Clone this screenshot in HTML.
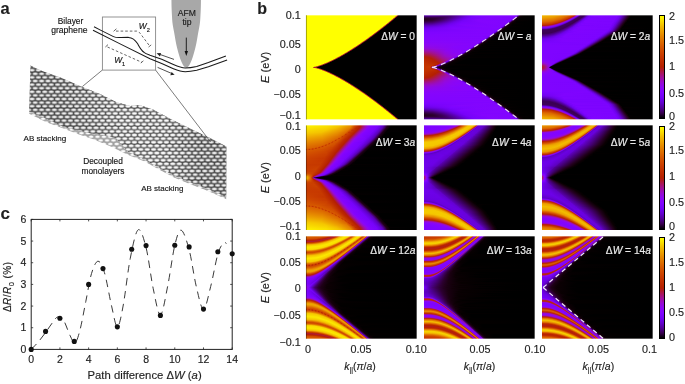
<!DOCTYPE html>
<html><head><meta charset="utf-8"><style>
html,body{margin:0;padding:0;background:#fff;}
body{width:685px;height:384px;overflow:hidden;position:relative;font-family:"Liberation Sans", sans-serif;}
.hm{position:absolute;}
.hm i{display:block;height:1px;}
.cb{position:absolute;width:6.7px;box-sizing:border-box;border:0.8px solid #000;}
svg{position:absolute;left:0;top:0;will-change:transform;}
svg text{stroke:#1e1e1e;stroke-width:0.15px;}
svg text.w{stroke:#e8e8e8;stroke-width:0.2px;}
</style></head><body>
<div class="hm" style="left:306px;top:15px;width:111px;height:105px"><i style="background:linear-gradient(90deg,#ffff55 0.5px,#ffff55 89.5px,#f6e659 90.5px,#ca6770 91.5px,#695859 92.5px,#555555 93.5px,#555555 109.5px,#8e8e8e 110.5px)"></i><i style="background:linear-gradient(90deg,#ffff00 0.5px,#ffff00 88.5px,#e5b30d 89.5px,#a5321f 90.5px,#270609 91.5px,#000000 92.5px,#000000 109.5px,#555555 110.5px)"></i><i style="background:linear-gradient(90deg,#ffff00 0.5px,#ffff00 87.5px,#e5b30d 88.5px,#9c1823 89.5px,#140304 90.5px,#000000 91.5px,#000000 109.5px,#555555 110.5px)"></i><i style="background:linear-gradient(90deg,#ffff00 0.5px,#ffff00 86.5px,#ca671b 87.5px,#75121b 88.5px,#000000 89.5px,#000000 109.5px,#555555 110.5px)"></i><i style="background:linear-gradient(90deg,#ffff00 0.5px,#ffff00 84.5px,#f6e604 85.5px,#ca671b 86.5px,#620f16 87.5px,#000000 88.5px,#000000 109.5px,#555555 110.5px)"></i><i style="background:linear-gradient(90deg,#ffff00 0.5px,#ffff00 83.5px,#f6e604 84.5px,#b93523 85.5px,#3b090d 86.5px,#000000 87.5px,#000000 109.5px,#555555 110.5px)"></i><i style="background:linear-gradient(90deg,#ffff00 0.5px,#ffff00 82.5px,#e5b30d 83.5px,#9c1823 84.5px,#270609 85.5px,#000000 86.5px,#000000 109.5px,#555555 110.5px)"></i><i style="background:linear-gradient(90deg,#ffff00 0.5px,#ffff00 81.5px,#dc9a12 82.5px,#89151f 83.5px,#140304 84.5px,#000000 85.5px,#000000 109.5px,#555555 110.5px)"></i><i style="background:linear-gradient(90deg,#ffff00 0.5px,#ffff00 80.5px,#ca671b 81.5px,#75121b 82.5px,#000000 83.5px,#000000 109.5px,#555555 110.5px)"></i><i style="background:linear-gradient(90deg,#ffff00 0.5px,#ffff00 78.5px,#f6e604 79.5px,#b93523 80.5px,#3b090d 81.5px,#000000 82.5px,#000000 109.5px,#555555 110.5px)"></i><i style="background:linear-gradient(90deg,#ffff00 0.5px,#ffff00 77.5px,#e5b30d 78.5px,#a5321f 79.5px,#270609 80.5px,#000000 81.5px,#000000 109.5px,#555555 110.5px)"></i><i style="background:linear-gradient(90deg,#ffff00 0.5px,#ffff00 76.5px,#d38116 77.5px,#89151f 78.5px,#140304 79.5px,#000000 80.5px,#000000 109.5px,#555555 110.5px)"></i><i style="background:linear-gradient(90deg,#ffff00 0.5px,#ffff00 74.5px,#f6e604 75.5px,#ca671b 76.5px,#620f16 77.5px,#000000 78.5px,#000000 109.5px,#555555 110.5px)"></i><i style="background:linear-gradient(90deg,#ffff00 0.5px,#ffff00 73.5px,#edcc09 74.5px,#b93523 75.5px,#3b090d 76.5px,#000000 77.5px,#000000 109.5px,#555555 110.5px)"></i><i style="background:linear-gradient(90deg,#ffff00 0.5px,#ffff00 72.5px,#e5b30d 73.5px,#9c1823 74.5px,#140304 75.5px,#000000 76.5px,#000000 109.5px,#555555 110.5px)"></i><i style="background:linear-gradient(90deg,#ffff00 0.5px,#ffff00 71.5px,#ca671b 72.5px,#75121b 73.5px,#000000 74.5px,#000000 109.5px,#555555 110.5px)"></i><i style="background:linear-gradient(90deg,#ffff00 0.5px,#ffff00 69.5px,#f6e604 70.5px,#b93523 71.5px,#4e0c12 72.5px,#000000 73.5px,#000000 109.5px,#555555 110.5px)"></i><i style="background:linear-gradient(90deg,#ffff00 0.5px,#ffff00 68.5px,#e5b30d 69.5px,#9c1823 70.5px,#270609 71.5px,#000000 72.5px,#000000 109.5px,#555555 110.5px)"></i><i style="background:linear-gradient(90deg,#ffff00 0.5px,#ffff00 67.5px,#ca671b 68.5px,#75121b 69.5px,#140304 70.5px,#000000 71.5px,#000000 109.5px,#555555 110.5px)"></i><i style="background:linear-gradient(90deg,#ffff00 0.5px,#ffff00 65.5px,#f6e604 66.5px,#b93523 67.5px,#4e0c12 68.5px,#000000 69.5px,#000000 109.5px,#555555 110.5px)"></i><i style="background:linear-gradient(90deg,#ffff00 0.5px,#ffff00 64.5px,#e5b30d 65.5px,#9c1823 66.5px,#270609 67.5px,#000000 68.5px,#000000 109.5px,#555555 110.5px)"></i><i style="background:linear-gradient(90deg,#ffff00 0.5px,#ffff00 62.5px,#f6e604 63.5px,#ca671b 64.5px,#75121b 65.5px,#140304 66.5px,#000000 67.5px,#000000 109.5px,#555555 110.5px)"></i><i style="background:linear-gradient(90deg,#ffff00 0.5px,#ffff00 61.5px,#edcc09 62.5px,#b93523 63.5px,#3b090d 64.5px,#000000 65.5px,#000000 109.5px,#555555 110.5px)"></i><i style="background:linear-gradient(90deg,#ffff00 0.5px,#ffff00 60.5px,#dc9a12 61.5px,#9c1823 62.5px,#140304 63.5px,#000000 64.5px,#000000 109.5px,#555555 110.5px)"></i><i style="background:linear-gradient(90deg,#ffff00 0.5px,#ffff00 58.5px,#f6e604 59.5px,#c14e1f 60.5px,#620f16 61.5px,#000000 62.5px,#000000 109.5px,#555555 110.5px)"></i><i style="background:linear-gradient(90deg,#ffff00 0.5px,#ffff00 57.5px,#e5b30d 58.5px,#a5321f 59.5px,#3b090d 60.5px,#000000 61.5px,#000000 109.5px,#555555 110.5px)"></i><i style="background:linear-gradient(90deg,#ffff00 0.5px,#ffff00 55.5px,#f6e604 56.5px,#ca671b 57.5px,#75121b 58.5px,#140304 59.5px,#000000 60.5px,#000000 109.5px,#555555 110.5px)"></i><i style="background:linear-gradient(90deg,#ffff00 0.5px,#ffff00 54.5px,#e5b30d 55.5px,#a5321f 56.5px,#3b090d 57.5px,#000000 58.5px,#000000 109.5px,#555555 110.5px)"></i><i style="background:linear-gradient(90deg,#ffff00 0.5px,#ffff00 53.5px,#d38116 54.5px,#89151f 55.5px,#140304 56.5px,#000000 57.5px,#000000 109.5px,#555555 110.5px)"></i><i style="background:linear-gradient(90deg,#ffff00 0.5px,#ffff00 51.5px,#edcc09 52.5px,#b93523 53.5px,#4e0c12 54.5px,#000000 55.5px,#000000 109.5px,#555555 110.5px)"></i><i style="background:linear-gradient(90deg,#ffff00 0.5px,#ffff00 50.5px,#d38116 51.5px,#89151f 52.5px,#140304 53.5px,#000000 54.5px,#000000 109.5px,#555555 110.5px)"></i><i style="background:linear-gradient(90deg,#ffff00 0.5px,#ffff00 48.5px,#edcc09 49.5px,#b93523 50.5px,#4e0c12 51.5px,#000000 52.5px,#000000 109.5px,#555555 110.5px)"></i><i style="background:linear-gradient(90deg,#ffff00 0.5px,#ffff00 46.5px,#f6e604 47.5px,#ca671b 48.5px,#89151f 49.5px,#140304 50.5px,#000000 51.5px,#000000 109.5px,#555555 110.5px)"></i><i style="background:linear-gradient(90deg,#ffff00 0.5px,#ffff00 45.5px,#e5b30d 46.5px,#a5321f 47.5px,#4e0c12 48.5px,#000000 49.5px,#000000 109.5px,#555555 110.5px)"></i><i style="background:linear-gradient(90deg,#ffff00 0.5px,#ffff00 43.5px,#f6e604 44.5px,#ca671b 45.5px,#75121b 46.5px,#140304 47.5px,#000000 48.5px,#000000 109.5px,#555555 110.5px)"></i><i style="background:linear-gradient(90deg,#ffff00 0.5px,#ffff00 42.5px,#dc9a12 43.5px,#9c1823 44.5px,#3b090d 45.5px,#000000 46.5px,#000000 109.5px,#555555 110.5px)"></i><i style="background:linear-gradient(90deg,#ffff00 0.5px,#ffff00 40.5px,#edcc09 41.5px,#b93523 42.5px,#620f16 43.5px,#000000 44.5px,#000000 109.5px,#555555 110.5px)"></i><i style="background:linear-gradient(90deg,#ffff00 0.5px,#ffff00 38.5px,#f6e604 39.5px,#d38116 40.5px,#89151f 41.5px,#140304 42.5px,#000000 43.5px,#000000 109.5px,#555555 110.5px)"></i><i style="background:linear-gradient(90deg,#ffff00 0.5px,#ffff00 37.5px,#dc9a12 38.5px,#9c1823 39.5px,#3b090d 40.5px,#000000 41.5px,#000000 109.5px,#555555 110.5px)"></i><i style="background:linear-gradient(90deg,#ffff00 0.5px,#ffff00 35.5px,#edcc09 36.5px,#b93523 37.5px,#620f16 38.5px,#000000 39.5px,#000000 109.5px,#555555 110.5px)"></i><i style="background:linear-gradient(90deg,#ffff00 0.5px,#ffff00 33.5px,#f6e604 34.5px,#c14e1f 35.5px,#75121b 36.5px,#140304 37.5px,#000000 38.5px,#000000 109.5px,#555555 110.5px)"></i><i style="background:linear-gradient(90deg,#ffff00 0.5px,#ffff00 31.5px,#f6e604 32.5px,#d38116 33.5px,#89151f 34.5px,#270609 35.5px,#000000 36.5px,#000000 109.5px,#555555 110.5px)"></i><i style="background:linear-gradient(90deg,#ffff00 0.5px,#ffff00 29.5px,#f6e604 30.5px,#d38116 31.5px,#9c1823 32.5px,#000000 34.5px,#000000 109.5px,#555555 110.5px)"></i><i style="background:linear-gradient(90deg,#ffff00 0.5px,#ffff00 28.5px,#dc9a12 29.5px,#a5321f 30.5px,#4e0c12 31.5px,#000000 32.5px,#000000 109.5px,#555555 110.5px)"></i><i style="background:linear-gradient(90deg,#ffff00 0.5px,#ffff00 26.5px,#dc9a12 27.5px,#a5321f 28.5px,#4e0c12 29.5px,#000000 30.5px,#000000 109.5px,#555555 110.5px)"></i><i style="background:linear-gradient(90deg,#ffff00 0.5px,#ffff00 24.5px,#dc9a12 25.5px,#a5321f 26.5px,#4e0c12 27.5px,#000000 28.5px,#000000 109.5px,#555555 110.5px)"></i><i style="background:linear-gradient(90deg,#ffff00 0.5px,#ffff00 21.5px,#f6e604 22.5px,#d38116 23.5px,#9c1823 24.5px,#000000 26.5px,#000000 109.5px,#555555 110.5px)"></i><i style="background:linear-gradient(90deg,#ffff00 0.5px,#ffff00 19.5px,#edcc09 20.5px,#d38116 21.5px,#9c1823 22.5px,#000000 24.5px,#000000 109.5px,#555555 110.5px)"></i><i style="background:linear-gradient(90deg,#ffff00 0.5px,#ffff00 17.5px,#dc9a12 18.5px,#c14e1f 19.5px,#89151f 20.5px,#270609 21.5px,#000000 22.5px,#000000 109.5px,#555555 110.5px)"></i><i style="background:linear-gradient(90deg,#ffff00 0.5px,#ffff00 14.5px,#edcc09 15.5px,#d38116 16.5px,#9c1823 17.5px,#620f16 18.5px,#140304 19.5px,#000000 20.5px,#000000 109.5px,#555555 110.5px)"></i><i style="background:linear-gradient(90deg,#ffff00 0.5px,#ffff00 11.5px,#edcc09 12.5px,#b93523 14.5px,#75121b 15.5px,#000000 17.5px,#000000 109.5px,#555555 110.5px)"></i><i style="background:linear-gradient(90deg,#ffff00 0.5px,#ffff00 7.5px,#edcc09 8.5px,#e5b30d 9.5px,#ca671b 10.5px,#b93523 11.5px,#75121b 12.5px,#000000 14.5px,#000000 109.5px,#555555 110.5px)"></i><i style="background:linear-gradient(90deg,#ffff00 0.5px,#ffff00 6.5px,#ca671b 7.5px,#b01b28 8.5px,#b01b28 9.5px,#89151f 10.5px,#270609 11.5px,#000000 12.5px,#000000 109.5px,#555555 110.5px)"></i><i style="background:linear-gradient(90deg,#ffff00 0.5px,#ffff00 8.5px,#f6e604 9.5px,#e5b30d 10.5px,#ca671b 11.5px,#b93523 12.5px,#75121b 13.5px,#000000 15.5px,#000000 109.5px,#555555 110.5px)"></i><i style="background:linear-gradient(90deg,#ffff00 0.5px,#ffff00 12.5px,#edcc09 13.5px,#b93523 15.5px,#620f16 16.5px,#270609 17.5px,#000000 18.5px,#000000 109.5px,#555555 110.5px)"></i><i style="background:linear-gradient(90deg,#ffff00 0.5px,#ffff00 15.5px,#ca671b 17.5px,#9c1823 18.5px,#000000 20.5px,#000000 109.5px,#555555 110.5px)"></i><i style="background:linear-gradient(90deg,#ffff00 0.5px,#ffff00 17.5px,#f6e604 18.5px,#dc9a12 19.5px,#b93523 20.5px,#620f16 21.5px,#140304 22.5px,#000000 23.5px,#000000 109.5px,#555555 110.5px)"></i><i style="background:linear-gradient(90deg,#ffff00 0.5px,#ffff00 20.5px,#e5b30d 21.5px,#c14e1f 22.5px,#89151f 23.5px,#270609 24.5px,#000000 25.5px,#000000 109.5px,#555555 110.5px)"></i><i style="background:linear-gradient(90deg,#ffff00 0.5px,#ffff00 22.5px,#edcc09 23.5px,#c14e1f 24.5px,#89151f 25.5px,#270609 26.5px,#000000 27.5px,#000000 109.5px,#555555 110.5px)"></i><i style="background:linear-gradient(90deg,#ffff00 0.5px,#ffff00 24.5px,#edcc09 25.5px,#ca671b 26.5px,#89151f 27.5px,#270609 28.5px,#000000 29.5px,#000000 109.5px,#555555 110.5px)"></i><i style="background:linear-gradient(90deg,#ffff00 0.5px,#ffff00 26.5px,#f6e604 27.5px,#ca671b 28.5px,#89151f 29.5px,#270609 30.5px,#000000 31.5px,#000000 109.5px,#555555 110.5px)"></i><i style="background:linear-gradient(90deg,#ffff00 0.5px,#ffff00 28.5px,#edcc09 29.5px,#c14e1f 30.5px,#89151f 31.5px,#270609 32.5px,#000000 33.5px,#000000 109.5px,#555555 110.5px)"></i><i style="background:linear-gradient(90deg,#ffff00 0.5px,#ffff00 30.5px,#edcc09 31.5px,#c14e1f 32.5px,#75121b 33.5px,#140304 34.5px,#000000 35.5px,#000000 109.5px,#555555 110.5px)"></i><i style="background:linear-gradient(90deg,#ffff00 0.5px,#ffff00 32.5px,#edcc09 33.5px,#b93523 34.5px,#620f16 35.5px,#140304 36.5px,#000000 37.5px,#000000 109.5px,#555555 110.5px)"></i><i style="background:linear-gradient(90deg,#ffff00 0.5px,#ffff00 34.5px,#dc9a12 35.5px,#a5321f 36.5px,#4e0c12 37.5px,#000000 38.5px,#000000 109.5px,#555555 110.5px)"></i><i style="background:linear-gradient(90deg,#ffff00 0.5px,#ffff00 35.5px,#f6e604 36.5px,#d38116 37.5px,#9c1823 38.5px,#270609 39.5px,#000000 40.5px,#000000 109.5px,#555555 110.5px)"></i><i style="background:linear-gradient(90deg,#ffff00 0.5px,#ffff00 37.5px,#f6e604 38.5px,#c14e1f 39.5px,#75121b 40.5px,#140304 41.5px,#000000 42.5px,#000000 109.5px,#555555 110.5px)"></i><i style="background:linear-gradient(90deg,#ffff00 0.5px,#ffff00 39.5px,#e5b30d 40.5px,#b93523 41.5px,#4e0c12 42.5px,#000000 43.5px,#000000 109.5px,#555555 110.5px)"></i><i style="background:linear-gradient(90deg,#ffff00 0.5px,#ffff00 41.5px,#d38116 42.5px,#9c1823 43.5px,#270609 44.5px,#000000 45.5px,#000000 109.5px,#555555 110.5px)"></i><i style="background:linear-gradient(90deg,#ffff00 0.5px,#ffff00 42.5px,#f6e604 43.5px,#c14e1f 44.5px,#620f16 45.5px,#140304 46.5px,#000000 47.5px,#000000 109.5px,#555555 110.5px)"></i><i style="background:linear-gradient(90deg,#ffff00 0.5px,#ffff00 44.5px,#dc9a12 45.5px,#a5321f 46.5px,#3b090d 47.5px,#000000 48.5px,#000000 109.5px,#555555 110.5px)"></i><i style="background:linear-gradient(90deg,#ffff00 0.5px,#ffff00 45.5px,#f6e604 46.5px,#ca671b 47.5px,#75121b 48.5px,#140304 49.5px,#000000 50.5px,#000000 109.5px,#555555 110.5px)"></i><i style="background:linear-gradient(90deg,#ffff00 0.5px,#ffff00 47.5px,#e5b30d 48.5px,#a5321f 49.5px,#4e0c12 50.5px,#000000 51.5px,#000000 109.5px,#555555 110.5px)"></i><i style="background:linear-gradient(90deg,#ffff00 0.5px,#ffff00 48.5px,#f6e604 49.5px,#ca671b 50.5px,#89151f 51.5px,#140304 52.5px,#000000 53.5px,#000000 109.5px,#555555 110.5px)"></i><i style="background:linear-gradient(90deg,#ffff00 0.5px,#ffff00 50.5px,#e5b30d 51.5px,#b93523 52.5px,#4e0c12 53.5px,#000000 54.5px,#000000 109.5px,#555555 110.5px)"></i><i style="background:linear-gradient(90deg,#ffff00 0.5px,#ffff00 51.5px,#f6e604 52.5px,#ca671b 53.5px,#75121b 54.5px,#140304 55.5px,#000000 56.5px,#000000 109.5px,#555555 110.5px)"></i><i style="background:linear-gradient(90deg,#ffff00 0.5px,#ffff00 53.5px,#e5b30d 54.5px,#a5321f 55.5px,#3b090d 56.5px,#000000 57.5px,#000000 109.5px,#555555 110.5px)"></i><i style="background:linear-gradient(90deg,#ffff00 0.5px,#ffff00 54.5px,#f6e604 55.5px,#ca671b 56.5px,#75121b 57.5px,#140304 58.5px,#000000 59.5px,#000000 109.5px,#555555 110.5px)"></i><i style="background:linear-gradient(90deg,#ffff00 0.5px,#ffff00 56.5px,#e5b30d 57.5px,#a5321f 58.5px,#3b090d 59.5px,#000000 60.5px,#000000 109.5px,#555555 110.5px)"></i><i style="background:linear-gradient(90deg,#ffff00 0.5px,#ffff00 57.5px,#f6e604 58.5px,#c14e1f 59.5px,#620f16 60.5px,#000000 61.5px,#000000 109.5px,#555555 110.5px)"></i><i style="background:linear-gradient(90deg,#ffff00 0.5px,#ffff00 59.5px,#dc9a12 60.5px,#9c1823 61.5px,#140304 62.5px,#000000 63.5px,#000000 109.5px,#555555 110.5px)"></i><i style="background:linear-gradient(90deg,#ffff00 0.5px,#ffff00 60.5px,#edcc09 61.5px,#b93523 62.5px,#4e0c12 63.5px,#000000 64.5px,#000000 109.5px,#555555 110.5px)"></i><i style="background:linear-gradient(90deg,#ffff00 0.5px,#ffff00 62.5px,#ca671b 63.5px,#75121b 64.5px,#140304 65.5px,#000000 66.5px,#000000 109.5px,#555555 110.5px)"></i><i style="background:linear-gradient(90deg,#ffff00 0.5px,#ffff00 63.5px,#e5b30d 64.5px,#9c1823 65.5px,#270609 66.5px,#000000 67.5px,#000000 109.5px,#555555 110.5px)"></i><i style="background:linear-gradient(90deg,#ffff00 0.5px,#ffff00 64.5px,#f6e604 65.5px,#c14e1f 66.5px,#4e0c12 67.5px,#000000 68.5px,#000000 109.5px,#555555 110.5px)"></i><i style="background:linear-gradient(90deg,#ffff00 0.5px,#ffff00 66.5px,#d38116 67.5px,#89151f 68.5px,#140304 69.5px,#000000 70.5px,#000000 109.5px,#555555 110.5px)"></i><i style="background:linear-gradient(90deg,#ffff00 0.5px,#ffff00 67.5px,#e5b30d 68.5px,#a5321f 69.5px,#3b090d 70.5px,#000000 71.5px,#000000 109.5px,#555555 110.5px)"></i><i style="background:linear-gradient(90deg,#ffff00 0.5px,#ffff00 68.5px,#f6e604 69.5px,#c14e1f 70.5px,#4e0c12 71.5px,#000000 72.5px,#000000 109.5px,#555555 110.5px)"></i><i style="background:linear-gradient(90deg,#ffff00 0.5px,#ffff00 70.5px,#d38116 71.5px,#75121b 72.5px,#140304 73.5px,#000000 74.5px,#000000 109.5px,#555555 110.5px)"></i><i style="background:linear-gradient(90deg,#ffff00 0.5px,#ffff00 71.5px,#e5b30d 72.5px,#9c1823 73.5px,#270609 74.5px,#000000 75.5px,#000000 109.5px,#555555 110.5px)"></i><i style="background:linear-gradient(90deg,#ffff00 0.5px,#ffff00 72.5px,#f6e604 73.5px,#b93523 74.5px,#4e0c12 75.5px,#000000 76.5px,#000000 109.5px,#555555 110.5px)"></i><i style="background:linear-gradient(90deg,#ffff00 0.5px,#ffff00 74.5px,#ca671b 75.5px,#75121b 76.5px,#000000 77.5px,#000000 109.5px,#555555 110.5px)"></i><i style="background:linear-gradient(90deg,#ffff00 0.5px,#ffff00 75.5px,#e5b30d 76.5px,#9c1823 77.5px,#140304 78.5px,#000000 79.5px,#000000 109.5px,#555555 110.5px)"></i><i style="background:linear-gradient(90deg,#ffff00 0.5px,#ffff00 76.5px,#edcc09 77.5px,#a5321f 78.5px,#3b090d 79.5px,#000000 80.5px,#000000 109.5px,#555555 110.5px)"></i><i style="background:linear-gradient(90deg,#ffff00 0.5px,#ffff00 77.5px,#f6e604 78.5px,#c14e1f 79.5px,#620f16 80.5px,#000000 81.5px,#000000 109.5px,#555555 110.5px)"></i><i style="background:linear-gradient(90deg,#ffff00 0.5px,#ffff00 79.5px,#ca671b 80.5px,#75121b 81.5px,#140304 82.5px,#000000 83.5px,#000000 109.5px,#555555 110.5px)"></i><i style="background:linear-gradient(90deg,#ffff00 0.5px,#ffff00 80.5px,#e5b30d 81.5px,#9c1823 82.5px,#140304 83.5px,#000000 84.5px,#000000 109.5px,#555555 110.5px)"></i><i style="background:linear-gradient(90deg,#ffff00 0.5px,#ffff00 81.5px,#edcc09 82.5px,#a5321f 83.5px,#3b090d 84.5px,#000000 85.5px,#000000 109.5px,#555555 110.5px)"></i><i style="background:linear-gradient(90deg,#ffff00 0.5px,#ffff00 82.5px,#f6e604 83.5px,#c14e1f 84.5px,#4e0c12 85.5px,#000000 86.5px,#000000 109.5px,#555555 110.5px)"></i><i style="background:linear-gradient(90deg,#ffff00 0.5px,#ffff00 84.5px,#ca671b 85.5px,#75121b 86.5px,#000000 87.5px,#000000 109.5px,#555555 110.5px)"></i><i style="background:linear-gradient(90deg,#ffff00 0.5px,#ffff00 85.5px,#dc9a12 86.5px,#9c1823 87.5px,#140304 88.5px,#000000 89.5px,#000000 109.5px,#555555 110.5px)"></i><i style="background:linear-gradient(90deg,#ffff00 0.5px,#ffff00 86.5px,#e5b30d 87.5px,#a5321f 88.5px,#270609 89.5px,#000000 90.5px,#000000 109.5px,#555555 110.5px)"></i><i style="background:linear-gradient(90deg,#ffff00 0.5px,#ffff00 87.5px,#f6e604 88.5px,#b93523 89.5px,#3b090d 90.5px,#000000 91.5px,#000000 109.5px,#555555 110.5px)"></i><i style="background:linear-gradient(90deg,#ffff00 0.5px,#ffff00 88.5px,#f6e604 89.5px,#ca671b 90.5px,#620f16 91.5px,#000000 92.5px,#000000 109.5px,#555555 110.5px)"></i><i style="background:linear-gradient(90deg,#ffffaa 0.5px,#ffffaa 90.5px,#e5b3b7 91.5px,#beadae 92.5px,#aaaaaa 93.5px,#aaaaaa 109.5px,#c6c6c6 110.5px)"></i></div>
<div class="hm" style="left:424px;top:15px;width:111px;height:105px"><i style="background:linear-gradient(90deg,#9055ca 0.5px,#8b55ba 14.5px,#8655aa 25.5px,#8c55bd 32.5px,#a056f5 46.5px,#aa58ff 57.5px,#ab58ff 91.5px,#a757fe 92.5px,#9d56ed 93.5px,#74557a 95.5px,#665560 96.5px,#595556 98.5px,#555555 109.5px,#8e8e8e 110.5px)"></i><i style="background:linear-gradient(90deg,#4a0081 0.5px,#420068 20.5px,#48007a 26.5px,#6e02ea 43.5px,#7c03fe 51.5px,#8305fe 76.5px,#8104ff 90.5px,#7b03fc 91.5px,#6901dc 92.5px,#2e0036 94.5px,#180010 95.5px,#0d0004 96.5px,#010000 100.5px,#000000 109.5px,#555555 110.5px)"></i><i style="background:linear-gradient(90deg,#370049 0.5px,#37004a 15.5px,#410065 22.5px,#6b01e5 40.5px,#7903fc 47.5px,#8305fe 66.5px,#8004ff 89.5px,#7703f7 90.5px,#6201c8 91.5px,#43006c 92.5px,#260027 93.5px,#14000b 94.5px,#050001 96.5px,#000000 109.5px,#555555 110.5px)"></i><i style="background:linear-gradient(90deg,#270025 0.5px,#2e0033 11.5px,#3c0058 19.5px,#6901e0 37.5px,#7703fa 44.5px,#8305fe 62.5px,#8204fe 87.5px,#7e04fe 88.5px,#7202ef 89.5px,#5901af 90.5px,#390053 91.5px,#20001b 92.5px,#110007 93.5px,#020000 96.5px,#000000 109.5px,#555555 110.5px)"></i><i style="background:linear-gradient(90deg,#23001f 0.5px,#2c002f 9.5px,#3e005e 18.5px,#6701db 34.5px,#7602f8 41.5px,#8205fe 54.5px,#8104ff 86.5px,#7b03fc 87.5px,#6c02e2 88.5px,#31003d 90.5px,#1a0013 91.5px,#0e0005 92.5px,#010000 96.5px,#000000 109.5px,#555555 110.5px)"></i><i style="background:linear-gradient(90deg,#290029 0.5px,#300038 8.5px,#400063 16.5px,#6801dd 32.5px,#7603f9 39.5px,#8305fe 54.5px,#8004ff 85.5px,#7803f9 86.5px,#6401ce 87.5px,#450074 88.5px,#29002b 89.5px,#16000d 90.5px,#060001 92.5px,#000000 109.5px,#555555 110.5px)"></i><i style="background:linear-gradient(90deg,#32003d 0.5px,#39004e 8.5px,#4b0083 17.5px,#6a01e0 30.5px,#7703f9 37.5px,#8305fe 56.5px,#8205fe 83.5px,#7e04fe 84.5px,#7302f1 85.5px,#5b01b5 86.5px,#3b0059 87.5px,#22001e 88.5px,#120008 89.5px,#020000 92.5px,#000000 109.5px,#555555 110.5px)"></i><i style="background:linear-gradient(90deg,#3c0058 0.5px,#43006a 8.5px,#5500a5 18.5px,#6d02e9 29.5px,#7a03fd 37.5px,#8305fe 61.5px,#8104ff 82.5px,#7c03fd 83.5px,#6d02e4 84.5px,#510097 85.5px,#320040 86.5px,#1b0014 87.5px,#0e0006 88.5px,#010000 92.5px,#000000 109.5px,#555555 110.5px)"></i><i style="background:linear-gradient(90deg,#470078 0.5px,#4d008a 8.5px,#6f02ec 27.5px,#7c03fe 36.5px,#8305fe 67.5px,#8004ff 81.5px,#7803f9 82.5px,#6401d0 83.5px,#460077 84.5px,#2a002d 85.5px,#16000d 86.5px,#060001 88.5px,#000000 103.5px,#000000 109.5px,#555555 110.5px)"></i><i style="background:linear-gradient(90deg,#520099 0.5px,#5600a9 8.5px,#7202f3 26.5px,#7f04ff 37.5px,#8205fe 79.5px,#7e04fe 80.5px,#7302f1 81.5px,#5b01b5 82.5px,#3c0059 83.5px,#22001f 84.5px,#120009 85.5px,#020000 88.5px,#000000 109.5px,#555555 110.5px)"></i><i style="background:linear-gradient(90deg,#5b01b7 0.5px,#6101ca 10.5px,#7602f8 25.5px,#8204fe 41.5px,#8104ff 78.5px,#7c03fd 79.5px,#6c02e2 80.5px,#320040 82.5px,#1c0014 83.5px,#0e0006 84.5px,#010000 88.5px,#000000 109.5px,#555555 110.5px)"></i><i style="background:linear-gradient(90deg,#6401d0 0.5px,#6b01e3 12.5px,#7a03fd 26.5px,#8305fe 55.5px,#8004ff 77.5px,#7703f8 78.5px,#6301cd 79.5px,#450074 80.5px,#29002c 81.5px,#16000d 82.5px,#060001 84.5px,#000000 99.5px,#000000 109.5px,#555555 110.5px)"></i><i style="background:linear-gradient(90deg,#6b01e3 0.5px,#7e04ff 28.5px,#8205fe 75.5px,#7e04fe 76.5px,#7202ef 77.5px,#5901af 78.5px,#3a0055 79.5px,#21001d 80.5px,#120008 81.5px,#020000 84.5px,#000000 109.5px,#555555 110.5px)"></i><i style="background:linear-gradient(90deg,#7102f0 0.5px,#8104ff 30.5px,#8104ff 74.5px,#7b03fc 75.5px,#6a02de 76.5px,#30003b 78.5px,#1b0013 79.5px,#0e0005 80.5px,#010000 84.5px,#000000 109.5px,#555555 110.5px)"></i><i style="background:linear-gradient(90deg,#7602f8 0.5px,#8305fe 42.5px,#8004ff 73.5px,#7603f6 74.5px,#6001c4 75.5px,#42006b 76.5px,#270028 77.5px,#15000c 78.5px,#060001 80.5px,#000000 97.5px,#000000 109.5px,#555555 110.5px)"></i><i style="background:linear-gradient(90deg,#7903fc 0.5px,#8305fe 59.5px,#8204fe 71.5px,#7d04fd 72.5px,#6f02e9 73.5px,#5501a4 74.5px,#37004c 75.5px,#1f0019 76.5px,#110007 77.5px,#020000 80.5px,#000000 109.5px,#555555 110.5px)"></i><i style="background:linear-gradient(90deg,#7c03fe 0.5px,#8305fe 69.5px,#7903fa 71.5px,#6601d4 72.5px,#49007f 73.5px,#2c0033 74.5px,#180010 75.5px,#0d0005 76.5px,#010000 80.5px,#000000 109.5px,#555555 110.5px)"></i><i style="background:linear-gradient(90deg,#7f04ff 0.5px,#8305fe 68.5px,#7f04fe 69.5px,#7302f0 70.5px,#5b01b6 71.5px,#3d005c 72.5px,#230021 73.5px,#13000a 74.5px,#030000 77.5px,#000000 109.5px,#555555 110.5px)"></i><i style="background:linear-gradient(90deg,#8004ff 0.5px,#8204fe 67.5px,#7b03fc 68.5px,#6b02df 69.5px,#31003f 71.5px,#1c0014 72.5px,#0f0006 73.5px,#010000 77.5px,#000000 109.5px,#555555 110.5px)"></i><i style="background:linear-gradient(90deg,#8204ff 0.5px,#8305fe 65.5px,#8004fe 66.5px,#7603f5 67.5px,#6001c3 68.5px,#42006b 69.5px,#270028 70.5px,#16000c 71.5px,#060001 73.5px,#000000 88.5px,#000000 109.5px,#555555 110.5px)"></i><i style="background:linear-gradient(90deg,#8205fe 0.5px,#8205fe 64.5px,#7c04fd 65.5px,#6e02e6 66.5px,#53009e 67.5px,#360049 68.5px,#1f0019 69.5px,#110007 70.5px,#020000 73.5px,#000000 109.5px,#555555 110.5px)"></i><i style="background:linear-gradient(90deg,#8305fe 0.5px,#8004fe 63.5px,#7703f8 64.5px,#6301cc 65.5px,#460076 66.5px,#2a002f 67.5px,#18000f 68.5px,#070001 70.5px,#000000 81.5px,#000000 109.5px,#555555 110.5px)"></i><i style="background:linear-gradient(90deg,#8405fd 0.5px,#8305fe 61.5px,#7d04fd 62.5px,#7002ea 63.5px,#5701a8 64.5px,#390052 65.5px,#21001d 66.5px,#120009 67.5px,#030000 70.5px,#000000 109.5px,#555555 110.5px)"></i><i style="background:linear-gradient(90deg,#8505fd 0.5px,#8104fe 60.5px,#7903f9 61.5px,#6501d2 62.5px,#49007e 63.5px,#2d0034 64.5px,#190011 65.5px,#0e0005 66.5px,#010000 70.5px,#000000 109.5px,#555555 110.5px)"></i><i style="background:linear-gradient(90deg,#8505fc 0.5px,#8305fe 58.5px,#7e04fe 59.5px,#7102ed 60.5px,#5801ad 61.5px,#3b0057 62.5px,#23001f 63.5px,#13000a 64.5px,#030000 67.5px,#000000 109.5px,#555555 110.5px)"></i><i style="background:linear-gradient(90deg,#8605fb 0.5px,#8104fe 57.5px,#7903f9 58.5px,#6601d4 59.5px,#2e0037 61.5px,#1a0012 62.5px,#0e0005 63.5px,#010000 67.5px,#000000 109.5px,#555555 110.5px)"></i><i style="background:linear-gradient(90deg,#8706fa 0.5px,#8305fe 55.5px,#7e04fe 56.5px,#7102ed 57.5px,#5901af 58.5px,#3b0059 59.5px,#230021 60.5px,#14000a 61.5px,#030000 64.5px,#000000 109.5px,#555555 110.5px)"></i><i style="background:linear-gradient(90deg,#8806f8 0.5px,#8204fe 54.5px,#7903f9 55.5px,#6601d3 56.5px,#2e0037 58.5px,#1a0013 59.5px,#0e0006 60.5px,#010000 64.5px,#000000 109.5px,#555555 110.5px)"></i><i style="background:linear-gradient(90deg,#8a06f6 0.5px,#8405fd 52.5px,#7e04fd 53.5px,#7002eb 54.5px,#5801ac 55.5px,#3b0057 56.5px,#230020 57.5px,#13000a 58.5px,#030000 61.5px,#000000 109.5px,#555555 110.5px)"></i><i style="background:linear-gradient(90deg,#8c07f2 0.5px,#8505fd 45.5px,#8204fe 51.5px,#7803f8 52.5px,#6401cf 53.5px,#48007c 54.5px,#2d0035 55.5px,#1a0012 56.5px,#0e0005 57.5px,#010000 61.5px,#000000 109.5px,#555555 110.5px)"></i><i style="background:linear-gradient(90deg,#8e08ed 0.5px,#8405fd 39.5px,#8405fd 49.5px,#7d04fd 50.5px,#6f02e7 51.5px,#5501a4 52.5px,#380050 53.5px,#21001e 54.5px,#130009 55.5px,#030000 58.5px,#000000 109.5px,#555555 110.5px)"></i><i style="background:linear-gradient(90deg,#9008e6 0.5px,#8505fd 33.5px,#8505fc 47.5px,#8104fe 48.5px,#7603f5 49.5px,#6101c6 50.5px,#450072 51.5px,#2a002f 52.5px,#180010 53.5px,#070001 55.5px,#000000 64.5px,#000000 109.5px,#555555 110.5px)"></i><i style="background:linear-gradient(90deg,#9309dd 0.5px,#8605fc 30.5px,#8405fd 46.5px,#7c03fc 47.5px,#6b02df 48.5px,#350047 50.5px,#1f001a 51.5px,#120008 52.5px,#030000 55.5px,#000000 109.5px,#555555 110.5px)"></i><i style="background:linear-gradient(90deg,#960bd1 0.5px,#8f08ea 15.5px,#8605fb 31.5px,#8505fc 44.5px,#8004fe 45.5px,#7302f0 46.5px,#5c01b7 47.5px,#3f0063 48.5px,#270028 49.5px,#16000d 50.5px,#070001 52.5px,#000000 63.5px,#000000 109.5px,#555555 110.5px)"></i><i style="background:linear-gradient(90deg,#9a0cc1 0.5px,#950ad4 10.5px,#8a06f5 24.5px,#8305fd 43.5px,#7903f9 44.5px,#6601d2 45.5px,#2f003a 47.5px,#1c0015 48.5px,#100007 49.5px,#010000 53.5px,#000000 109.5px,#555555 110.5px)"></i><i style="background:linear-gradient(90deg,#9d0eaf 0.5px,#9a0cc0 8.5px,#8d07ef 22.5px,#8806fa 35.5px,#8505fc 41.5px,#7e04fc 42.5px,#6e02e5 43.5px,#5401a1 44.5px,#380051 45.5px,#22001f 46.5px,#14000a 47.5px,#030000 50.5px,#000000 109.5px,#555555 110.5px)"></i><i style="background:linear-gradient(90deg,#a11099 0.5px,#9e0eaa 7.5px,#9008e9 21.5px,#8906f8 32.5px,#8706fa 39.5px,#8204fd 40.5px,#7503f2 41.5px,#5e01bc 42.5px,#42006a 43.5px,#29002c 44.5px,#18000f 45.5px,#080002 47.5px,#000000 56.5px,#000000 109.5px,#555555 110.5px)"></i><i style="background:linear-gradient(90deg,#a51280 0.5px,#a21190 6.5px,#9209e0 20.5px,#8b07f4 29.5px,#8906f8 37.5px,#7a03f9 39.5px,#6601d2 40.5px,#30003c 42.5px,#1d0016 43.5px,#110007 44.5px,#020000 48.5px,#000000 109.5px,#555555 110.5px)"></i><i style="background:linear-gradient(90deg,#a81564 0.5px,#a61473 5.5px,#940ad9 20.5px,#8d07ef 27.5px,#8b07f5 35.5px,#7e04fc 37.5px,#6d02e2 38.5px,#53009d 39.5px,#37004e 40.5px,#22001e 41.5px,#14000a 42.5px,#040000 45.5px,#000000 109.5px,#555555 110.5px)"></i><i style="background:linear-gradient(90deg,#ac1847 0.5px,#aa1658 5.5px,#960bd1 20.5px,#8f08ea 27.5px,#8d07f0 33.5px,#8205fc 35.5px,#7302ee 36.5px,#5a01b3 37.5px,#3f0061 38.5px,#270028 39.5px,#17000e 40.5px,#080002 42.5px,#000000 52.5px,#000000 109.5px,#555555 110.5px)"></i><i style="background:linear-gradient(90deg,#b01b29 0.5px,#ad193d 5.5px,#a31289 13.5px,#980cc8 20.5px,#9209e1 26.5px,#8f08ea 31.5px,#8605fa 33.5px,#7803f5 34.5px,#6101c5 35.5px,#450074 36.5px,#2c0033 37.5px,#1b0013 38.5px,#100006 39.5px,#020000 43.5px,#000000 109.5px,#555555 110.5px)"></i><i style="background:linear-gradient(90deg,#b31e0c 0.5px,#b11d1b 4.5px,#ac1848 9.5px,#9d0ead 18.5px,#970bcf 23.5px,#9209e2 29.5px,#8906f5 31.5px,#7d04f8 32.5px,#6701d3 33.5px,#31003f 35.5px,#1e0018 36.5px,#120008 37.5px,#020000 41.5px,#000000 109.5px,#555555 110.5px)"></i><i style="background:linear-gradient(90deg,#b62200 0.5px,#b31f08 5.5px,#ac184b 11.5px,#a00fa0 18.5px,#990cc2 23.5px,#950ad5 27.5px,#8d07ee 29.5px,#8105f9 30.5px,#6c02de 31.5px,#36004a 33.5px,#21001d 34.5px,#14000b 35.5px,#040000 38.5px,#000000 109.5px,#555555 110.5px)"></i><i style="background:linear-gradient(90deg,#b92500 0.5px,#b41f05 7.5px,#a2118f 18.5px,#990cc4 25.5px,#9008e5 27.5px,#8405f6 28.5px,#7002e5 29.5px,#5501a2 30.5px,#3a0054 31.5px,#240023 32.5px,#16000d 33.5px,#080002 35.5px,#000000 45.5px,#000000 109.5px,#555555 110.5px)"></i><i style="background:linear-gradient(90deg,#bb2800 0.5px,#b52101 8.5px,#b21d15 10.5px,#a71472 17.5px,#9e0eac 23.5px,#9a0dbe 24.5px,#8806f2 26.5px,#7303ea 27.5px,#5801ab 28.5px,#3d005c 29.5px,#270027 30.5px,#17000f 31.5px,#080002 33.5px,#000000 42.5px,#000000 109.5px,#555555 110.5px)"></i><i style="background:linear-gradient(90deg,#bd2b00 0.5px,#b42003 10.5px,#a2118f 21.5px,#9f0fa6 22.5px,#8b07ec 24.5px,#7503eb 25.5px,#5a01b0 26.5px,#3e0061 27.5px,#28002a 28.5px,#190010 29.5px,#090002 31.5px,#000000 39.5px,#000000 109.5px,#555555 110.5px)"></i><i style="background:linear-gradient(90deg,#bf2d00 0.5px,#b52100 11.5px,#b21e12 13.5px,#aa1657 18.5px,#a7146c 19.5px,#a3118b 20.5px,#8c08e6 22.5px,#7603ea 23.5px,#5a01b1 24.5px,#3f0062 25.5px,#29002b 26.5px,#190011 27.5px,#090002 29.5px,#000000 37.5px,#000000 109.5px,#555555 110.5px)"></i><i style="background:linear-gradient(90deg,#c12f00 0.5px,#b52101 13.5px,#b21d18 15.5px,#ac1848 17.5px,#a61471 18.5px,#8d08e1 20.5px,#7503e6 21.5px,#5901ac 22.5px,#3d005f 23.5px,#28002a 24.5px,#190011 25.5px,#090002 27.5px,#000000 35.5px,#000000 109.5px,#555555 110.5px)"></i><i style="background:linear-gradient(90deg,#c23100 0.5px,#ba2700 11.5px,#b42005 14.5px,#b01b27 15.5px,#a9165e 16.5px,#9d0fa7 17.5px,#8a08e1 18.5px,#7103df 19.5px,#5401a0 20.5px,#3a0056 21.5px,#260027 22.5px,#180010 23.5px,#090002 25.5px,#000000 33.5px,#000000 109.5px,#555555 110.5px)"></i><i style="background:linear-gradient(90deg,#c33200 0.5px,#bf2d00 9.5px,#b72301 12.5px,#b21d1b 13.5px,#a81660 14.5px,#990db3 15.5px,#8306e4 16.5px,#6902d0 17.5px,#350049 19.5px,#230021 20.5px,#17000e 21.5px,#060001 24.5px,#000000 50.5px,#000000 109.5px,#555555 110.5px)"></i><i style="background:linear-gradient(90deg,#c33300 0.5px,#c23200 7.5px,#bc2a00 9.5px,#b72309 10.5px,#af1b34 11.5px,#8f0acf 13.5px,#7704e1 14.5px,#5c01b4 15.5px,#43006e 16.5px,#2e0038 17.5px,#1f0019 18.5px,#14000b 19.5px,#030000 23.5px,#000000 109.5px,#555555 110.5px)"></i><i style="background:linear-gradient(90deg,#c33300 0.5px,#c63700 5.5px,#c33300 6.5px,#b62318 7.5px,#a01288 9.5px,#8f0ac8 10.5px,#7a05e0 11.5px,#6302c2 12.5px,#36004c 14.5px,#260026 15.5px,#1a0012 16.5px,#0b0003 18.5px,#000000 25.5px,#000000 109.5px,#555555 110.5px)"></i><i style="background:linear-gradient(90deg,#c33300 0.5px,#c63700 5.5px,#c13000 6.5px,#a41472 7.5px,#8b07e7 8.5px,#7a04f1 9.5px,#6501d0 10.5px,#3c0057 12.5px,#2b002e 13.5px,#1e0017 14.5px,#0e0005 16.5px,#010000 22.5px,#000000 109.5px,#555555 110.5px)"></i><i style="background:linear-gradient(90deg,#c33300 0.5px,#c43400 6.5px,#bc2a03 7.5px,#b62216 8.5px,#ae1b41 9.5px,#8f0acb 11.5px,#7804e0 12.5px,#5f01bb 13.5px,#47007b 14.5px,#330042 15.5px,#230020 16.5px,#17000e 17.5px,#060001 20.5px,#000000 38.5px,#000000 109.5px,#555555 110.5px)"></i><i style="background:linear-gradient(90deg,#c33300 0.5px,#c33300 7.5px,#bb2800 10.5px,#b5210e 11.5px,#ac1943 12.5px,#9e1098 13.5px,#8a08da 14.5px,#7103dc 15.5px,#5601a3 16.5px,#3d005e 17.5px,#29002d 18.5px,#1b0014 19.5px,#0b0003 21.5px,#000000 28.5px,#000000 109.5px,#555555 110.5px)"></i><i style="background:linear-gradient(90deg,#c23200 0.5px,#bf2d00 9.5px,#b92500 12.5px,#b52106 13.5px,#af1b31 14.5px,#930bc9 16.5px,#7c04e7 17.5px,#6001bf 18.5px,#450075 19.5px,#2f0039 20.5px,#1e0019 21.5px,#13000a 22.5px,#030000 26.5px,#000000 109.5px,#555555 110.5px)"></i><i style="background:linear-gradient(90deg,#c13100 0.5px,#ba2600 11.5px,#b42003 14.5px,#b11d1a 15.5px,#ad1942 16.5px,#a5137c 17.5px,#970cc2 18.5px,#8206ea 19.5px,#6702cf 20.5px,#320042 22.5px,#21001c 23.5px,#14000b 24.5px,#050001 27.5px,#000000 87.5px,#000000 109.5px,#555555 110.5px)"></i><i style="background:linear-gradient(90deg,#c02f00 0.5px,#b42004 13.5px,#af1b2e 16.5px,#ad1942 17.5px,#a91660 18.5px,#a2118c 19.5px,#970cc6 20.5px,#8406ec 21.5px,#6b02d7 22.5px,#350047 24.5px,#22001e 25.5px,#15000c 26.5px,#050001 29.5px,#000000 94.5px,#000000 109.5px,#555555 110.5px)"></i><i style="background:linear-gradient(90deg,#bf2d00 0.5px,#b42002 11.5px,#a7146b 19.5px,#a41281 20.5px,#9f0fa3 21.5px,#950bd0 22.5px,#8406f0 23.5px,#6b02da 24.5px,#350048 26.5px,#22001e 27.5px,#15000b 28.5px,#040001 31.5px,#000000 109.5px,#555555 110.5px)"></i><i style="background:linear-gradient(90deg,#bd2a00 0.5px,#b52100 9.5px,#b21e14 11.5px,#a7146e 18.5px,#a2118f 21.5px,#a00fa0 22.5px,#9b0db9 23.5px,#9209dc 24.5px,#8305f3 25.5px,#6a02d9 26.5px,#340046 28.5px,#21001c 29.5px,#14000b 30.5px,#040000 33.5px,#000000 109.5px,#555555 110.5px)"></i><i style="background:linear-gradient(90deg,#bb2700 0.5px,#b42003 8.5px,#a41282 18.5px,#9b0dba 24.5px,#8f08e7 26.5px,#8004f5 27.5px,#6802d5 28.5px,#320041 30.5px,#1f001a 31.5px,#130009 32.5px,#020000 36.5px,#000000 109.5px,#555555 110.5px)"></i><i style="background:linear-gradient(90deg,#b82400 0.5px,#b42003 6.5px,#af1b2f 10.5px,#a3118a 17.5px,#9c0eb3 22.5px,#970bce 26.5px,#8b07f0 28.5px,#7c04f6 29.5px,#6401cd 30.5px,#48007e 31.5px,#2f003a 32.5px,#1d0016 33.5px,#110008 34.5px,#020000 38.5px,#000000 109.5px,#555555 110.5px)"></i><i style="background:linear-gradient(90deg,#b52101 0.5px,#b31f08 4.5px,#ae1a38 9.5px,#9f0fa4 18.5px,#990cc6 23.5px,#9309dc 28.5px,#8806f6 30.5px,#7803f3 31.5px,#6001c1 32.5px,#440071 33.5px,#2c0032 34.5px,#1a0013 35.5px,#090002 37.5px,#000000 45.5px,#000000 109.5px,#555555 110.5px)"></i><i style="background:linear-gradient(90deg,#b21d15 0.5px,#b01c23 4.5px,#aa165a 10.5px,#9d0eb1 18.5px,#960bd2 23.5px,#9008e7 30.5px,#8405fa 32.5px,#7403ee 33.5px,#5a01b2 34.5px,#3f0062 35.5px,#270029 36.5px,#18000f 37.5px,#080002 39.5px,#000000 48.5px,#000000 109.5px,#555555 110.5px)"></i><i style="background:linear-gradient(90deg,#af1a32 0.5px,#ac1845 5.5px,#a2118f 13.5px,#980bcb 20.5px,#9109e3 26.5px,#8d07ee 32.5px,#8004fb 34.5px,#6e02e4 35.5px,#5401a0 36.5px,#390051 37.5px,#230020 38.5px,#15000b 39.5px,#040000 42.5px,#000000 109.5px,#555555 110.5px)"></i><i style="background:linear-gradient(90deg,#ab1750 0.5px,#a91560 5.5px,#960ad4 20.5px,#8f08eb 27.5px,#8b07f4 34.5px,#7c04fa 36.5px,#6801d7 37.5px,#320041 39.5px,#1f0019 40.5px,#120008 41.5px,#030000 44.5px,#000000 109.5px,#555555 110.5px)"></i><i style="background:linear-gradient(90deg,#a7146d 0.5px,#a51280 6.5px,#940adb 20.5px,#8c07f1 28.5px,#8906f7 36.5px,#8405fc 37.5px,#7703f5 38.5px,#6101c5 39.5px,#450074 40.5px,#2c0032 41.5px,#1a0012 42.5px,#0f0006 43.5px,#020000 47.5px,#000000 109.5px,#555555 110.5px)"></i><i style="background:linear-gradient(90deg,#a31287 0.5px,#a11097 6.5px,#9209e2 20.5px,#8a06f5 29.5px,#8706fa 38.5px,#8004fd 39.5px,#7102ec 40.5px,#5901ae 41.5px,#3d005d 42.5px,#260025 43.5px,#16000d 44.5px,#070001 46.5px,#000000 57.5px,#000000 109.5px,#555555 110.5px)"></i><i style="background:linear-gradient(90deg,#a00fa0 0.5px,#9d0eb0 7.5px,#8f08ea 21.5px,#8806f9 32.5px,#8505fc 40.5px,#7c04fb 41.5px,#6a02dd 42.5px,#340046 44.5px,#1f001a 45.5px,#120009 46.5px,#030000 49.5px,#000000 109.5px,#555555 110.5px)"></i><i style="background:linear-gradient(90deg,#9c0db5 0.5px,#980cc8 9.5px,#8c07f2 23.5px,#8806f9 37.5px,#8205fd 42.5px,#7703f6 43.5px,#6201c8 44.5px,#460076 45.5px,#2c0033 46.5px,#1a0012 47.5px,#0f0006 48.5px,#010000 52.5px,#000000 109.5px,#555555 110.5px)"></i><i style="background:linear-gradient(90deg,#990cc6 0.5px,#940ada 11.5px,#8906f7 25.5px,#8505fc 43.5px,#7f04fd 44.5px,#7102eb 45.5px,#5801ac 46.5px,#3c0059 47.5px,#240023 48.5px,#15000c 49.5px,#060001 51.5px,#000000 64.5px,#000000 109.5px,#555555 110.5px)"></i><i style="background:linear-gradient(90deg,#950ad5 0.5px,#8706fa 28.5px,#8305fd 45.5px,#7b03fa 46.5px,#6801d9 47.5px,#32003f 49.5px,#1d0017 50.5px,#100007 51.5px,#020000 55.5px,#000000 109.5px,#555555 110.5px)"></i><i style="background:linear-gradient(90deg,#9209e0 0.5px,#8505fc 31.5px,#8505fc 46.5px,#8004fe 47.5px,#7503f2 48.5px,#5e01be 49.5px,#410069 50.5px,#28002a 51.5px,#17000e 52.5px,#070001 54.5px,#000000 65.5px,#000000 109.5px,#555555 110.5px)"></i><i style="background:linear-gradient(90deg,#9008e8 0.5px,#8405fd 35.5px,#8305fd 48.5px,#7d04fc 49.5px,#6c02e3 50.5px,#52009b 51.5px,#36004a 52.5px,#20001b 53.5px,#120009 54.5px,#030000 57.5px,#000000 109.5px,#555555 110.5px)"></i><i style="background:linear-gradient(90deg,#8d07ef 0.5px,#8405fd 41.5px,#8505fd 49.5px,#8104fe 50.5px,#7703f6 51.5px,#6201c9 52.5px,#460075 53.5px,#2b0030 54.5px,#190010 55.5px,#070001 57.5px,#000000 66.5px,#000000 109.5px,#555555 110.5px)"></i><i style="background:linear-gradient(90deg,#8b07f3 0.5px,#8505fd 46.5px,#8305fe 51.5px,#7e04fd 52.5px,#6f02e8 53.5px,#5601a5 54.5px,#390051 55.5px,#22001e 56.5px,#130009 57.5px,#030000 60.5px,#000000 109.5px,#555555 110.5px)"></i><i style="background:linear-gradient(90deg,#8906f7 0.5px,#8104fe 53.5px,#7803f8 54.5px,#6401cf 55.5px,#48007c 56.5px,#2d0034 57.5px,#1a0011 58.5px,#0e0005 59.5px,#010000 63.5px,#000000 109.5px,#555555 110.5px)"></i><i style="background:linear-gradient(90deg,#8806f9 0.5px,#8305fe 54.5px,#7e04fd 55.5px,#7002eb 56.5px,#5701aa 57.5px,#3a0055 58.5px,#22001f 59.5px,#13000a 60.5px,#030000 63.5px,#000000 109.5px,#555555 110.5px)"></i><i style="background:linear-gradient(90deg,#8706fb 0.5px,#8104fe 56.5px,#7803f9 57.5px,#6501d1 58.5px,#49007e 59.5px,#2d0035 60.5px,#1a0011 61.5px,#0e0005 62.5px,#010000 66.5px,#000000 109.5px,#555555 110.5px)"></i><i style="background:linear-gradient(90deg,#8605fc 0.5px,#8305fe 57.5px,#7e04fe 58.5px,#7002eb 59.5px,#5701aa 60.5px,#3a0054 61.5px,#22001e 62.5px,#130009 63.5px,#030000 66.5px,#000000 109.5px,#555555 110.5px)"></i><i style="background:linear-gradient(90deg,#8505fd 0.5px,#8104fe 59.5px,#7803f8 60.5px,#6501d0 61.5px,#48007c 62.5px,#2c0033 63.5px,#190010 64.5px,#0d0005 65.5px,#010000 69.5px,#000000 109.5px,#555555 110.5px)"></i><i style="background:linear-gradient(90deg,#8405fd 0.5px,#8305fe 60.5px,#7d04fd 61.5px,#6f02e9 62.5px,#5601a6 63.5px,#380050 64.5px,#21001c 65.5px,#120009 66.5px,#030000 69.5px,#000000 109.5px,#555555 110.5px)"></i><i style="background:linear-gradient(90deg,#8405fe 0.5px,#8004fe 62.5px,#7703f7 63.5px,#6301cb 64.5px,#460075 65.5px,#2a002e 66.5px,#17000f 67.5px,#070001 69.5px,#000000 80.5px,#000000 109.5px,#555555 110.5px)"></i><i style="background:linear-gradient(90deg,#8305fe 0.5px,#8205fe 63.5px,#7c04fd 64.5px,#6e02e6 65.5px,#53009e 66.5px,#350049 67.5px,#1f0019 68.5px,#110007 69.5px,#020000 72.5px,#000000 109.5px,#555555 110.5px)"></i><i style="background:linear-gradient(90deg,#8205fe 0.5px,#8305fe 64.5px,#8004fe 65.5px,#7603f5 66.5px,#6001c3 67.5px,#42006b 68.5px,#270029 69.5px,#16000c 70.5px,#060001 72.5px,#000000 86.5px,#000000 109.5px,#555555 110.5px)"></i><i style="background:linear-gradient(90deg,#8104ff 0.5px,#8204fe 66.5px,#7b03fc 67.5px,#6b02df 68.5px,#32003f 70.5px,#1c0015 71.5px,#0f0006 72.5px,#010000 76.5px,#000000 109.5px,#555555 110.5px)"></i><i style="background:linear-gradient(90deg,#8004ff 0.5px,#8305fe 67.5px,#7f04fe 68.5px,#7302f1 69.5px,#5c01b7 70.5px,#3d005e 71.5px,#240022 72.5px,#13000a 73.5px,#030000 76.5px,#000000 109.5px,#555555 110.5px)"></i><i style="background:linear-gradient(90deg,#7e04ff 0.5px,#8104ff 69.5px,#7903fa 70.5px,#6701d5 71.5px,#2d0034 73.5px,#190010 74.5px,#0d0005 75.5px,#010000 79.5px,#000000 109.5px,#555555 110.5px)"></i><i style="background:linear-gradient(90deg,#7c03fe 0.5px,#8405fe 69.5px,#7d04fe 71.5px,#7002ea 72.5px,#5601a6 73.5px,#38004e 74.5px,#20001a 75.5px,#110008 76.5px,#020000 79.5px,#000000 109.5px,#555555 110.5px)"></i><i style="background:linear-gradient(90deg,#7803fb 0.5px,#8305fe 55.5px,#8004ff 72.5px,#7603f6 73.5px,#6101c7 74.5px,#43006e 75.5px,#280029 76.5px,#16000c 77.5px,#060001 79.5px,#000000 94.5px,#000000 109.5px,#555555 110.5px)"></i><i style="background:linear-gradient(90deg,#7402f6 0.5px,#8305fe 35.5px,#8104ff 73.5px,#7b03fc 74.5px,#6b02e0 75.5px,#31003e 77.5px,#1b0014 78.5px,#0e0006 79.5px,#010000 83.5px,#000000 109.5px,#555555 110.5px)"></i><i style="background:linear-gradient(90deg,#6f02ed 0.5px,#8004ff 29.5px,#8205fe 74.5px,#7e04fe 75.5px,#7202f0 76.5px,#5a01b3 77.5px,#3c0059 78.5px,#22001f 79.5px,#120009 80.5px,#030000 83.5px,#000000 109.5px,#555555 110.5px)"></i><i style="background:linear-gradient(90deg,#6901de 0.5px,#7d04ff 27.5px,#8405fe 74.5px,#8004ff 76.5px,#7803f9 77.5px,#6501d0 78.5px,#470079 79.5px,#2a002e 80.5px,#17000e 81.5px,#060001 83.5px,#000000 96.5px,#000000 109.5px,#555555 110.5px)"></i><i style="background:linear-gradient(90deg,#6101ca 0.5px,#6801dc 11.5px,#7903fc 26.5px,#8305fe 53.5px,#8204ff 77.5px,#7c03fd 78.5px,#6d02e5 79.5px,#52009a 80.5px,#330044 81.5px,#1d0016 82.5px,#0f0006 83.5px,#020000 86.5px,#000000 109.5px,#555555 110.5px)"></i><i style="background:linear-gradient(90deg,#5800af 0.5px,#5e01c0 9.5px,#7402f6 25.5px,#8104ff 39.5px,#8205fe 78.5px,#7f04fe 79.5px,#7402f2 80.5px,#5d01ba 81.5px,#3e005e 82.5px,#230021 83.5px,#130009 84.5px,#030000 87.5px,#000000 109.5px,#555555 110.5px)"></i><i style="background:linear-gradient(90deg,#4f008f 0.5px,#5400a0 8.5px,#7102f0 26.5px,#7e04ff 36.5px,#8305fe 79.5px,#7903fa 81.5px,#6601d4 82.5px,#48007d 83.5px,#2b0031 84.5px,#17000f 85.5px,#060001 87.5px,#000000 100.5px,#000000 109.5px,#555555 110.5px)"></i><i style="background:linear-gradient(90deg,#44006e 0.5px,#4a0080 8.5px,#6f02ed 28.5px,#7c03fe 37.5px,#8305fe 69.5px,#8204ff 81.5px,#7c03fd 82.5px,#6e02e7 83.5px,#53009d 84.5px,#340045 85.5px,#1d0016 86.5px,#0f0006 87.5px,#020000 90.5px,#000000 109.5px,#555555 110.5px)"></i><i style="background:linear-gradient(90deg,#39004f 0.5px,#400061 8.5px,#53009d 18.5px,#6b01e5 29.5px,#7903fc 37.5px,#8305fe 59.5px,#8205fe 82.5px,#7f04fe 83.5px,#7402f3 84.5px,#5d01bb 85.5px,#3e005f 86.5px,#230021 87.5px,#130009 88.5px,#030000 91.5px,#000000 109.5px,#555555 110.5px)"></i><i style="background:linear-gradient(90deg,#2f0036 0.5px,#360047 8.5px,#48007b 17.5px,#6801dc 30.5px,#7602f8 37.5px,#8204fe 50.5px,#8004ff 84.5px,#7903fa 85.5px,#6601d3 86.5px,#48007c 87.5px,#2b002f 88.5px,#17000e 89.5px,#060001 91.5px,#000000 105.5px,#000000 109.5px,#555555 110.5px)"></i><i style="background:linear-gradient(90deg,#270025 0.5px,#2e0033 8.5px,#3e005d 16.5px,#6901df 33.5px,#7703f9 40.5px,#8305fe 58.5px,#8104ff 85.5px,#7c03fd 86.5px,#6d02e6 87.5px,#52009a 88.5px,#330042 89.5px,#1c0015 90.5px,#0f0006 91.5px,#010000 95.5px,#000000 109.5px,#555555 110.5px)"></i><i style="background:linear-gradient(90deg,#23001e 0.5px,#2b002d 9.5px,#3d0059 18.5px,#6801dd 35.5px,#7603f9 42.5px,#8305fe 58.5px,#8205fe 86.5px,#7f04fe 87.5px,#7302f2 88.5px,#5c01b7 89.5px,#3c005a 90.5px,#22001e 91.5px,#120008 92.5px,#020000 95.5px,#000000 109.5px,#555555 110.5px)"></i><i style="background:linear-gradient(90deg,#2b002d 0.5px,#300038 12.5px,#3e005c 20.5px,#6a01e2 38.5px,#7803fb 45.5px,#8305fe 64.5px,#8004ff 88.5px,#7803f9 89.5px,#6401cf 90.5px,#460075 91.5px,#29002b 92.5px,#16000c 93.5px,#060001 95.5px,#000000 109.5px,#555555 110.5px)"></i><i style="background:linear-gradient(90deg,#3c0059 0.5px,#3b0054 17.5px,#43006a 23.5px,#6c01e7 41.5px,#7903fc 48.5px,#8305fe 68.5px,#8104ff 89.5px,#7b03fd 90.5px,#6c02e2 91.5px,#30003c 93.5px,#1a0012 94.5px,#0d0005 95.5px,#010000 99.5px,#000000 109.5px,#555555 110.5px)"></i><i style="background:linear-gradient(90deg,#4f0092 0.5px,#4a0081 12.5px,#450071 22.5px,#4b0085 28.5px,#6c02e7 43.5px,#7903fc 50.5px,#8305fe 70.5px,#8204fe 90.5px,#7e04fe 91.5px,#7202ef 92.5px,#5801ad 93.5px,#390051 94.5px,#1f001a 95.5px,#100007 96.5px,#020000 99.5px,#000000 109.5px,#555555 110.5px)"></i><i style="background:linear-gradient(90deg,#c8aae7 0.5px,#c3aad7 28.5px,#d2abfd 50.5px,#d4abff 92.5px,#cfabf9 93.5px,#bbaac0 95.5px,#b3aab1 96.5px,#aaaaaa 102.5px,#aaaaaa 109.5px,#c6c6c6 110.5px)"></i></div>
<div class="hm" style="left:542px;top:15px;width:111px;height:105px"><i style="background:linear-gradient(90deg,#f6d055 0.5px,#f2bf55 16.5px,#e69655 27.5px,#d16f5a 32.5px,#c66490 33.5px,#ba5dd8 34.5px,#ae59fa 35.5px,#9f56f1 36.5px,#805597 38.5px,#7c558c 41.5px,#7e5591 42.5px,#9e56ef 46.5px,#a958ff 49.5px,#a657fd 75.5px,#9c56ec 78.5px,#8d55bf 81.5px,#725573 85.5px,#62555b 87.5px,#555555 89.5px,#555555 109.5px,#8e8e8e 110.5px)"></i><i style="background:linear-gradient(90deg,#f0af00 0.5px,#eca100 12.5px,#dd6c00 24.5px,#c83b00 29.5px,#bf2e02 30.5px,#b11e2e 31.5px,#a11190 32.5px,#9009de 33.5px,#7c04f6 34.5px,#6701d5 35.5px,#4e008e 36.5px,#3f005f 37.5px,#3a0052 40.5px,#3f0060 41.5px,#6201cc 44.5px,#6d02e8 45.5px,#7903fc 47.5px,#8004ff 52.5px,#7c03fe 74.5px,#6f02ed 77.5px,#6201cb 79.5px,#3d005b 83.5px,#270026 85.5px,#0f0006 87.5px,#030000 88.5px,#000000 109.5px,#555555 110.5px)"></i><i style="background:linear-gradient(90deg,#eda500 0.5px,#ea9900 10.5px,#de6f00 21.5px,#c83b00 27.5px,#bf2e02 28.5px,#b21f28 29.5px,#930ad3 31.5px,#8105f6 32.5px,#6e02e5 33.5px,#42006a 35.5px,#3d005a 36.5px,#3b0055 39.5px,#43006c 40.5px,#6601d6 43.5px,#7002ee 44.5px,#7b03fd 46.5px,#8004ff 59.5px,#7b03fd 74.5px,#7202f3 76.5px,#6601d7 78.5px,#4d008a 81.5px,#2d0033 84.5px,#15000c 86.5px,#000000 88.5px,#000000 109.5px,#555555 110.5px)"></i><i style="background:linear-gradient(90deg,#ea9800 0.5px,#e68800 11.5px,#dc6a00 19.5px,#c73900 25.5px,#be2d02 26.5px,#b21f27 27.5px,#950bcc 29.5px,#8506f4 30.5px,#7202ed 31.5px,#5e01bd 32.5px,#48007a 33.5px,#3e005c 34.5px,#3a0052 37.5px,#3e005d 38.5px,#6a01e0 42.5px,#7202f1 43.5px,#7f04ff 46.5px,#7c03fe 73.5px,#6f02ec 76.5px,#6101c8 78.5px,#250022 84.5px,#0c0004 86.5px,#010000 87.5px,#000000 109.5px,#555555 110.5px)"></i><i style="background:linear-gradient(90deg,#e68a00 0.5px,#e27b00 11.5px,#da6400 17.5px,#c53600 23.5px,#bc2a04 24.5px,#b11d2d 25.5px,#960bcb 27.5px,#8606f3 28.5px,#7503f2 29.5px,#6301cb 30.5px,#4d008a 31.5px,#3f0060 32.5px,#3b0053 35.5px,#3b0054 36.5px,#420069 37.5px,#6301cd 40.5px,#6d02e7 41.5px,#7803fb 43.5px,#8004ff 47.5px,#7d04fe 72.5px,#7002ef 75.5px,#6301cf 77.5px,#49007d 80.5px,#280028 83.5px,#0f0006 85.5px,#030000 86.5px,#000000 109.5px,#555555 110.5px)"></i><i style="background:linear-gradient(90deg,#e27d00 0.5px,#de6e00 11.5px,#c83b00 20.5px,#c23200 21.5px,#b9260b 22.5px,#ae1a3d 23.5px,#a2118c 24.5px,#950bcf 25.5px,#8706f3 26.5px,#7703f4 27.5px,#6501d2 28.5px,#510096 29.5px,#410065 30.5px,#3d005a 31.5px,#3a0052 34.5px,#3e005c 35.5px,#6701d8 39.5px,#6f02ed 40.5px,#7e04ff 43.5px,#7e04ff 71.5px,#7202f3 74.5px,#6501d6 76.5px,#4c0086 79.5px,#2b002e 82.5px,#120009 84.5px,#050001 85.5px,#000000 89.5px,#000000 109.5px,#555555 110.5px)"></i><i style="background:linear-gradient(90deg,#df7100 0.5px,#da6300 9.5px,#c43500 18.5px,#bd2b02 19.5px,#b4201d 20.5px,#aa1758 21.5px,#9e0fa1 22.5px,#920ad9 23.5px,#8506f5 24.5px,#7603f4 25.5px,#6601d5 26.5px,#43006b 28.5px,#3d005b 29.5px,#3a0052 32.5px,#3b0055 33.5px,#4c0086 35.5px,#6a01e2 38.5px,#7102f1 39.5px,#7f04ff 42.5px,#7c03fe 71.5px,#7402f6 73.5px,#6801db 75.5px,#5800ac 77.5px,#2e0035 81.5px,#15000c 83.5px,#000000 85.5px,#000000 109.5px,#555555 110.5px)"></i><i style="background:linear-gradient(90deg,#d96000 0.5px,#d24f00 9.5px,#c33400 15.5px,#be2c01 16.5px,#b62214 17.5px,#ad1a40 18.5px,#990dbc 20.5px,#8e08e5 21.5px,#8205f8 22.5px,#7402f1 23.5px,#6501d2 24.5px,#44006e 26.5px,#3e005b 27.5px,#3a0052 31.5px,#3f005f 32.5px,#5a01b4 35.5px,#6e02e9 37.5px,#7803fa 39.5px,#8004ff 43.5px,#7d04ff 70.5px,#7002ef 73.5px,#6201cd 75.5px,#470078 78.5px,#250022 81.5px,#0b0004 83.5px,#010000 84.5px,#000000 109.5px,#555555 110.5px)"></i><i style="background:linear-gradient(90deg,#d14d00 0.5px,#c93e00 9.5px,#bb2804 13.5px,#b42119 14.5px,#ad1a40 15.5px,#9c0eae 17.5px,#930ad8 18.5px,#8806f2 19.5px,#7d04f9 20.5px,#7002ec 21.5px,#6201cb 22.5px,#43006d 24.5px,#3e005b 25.5px,#3a0051 29.5px,#3c0058 30.5px,#5500a4 33.5px,#6901dd 35.5px,#7002ef 36.5px,#7d04fe 39.5px,#7e04ff 69.5px,#7202f2 72.5px,#6501d4 74.5px,#4a0081 77.5px,#280028 80.5px,#0e0006 82.5px,#020000 83.5px,#000000 109.5px,#555555 110.5px)"></i><i style="background:linear-gradient(90deg,#c83c00 0.5px,#c02f00 7.5px,#bd2b00 8.5px,#b42018 10.5px,#af1b35 11.5px,#9b0db4 14.5px,#930ad6 15.5px,#8b07ee 16.5px,#8105f9 17.5px,#7603f4 18.5px,#6b02e0 19.5px,#5d01bd 20.5px,#4e008d 21.5px,#420068 22.5px,#3e005b 23.5px,#3b0054 28.5px,#49007d 30.5px,#6401d0 33.5px,#6c02e6 34.5px,#7603f9 36.5px,#8004ff 40.5px,#7c03fe 69.5px,#7402f5 71.5px,#6701da 73.5px,#5700a9 75.5px,#2c002f 79.5px,#120008 81.5px,#040001 82.5px,#000000 92.5px,#000000 109.5px,#555555 110.5px)"></i><i style="background:linear-gradient(90deg,#b7240e 0.5px,#b42017 3.5px,#ad193f 6.5px,#960bcd 11.5px,#8806f3 13.5px,#8004fa 14.5px,#7703f6 15.5px,#6e02e7 16.5px,#6301cd 17.5px,#48007c 19.5px,#400062 20.5px,#3a0052 25.5px,#3a0052 26.5px,#3f005f 27.5px,#5600a7 30.5px,#6801dc 32.5px,#6f02ed 33.5px,#7c03fe 36.5px,#7d04ff 68.5px,#7002ef 71.5px,#6201cb 73.5px,#460073 76.5px,#2f0036 78.5px,#15000b 80.5px,#000000 82.5px,#000000 109.5px,#555555 110.5px)"></i><i style="background:linear-gradient(90deg,#9f109e 0.5px,#9c0eaf 3.5px,#8706f5 9.5px,#7b03f9 11.5px,#6c02e4 13.5px,#6301cd 14.5px,#43006b 17.5px,#3e005c 18.5px,#3a0052 24.5px,#3e005b 25.5px,#53009d 28.5px,#6c01e5 31.5px,#7502f7 33.5px,#8004ff 38.5px,#7b03fe 68.5px,#7202f2 70.5px,#6401d2 72.5px,#53009c 74.5px,#32003d 77.5px,#18000f 79.5px,#0b0003 80.5px,#010000 81.5px,#000000 109.5px,#555555 110.5px)"></i><i style="background:linear-gradient(90deg,#8606f7 0.5px,#7a03f9 6.5px,#6b02e3 9.5px,#5e01be 11.5px,#43006c 14.5px,#3e005e 15.5px,#3a0052 22.5px,#3d005a 23.5px,#510096 26.5px,#6801dd 29.5px,#7302f4 31.5px,#8004ff 35.5px,#7c03fe 67.5px,#7402f5 69.5px,#6701d9 71.5px,#5500a5 73.5px,#290029 77.5px,#0e0005 79.5px,#020000 80.5px,#000000 109.5px,#555555 110.5px)"></i><i style="background:linear-gradient(90deg,#6b02e2 0.5px,#6501d2 4.5px,#5801ad 7.5px,#450071 10.5px,#3e005c 12.5px,#3a0052 20.5px,#3d005a 21.5px,#5600a8 25.5px,#6c02e7 28.5px,#7803fb 31.5px,#8004ff 36.5px,#7d04ff 66.5px,#7502f8 68.5px,#6901df 70.5px,#5800ae 72.5px,#2c0030 76.5px,#110008 78.5px,#040001 79.5px,#000000 109.5px,#555555 110.5px)"></i><i style="background:linear-gradient(90deg,#4b0084 0.5px,#450072 4.5px,#3e005d 7.5px,#3b0053 18.5px,#43006c 20.5px,#5500a3 23.5px,#6a01e1 26.5px,#7302f4 28.5px,#7f04ff 32.5px,#7b03fe 66.5px,#7202f2 68.5px,#6401d0 70.5px,#470077 73.5px,#2f0037 75.5px,#15000b 77.5px,#000000 79.5px,#000000 109.5px,#555555 110.5px)"></i><i style="background:linear-gradient(90deg,#3e005b 0.5px,#3a0051 15.5px,#3f0061 17.5px,#5400a2 21.5px,#6801dc 24.5px,#7202f2 26.5px,#8004ff 31.5px,#7c03fe 65.5px,#7202f3 67.5px,#6401d3 69.5px,#52009b 71.5px,#300039 74.5px,#15000c 76.5px,#000000 78.5px,#000000 109.5px,#555555 110.5px)"></i><i style="background:linear-gradient(90deg,#3c0057 0.5px,#3b0054 13.5px,#4b0083 17.5px,#6c02e7 23.5px,#7a03fd 27.5px,#8004ff 35.5px,#7d04ff 63.5px,#7502f7 65.5px,#6801dd 67.5px,#5700aa 69.5px,#29002b 73.5px,#1c0014 74.5px,#0d0006 75.5px,#030001 76.5px,#000000 109.5px,#555555 110.5px)"></i><i style="background:linear-gradient(90deg,#3b0053 0.5px,#3a0052 9.5px,#420068 12.5px,#510097 16.5px,#6c01e5 21.5px,#7803fb 25.5px,#8004ff 32.5px,#7c03fe 62.5px,#7202f3 64.5px,#6401d2 66.5px,#520099 68.5px,#2f0036 71.5px,#13000a 73.5px,#000000 75.5px,#000000 109.5px,#555555 110.5px)"></i><i style="background:linear-gradient(90deg,#3a0051 0.5px,#3d005a 6.5px,#4c0087 12.5px,#6f02ed 20.5px,#7f04ff 26.5px,#7d04ff 60.5px,#7502f7 62.5px,#6801dc 64.5px,#5600a7 66.5px,#270026 70.5px,#190011 71.5px,#0b0004 72.5px,#000000 74.5px,#000000 109.5px,#555555 110.5px)"></i><i style="background:linear-gradient(90deg,#420068 0.5px,#470079 6.5px,#53009e 11.5px,#6f02ed 18.5px,#7e04ff 24.5px,#7c03fe 59.5px,#7202f2 61.5px,#6301d0 63.5px,#500095 65.5px,#2c0031 68.5px,#1f0019 69.5px,#100008 70.5px,#040001 71.5px,#000000 109.5px,#555555 110.5px)"></i><i style="background:linear-gradient(90deg,#4c0086 0.5px,#500092 5.5px,#5b01b7 10.5px,#7002ee 16.5px,#7f04ff 23.5px,#7d04ff 57.5px,#7502f7 59.5px,#6701da 61.5px,#5500a4 63.5px,#32003e 66.5px,#16000e 68.5px,#080003 69.5px,#000000 71.5px,#000000 109.5px,#555555 110.5px)"></i><i style="background:linear-gradient(90deg,#5600a6 0.5px,#5a01b4 5.5px,#7102f0 14.5px,#8004ff 22.5px,#7c03fe 56.5px,#7202f2 58.5px,#6301ce 60.5px,#4f0091 62.5px,#2a002d 65.5px,#1c0015 66.5px,#0d0006 67.5px,#020000 68.5px,#000000 109.5px,#555555 110.5px)"></i><i style="background:linear-gradient(90deg,#6001c6 0.5px,#6601d6 6.5px,#7302f4 13.5px,#8004ff 22.5px,#7d04ff 54.5px,#7502f6 56.5px,#6701d9 58.5px,#5400a0 60.5px,#300039 63.5px,#22001e 64.5px,#13000b 65.5px,#060002 66.5px,#000000 70.5px,#000000 109.5px,#555555 110.5px)"></i><i style="background:linear-gradient(90deg,#6901df 0.5px,#7f04ff 18.5px,#7c03fe 53.5px,#7202f1 55.5px,#6201cc 57.5px,#420069 60.5px,#280028 62.5px,#190011 63.5px,#0a0004 64.5px,#000000 66.5px,#000000 109.5px,#555555 110.5px)"></i><i style="background:linear-gradient(90deg,#7002ef 0.5px,#8004ff 20.5px,#7d04ff 51.5px,#7502f6 53.5px,#6601d7 55.5px,#53009c 57.5px,#2e0034 60.5px,#1f0019 61.5px,#100008 62.5px,#040001 63.5px,#000000 109.5px,#555555 110.5px)"></i><i style="background:linear-gradient(90deg,#7402f6 0.5px,#8004ff 21.5px,#7c03fe 50.5px,#7102f1 52.5px,#6101ca 54.5px,#400064 57.5px,#250023 59.5px,#16000e 60.5px,#080003 61.5px,#000000 63.5px,#000000 109.5px,#555555 110.5px)"></i><i style="background:linear-gradient(90deg,#7703fa 0.5px,#8004ff 24.5px,#7d04fe 48.5px,#7402f6 50.5px,#6501d5 52.5px,#510098 54.5px,#2b002e 57.5px,#1c0015 58.5px,#0c0006 59.5px,#020000 60.5px,#000000 109.5px,#555555 110.5px)"></i><i style="background:linear-gradient(90deg,#7b03fd 0.5px,#7e04ff 46.5px,#7703f9 48.5px,#6901de 50.5px,#5500a4 52.5px,#2f0037 55.5px,#20001b 56.5px,#100008 57.5px,#040001 58.5px,#000000 109.5px,#555555 110.5px)"></i><i style="background:linear-gradient(90deg,#7e04ff 0.5px,#7d04fe 45.5px,#7402f4 47.5px,#6c02e6 48.5px,#5900b0 50.5px,#330040 53.5px,#240021 54.5px,#14000c 55.5px,#060002 56.5px,#000000 59.5px,#000000 109.5px,#555555 110.5px)"></i><i style="background:linear-gradient(90deg,#8004ff 0.5px,#7b03fd 44.5px,#6f02ed 46.5px,#6701d9 47.5px,#520099 49.5px,#280029 52.5px,#180010 53.5px,#080003 54.5px,#000000 56.5px,#000000 109.5px,#555555 110.5px)"></i><i style="background:linear-gradient(90deg,#8004ff 0.5px,#7d04fe 42.5px,#7302f3 44.5px,#6b01e2 45.5px,#6101c8 46.5px,#2c0031 50.5px,#1c0015 51.5px,#0b0005 52.5px,#010000 53.5px,#000000 109.5px,#555555 110.5px)"></i><i style="background:linear-gradient(90deg,#8004ff 0.5px,#7e04ff 40.5px,#7602f7 42.5px,#6e02ea 43.5px,#6501d4 44.5px,#4e008c 46.5px,#30003b 48.5px,#20001b 49.5px,#0f0008 50.5px,#030001 51.5px,#000000 109.5px,#555555 110.5px)"></i><i style="background:linear-gradient(90deg,#8004ff 0.5px,#7d04fe 39.5px,#7202f1 41.5px,#6901de 42.5px,#5e01c0 43.5px,#350046 46.5px,#240023 47.5px,#13000b 48.5px,#040001 49.5px,#000000 60.5px,#000000 109.5px,#555555 110.5px)"></i><i style="background:linear-gradient(90deg,#8004ff 0.5px,#7e04ff 37.5px,#7502f6 39.5px,#6d02e7 40.5px,#6301cd 41.5px,#49007e 43.5px,#29002b 45.5px,#170010 46.5px,#070003 47.5px,#000000 49.5px,#000000 109.5px,#555555 110.5px)"></i><i style="background:linear-gradient(90deg,#8004ff 0.5px,#7d04fe 36.5px,#7002ef 38.5px,#6701d8 39.5px,#5b01b7 40.5px,#2e0035 43.5px,#1c0015 44.5px,#0a0004 45.5px,#010000 46.5px,#000000 109.5px,#555555 110.5px)"></i><i style="background:linear-gradient(90deg,#8004ff 0.5px,#7e04ff 34.5px,#7402f5 36.5px,#6b01e3 37.5px,#6001c5 38.5px,#330040 41.5px,#20001c 42.5px,#0d0007 43.5px,#020000 44.5px,#000000 109.5px,#555555 110.5px)"></i><i style="background:linear-gradient(90deg,#8004ff 0.5px,#7d04fe 33.5px,#7703f9 34.5px,#6f02ec 35.5px,#6401d2 36.5px,#5700ab 37.5px,#38004d 39.5px,#250025 40.5px,#11000a 41.5px,#030001 42.5px,#000000 109.5px,#555555 110.5px)"></i><i style="background:linear-gradient(90deg,#8004ff 0.5px,#7e04ff 31.5px,#7302f3 33.5px,#6901de 34.5px,#5c01bb 35.5px,#2a002f 38.5px,#16000f 39.5px,#050002 40.5px,#000000 43.5px,#000000 109.5px,#555555 110.5px)"></i><i style="background:linear-gradient(90deg,#8004ff 0.5px,#7c03fe 30.5px,#7603f8 31.5px,#6d02e8 32.5px,#6101c9 33.5px,#30003a 36.5px,#1b0016 37.5px,#080004 38.5px,#000000 40.5px,#000000 109.5px,#555555 110.5px)"></i><i style="background:linear-gradient(90deg,#8004ff 0.5px,#7d04fe 28.5px,#7703f8 29.5px,#6e02e8 30.5px,#6201ca 31.5px,#2e0038 34.5px,#190015 35.5px,#080004 36.5px,#000000 38.5px,#000000 109.5px,#555555 110.5px)"></i><i style="background:linear-gradient(90deg,#8004ff 0.5px,#7d04fe 26.5px,#7703f8 27.5px,#6d02e7 28.5px,#6001c5 29.5px,#2a002f 32.5px,#14000f 33.5px,#050002 34.5px,#000000 39.5px,#000000 109.5px,#555555 110.5px)"></i><i style="background:linear-gradient(90deg,#8004ff 0.5px,#7d04fe 24.5px,#7603f7 25.5px,#6c02e4 26.5px,#5e01c0 27.5px,#250027 30.5px,#0f000a 31.5px,#020001 32.5px,#000000 109.5px,#555555 110.5px)"></i><i style="background:linear-gradient(90deg,#8004ff 0.5px,#7d04fe 22.5px,#7603f7 23.5px,#6b02e2 24.5px,#5d01bb 25.5px,#36004c 27.5px,#1f001e 28.5px,#0b0006 29.5px,#010000 30.5px,#000000 109.5px,#555555 110.5px)"></i><i style="background:linear-gradient(90deg,#8104ff 0.5px,#7d03fe 20.5px,#7503f6 21.5px,#6a01df 22.5px,#5b01b4 23.5px,#320041 25.5px,#190017 26.5px,#070004 27.5px,#000000 29.5px,#000000 109.5px,#555555 110.5px)"></i><i style="background:linear-gradient(90deg,#8305fe 0.5px,#7c03fe 18.5px,#7502f5 19.5px,#6901dc 20.5px,#5801ad 21.5px,#2d0037 23.5px,#140010 24.5px,#040002 25.5px,#000000 109.5px,#555555 110.5px)"></i><i style="background:linear-gradient(90deg,#8605fb 0.5px,#7c03fe 16.5px,#7402f4 17.5px,#6701d8 18.5px,#5600a5 19.5px,#27002c 21.5px,#0f000b 22.5px,#020001 23.5px,#000000 109.5px,#555555 110.5px)"></i><i style="background:linear-gradient(90deg,#8b07f3 0.5px,#8004ff 11.5px,#7c03fd 14.5px,#7402f3 15.5px,#6601d4 16.5px,#53009d 17.5px,#3c005a 18.5px,#210023 19.5px,#0a0007 20.5px,#010000 21.5px,#000000 109.5px,#555555 110.5px)"></i><i style="background:linear-gradient(90deg,#9209e1 0.5px,#8505fd 7.5px,#7e04fe 12.5px,#7502f4 13.5px,#6501d2 14.5px,#4f0093 15.5px,#35004c 16.5px,#190019 17.5px,#060003 18.5px,#000000 20.5px,#000000 109.5px,#555555 110.5px)"></i><i style="background:linear-gradient(90deg,#9a0cc0 0.5px,#9109e5 4.5px,#8706fa 7.5px,#7c03fc 11.5px,#6b02e1 12.5px,#52009a 13.5px,#310044 14.5px,#110010 15.5px,#020001 16.5px,#000000 109.5px,#555555 110.5px)"></i><i style="background:linear-gradient(90deg,#a21190 0.5px,#9e0fa9 2.5px,#9209e1 5.5px,#8706fa 8.5px,#8405fd 9.5px,#7803f6 10.5px,#5b01b4 11.5px,#31004c 12.5px,#0f000e 13.5px,#010000 14.5px,#000000 109.5px,#555555 110.5px)"></i><i style="background:linear-gradient(90deg,#a9165d 0.5px,#a81569 1.5px,#960bd1 5.5px,#8d07f0 7.5px,#8706f9 8.5px,#6b02d6 9.5px,#34005a 10.5px,#0c000c 11.5px,#000000 12.5px,#000000 109.5px,#555555 110.5px)"></i><i style="background:linear-gradient(90deg,#ae1a37 0.5px,#ac1846 1.5px,#a41283 3.5px,#990cc5 5.5px,#9309dd 6.5px,#8306e4 7.5px,#3d0172 8.5px,#0a000c 9.5px,#000000 10.5px,#000000 109.5px,#555555 110.5px)"></i><i style="background:linear-gradient(90deg,#af1b2c 0.5px,#ad193b 1.5px,#a5137b 3.5px,#9a0cc1 5.5px,#9209df 6.5px,#35015f 7.5px,#000000 8.5px,#000000 109.5px,#555555 110.5px)"></i><i style="background:linear-gradient(90deg,#ad1940 0.5px,#ab174e 1.5px,#a31289 3.5px,#980cc8 5.5px,#8c07ef 7.5px,#6302bd 8.5px,#23003a 9.5px,#030002 10.5px,#000000 109.5px,#555555 110.5px)"></i><i style="background:linear-gradient(90deg,#a7146b 0.5px,#a61377 1.5px,#950ad6 5.5px,#8c07f2 7.5px,#8806f9 8.5px,#7a03f4 9.5px,#53019d 10.5px,#20002f 11.5px,#050003 12.5px,#000000 17.5px,#000000 109.5px,#555555 110.5px)"></i><i style="background:linear-gradient(90deg,#a00f9f 0.5px,#9c0db5 2.5px,#9109e5 5.5px,#8605fb 8.5px,#7e04fd 10.5px,#6a02dc 11.5px,#22002b 13.5px,#070005 14.5px,#000000 16.5px,#000000 109.5px,#555555 110.5px)"></i><i style="background:linear-gradient(90deg,#970bcc 0.5px,#8906f7 6.5px,#7f04fe 11.5px,#7402f2 12.5px,#6001c3 13.5px,#24002b 15.5px,#0a0007 16.5px,#000000 17.5px,#000000 109.5px,#555555 110.5px)"></i><i style="background:linear-gradient(90deg,#9008e8 0.5px,#8305fe 8.5px,#7a03fc 13.5px,#6f02e9 14.5px,#5d01bc 15.5px,#2c0038 17.5px,#12000f 18.5px,#030001 19.5px,#000000 109.5px,#555555 110.5px)"></i><i style="background:linear-gradient(90deg,#8906f7 0.5px,#7f04ff 14.5px,#7a03fb 15.5px,#6f02ea 16.5px,#5f01c2 17.5px,#330045 19.5px,#180016 20.5px,#060003 21.5px,#000000 24.5px,#000000 109.5px,#555555 110.5px)"></i><i style="background:linear-gradient(90deg,#8505fc 0.5px,#7f04ff 16.5px,#7a03fb 17.5px,#7002ec 18.5px,#6101c8 19.5px,#380051 21.5px,#1e001e 22.5px,#090005 23.5px,#010000 24.5px,#000000 109.5px,#555555 110.5px)"></i><i style="background:linear-gradient(90deg,#8205fe 0.5px,#7f04ff 18.5px,#7a03fc 19.5px,#7102ee 20.5px,#6301cd 21.5px,#510099 22.5px,#3c005c 23.5px,#240027 24.5px,#0d0009 25.5px,#020000 26.5px,#000000 109.5px,#555555 110.5px)"></i><i style="background:linear-gradient(90deg,#8104ff 0.5px,#7f04ff 20.5px,#7a03fc 21.5px,#7202ef 22.5px,#6501d1 23.5px,#5400a1 24.5px,#2a0031 26.5px,#12000e 27.5px,#040001 28.5px,#000000 109.5px,#555555 110.5px)"></i><i style="background:linear-gradient(90deg,#8004ff 0.5px,#7f04ff 22.5px,#7b03fc 23.5px,#7202f1 24.5px,#6601d5 25.5px,#5700a8 26.5px,#2f003a 28.5px,#180014 29.5px,#070003 30.5px,#000000 32.5px,#000000 109.5px,#555555 110.5px)"></i><i style="background:linear-gradient(90deg,#8004ff 0.5px,#7f04ff 24.5px,#7302f2 26.5px,#6701d9 27.5px,#5901af 28.5px,#330044 30.5px,#1d001b 31.5px,#0a0005 32.5px,#010000 33.5px,#000000 109.5px,#555555 110.5px)"></i><i style="background:linear-gradient(90deg,#8004ff 0.5px,#7f04ff 26.5px,#7302f3 28.5px,#6901dc 29.5px,#5b01b5 30.5px,#38004e 32.5px,#220022 33.5px,#0e0009 34.5px,#020001 35.5px,#000000 109.5px,#555555 110.5px)"></i><i style="background:linear-gradient(90deg,#8004ff 0.5px,#7f04ff 28.5px,#7402f4 30.5px,#6a01df 31.5px,#5d01bb 32.5px,#27002a 35.5px,#12000d 36.5px,#040002 37.5px,#000000 49.5px,#000000 109.5px,#555555 110.5px)"></i><i style="background:linear-gradient(90deg,#8004ff 0.5px,#7e04ff 30.5px,#7202f1 32.5px,#6701da 33.5px,#5a01b5 34.5px,#260027 37.5px,#11000b 38.5px,#030001 39.5px,#000000 109.5px,#555555 110.5px)"></i><i style="background:linear-gradient(90deg,#8004ff 0.5px,#7c03fe 32.5px,#7703f9 33.5px,#6e02e9 34.5px,#6301cd 35.5px,#460074 37.5px,#340044 38.5px,#21001e 39.5px,#0d0007 40.5px,#020000 41.5px,#000000 109.5px,#555555 110.5px)"></i><i style="background:linear-gradient(90deg,#8004ff 0.5px,#7e04ff 33.5px,#7302f4 35.5px,#6a01e0 36.5px,#5e01c0 37.5px,#2f0038 40.5px,#1c0016 41.5px,#090004 42.5px,#000000 44.5px,#000000 109.5px,#555555 110.5px)"></i><i style="background:linear-gradient(90deg,#8004ff 0.5px,#7d03fe 35.5px,#7703f9 36.5px,#6f02ed 37.5px,#6501d5 38.5px,#5901b1 39.5px,#2a002e 42.5px,#170010 43.5px,#060002 44.5px,#000000 46.5px,#000000 109.5px,#555555 110.5px)"></i><i style="background:linear-gradient(90deg,#8004ff 0.5px,#7e04ff 36.5px,#7402f5 38.5px,#6c01e4 39.5px,#6101c8 40.5px,#460076 42.5px,#250024 44.5px,#12000b 45.5px,#040001 46.5px,#000000 70.5px,#000000 109.5px,#555555 110.5px)"></i><i style="background:linear-gradient(90deg,#8004ff 0.5px,#7d04fe 38.5px,#7102ef 40.5px,#6801db 41.5px,#5d01bb 42.5px,#32003e 45.5px,#21001c 46.5px,#0e0008 47.5px,#020001 48.5px,#000000 109.5px,#555555 110.5px)"></i><i style="background:linear-gradient(90deg,#8004ff 0.5px,#7e04ff 39.5px,#7502f7 41.5px,#6d02e8 42.5px,#6401d0 43.5px,#4b0085 45.5px,#2d0034 47.5px,#1c0016 48.5px,#0b0005 49.5px,#010000 50.5px,#000000 109.5px,#555555 110.5px)"></i><i style="background:linear-gradient(90deg,#8004ff 0.5px,#7d04fe 41.5px,#7202f2 43.5px,#6a01e0 44.5px,#5f01c4 45.5px,#29002a 49.5px,#180010 50.5px,#080003 51.5px,#000000 53.5px,#000000 109.5px,#555555 110.5px)"></i><i style="background:linear-gradient(90deg,#8004ff 0.5px,#7e04ff 42.5px,#7603f8 44.5px,#6f02eb 45.5px,#6601d6 46.5px,#500093 48.5px,#340043 50.5px,#240022 51.5px,#14000c 52.5px,#050002 53.5px,#000000 57.5px,#000000 109.5px,#555555 110.5px)"></i><i style="background:linear-gradient(90deg,#7f04ff 0.5px,#7d04fe 44.5px,#7302f3 46.5px,#6b01e4 47.5px,#6201cc 48.5px,#4b0085 50.5px,#300039 52.5px,#20001b 53.5px,#100008 54.5px,#030001 55.5px,#000000 109.5px,#555555 110.5px)"></i><i style="background:linear-gradient(90deg,#7d04ff 0.5px,#7e04ff 45.5px,#7603f9 47.5px,#6801db 49.5px,#53009e 51.5px,#2c0030 54.5px,#1c0015 55.5px,#0c0006 56.5px,#020000 57.5px,#000000 109.5px,#555555 110.5px)"></i><i style="background:linear-gradient(90deg,#7a03fd 0.5px,#8004ff 37.5px,#7d04fe 47.5px,#7402f5 49.5px,#6401d2 51.5px,#4f0092 53.5px,#280028 56.5px,#180010 57.5px,#090004 58.5px,#000000 60.5px,#000000 109.5px,#555555 110.5px)"></i><i style="background:linear-gradient(90deg,#7603f9 0.5px,#8004ff 23.5px,#7c03fe 49.5px,#7102f0 51.5px,#6101c7 53.5px,#32003d 57.5px,#230020 58.5px,#14000c 59.5px,#060002 60.5px,#000000 63.5px,#000000 109.5px,#555555 110.5px)"></i><i style="background:linear-gradient(90deg,#7302f4 0.5px,#8004ff 21.5px,#7d04fe 50.5px,#7402f6 52.5px,#6501d5 54.5px,#520099 56.5px,#2c0031 59.5px,#1e0017 60.5px,#0e0007 61.5px,#030001 62.5px,#000000 109.5px,#555555 110.5px)"></i><i style="background:linear-gradient(90deg,#6f02ec 0.5px,#8004ff 19.5px,#7c03fe 52.5px,#7102f1 54.5px,#6101ca 56.5px,#410065 59.5px,#260025 61.5px,#17000f 62.5px,#090003 63.5px,#000000 65.5px,#000000 109.5px,#555555 110.5px)"></i><i style="background:linear-gradient(90deg,#6701d8 0.5px,#7d04fe 17.5px,#7d04fe 53.5px,#7402f6 55.5px,#6601d7 57.5px,#53009d 59.5px,#2e0036 62.5px,#20001b 63.5px,#110009 64.5px,#040001 65.5px,#000000 75.5px,#000000 109.5px,#555555 110.5px)"></i><i style="background:linear-gradient(90deg,#5d01bd 0.5px,#6301ce 6.5px,#7202f2 13.5px,#8004ff 21.5px,#7c03fe 55.5px,#7102f1 57.5px,#6201cc 59.5px,#43006a 62.5px,#29002a 64.5px,#1a0013 65.5px,#0c0005 66.5px,#020000 67.5px,#000000 109.5px,#555555 110.5px)"></i><i style="background:linear-gradient(90deg,#52009c 0.5px,#5700aa 5.5px,#7102f1 15.5px,#7f04ff 22.5px,#7d04fe 56.5px,#7502f6 58.5px,#6701d9 60.5px,#5400a1 62.5px,#31003b 65.5px,#14000c 67.5px,#000000 69.5px,#000000 109.5px,#555555 110.5px)"></i><i style="background:linear-gradient(90deg,#49007d 0.5px,#4e008e 6.5px,#5b01b7 11.5px,#6e02ea 16.5px,#7c03fe 22.5px,#7c03fe 58.5px,#7202f2 60.5px,#6301ce 62.5px,#4f0092 64.5px,#2b002e 67.5px,#1d0016 68.5px,#0e0007 69.5px,#030001 70.5px,#000000 109.5px,#555555 110.5px)"></i><i style="background:linear-gradient(90deg,#3f005e 0.5px,#440070 6.5px,#500094 11.5px,#6d02e9 18.5px,#7d04ff 24.5px,#7d04fe 59.5px,#7502f7 61.5px,#6701da 63.5px,#5500a4 65.5px,#33003f 68.5px,#17000f 70.5px,#090003 71.5px,#000000 73.5px,#000000 109.5px,#555555 110.5px)"></i><i style="background:linear-gradient(90deg,#3a0051 0.5px,#3c0057 7.5px,#49007e 12.5px,#5900b1 16.5px,#6d02e9 20.5px,#7c03fe 25.5px,#7c03fe 61.5px,#7202f2 63.5px,#6301d0 65.5px,#510096 67.5px,#2d0033 70.5px,#110009 72.5px,#050001 73.5px,#000000 80.5px,#000000 109.5px,#555555 110.5px)"></i><i style="background:linear-gradient(90deg,#3b0055 0.5px,#3a0052 10.5px,#420068 13.5px,#52009b 17.5px,#6e02ea 22.5px,#7d04fe 27.5px,#7d04fe 62.5px,#7502f7 64.5px,#6801dc 66.5px,#5600a8 68.5px,#280028 72.5px,#1a0012 73.5px,#0c0005 74.5px,#020000 75.5px,#000000 109.5px,#555555 110.5px)"></i><i style="background:linear-gradient(90deg,#3d0059 0.5px,#3a0051 13.5px,#3e005e 15.5px,#510097 19.5px,#6901e0 23.5px,#7202f3 25.5px,#8004ff 30.5px,#7c03fe 64.5px,#7202f3 66.5px,#6401d2 68.5px,#520099 70.5px,#2f0038 73.5px,#14000c 75.5px,#000000 77.5px,#000000 109.5px,#555555 110.5px)"></i><i style="background:linear-gradient(90deg,#3e005c 0.5px,#3a0052 16.5px,#410065 18.5px,#5700aa 22.5px,#6b01e4 25.5px,#7703f9 28.5px,#8004ff 33.5px,#7d04fe 65.5px,#7402f6 67.5px,#6701da 69.5px,#5600a6 71.5px,#280028 75.5px,#1b0012 76.5px,#0c0005 77.5px,#010000 78.5px,#000000 109.5px,#555555 110.5px)"></i><i style="background:linear-gradient(90deg,#5600a6 0.5px,#510096 3.5px,#400062 8.5px,#3b0054 16.5px,#3b0055 19.5px,#4b0084 22.5px,#6d02e9 27.5px,#7c03fe 31.5px,#7c03fe 66.5px,#7302f4 68.5px,#6501d5 70.5px,#53009f 72.5px,#32003e 75.5px,#18000f 77.5px,#0a0003 78.5px,#000000 79.5px,#000000 109.5px,#555555 110.5px)"></i><i style="background:linear-gradient(90deg,#7302f2 0.5px,#6d02e7 4.5px,#6201ca 7.5px,#5500a5 9.5px,#460076 11.5px,#3e005c 13.5px,#3b0054 21.5px,#450073 23.5px,#6901df 28.5px,#7302f5 30.5px,#7f04ff 34.5px,#7e04ff 66.5px,#7102f0 69.5px,#6301ce 71.5px,#460075 74.5px,#2f0036 76.5px,#15000b 78.5px,#000000 80.5px,#000000 109.5px,#555555 110.5px)"></i><i style="background:linear-gradient(90deg,#8e08e8 0.5px,#7e04fa 7.5px,#7402f2 9.5px,#6701d8 11.5px,#5500a5 13.5px,#43006a 15.5px,#3e005d 16.5px,#3b0054 23.5px,#460075 25.5px,#6c02e7 30.5px,#7903fc 33.5px,#8004ff 38.5px,#7d04fe 67.5px,#7502f7 69.5px,#6801dd 71.5px,#5700ac 73.5px,#2c002f 77.5px,#110008 79.5px,#040001 80.5px,#000000 109.5px,#555555 110.5px)"></i><i style="background:linear-gradient(90deg,#a7146e 0.5px,#a41283 3.5px,#8a07f1 10.5px,#7c04fa 12.5px,#7502f3 13.5px,#6c02e4 14.5px,#6201cc 15.5px,#4a0082 17.5px,#410066 18.5px,#3e005c 19.5px,#3a0051 24.5px,#3b0054 25.5px,#48007a 27.5px,#6801dd 31.5px,#6f02ed 32.5px,#7c03fe 35.5px,#7c03fe 68.5px,#7302f4 70.5px,#6601d7 72.5px,#5500a3 74.5px,#280028 78.5px,#0e0005 80.5px,#020000 81.5px,#000000 109.5px,#555555 110.5px)"></i><i style="background:linear-gradient(90deg,#be2c00 0.5px,#b92608 4.5px,#b42018 6.5px,#ad1941 8.5px,#970cc7 12.5px,#8906f2 14.5px,#8004fa 15.5px,#7603f5 16.5px,#6c02e4 17.5px,#6101c6 18.5px,#450073 20.5px,#3e005e 21.5px,#3a0051 26.5px,#3c0057 27.5px,#52009a 30.5px,#6401d1 32.5px,#6c02e7 33.5px,#7603f8 35.5px,#8004ff 39.5px,#7e04ff 68.5px,#7102f1 71.5px,#6301d0 73.5px,#48007a 76.5px,#250022 79.5px,#0a0003 81.5px,#010000 82.5px,#000000 109.5px,#555555 110.5px)"></i><i style="background:linear-gradient(90deg,#cb4100 0.5px,#c53700 7.5px,#bb2903 10.5px,#b62311 11.5px,#b01d2d 12.5px,#aa1755 13.5px,#9b0db4 15.5px,#930ad8 16.5px,#8907f0 17.5px,#7f04f9 18.5px,#7402f1 19.5px,#6701d8 20.5px,#49007e 22.5px,#3f0061 23.5px,#3a0051 28.5px,#3d005b 29.5px,#5600a6 32.5px,#6901de 34.5px,#7002ee 35.5px,#7d04fe 38.5px,#7d04fe 69.5px,#7502f7 71.5px,#6901de 73.5px,#5800af 75.5px,#2e0035 79.5px,#15000b 81.5px,#000000 83.5px,#000000 109.5px,#555555 110.5px)"></i><i style="background:linear-gradient(90deg,#d35200 0.5px,#cc4300 9.5px,#bc2903 14.5px,#b52119 15.5px,#ad1943 16.5px,#9b0db5 18.5px,#9109de 19.5px,#8606f5 20.5px,#7903f7 21.5px,#6c02e3 22.5px,#5d01bb 23.5px,#4b0086 24.5px,#400062 25.5px,#3b0055 28.5px,#3a0053 30.5px,#400062 31.5px,#6501d3 35.5px,#6d02e9 36.5px,#7703fa 38.5px,#8004ff 42.5px,#7c03fe 70.5px,#7302f4 72.5px,#6601d8 74.5px,#5600a7 76.5px,#2b002e 80.5px,#110008 82.5px,#040001 83.5px,#000000 95.5px,#000000 109.5px,#555555 110.5px)"></i><i style="background:linear-gradient(90deg,#db6600 0.5px,#d65800 8.5px,#c33400 16.5px,#bd2b02 17.5px,#b52118 18.5px,#ac184a 19.5px,#a2118f 20.5px,#970bc9 21.5px,#8b07ed 22.5px,#7d04f8 23.5px,#6f02e9 24.5px,#5f01c1 25.5px,#4c0088 26.5px,#400062 27.5px,#3a0052 31.5px,#3c0056 32.5px,#4c0087 34.5px,#6a01e1 37.5px,#7102f1 38.5px,#7f04ff 41.5px,#7e04ff 70.5px,#7102f1 73.5px,#6401d2 75.5px,#49007f 78.5px,#280028 81.5px,#0e0006 83.5px,#020000 84.5px,#000000 109.5px,#555555 110.5px)"></i><i style="background:linear-gradient(90deg,#e07500 0.5px,#dc6900 9.5px,#c83c00 18.5px,#bb2905 20.5px,#b11e29 21.5px,#9b0db5 23.5px,#8e08e5 24.5px,#8004f8 25.5px,#7002eb 26.5px,#5f01c0 27.5px,#4b0084 28.5px,#3f005f 29.5px,#3a0052 33.5px,#3e005e 34.5px,#6601d7 38.5px,#6f02ec 39.5px,#7e04ff 42.5px,#7d03fe 71.5px,#7002ee 74.5px,#6201cb 76.5px,#470076 79.5px,#250022 82.5px,#0b0003 84.5px,#010000 85.5px,#000000 109.5px,#555555 110.5px)"></i><i style="background:linear-gradient(90deg,#e48100 0.5px,#df7200 11.5px,#d45500 17.5px,#c02f00 22.5px,#b62217 23.5px,#aa1755 24.5px,#9d0fa7 25.5px,#9009e0 26.5px,#8005f7 27.5px,#7002e9 28.5px,#5d01ba 29.5px,#48007c 30.5px,#3e005d 31.5px,#3a0052 34.5px,#3b0055 35.5px,#43006a 36.5px,#6201cc 39.5px,#6c02e6 40.5px,#7803fa 42.5px,#8004ff 46.5px,#7c03fe 72.5px,#7302f5 74.5px,#6701da 76.5px,#5700aa 78.5px,#2e0033 82.5px,#15000b 84.5px,#000000 86.5px,#000000 109.5px,#555555 110.5px)"></i><i style="background:linear-gradient(90deg,#e78e00 0.5px,#e37f00 11.5px,#da6300 18.5px,#c33300 24.5px,#b9260c 25.5px,#ac1948 26.5px,#9f0fa0 27.5px,#9009e0 28.5px,#7f04f7 29.5px,#6d02e5 30.5px,#440070 32.5px,#3d005b 33.5px,#3a0052 36.5px,#3e005d 37.5px,#6901de 41.5px,#7102f1 42.5px,#7f04ff 45.5px,#7d04ff 72.5px,#7202f2 75.5px,#6501d4 77.5px,#4b0084 80.5px,#2b002d 83.5px,#120008 85.5px,#050001 86.5px,#000000 91.5px,#000000 109.5px,#555555 110.5px)"></i><i style="background:linear-gradient(90deg,#eb9c00 0.5px,#e78c00 11.5px,#dc6900 20.5px,#c43500 26.5px,#ba280a 27.5px,#ad1a44 28.5px,#9e0fa1 29.5px,#8e08e3 30.5px,#7d04f6 31.5px,#6901db 32.5px,#52009b 33.5px,#410065 34.5px,#3c0056 36.5px,#3b0055 38.5px,#43006c 39.5px,#6501d4 42.5px,#6f02ec 43.5px,#7a03fc 45.5px,#8004ff 52.5px,#7d03fe 73.5px,#7002ee 76.5px,#6201cd 78.5px,#48007b 81.5px,#280027 84.5px,#0f0006 86.5px,#030000 87.5px,#000000 109.5px,#555555 110.5px)"></i><i style="background:linear-gradient(90deg,#eea800 0.5px,#ea9a00 11.5px,#dd6e00 22.5px,#c53600 28.5px,#ba280a 29.5px,#ac1949 30.5px,#9c0eab 31.5px,#8b07e9 32.5px,#7803f4 33.5px,#6301cb 34.5px,#4b0084 35.5px,#3e005e 36.5px,#3a0052 39.5px,#3f0060 40.5px,#6101c9 43.5px,#6c02e6 44.5px,#7903fb 46.5px,#8004ff 50.5px,#7c03fe 74.5px,#7302f4 76.5px,#6701da 78.5px,#5700ac 80.5px,#2f0037 84.5px,#18000e 86.5px,#010000 88.5px,#000000 109.5px,#555555 110.5px)"></i><i style="background:linear-gradient(90deg,#f0b200 0.5px,#eca200 13.5px,#de7100 24.5px,#c53600 30.5px,#b9270d 31.5px,#aa1756 32.5px,#990dbb 33.5px,#8706f1 34.5px,#7202ec 35.5px,#5a01b2 36.5px,#44006f 37.5px,#3d005a 38.5px,#3a0053 40.5px,#3c0057 41.5px,#450072 42.5px,#6901df 45.5px,#7202f2 46.5px,#7f04ff 49.5px,#7c03fe 74.5px,#7002ee 77.5px,#6201cd 79.5px,#49007c 82.5px,#290029 85.5px,#100007 87.5px,#040001 88.5px,#000000 109.5px,#555555 110.5px)"></i><i style="background:linear-gradient(90deg,#fbe8aa 0.5px,#f7daaa 20.5px,#eec1aa 30.5px,#e9b8aa 32.5px,#e4b3bd 33.5px,#deafe5 34.5px,#d8acfb 35.5px,#d1abfb 36.5px,#c9aae9 37.5px,#c0aacd 38.5px,#beaac6 42.5px,#ceaaf6 46.5px,#d4abff 50.5px,#d1abfd 76.5px,#c9aae8 80.5px,#b5aab2 86.5px,#aaaaaa 90.5px,#aaaaaa 109.5px,#c6c6c6 110.5px)"></i></div>
<div class="hm" style="left:306px;top:125px;width:111px;height:105px"><i style="background:linear-gradient(90deg,#fef755 0.5px,#fbe755 25.5px,#f6d155 36.5px,#eeaf55 45.5px,#de8355 49.5px,#cf6c55 53.5px,#cd6a5a 54.5px,#c060ba 58.5px,#b65bed 61.5px,#ae59fd 63.5px,#a557fc 71.5px,#9856e3 75.5px,#9055ca 77.5px,#6a5565 81.5px,#555555 85.5px,#555555 109.5px,#8e8e8e 110.5px)"></i><i style="background:linear-gradient(90deg,#fcee00 0.5px,#f9de00 20.5px,#f4c400 32.5px,#e68a00 44.5px,#d04a00 48.5px,#b92500 52.5px,#b72200 53.5px,#b21e10 54.5px,#a41281 57.5px,#9a0cbf 59.5px,#8f08e9 61.5px,#8405fd 63.5px,#7703f9 71.5px,#6801dd 74.5px,#5d01be 76.5px,#5500a5 77.5px,#29002b 80.5px,#1c0014 81.5px,#0e0005 83.5px,#010000 84.5px,#000000 109.5px,#555555 110.5px)"></i><i style="background:linear-gradient(90deg,#fbe800 0.5px,#f8d900 20.5px,#f4c200 30.5px,#e58600 43.5px,#e37e00 44.5px,#d14e00 47.5px,#bf2d00 50.5px,#b52102 53.5px,#b11c1f 54.5px,#a2118f 57.5px,#980bc9 59.5px,#8d07f0 61.5px,#8204fe 63.5px,#7903fc 70.5px,#6b01e4 73.5px,#5a01b4 76.5px,#44006d 78.5px,#21001c 80.5px,#080002 83.5px,#000000 84.5px,#000000 109.5px,#555555 110.5px)"></i><i style="background:linear-gradient(90deg,#fae300 0.5px,#f7d300 20.5px,#f3bd00 29.5px,#e27c00 43.5px,#c43500 48.5px,#be2b00 49.5px,#b62101 52.5px,#b21d18 53.5px,#a3118a 56.5px,#990cc6 58.5px,#8d07ee 60.5px,#8305fe 62.5px,#7a03fc 69.5px,#6c01e6 72.5px,#5c01ba 75.5px,#53009d 76.5px,#260024 79.5px,#1b0012 80.5px,#010000 83.5px,#000000 109.5px,#555555 110.5px)"></i><i style="background:linear-gradient(90deg,#f9de00 0.5px,#f6ce00 20.5px,#eea800 32.5px,#e17800 42.5px,#c83d00 46.5px,#b62101 51.5px,#b21d19 52.5px,#a3118c 55.5px,#980cc8 57.5px,#8d07f0 59.5px,#8205fe 61.5px,#7a03fc 68.5px,#6c02e7 71.5px,#5d01bc 74.5px,#5400a1 75.5px,#280029 78.5px,#1c0013 79.5px,#010000 82.5px,#000000 109.5px,#555555 110.5px)"></i><i style="background:linear-gradient(90deg,#f8d800 0.5px,#f5c900 19.5px,#ea9700 34.5px,#e07500 41.5px,#d04b00 44.5px,#c53700 45.5px,#c02f00 46.5px,#bd2a00 48.5px,#b62101 50.5px,#b11d19 51.5px,#a2118e 54.5px,#980bca 56.5px,#8c07f1 58.5px,#8204ff 60.5px,#7a03fc 67.5px,#6d02e7 70.5px,#5d01be 73.5px,#5500a5 74.5px,#2b002e 77.5px,#1d0015 78.5px,#020001 81.5px,#000000 109.5px,#555555 110.5px)"></i><i style="background:linear-gradient(90deg,#f7d300 0.5px,#f4c600 17.5px,#e99300 33.5px,#df7200 40.5px,#cc4400 43.5px,#b52101 49.5px,#b11d1a 50.5px,#a21190 53.5px,#970bcc 55.5px,#8b07f2 57.5px,#8204ff 59.5px,#7a03fc 66.5px,#6d02e8 69.5px,#5e01c0 72.5px,#5700a9 73.5px,#3e005d 75.5px,#2d0033 76.5px,#1e0016 77.5px,#030001 80.5px,#000000 109.5px,#555555 110.5px)"></i><i style="background:linear-gradient(90deg,#f6ce00 0.5px,#f4c200 15.5px,#e89200 31.5px,#de6e00 39.5px,#d35300 41.5px,#c53800 42.5px,#c12f00 45.5px,#b52101 48.5px,#b11d1b 49.5px,#a21192 52.5px,#970bce 54.5px,#8b07f4 56.5px,#8104ff 58.5px,#7a03fc 65.5px,#6d02e8 68.5px,#5e01c1 71.5px,#5800ac 72.5px,#400063 74.5px,#2f0038 75.5px,#1f0018 76.5px,#050001 79.5px,#000000 84.5px,#000000 109.5px,#555555 110.5px)"></i><i style="background:linear-gradient(90deg,#f5c800 0.5px,#f2b900 15.5px,#e68a00 31.5px,#dd6b00 38.5px,#d04c00 40.5px,#bc2900 45.5px,#b52101 47.5px,#b11d1c 48.5px,#a21194 51.5px,#960bd0 53.5px,#8a06f5 55.5px,#8104ff 57.5px,#7a03fc 64.5px,#6d02e9 67.5px,#5f01c3 70.5px,#5900b0 71.5px,#420068 73.5px,#20001a 75.5px,#070002 78.5px,#000000 80.5px,#000000 109.5px,#555555 110.5px)"></i><i style="background:linear-gradient(90deg,#f3c000 0.5px,#f0b100 15.5px,#e48200 31.5px,#dc6800 37.5px,#d65900 38.5px,#c53800 39.5px,#c93d00 41.5px,#b52102 46.5px,#b11d1d 47.5px,#a11096 50.5px,#960ad3 52.5px,#8906f6 54.5px,#8104ff 56.5px,#7a03fc 63.5px,#6d02e9 66.5px,#5f01c5 69.5px,#5a00b3 70.5px,#43006c 72.5px,#22001d 74.5px,#080002 77.5px,#000000 78.5px,#000000 109.5px,#555555 110.5px)"></i><i style="background:linear-gradient(90deg,#f2b800 0.5px,#eea900 15.5px,#e27b00 31.5px,#d96200 36.5px,#cd4600 38.5px,#b52102 45.5px,#b11d1d 46.5px,#a11098 49.5px,#950ad5 51.5px,#8906f8 53.5px,#8004ff 56.5px,#7603f8 63.5px,#6501d4 67.5px,#5a01b5 69.5px,#450071 71.5px,#240020 73.5px,#14000a 75.5px,#000000 77.5px,#000000 109.5px,#555555 110.5px)"></i><i style="background:linear-gradient(90deg,#f0b100 0.5px,#ec9f00 16.5px,#de6f00 32.5px,#db6700 34.5px,#d45500 35.5px,#c63900 36.5px,#ce4800 37.5px,#b82400 43.5px,#b52102 44.5px,#b11c1e 45.5px,#a1109a 48.5px,#950ad7 50.5px,#8806f9 52.5px,#7f04ff 56.5px,#7603f8 62.5px,#6501d5 66.5px,#5b01b8 68.5px,#52009b 69.5px,#260024 72.5px,#1b0012 73.5px,#010000 76.5px,#000000 109.5px,#555555 110.5px)"></i><i style="background:linear-gradient(90deg,#eea900 0.5px,#ea9800 16.5px,#dd6c00 31.5px,#d65900 34.5px,#cf4a00 35.5px,#cc4200 37.5px,#b82400 42.5px,#b52102 43.5px,#b11c1f 44.5px,#a0109c 47.5px,#940ad9 49.5px,#8706fa 51.5px,#7d04fe 58.5px,#7202f3 62.5px,#6101c9 66.5px,#5c01ba 67.5px,#5400a0 68.5px,#280029 71.5px,#1c0013 72.5px,#010000 75.5px,#000000 109.5px,#555555 110.5px)"></i><i style="background:linear-gradient(90deg,#eca200 0.5px,#e89100 16.5px,#dc6800 30.5px,#da6300 31.5px,#cd4600 32.5px,#ca4100 33.5px,#d35300 34.5px,#bf2d00 39.5px,#b52102 42.5px,#b11c20 43.5px,#a00f9f 46.5px,#940adb 48.5px,#8605fb 50.5px,#7a03fd 59.5px,#6a01e2 63.5px,#5d01bc 66.5px,#5500a3 67.5px,#2b002e 70.5px,#1d0015 71.5px,#030001 74.5px,#000000 109.5px,#555555 110.5px)"></i><i style="background:linear-gradient(90deg,#eb9b00 0.5px,#e68a00 16.5px,#dc6900 28.5px,#d35300 30.5px,#d55700 31.5px,#d35300 33.5px,#be2c00 38.5px,#b52101 41.5px,#b11c1f 42.5px,#a0109e 45.5px,#930adb 47.5px,#8d07ef 48.5px,#8605fb 49.5px,#7a03fd 58.5px,#6a01e2 62.5px,#5d01bc 65.5px,#5500a4 66.5px,#2b002f 69.5px,#1d0015 70.5px,#030001 73.5px,#000000 109.5px,#555555 110.5px)"></i><i style="background:linear-gradient(90deg,#e99400 0.5px,#e48300 16.5px,#da6400 27.5px,#d65900 28.5px,#c63a00 29.5px,#d14e00 30.5px,#d65900 31.5px,#bf2c00 37.5px,#b52101 40.5px,#b11d1a 41.5px,#a0109b 44.5px,#940ad9 46.5px,#8e07ee 47.5px,#8706fa 48.5px,#7c03fe 56.5px,#7202f3 59.5px,#6101c9 63.5px,#5c01ba 64.5px,#5400a1 65.5px,#29002b 68.5px,#1d0014 69.5px,#020000 72.5px,#000000 109.5px,#555555 110.5px)"></i><i style="background:linear-gradient(90deg,#e78d00 0.5px,#e27c00 16.5px,#da6300 25.5px,#d04d00 26.5px,#d55700 29.5px,#d35200 31.5px,#bf2d00 36.5px,#b62100 39.5px,#b21d15 40.5px,#a11097 43.5px,#950ad7 45.5px,#8e08ec 46.5px,#8706f9 47.5px,#7f04ff 52.5px,#7603f8 57.5px,#6501d5 61.5px,#5c01b9 63.5px,#53009e 64.5px,#270028 67.5px,#1c0013 68.5px,#010000 71.5px,#000000 109.5px,#555555 110.5px)"></i><i style="background:linear-gradient(90deg,#e58700 0.5px,#e07600 16.5px,#d85d00 24.5px,#cf4900 25.5px,#cb4300 26.5px,#d55800 27.5px,#d25000 30.5px,#bf2d00 35.5px,#b62200 38.5px,#b31e11 39.5px,#a21193 42.5px,#950ad4 44.5px,#8f08ea 45.5px,#8806f8 46.5px,#8004ff 49.5px,#7603f8 56.5px,#6501d4 60.5px,#5b01b7 62.5px,#52009a 63.5px,#260024 66.5px,#1b0012 67.5px,#010000 70.5px,#000000 109.5px,#555555 110.5px)"></i><i style="background:linear-gradient(90deg,#e38000 0.5px,#de7000 16.5px,#da6300 21.5px,#c73b00 23.5px,#d55600 24.5px,#d45300 28.5px,#bc2900 35.5px,#b62200 37.5px,#b31f0d 38.5px,#a2118e 41.5px,#960bd1 43.5px,#8906f7 45.5px,#8104ff 47.5px,#7a03fc 54.5px,#6e02ea 57.5px,#6001c6 60.5px,#5a01b4 61.5px,#450071 63.5px,#240021 65.5px,#1b0012 66.5px,#010000 69.5px,#000000 109.5px,#555555 110.5px)"></i><i style="background:linear-gradient(90deg,#e27a00 0.5px,#dc6a00 16.5px,#da6400 18.5px,#cf4a00 20.5px,#d55700 21.5px,#d04b00 22.5px,#d65800 24.5px,#d14e00 28.5px,#bf2d00 33.5px,#b62200 36.5px,#b31f09 37.5px,#a3118a 40.5px,#970bce 42.5px,#8906f6 44.5px,#8104ff 46.5px,#7a03fc 53.5px,#6d02e9 56.5px,#5f01c4 59.5px,#5a00b2 60.5px,#44006d 62.5px,#23001e 64.5px,#14000a 66.5px,#000000 68.5px,#000000 109.5px,#555555 110.5px)"></i><i style="background:linear-gradient(90deg,#e07400 0.5px,#da6500 15.5px,#d55700 17.5px,#d45400 18.5px,#c73b00 19.5px,#d65a00 21.5px,#d04c00 27.5px,#bc2900 33.5px,#b72200 35.5px,#b42006 36.5px,#9e0eac 40.5px,#9109e4 42.5px,#8a06f5 43.5px,#8104ff 45.5px,#7a03fc 52.5px,#6d02e9 55.5px,#5f01c3 58.5px,#5900b0 59.5px,#420069 61.5px,#21001c 63.5px,#080002 66.5px,#000000 68.5px,#000000 109.5px,#555555 110.5px)"></i><i style="background:linear-gradient(90deg,#de6f00 0.5px,#da6300 12.5px,#d65b00 13.5px,#d75c00 14.5px,#d14d00 15.5px,#c43500 16.5px,#d14e00 17.5px,#d65900 18.5px,#d04a00 26.5px,#b92600 33.5px,#b42005 35.5px,#b01b29 36.5px,#a41282 38.5px,#980bc9 40.5px,#8b07f4 42.5px,#8104ff 44.5px,#7a03fc 51.5px,#6d02e8 54.5px,#5f01c2 57.5px,#5800ad 58.5px,#410065 60.5px,#31003b 61.5px,#20001a 62.5px,#070002 65.5px,#000000 67.5px,#000000 109.5px,#555555 110.5px)"></i><i style="background:linear-gradient(90deg,#dc6900 0.5px,#da6400 8.5px,#d45500 10.5px,#d75c00 11.5px,#cb4300 12.5px,#c53700 13.5px,#d45400 14.5px,#d55700 18.5px,#cc4300 26.5px,#b72300 33.5px,#b52003 34.5px,#b01c24 35.5px,#9f0fa4 38.5px,#9209e0 40.5px,#8b07f2 41.5px,#8104ff 43.5px,#7a03fc 50.5px,#6d02e8 53.5px,#5e01c0 56.5px,#5700aa 57.5px,#3f0061 59.5px,#2f0037 60.5px,#1f0018 61.5px,#050001 64.5px,#000000 68.5px,#000000 109.5px,#555555 110.5px)"></i><i style="background:linear-gradient(90deg,#d85d00 0.5px,#d96200 1.5px,#d55700 3.5px,#d85d00 4.5px,#d65900 5.5px,#cc4500 6.5px,#d45500 8.5px,#c63800 9.5px,#ca3f00 10.5px,#d55800 11.5px,#d35300 12.5px,#d65800 15.5px,#cc4300 25.5px,#b72300 32.5px,#b52101 33.5px,#b11c1e 34.5px,#a00fa0 37.5px,#9309dd 39.5px,#8c07f1 40.5px,#8505fc 41.5px,#7a03fc 49.5px,#6d02e7 52.5px,#5e01bf 55.5px,#5600a7 56.5px,#2d0033 59.5px,#1e0017 60.5px,#040001 63.5px,#000000 109.5px,#555555 110.5px)"></i><i style="background:linear-gradient(90deg,#c73900 0.5px,#d55600 1.5px,#c43400 3.5px,#d25000 4.5px,#d14f00 5.5px,#c93f00 6.5px,#d65900 8.5px,#cf4900 21.5px,#c93d00 25.5px,#b52101 32.5px,#b11d1a 33.5px,#a0109c 36.5px,#940adb 38.5px,#8d07ef 39.5px,#8605fb 40.5px,#7a03fc 48.5px,#6c02e7 51.5px,#5d01bd 54.5px,#5500a4 55.5px,#2b002f 58.5px,#1d0015 59.5px,#030001 62.5px,#000000 109.5px,#555555 110.5px)"></i><i style="background:linear-gradient(90deg,#d45400 0.5px,#d65a00 1.5px,#d14d00 17.5px,#c93d00 24.5px,#b62100 31.5px,#b21e15 32.5px,#a11098 35.5px,#940ad9 37.5px,#8d07ee 38.5px,#8606fa 39.5px,#7903fc 47.5px,#6c01e6 50.5px,#5c01bb 53.5px,#5400a1 54.5px,#29002b 57.5px,#1d0014 58.5px,#020001 61.5px,#000000 109.5px,#555555 110.5px)"></i><i style="background:linear-gradient(90deg,#d65800 0.5px,#ce4700 18.5px,#c93c00 23.5px,#b62200 30.5px,#b31e10 31.5px,#a11094 34.5px,#950ad6 36.5px,#8e08ec 37.5px,#8706fa 38.5px,#7e04ff 43.5px,#7502f7 47.5px,#6701d9 50.5px,#5c01b9 52.5px,#53009e 53.5px,#280028 56.5px,#1c0013 57.5px,#010000 60.5px,#000000 109.5px,#555555 110.5px)"></i><i style="background:linear-gradient(90deg,#d45400 0.5px,#cc4300 20.5px,#b62200 29.5px,#b31f0d 30.5px,#a21190 33.5px,#960ad3 35.5px,#8f08ea 36.5px,#8806f9 37.5px,#8004ff 40.5px,#7903fc 45.5px,#6c01e5 48.5px,#5b01b7 51.5px,#52009a 52.5px,#260025 55.5px,#1b0012 56.5px,#010000 59.5px,#000000 109.5px,#555555 110.5px)"></i><i style="background:linear-gradient(90deg,#d35100 0.5px,#cb4000 20.5px,#b72300 28.5px,#b41f08 29.5px,#a3118b 32.5px,#960bd0 34.5px,#9008e8 35.5px,#8906f7 36.5px,#8104ff 38.5px,#7903fc 44.5px,#6b01e4 47.5px,#5a01b5 50.5px,#450071 52.5px,#240021 54.5px,#1b0012 55.5px,#010000 58.5px,#000000 109.5px,#555555 110.5px)"></i><i style="background:linear-gradient(90deg,#d14e00 0.5px,#c93d00 20.5px,#b52003 28.5px,#b01c27 29.5px,#a41283 31.5px,#970bcb 33.5px,#9109e5 34.5px,#8a06f6 35.5px,#8104ff 37.5px,#7903fc 43.5px,#6b01e3 46.5px,#5900b2 49.5px,#43006b 51.5px,#22001d 53.5px,#080003 56.5px,#000000 58.5px,#000000 109.5px,#555555 110.5px)"></i><i style="background:linear-gradient(90deg,#d04a00 0.5px,#c93d00 19.5px,#b62101 27.5px,#b11d1b 28.5px,#a5137a 30.5px,#990cc6 32.5px,#9209e2 33.5px,#8b07f4 34.5px,#8104ff 36.5px,#7903fc 42.5px,#6a01e2 45.5px,#5f01c4 47.5px,#5800ae 48.5px,#410066 50.5px,#21001b 52.5px,#070002 55.5px,#000000 57.5px,#000000 109.5px,#555555 110.5px)"></i><i style="background:linear-gradient(90deg,#ce4700 0.5px,#c83c00 18.5px,#b62200 26.5px,#b31e11 27.5px,#a0109c 30.5px,#9309de 32.5px,#8c07f2 33.5px,#8405fd 34.5px,#7903fc 41.5px,#6a01e1 44.5px,#5f01c2 46.5px,#5700aa 47.5px,#3f0061 49.5px,#2f0037 50.5px,#1f0018 51.5px,#050001 54.5px,#000000 59.5px,#000000 109.5px,#555555 110.5px)"></i><i style="background:linear-gradient(90deg,#cd4500 0.5px,#c73900 18.5px,#b72300 25.5px,#b41f08 26.5px,#a21194 29.5px,#940ada 31.5px,#8d07f0 32.5px,#8505fc 33.5px,#7903fc 40.5px,#6a01e0 43.5px,#5e01bf 45.5px,#5600a6 46.5px,#2c0031 49.5px,#1e0016 50.5px,#030001 53.5px,#000000 109.5px,#555555 110.5px)"></i><i style="background:linear-gradient(90deg,#cc4300 0.5px,#c53600 18.5px,#b52003 25.5px,#b01b29 26.5px,#a3118b 28.5px,#950ad5 30.5px,#8e08ed 31.5px,#8605fb 32.5px,#7903fc 39.5px,#6901df 42.5px,#5d01bd 44.5px,#5400a2 45.5px,#2a002c 48.5px,#1d0015 49.5px,#030001 52.5px,#000000 109.5px,#555555 110.5px)"></i><i style="background:linear-gradient(90deg,#cb4200 0.5px,#c63800 17.5px,#b62101 24.5px,#b11d1d 25.5px,#a41282 27.5px,#960bd1 29.5px,#8f08eb 30.5px,#8706fa 31.5px,#7c03fe 37.5px,#6e02eb 40.5px,#5c01ba 43.5px,#470078 45.5px,#270027 47.5px,#1c0013 48.5px,#010000 51.5px,#000000 109.5px,#555555 110.5px)"></i><i style="background:linear-gradient(90deg,#cb4000 0.5px,#c53600 17.5px,#b62200 23.5px,#b21e12 24.5px,#a61379 26.5px,#970bcb 28.5px,#9008e7 29.5px,#8806f9 30.5px,#7f04ff 33.5px,#7903fb 37.5px,#6801dd 40.5px,#5b01b7 42.5px,#460073 44.5px,#250023 46.5px,#1b0012 47.5px,#010000 50.5px,#000000 109.5px,#555555 110.5px)"></i><i style="background:linear-gradient(90deg,#ca3f00 0.5px,#c63700 16.5px,#b72300 22.5px,#b41f09 23.5px,#a0109e 26.5px,#990cc6 27.5px,#9109e4 28.5px,#8906f7 29.5px,#8104ff 31.5px,#7903fb 36.5px,#6801db 39.5px,#5a01b4 41.5px,#44006e 43.5px,#23001f 45.5px,#14000a 47.5px,#010000 49.5px,#000000 109.5px,#555555 110.5px)"></i><i style="background:linear-gradient(90deg,#c93d00 0.5px,#c73900 15.5px,#b52003 22.5px,#af1b2d 23.5px,#a11095 25.5px,#9a0cbf 26.5px,#9209e0 27.5px,#8a06f5 28.5px,#8104ff 30.5px,#7803fb 35.5px,#6701da 38.5px,#5900b0 40.5px,#420069 42.5px,#21001c 44.5px,#070002 47.5px,#000000 49.5px,#000000 109.5px,#555555 110.5px)"></i><i style="background:linear-gradient(90deg,#c83c00 0.5px,#c73a00 14.5px,#b62101 21.5px,#b11c1f 22.5px,#a3118c 24.5px,#9b0db9 25.5px,#930adc 26.5px,#8b07f3 27.5px,#8305fd 28.5px,#7803fb 34.5px,#6601d8 37.5px,#5800ac 39.5px,#400063 41.5px,#300039 42.5px,#200019 43.5px,#060002 46.5px,#000000 49.5px,#000000 109.5px,#555555 110.5px)"></i><i style="background:linear-gradient(90deg,#c73a00 0.5px,#c63800 14.5px,#b62200 20.5px,#b21e14 21.5px,#a41283 23.5px,#9c0eb2 24.5px,#940ad7 25.5px,#8c07f1 26.5px,#8405fd 27.5px,#7803fa 33.5px,#6c01e5 35.5px,#5e01c0 37.5px,#5500a5 38.5px,#2c0031 41.5px,#1e0016 42.5px,#040001 45.5px,#000000 109.5px,#555555 110.5px)"></i><i style="background:linear-gradient(90deg,#c73a00 0.5px,#c73a00 13.5px,#b72300 19.5px,#b31f0e 20.5px,#a5137e 22.5px,#9d0eb0 23.5px,#950ad7 24.5px,#8c07f1 25.5px,#8405fd 26.5px,#7b03fd 31.5px,#6f02ed 33.5px,#6101ca 35.5px,#4f0090 37.5px,#320040 39.5px,#22001e 40.5px,#130009 42.5px,#010000 44.5px,#000000 109.5px,#555555 110.5px)"></i><i style="background:linear-gradient(90deg,#c83b00 0.5px,#c93d00 12.5px,#b72300 18.5px,#b41f09 19.5px,#9d0eae 22.5px,#950ad6 23.5px,#8c07f1 24.5px,#8305fd 25.5px,#7903fc 30.5px,#6c01e5 32.5px,#5c01bb 34.5px,#470077 36.5px,#270027 38.5px,#1c0013 39.5px,#020000 42.5px,#000000 109.5px,#555555 110.5px)"></i><i style="background:linear-gradient(90deg,#c83b00 0.5px,#ca3f00 11.5px,#b82400 17.5px,#b42005 18.5px,#ae1a37 19.5px,#9e0eab 21.5px,#950ad6 22.5px,#8b07f2 23.5px,#8305fe 24.5px,#7c03fe 28.5px,#7002ed 30.5px,#6001c5 32.5px,#4b0084 34.5px,#2d0033 36.5px,#1e0017 37.5px,#050001 40.5px,#000000 47.5px,#000000 109.5px,#555555 110.5px)"></i><i style="background:linear-gradient(90deg,#c83c00 0.5px,#cb4000 10.5px,#b52102 17.5px,#af1b2f 18.5px,#a71470 19.5px,#9e0fa9 20.5px,#950ad5 21.5px,#8b07f2 22.5px,#8305fe 23.5px,#7a03fd 27.5px,#6c01e5 29.5px,#5a01b3 31.5px,#42006a 33.5px,#320040 34.5px,#22001e 35.5px,#130009 37.5px,#010000 39.5px,#000000 109.5px,#555555 110.5px)"></i><i style="background:linear-gradient(90deg,#c93d00 0.5px,#cb4200 9.5px,#b62101 16.5px,#b01c27 17.5px,#9e0fa6 19.5px,#950ad5 20.5px,#8b07f3 21.5px,#8305fe 22.5px,#7803fa 26.5px,#7002ee 27.5px,#5d01be 29.5px,#470077 31.5px,#270027 33.5px,#1c0013 34.5px,#020000 37.5px,#000000 109.5px,#555555 110.5px)"></i><i style="background:linear-gradient(90deg,#c93e00 0.5px,#c93e00 9.5px,#b62200 15.5px,#b11d1e 16.5px,#9f0fa3 18.5px,#950ad4 19.5px,#8b07f3 20.5px,#8205fe 21.5px,#7b03fd 24.5px,#7502f6 25.5px,#6b01e4 26.5px,#5700a9 28.5px,#2c0033 31.5px,#1e0017 32.5px,#050001 35.5px,#000000 43.5px,#000000 109.5px,#555555 110.5px)"></i><i style="background:linear-gradient(90deg,#ca3f00 0.5px,#c93e00 8.5px,#b72300 14.5px,#b21e17 15.5px,#9f0fa0 17.5px,#950ad4 18.5px,#8a07f4 19.5px,#8204fe 20.5px,#7903fb 23.5px,#7002ee 24.5px,#6601d6 25.5px,#42006a 28.5px,#320040 29.5px,#22001e 30.5px,#120009 32.5px,#010000 34.5px,#000000 109.5px,#555555 110.5px)"></i><i style="background:linear-gradient(90deg,#cc4400 0.5px,#cb4100 6.5px,#b72300 13.5px,#b31e11 14.5px,#a0109d 16.5px,#950ad3 17.5px,#8a06f4 18.5px,#8204fe 19.5px,#7c03fe 21.5px,#7603f7 22.5px,#6b01e2 23.5px,#470077 26.5px,#270027 28.5px,#1b0013 29.5px,#020000 32.5px,#000000 109.5px,#555555 110.5px)"></i><i style="background:linear-gradient(90deg,#d14e00 0.5px,#cb4000 6.5px,#b92500 11.5px,#b4200c 12.5px,#ad193c 13.5px,#a41281 14.5px,#9a0dbd 15.5px,#8f08e6 16.5px,#8505fb 17.5px,#7d04fe 19.5px,#7703f8 20.5px,#6c02e5 21.5px,#460075 24.5px,#260026 26.5px,#1b0012 27.5px,#020001 30.5px,#000000 109.5px,#555555 110.5px)"></i><i style="background:linear-gradient(90deg,#da6300 0.5px,#d55700 3.5px,#ba2700 9.5px,#b5200d 10.5px,#ad1a3b 11.5px,#a5137c 12.5px,#9b0db5 13.5px,#9109e0 14.5px,#8706f7 15.5px,#7e04ff 17.5px,#7803f9 18.5px,#6c02e4 19.5px,#510096 21.5px,#31003e 23.5px,#22001e 24.5px,#100008 26.5px,#010000 28.5px,#000000 109.5px,#555555 110.5px)"></i><i style="background:linear-gradient(90deg,#e48400 0.5px,#df7200 2.5px,#d55700 4.5px,#d14c00 5.5px,#bd2a00 7.5px,#b62207 8.5px,#ae1a36 9.5px,#a5137a 10.5px,#9b0db4 11.5px,#9109de 12.5px,#8806f5 13.5px,#8104fe 14.5px,#7a03f9 15.5px,#7102e7 16.5px,#6301c9 17.5px,#41006e 19.5px,#250029 21.5px,#180012 22.5px,#040001 25.5px,#000000 109.5px,#555555 110.5px)"></i><i style="background:linear-gradient(90deg,#efab00 0.5px,#eb9c00 1.5px,#d14d00 5.5px,#c33300 6.5px,#b42014 7.5px,#a61472 8.5px,#960bc5 9.5px,#8806ed 10.5px,#7603e6 11.5px,#29003a 15.5px,#10000a 17.5px,#000000 21.5px,#000000 109.5px,#555555 110.5px)"></i><i style="background:linear-gradient(90deg,#f2ba00 0.5px,#e37e00 3.5px,#db6700 4.5px,#cc4400 5.5px,#b22236 6.5px,#7908a8 7.5px,#490278 8.5px,#340154 9.5px,#1d001f 10.5px,#0d0008 11.5px,#000000 15.5px,#000000 109.5px,#555555 110.5px)"></i><i style="background:linear-gradient(90deg,#f2ba00 0.5px,#db6600 4.5px,#be2d07 6.5px,#a6156a 7.5px,#8e0ac9 8.5px,#6d04bd 9.5px,#55029f 10.5px,#2b0042 12.5px,#1a001f 13.5px,#0e0009 14.5px,#000000 18.5px,#000000 109.5px,#555555 110.5px)"></i><i style="background:linear-gradient(90deg,#ea9700 0.5px,#e88f00 1.5px,#d14e00 5.5px,#b92601 7.5px,#b01c27 8.5px,#a51378 9.5px,#990dbb 10.5px,#8e08e5 11.5px,#8405f8 12.5px,#7903f4 13.5px,#6c02da 14.5px,#39005b 17.5px,#290037 18.5px,#11000c 20.5px,#000000 24.5px,#000000 109.5px,#555555 110.5px)"></i><i style="background:linear-gradient(90deg,#df7200 0.5px,#db6800 2.5px,#c93d00 6.5px,#bb2800 8.5px,#b5210d 9.5px,#ae1a3a 10.5px,#9c0eb2 12.5px,#9309dc 13.5px,#8906f6 14.5px,#8104fe 15.5px,#7803f9 17.5px,#6c02e3 18.5px,#500093 20.5px,#2f0039 22.5px,#20001a 23.5px,#0f0007 25.5px,#000000 27.5px,#000000 109.5px,#555555 110.5px)"></i><i style="background:linear-gradient(90deg,#d55700 0.5px,#d04b00 4.5px,#ba2600 10.5px,#b4200d 11.5px,#ad193c 12.5px,#a4137f 13.5px,#9b0db9 14.5px,#9009e3 15.5px,#8606f9 16.5px,#7d04fe 18.5px,#7803f9 19.5px,#6c02e4 20.5px,#440070 23.5px,#340044 24.5px,#240022 25.5px,#190010 26.5px,#010000 29.5px,#000000 109.5px,#555555 110.5px)"></i><i style="background:linear-gradient(90deg,#ce4800 0.5px,#c93e00 7.5px,#b92500 12.5px,#b4200c 13.5px,#ad1940 14.5px,#a31287 15.5px,#990cc3 16.5px,#8d08eb 17.5px,#8405fc 18.5px,#7d04fe 20.5px,#7703f8 21.5px,#6c02e5 22.5px,#470078 25.5px,#280029 27.5px,#1c0014 28.5px,#020001 31.5px,#000000 109.5px,#555555 110.5px)"></i><i style="background:linear-gradient(90deg,#cb4100 0.5px,#ca3f00 7.5px,#b52102 14.5px,#ae1a33 15.5px,#a5137d 16.5px,#9b0dbb 17.5px,#9008e6 18.5px,#8505fb 19.5px,#7b03fd 22.5px,#7302f3 23.5px,#6801dc 24.5px,#450071 27.5px,#240022 29.5px,#1a0011 30.5px,#010000 33.5px,#000000 109.5px,#555555 110.5px)"></i><i style="background:linear-gradient(90deg,#ca3e00 0.5px,#cb4000 8.5px,#b82400 14.5px,#b52005 15.5px,#ad193d 16.5px,#a41283 17.5px,#9a0dbd 18.5px,#9008e6 19.5px,#8505fb 20.5px,#7c03fe 23.5px,#7703f9 24.5px,#6e02e9 25.5px,#5900af 27.5px,#2f0039 30.5px,#20001a 31.5px,#060002 34.5px,#000000 36.5px,#000000 109.5px,#555555 110.5px)"></i><i style="background:linear-gradient(90deg,#c93d00 0.5px,#ca3f00 9.5px,#b82400 15.5px,#b41f09 16.5px,#a31287 18.5px,#9a0cbe 19.5px,#9008e6 20.5px,#8605fb 21.5px,#7a03fc 25.5px,#7202f2 26.5px,#5f01c3 28.5px,#49007e 30.5px,#2a002d 32.5px,#1d0015 33.5px,#030001 36.5px,#000000 109.5px,#555555 110.5px)"></i><i style="background:linear-gradient(90deg,#c93c00 0.5px,#ca4000 10.5px,#b72300 16.5px,#b31f0f 17.5px,#a3118c 19.5px,#9a0cc0 20.5px,#9008e6 21.5px,#8605fa 22.5px,#7b03fe 26.5px,#6e02e9 28.5px,#5b01b8 30.5px,#450071 32.5px,#250022 34.5px,#1a0011 35.5px,#010000 38.5px,#000000 109.5px,#555555 110.5px)"></i><i style="background:linear-gradient(90deg,#c83c00 0.5px,#c93d00 11.5px,#b72200 17.5px,#b21e15 18.5px,#a21190 20.5px,#990cc1 21.5px,#9008e6 22.5px,#8606fa 23.5px,#7c03fe 27.5px,#7202f1 29.5px,#6101ca 31.5px,#4d008a 33.5px,#300039 35.5px,#20001a 36.5px,#060002 39.5px,#000000 41.5px,#000000 109.5px,#555555 110.5px)"></i><i style="background:linear-gradient(90deg,#c83b00 0.5px,#c83c00 12.5px,#b62200 18.5px,#b11d1c 19.5px,#a21193 21.5px,#990cc3 22.5px,#9008e6 23.5px,#8706f9 24.5px,#7d04fe 28.5px,#7502f6 30.5px,#6601d7 32.5px,#5400a2 34.5px,#2a002d 37.5px,#1d0015 38.5px,#030001 41.5px,#000000 109.5px,#555555 110.5px)"></i><i style="background:linear-gradient(90deg,#c83b00 0.5px,#c73a00 13.5px,#b62101 19.5px,#b01c24 20.5px,#a11097 22.5px,#990cc4 23.5px,#9008e6 24.5px,#8706f9 25.5px,#7f04ff 28.5px,#7703fa 31.5px,#6a01e1 33.5px,#5b01b6 35.5px,#440070 37.5px,#250023 39.5px,#1a0011 40.5px,#010000 43.5px,#000000 109.5px,#555555 110.5px)"></i><i style="background:linear-gradient(90deg,#c73a00 0.5px,#c83b00 13.5px,#b52103 20.5px,#af1b2b 21.5px,#a1109a 23.5px,#990cc5 24.5px,#9008e5 25.5px,#8806f9 26.5px,#7f04ff 29.5px,#7903fc 32.5px,#6e02e9 34.5px,#6001c6 36.5px,#5700ac 37.5px,#400063 39.5px,#300039 40.5px,#20001b 41.5px,#060002 44.5px,#000000 46.5px,#000000 109.5px,#555555 110.5px)"></i><i style="background:linear-gradient(90deg,#c83b00 0.5px,#c73900 14.5px,#b72300 20.5px,#b42006 21.5px,#ae1a35 22.5px,#a00f9f 24.5px,#980bc8 25.5px,#9008e7 26.5px,#8706f9 27.5px,#7e04ff 31.5px,#7502f7 34.5px,#6301ce 37.5px,#5b01b8 38.5px,#460074 40.5px,#260024 42.5px,#1b0012 43.5px,#010000 46.5px,#000000 109.5px,#555555 110.5px)"></i><i style="background:linear-gradient(90deg,#c93c00 0.5px,#c63800 15.5px,#b72200 21.5px,#b31f0e 22.5px,#9e0fa7 25.5px,#970bce 26.5px,#8f08ea 27.5px,#8605fa 28.5px,#7b03fd 34.5px,#7002ee 36.5px,#5c01bb 39.5px,#48007a 41.5px,#280028 43.5px,#1c0013 44.5px,#020000 47.5px,#000000 109.5px,#555555 110.5px)"></i><i style="background:linear-gradient(90deg,#c93e00 0.5px,#c73a00 15.5px,#b62200 22.5px,#b21d18 23.5px,#a41282 25.5px,#9d0eaf 26.5px,#950ad4 27.5px,#8d07ed 28.5px,#8505fc 29.5px,#7b03fd 35.5px,#6a01e2 38.5px,#5d01be 40.5px,#5500a3 41.5px,#2a002d 44.5px,#1d0015 45.5px,#030001 48.5px,#000000 109.5px,#555555 110.5px)"></i><i style="background:linear-gradient(90deg,#ca3f00 0.5px,#c63800 16.5px,#b52102 23.5px,#b01c25 24.5px,#a3118c 26.5px,#9c0db6 27.5px,#940ad8 28.5px,#8c07f0 29.5px,#8505fc 30.5px,#7b03fd 36.5px,#6b01e3 39.5px,#5e01c1 41.5px,#5600a7 42.5px,#2d0033 45.5px,#1e0016 46.5px,#040001 49.5px,#000000 109.5px,#555555 110.5px)"></i><i style="background:linear-gradient(90deg,#cb4100 0.5px,#c53700 17.5px,#b72300 23.5px,#b42005 24.5px,#af1a31 25.5px,#a11094 27.5px,#9a0dbd 28.5px,#9309dd 29.5px,#8b07f3 30.5px,#8405fd 31.5px,#7b03fd 37.5px,#6b01e4 40.5px,#5f01c3 42.5px,#5700ab 43.5px,#400062 45.5px,#2f0038 46.5px,#1f0019 47.5px,#050001 50.5px,#000000 53.5px,#000000 109.5px,#555555 110.5px)"></i><i style="background:linear-gradient(90deg,#cc4300 0.5px,#c53500 18.5px,#b72200 24.5px,#b31f0d 25.5px,#a0109d 28.5px,#990cc3 29.5px,#9209e1 30.5px,#8a07f5 31.5px,#8104ff 33.5px,#7603f9 39.5px,#6601d7 42.5px,#5800af 44.5px,#420067 46.5px,#21001b 48.5px,#070002 51.5px,#000000 53.5px,#000000 109.5px,#555555 110.5px)"></i><i style="background:linear-gradient(90deg,#cd4400 0.5px,#c63700 18.5px,#b62200 25.5px,#b21d17 26.5px,#a51379 28.5px,#980bc9 30.5px,#9109e4 31.5px,#8906f6 32.5px,#8104ff 34.5px,#7703f9 40.5px,#6601d8 43.5px,#5a00b3 45.5px,#43006d 47.5px,#22001e 49.5px,#13000a 51.5px,#000000 53.5px,#000000 109.5px,#555555 110.5px)"></i><i style="background:linear-gradient(90deg,#ce4600 0.5px,#c83b00 18.5px,#b52101 26.5px,#b01c22 27.5px,#a41282 29.5px,#970bce 31.5px,#9008e8 32.5px,#8806f8 33.5px,#8004ff 36.5px,#7703f9 41.5px,#6701da 44.5px,#5b01b6 46.5px,#450072 48.5px,#250022 50.5px,#1b0012 51.5px,#010000 54.5px,#000000 109.5px,#555555 110.5px)"></i><i style="background:linear-gradient(90deg,#cf4900 0.5px,#c83b00 19.5px,#b72300 26.5px,#b42005 27.5px,#a3118b 30.5px,#960ad3 32.5px,#8f08eb 33.5px,#8706f9 34.5px,#7e04ff 39.5px,#7703f9 42.5px,#6801db 45.5px,#5c01b9 47.5px,#53009c 48.5px,#270026 51.5px,#1c0013 52.5px,#010000 55.5px,#000000 109.5px,#555555 110.5px)"></i><i style="background:linear-gradient(90deg,#d04c00 0.5px,#c73a00 20.5px,#b72200 27.5px,#b31f0c 28.5px,#a21193 31.5px,#950ad7 33.5px,#8e08ed 34.5px,#8605fb 35.5px,#7b03fd 42.5px,#6d02e9 45.5px,#5d01bc 48.5px,#5400a1 49.5px,#29002b 52.5px,#1d0014 53.5px,#020000 56.5px,#000000 109.5px,#555555 110.5px)"></i><i style="background:linear-gradient(90deg,#d24f00 0.5px,#ca3f00 20.5px,#b62200 28.5px,#b21e15 29.5px,#a0109b 32.5px,#940adb 34.5px,#8d07f0 35.5px,#8605fb 36.5px,#7b03fd 43.5px,#6e02ea 46.5px,#5d01be 49.5px,#5500a5 50.5px,#2c0030 53.5px,#1e0016 54.5px,#030001 57.5px,#000000 109.5px,#555555 110.5px)"></i><i style="background:linear-gradient(90deg,#d35300 0.5px,#cb4100 20.5px,#b52101 29.5px,#b11c1e 30.5px,#9f0fa1 33.5px,#9309de 35.5px,#8c07f2 36.5px,#8505fc 37.5px,#7703fa 45.5px,#6901df 48.5px,#5e01c0 50.5px,#5700a9 51.5px,#2e0035 54.5px,#1e0017 55.5px,#040001 58.5px,#000000 93.5px,#000000 109.5px,#555555 110.5px)"></i><i style="background:linear-gradient(90deg,#d55600 0.5px,#cd4500 19.5px,#c73a00 23.5px,#b52003 30.5px,#b01c24 31.5px,#9f0fa5 34.5px,#9209e1 36.5px,#8b07f3 37.5px,#8104ff 39.5px,#7703fa 46.5px,#6901df 49.5px,#5f01c2 51.5px,#5800ac 52.5px,#400063 54.5px,#300039 55.5px,#200019 56.5px,#060002 59.5px,#000000 62.5px,#000000 109.5px,#555555 110.5px)"></i><i style="background:linear-gradient(90deg,#d65900 0.5px,#d04b00 17.5px,#ca3f00 23.5px,#b72300 30.5px,#b42004 31.5px,#b01b29 32.5px,#a41282 34.5px,#980bca 36.5px,#9109e3 37.5px,#8a07f5 38.5px,#8104ff 40.5px,#7703fa 47.5px,#6901e0 50.5px,#5f01c3 52.5px,#5800af 53.5px,#420067 55.5px,#21001b 57.5px,#070002 60.5px,#000000 62.5px,#000000 109.5px,#555555 110.5px)"></i><i style="background:linear-gradient(90deg,#cb4300 0.5px,#d55700 1.5px,#cd4500 3.5px,#d55600 4.5px,#d35300 6.5px,#d65900 9.5px,#ca4000 24.5px,#b72300 31.5px,#b42006 32.5px,#9d0ead 36.5px,#9108e5 38.5px,#8a06f6 39.5px,#8104ff 41.5px,#7703fa 48.5px,#6a01e1 51.5px,#5900b1 54.5px,#43006b 56.5px,#22001d 58.5px,#080003 61.5px,#000000 62.5px,#000000 109.5px,#555555 110.5px)"></i><i style="background:linear-gradient(90deg,#ce4900 0.5px,#d75b00 1.5px,#c93e00 3.5px,#d35300 4.5px,#d14e00 5.5px,#c33300 6.5px,#d45500 8.5px,#cd4500 9.5px,#d65a00 11.5px,#cd4500 24.5px,#b62200 32.5px,#b41f09 33.5px,#a3118b 36.5px,#960bcf 38.5px,#9008e7 39.5px,#8906f7 40.5px,#8104ff 42.5px,#7803fa 49.5px,#6a01e2 52.5px,#5a01b4 55.5px,#44006f 57.5px,#230020 59.5px,#14000a 61.5px,#010000 63.5px,#000000 109.5px,#555555 110.5px)"></i><i style="background:linear-gradient(90deg,#db6600 0.5px,#da6300 5.5px,#d75c00 7.5px,#d75d00 8.5px,#cc4500 9.5px,#ca4100 10.5px,#d55600 11.5px,#cc4400 12.5px,#cd4600 13.5px,#d65800 14.5px,#ce4600 25.5px,#b82500 32.5px,#b62200 33.5px,#b31f0d 34.5px,#a2118f 37.5px,#960bd2 39.5px,#8f08e9 40.5px,#8806f8 41.5px,#8004ff 44.5px,#7803fa 50.5px,#6a01e2 53.5px,#5b01b6 56.5px,#510098 57.5px,#250023 60.5px,#1b0012 61.5px,#010000 64.5px,#000000 109.5px,#555555 110.5px)"></i><i style="background:linear-gradient(90deg,#dd6c00 0.5px,#da6200 11.5px,#cb4300 13.5px,#d45300 14.5px,#cd4600 16.5px,#d55700 17.5px,#d04b00 25.5px,#b82400 33.5px,#b62200 34.5px,#b31e11 35.5px,#a21193 38.5px,#950ad5 40.5px,#8f08eb 41.5px,#8806f9 42.5px,#7f04ff 46.5px,#7803fa 51.5px,#6b01e3 54.5px,#5b01b8 57.5px,#53009c 58.5px,#270026 61.5px,#1b0013 62.5px,#010000 65.5px,#000000 109.5px,#555555 110.5px)"></i><i style="background:linear-gradient(90deg,#df7100 0.5px,#da6400 14.5px,#d65b00 15.5px,#ca4200 16.5px,#d45500 18.5px,#d14e00 19.5px,#d65800 20.5px,#cf4800 27.5px,#bb2700 33.5px,#b62100 35.5px,#b21e15 36.5px,#a11098 39.5px,#940ad8 41.5px,#8e08ed 42.5px,#8706fa 43.5px,#7d03fe 50.5px,#7402f5 53.5px,#6601d8 56.5px,#5c01ba 58.5px,#54009f 59.5px,#280029 62.5px,#1c0014 63.5px,#020000 66.5px,#000000 109.5px,#555555 110.5px)"></i><i style="background:linear-gradient(90deg,#e17700 0.5px,#dc6900 15.5px,#d75c00 18.5px,#c83d00 19.5px,#cb4200 20.5px,#d65900 21.5px,#d24f00 27.5px,#bb2700 34.5px,#b52101 36.5px,#b11d1a 37.5px,#a0109b 40.5px,#940ada 42.5px,#8d07ef 43.5px,#8605fb 44.5px,#7b03fe 52.5px,#6f02ee 55.5px,#5d01bc 59.5px,#5500a3 60.5px,#2a002d 63.5px,#1d0015 64.5px,#030001 67.5px,#000000 109.5px,#555555 110.5px)"></i><i style="background:linear-gradient(90deg,#e27d00 0.5px,#dd6d00 16.5px,#d75b00 21.5px,#ca3f00 22.5px,#cc4500 23.5px,#d65900 24.5px,#d04b00 29.5px,#bd2b00 34.5px,#b52101 37.5px,#b11c1f 38.5px,#a00f9f 41.5px,#9309dc 43.5px,#8c07f0 44.5px,#8605fb 45.5px,#7803fb 54.5px,#6701d9 58.5px,#5d01bd 60.5px,#5600a6 61.5px,#2c0031 64.5px,#1e0016 65.5px,#030001 68.5px,#000000 109.5px,#555555 110.5px)"></i><i style="background:linear-gradient(90deg,#e48300 0.5px,#df7300 16.5px,#db6700 21.5px,#d85f00 22.5px,#d04c00 23.5px,#d55600 24.5px,#d25000 25.5px,#d65800 27.5px,#d04c00 30.5px,#bd2b00 35.5px,#b52003 38.5px,#b01c24 39.5px,#9f0fa3 42.5px,#9209df 44.5px,#8c07f2 45.5px,#8204ff 47.5px,#7803fb 55.5px,#6701da 59.5px,#5e01bf 61.5px,#5700a9 62.5px,#3f005f 64.5px,#2e0035 65.5px,#1e0017 66.5px,#040001 69.5px,#000000 109.5px,#555555 110.5px)"></i><i style="background:linear-gradient(90deg,#e68a00 0.5px,#e17900 16.5px,#da6400 24.5px,#d35400 25.5px,#c63800 26.5px,#d25100 27.5px,#d65900 28.5px,#d14c00 31.5px,#bd2a00 36.5px,#b42005 39.5px,#b01b29 40.5px,#9e0fa7 43.5px,#9209e1 45.5px,#8b07f3 46.5px,#8104ff 48.5px,#7803fb 56.5px,#6701db 60.5px,#5e01c0 62.5px,#5700ac 63.5px,#400063 65.5px,#300039 66.5px,#200019 67.5px,#060002 70.5px,#000000 73.5px,#000000 109.5px,#555555 110.5px)"></i><i style="background:linear-gradient(90deg,#e89000 0.5px,#e38000 16.5px,#d96200 26.5px,#ce4800 29.5px,#d55800 30.5px,#d14d00 32.5px,#bd2a00 37.5px,#b72300 39.5px,#b42006 40.5px,#9e0eab 44.5px,#9109e3 46.5px,#8a07f4 47.5px,#8104ff 49.5px,#7803fb 57.5px,#6801dc 61.5px,#5e01c2 63.5px,#5800ae 64.5px,#410067 66.5px,#21001b 68.5px,#070002 71.5px,#000000 73.5px,#000000 109.5px,#555555 110.5px)"></i><i style="background:linear-gradient(90deg,#ea9700 0.5px,#e58600 16.5px,#da6300 28.5px,#ce4a00 29.5px,#cd4600 30.5px,#d65900 31.5px,#d14e00 33.5px,#bd2a00 38.5px,#b72300 40.5px,#b41f0a 41.5px,#a31289 44.5px,#970bcd 46.5px,#8a06f6 48.5px,#8104ff 50.5px,#7803fb 58.5px,#6801dc 62.5px,#5900b1 65.5px,#43006b 67.5px,#22001d 69.5px,#080003 72.5px,#000000 74.5px,#000000 109.5px,#555555 110.5px)"></i><i style="background:linear-gradient(90deg,#eb9e00 0.5px,#e78d00 16.5px,#dc6800 29.5px,#d75b00 31.5px,#cb4100 32.5px,#d24f00 33.5px,#d24f00 34.5px,#bd2a00 39.5px,#b72200 41.5px,#b31f0d 42.5px,#a3118d 45.5px,#970bcf 47.5px,#8906f6 49.5px,#8104ff 51.5px,#7803fb 59.5px,#6801dd 63.5px,#5a00b3 66.5px,#44006e 68.5px,#22001e 70.5px,#14000a 72.5px,#000000 74.5px,#000000 109.5px,#555555 110.5px)"></i><i style="background:linear-gradient(90deg,#eda500 0.5px,#e99400 16.5px,#dc6800 31.5px,#d75c00 32.5px,#cd4600 33.5px,#d45400 34.5px,#ba2600 41.5px,#b72200 42.5px,#b31f0d 43.5px,#a3118b 46.5px,#970bcd 48.5px,#8a06f5 50.5px,#8104ff 52.5px,#7803fb 60.5px,#6801dc 64.5px,#5900b0 67.5px,#420069 69.5px,#21001b 71.5px,#070002 74.5px,#000000 76.5px,#000000 109.5px,#555555 110.5px)"></i><i style="background:linear-gradient(90deg,#efad00 0.5px,#eb9c00 16.5px,#dd6b00 32.5px,#d96100 34.5px,#cd4700 35.5px,#ca4100 36.5px,#ce4700 37.5px,#ba2600 42.5px,#b72200 43.5px,#b31f0c 44.5px,#a31289 47.5px,#970bcb 49.5px,#8b07f4 51.5px,#8104ff 53.5px,#7803fb 61.5px,#6801db 65.5px,#5e01c1 67.5px,#5800ad 68.5px,#410065 70.5px,#31003b 71.5px,#200019 72.5px,#060002 75.5px,#000000 77.5px,#000000 109.5px,#555555 110.5px)"></i><i style="background:linear-gradient(90deg,#f1b400 0.5px,#eda500 15.5px,#e17700 31.5px,#da6500 35.5px,#cf4c00 36.5px,#ca3f00 39.5px,#b72300 44.5px,#b31f0c 45.5px,#9e0eaa 49.5px,#9209e1 51.5px,#8505fc 53.5px,#7803fb 62.5px,#6701da 66.5px,#5e01bf 68.5px,#5700aa 69.5px,#3f0060 71.5px,#2e0035 72.5px,#1e0017 73.5px,#110007 75.5px,#040001 76.5px,#000000 109.5px,#555555 110.5px)"></i><i style="background:linear-gradient(90deg,#f2bc00 0.5px,#efad00 15.5px,#e37e00 31.5px,#d96100 37.5px,#c63800 39.5px,#ca3f00 40.5px,#b72300 45.5px,#b31f0b 46.5px,#9e0fa8 50.5px,#9209df 52.5px,#8605fb 54.5px,#7803fb 63.5px,#6701da 67.5px,#5d01be 69.5px,#5600a6 70.5px,#2c0030 73.5px,#1d0015 74.5px,#030001 77.5px,#000000 109.5px,#555555 110.5px)"></i><i style="background:linear-gradient(90deg,#f4c400 0.5px,#f1b500 15.5px,#e58600 31.5px,#da6500 38.5px,#d04d00 39.5px,#c93e00 40.5px,#cb4000 41.5px,#b72300 46.5px,#b31f0b 47.5px,#9f0fa6 51.5px,#9309dd 53.5px,#8606fa 55.5px,#7b03fe 63.5px,#7002ee 66.5px,#5d01bc 70.5px,#5500a2 71.5px,#29002b 74.5px,#1c0014 75.5px,#020000 78.5px,#000000 109.5px,#555555 110.5px)"></i><i style="background:linear-gradient(90deg,#f6cc00 0.5px,#f3bd00 15.5px,#e78e00 31.5px,#db6800 39.5px,#c43500 42.5px,#c63800 43.5px,#b72300 47.5px,#b31f0a 48.5px,#9f0fa4 52.5px,#940adb 54.5px,#8706fa 56.5px,#7d04ff 62.5px,#7402f5 66.5px,#6601d8 69.5px,#5c01ba 71.5px,#53009e 72.5px,#270026 75.5px,#1c0013 76.5px,#010000 79.5px,#000000 109.5px,#555555 110.5px)"></i><i style="background:linear-gradient(90deg,#f7d100 0.5px,#f4c400 16.5px,#e89200 32.5px,#dc6b00 40.5px,#c53600 43.5px,#c73900 44.5px,#b72300 48.5px,#b41f0a 49.5px,#9f0fa2 53.5px,#940ad9 55.5px,#8806f9 57.5px,#7f04ff 61.5px,#7803fb 66.5px,#6b01e3 69.5px,#5b01b7 72.5px,#52009a 73.5px,#250022 76.5px,#1b0012 77.5px,#010000 80.5px,#000000 109.5px,#555555 110.5px)"></i><i style="background:linear-gradient(90deg,#f8d600 0.5px,#f5c800 18.5px,#e99300 34.5px,#e17700 40.5px,#cc4300 44.5px,#c33300 45.5px,#b72300 49.5px,#b41f09 50.5px,#a00f9f 54.5px,#950ad7 56.5px,#8906f7 58.5px,#8004ff 61.5px,#7803fb 67.5px,#6a01e2 70.5px,#5a01b5 73.5px,#440070 75.5px,#23001e 77.5px,#14000a 79.5px,#000000 81.5px,#000000 109.5px,#555555 110.5px)"></i><i style="background:linear-gradient(90deg,#f9db00 0.5px,#f5cb00 20.5px,#ea9700 35.5px,#e27a00 41.5px,#cc4300 45.5px,#c13000 46.5px,#bf2d00 48.5px,#b72300 50.5px,#b41f09 51.5px,#a0109d 55.5px,#950ad5 57.5px,#8906f6 59.5px,#8104ff 61.5px,#7803fa 68.5px,#6a01e1 71.5px,#5a00b2 74.5px,#43006b 76.5px,#21001b 78.5px,#070002 81.5px,#000000 83.5px,#000000 109.5px,#555555 110.5px)"></i><i style="background:linear-gradient(90deg,#fae000 0.5px,#f7d000 20.5px,#f1b400 30.5px,#e37e00 42.5px,#c23100 48.5px,#b72300 51.5px,#b41f08 52.5px,#a0109b 56.5px,#960ad3 58.5px,#8a06f5 60.5px,#8104ff 62.5px,#7803fa 69.5px,#6a01e1 72.5px,#5f01c4 74.5px,#5900af 75.5px,#410066 77.5px,#31003b 78.5px,#200019 79.5px,#060002 82.5px,#000000 85.5px,#000000 109.5px,#555555 110.5px)"></i><i style="background:linear-gradient(90deg,#fbe600 0.5px,#f8d600 20.5px,#f3be00 30.5px,#e48100 43.5px,#c83d00 48.5px,#be2c00 49.5px,#b82300 52.5px,#b41f08 53.5px,#a1109a 57.5px,#960bd2 59.5px,#8b07f4 61.5px,#8104ff 63.5px,#7803fa 70.5px,#6901e0 73.5px,#5f01c2 75.5px,#5700ab 76.5px,#3f0060 78.5px,#2e0034 79.5px,#1e0016 80.5px,#100007 82.5px,#040001 83.5px,#000000 109.5px,#555555 110.5px)"></i><i style="background:linear-gradient(90deg,#fceb00 0.5px,#f9dc00 20.5px,#f4c300 31.5px,#e58400 44.5px,#ce4600 48.5px,#bd2b00 51.5px,#b62200 53.5px,#b21d17 54.5px,#a31288 57.5px,#990cc4 59.5px,#8e08ed 61.5px,#8305fe 63.5px,#7a03fd 70.5px,#6c01e6 73.5px,#5c01ba 76.5px,#53009d 77.5px,#250022 80.5px,#1b0012 81.5px,#000000 84.5px,#000000 109.5px,#555555 110.5px)"></i><i style="background:linear-gradient(90deg,#fdf100 0.5px,#fae100 20.5px,#f4c400 33.5px,#e78e00 44.5px,#e48300 45.5px,#d24f00 48.5px,#b92500 52.5px,#b72300 53.5px,#b31f0a 54.5px,#a0109c 58.5px,#960bd2 60.5px,#8b07f4 62.5px,#8204ff 64.5px,#7803fa 71.5px,#6901e0 74.5px,#5f01c2 76.5px,#5700ac 77.5px,#3f0060 79.5px,#2e0035 80.5px,#1e0016 81.5px,#110007 83.5px,#040001 84.5px,#000000 109.5px,#555555 110.5px)"></i></div>
<div class="hm" style="left:424px;top:125px;width:111px;height:105px"><i style="background:linear-gradient(90deg,#a857ff 0.5px,#ac58ff 29.5px,#b25af5 31.5px,#bb5dd7 33.5px,#c160b4 34.5px,#c8667f 35.5px,#cf6d59 36.5px,#e38f55 39.5px,#f1bb55 42.5px,#f7d555 44.5px,#f9dc55 46.5px,#f8db55 48.5px,#f4c755 50.5px,#eba755 51.5px,#d97d5a 52.5px,#bb5fc4 53.5px,#9b56e5 54.5px,#9756e0 58.5px,#9455d6 60.5px,#705570 68.5px,#605559 71.5px,#555555 74.5px,#555555 109.5px,#8e8e8e 110.5px)"></i><i style="background:linear-gradient(90deg,#7d04fe 0.5px,#8305fe 27.5px,#8c07f0 29.5px,#9209e0 30.5px,#980cc6 31.5px,#a0109a 32.5px,#b42018 34.5px,#be2d00 35.5px,#da6400 38.5px,#eca100 41.5px,#f4c500 43.5px,#f5ca00 46.5px,#f5c800 47.5px,#f2bb00 48.5px,#eca300 49.5px,#dd7000 50.5px,#c0341b 51.5px,#930db3 52.5px,#6902d6 53.5px,#6601d8 56.5px,#6001c7 59.5px,#420068 64.5px,#260023 68.5px,#0d0004 71.5px,#000000 73.5px,#000000 109.5px,#555555 110.5px)"></i><i style="background:linear-gradient(90deg,#7d04fe 0.5px,#8204fe 24.5px,#8906f6 26.5px,#940ad8 28.5px,#9a0dbc 29.5px,#a2118c 30.5px,#ac1849 31.5px,#b52113 32.5px,#bf2d00 33.5px,#d96100 36.5px,#eb9c00 39.5px,#f3c000 41.5px,#f5c900 42.5px,#f5ca00 45.5px,#f4c300 46.5px,#f0b200 47.5px,#e79100 48.5px,#d35600 49.5px,#b0214b 50.5px,#8207d8 51.5px,#6401d1 52.5px,#6801dc 54.5px,#6401d2 57.5px,#6101ca 58.5px,#2a002b 67.5px,#130009 70.5px,#020000 72.5px,#000000 109.5px,#555555 110.5px)"></i><i style="background:linear-gradient(90deg,#7d04fe 0.5px,#8405fd 22.5px,#8d07ef 24.5px,#970bcc 26.5px,#9d0eab 27.5px,#a51378 28.5px,#ae1a38 29.5px,#b7230c 30.5px,#c02f00 31.5px,#d86000 34.5px,#ea9900 37.5px,#f5c800 40.5px,#f5c800 44.5px,#f2bc00 45.5px,#eda600 46.5px,#e07900 47.5px,#c73f0a 48.5px,#a0138a 49.5px,#7303df 50.5px,#6401d2 51.5px,#6801dd 52.5px,#6501d4 56.5px,#6201cd 57.5px,#5600a6 59.5px,#260023 67.5px,#0e0005 70.5px,#000000 72.5px,#000000 109.5px,#555555 110.5px)"></i><i style="background:linear-gradient(90deg,#7d04ff 0.5px,#8505fc 19.5px,#9109e3 22.5px,#950ad3 23.5px,#9b0dba 24.5px,#a11193 25.5px,#b11d24 27.5px,#ba2605 28.5px,#d14e00 31.5px,#ea9700 35.5px,#f4c600 38.5px,#f5ca00 42.5px,#f4c300 43.5px,#f0b300 44.5px,#e99500 45.5px,#d75f00 46.5px,#b92a2b 47.5px,#8e0ac3 48.5px,#6902d6 49.5px,#6801de 52.5px,#6501d4 55.5px,#6201cb 56.5px,#5500a5 58.5px,#270025 66.5px,#100007 69.5px,#010000 71.5px,#000000 109.5px,#555555 110.5px)"></i><i style="background:linear-gradient(90deg,#7f04ff 0.5px,#8405fd 15.5px,#8e08ec 18.5px,#960ad2 20.5px,#9a0dbe 21.5px,#a0109e 22.5px,#a61470 23.5px,#ae1a39 24.5px,#b52111 25.5px,#bd2a00 26.5px,#d25000 29.5px,#e99600 33.5px,#f4c300 36.5px,#f5ca00 38.5px,#f5c700 41.5px,#eea800 43.5px,#e27e00 44.5px,#cc4703 45.5px,#a91a67 46.5px,#7e05e0 47.5px,#6401d0 48.5px,#6801db 49.5px,#6601d8 53.5px,#6101c9 55.5px,#5a00b2 56.5px,#21001b 66.5px,#0b0003 69.5px,#000000 71.5px,#000000 109.5px,#555555 110.5px)"></i><i style="background:linear-gradient(90deg,#8104ff 0.5px,#8605fb 11.5px,#9109e4 15.5px,#970bcc 17.5px,#9b0db8 18.5px,#a0109b 19.5px,#a61473 20.5px,#ad1942 21.5px,#b31f1a 22.5px,#ba2703 23.5px,#d45500 27.5px,#e99600 31.5px,#f4c100 34.5px,#f5ca00 36.5px,#f5c900 39.5px,#f0b200 41.5px,#e99600 42.5px,#d96400 43.5px,#be3119 44.5px,#980eab 45.5px,#6f02de 46.5px,#6401d1 47.5px,#6901de 48.5px,#6501d4 53.5px,#29002a 64.5px,#14000a 67.5px,#000000 70.5px,#000000 109.5px,#555555 110.5px)"></i><i style="background:linear-gradient(90deg,#8505fb 0.5px,#8c07f0 8.5px,#950ad6 12.5px,#9b0dbb 14.5px,#a31289 16.5px,#ae1a3a 18.5px,#b31f18 19.5px,#b92604 20.5px,#d14d00 24.5px,#ea9700 29.5px,#f3c000 32.5px,#f5ca00 34.5px,#f4c600 38.5px,#eda600 40.5px,#e27f00 41.5px,#ce4b00 42.5px,#af1e4e 43.5px,#8607d9 44.5px,#6601d3 45.5px,#6901df 48.5px,#6501d4 52.5px,#5500a4 55.5px,#24001f 64.5px,#0f0005 67.5px,#010000 69.5px,#000000 109.5px,#555555 110.5px)"></i><i style="background:linear-gradient(90deg,#9209e1 0.5px,#960bd2 6.5px,#9b0db9 9.5px,#a11098 11.5px,#a81564 13.5px,#b11d24 15.5px,#b6220e 16.5px,#bb2801 17.5px,#d45500 22.5px,#ea9900 27.5px,#f5c800 31.5px,#f5c800 36.5px,#f0b000 38.5px,#e99400 39.5px,#d96400 40.5px,#c13411 41.5px,#9e1197 42.5px,#7604e2 43.5px,#6301cf 44.5px,#6801dc 45.5px,#6801db 49.5px,#6401d2 51.5px,#2b002e 62.5px,#100007 66.5px,#000000 69.5px,#000000 109.5px,#555555 110.5px)"></i><i style="background:linear-gradient(90deg,#9f0fa2 0.5px,#a21190 4.5px,#a71569 7.5px,#b31f19 11.5px,#ba2701 13.5px,#cf4900 18.5px,#f1b400 27.5px,#f5c800 29.5px,#f5c900 34.5px,#f1b500 36.5px,#eca300 37.5px,#e17b00 38.5px,#ce4b00 39.5px,#b12142 40.5px,#8c09d1 41.5px,#6902d8 42.5px,#6501d3 43.5px,#6901df 44.5px,#6601d8 49.5px,#6401d2 50.5px,#5d01bd 51.5px,#260024 62.5px,#0b0003 66.5px,#000000 69.5px,#000000 109.5px,#555555 110.5px)"></i><i style="background:linear-gradient(90deg,#b11d24 0.5px,#b5210d 5.5px,#bc2900 8.5px,#cd4600 14.5px,#e17900 19.5px,#f5c900 27.5px,#f4c600 33.5px,#efab00 35.5px,#e78e00 36.5px,#d86000 37.5px,#c1340f 38.5px,#a0138b 39.5px,#7b04e6 40.5px,#6301cf 41.5px,#6901e0 43.5px,#6601d8 48.5px,#6301ce 49.5px,#270026 61.5px,#0d0004 65.5px,#000000 68.5px,#000000 109.5px,#555555 110.5px)"></i><i style="background:linear-gradient(90deg,#c23100 0.5px,#cb4100 8.5px,#d85e00 13.5px,#f4c500 24.5px,#f5ca00 30.5px,#f3be00 32.5px,#eb9b00 34.5px,#cd4700 36.5px,#b12041 37.5px,#8f0ace 38.5px,#6c02dd 39.5px,#6301cf 40.5px,#6901de 41.5px,#6701db 46.5px,#6301ce 48.5px,#5c01b9 49.5px,#43006c 55.5px,#22001d 61.5px,#080002 65.5px,#000000 68.5px,#000000 109.5px,#555555 110.5px)"></i><i style="background:linear-gradient(90deg,#d04b00 0.5px,#d65a00 7.5px,#efad00 19.5px,#f5c700 22.5px,#f5c800 29.5px,#f1b400 31.5px,#eda400 32.5px,#e48300 33.5px,#d55800 34.5px,#bf3012 35.5px,#a0128e 36.5px,#7d05e7 37.5px,#6401d0 38.5px,#6901e0 40.5px,#6601d8 46.5px,#5800ae 49.5px,#23001f 60.5px,#0a0003 64.5px,#000000 67.5px,#000000 109.5px,#555555 110.5px)"></i><i style="background:linear-gradient(90deg,#dd6c00 0.5px,#e37e00 7.5px,#eda600 15.5px,#f5c900 20.5px,#f5c900 27.5px,#eea900 30.5px,#e78f00 31.5px,#c93f02 33.5px,#ae1d4b 34.5px,#8e09d3 35.5px,#6d02de 36.5px,#6301ce 37.5px,#6801dd 38.5px,#6801de 43.5px,#6601d8 45.5px,#5800ae 48.5px,#240021 59.5px,#0c0003 63.5px,#000000 66.5px,#000000 109.5px,#555555 110.5px)"></i><i style="background:linear-gradient(90deg,#e68b00 0.5px,#ea9900 8.5px,#f5c900 17.5px,#f5c800 25.5px,#efac00 28.5px,#e99700 29.5px,#d04c00 31.5px,#b9291f 32.5px,#9c109f 33.5px,#7c04e9 34.5px,#6401d0 35.5px,#6901e0 37.5px,#6701db 43.5px,#6601d6 44.5px,#5f01c3 45.5px,#44006e 52.5px,#250023 58.5px,#0d0005 62.5px,#000000 65.5px,#000000 109.5px,#555555 110.5px)"></i><i style="background:linear-gradient(90deg,#eca000 0.5px,#f0b100 8.5px,#f5ca00 14.5px,#f5c800 23.5px,#efad00 26.5px,#eb9c00 27.5px,#d45700 29.5px,#c23409 30.5px,#a81768 31.5px,#8b08df 32.5px,#6c02dd 33.5px,#6201cd 34.5px,#6801dc 35.5px,#6a01e1 39.5px,#6501d4 43.5px,#5b01b7 45.5px,#3b0054 53.5px,#21001b 58.5px,#090002 62.5px,#000000 65.5px,#000000 109.5px,#555555 110.5px)"></i><i style="background:linear-gradient(90deg,#f1b800 0.5px,#f5ca00 12.5px,#f5c700 21.5px,#efad00 24.5px,#eb9e00 25.5px,#c73d01 28.5px,#b01f3e 29.5px,#960cbf 30.5px,#7804ea 31.5px,#6301cd 32.5px,#6901e0 34.5px,#6801dd 40.5px,#6401d2 42.5px,#5e01bf 43.5px,#49007d 49.5px,#22001c 57.5px,#0a0003 61.5px,#000000 64.5px,#000000 109.5px,#555555 110.5px)"></i><i style="background:linear-gradient(90deg,#f5c900 0.5px,#f5c900 18.5px,#efac00 22.5px,#eb9d00 23.5px,#cb4300 26.5px,#b72524 27.5px,#9e1099 28.5px,#8306eb 29.5px,#6901d8 30.5px,#6201cc 31.5px,#6801dc 32.5px,#6a01e3 36.5px,#6701db 40.5px,#5b01b6 43.5px,#23001e 56.5px,#0c0004 60.5px,#000000 63.5px,#000000 109.5px,#555555 110.5px)"></i><i style="background:linear-gradient(90deg,#f5ca00 0.5px,#f5c600 16.5px,#eeaa00 20.5px,#ea9b00 21.5px,#cd4600 24.5px,#bb2a14 25.5px,#a4147a 26.5px,#8c08e1 27.5px,#7002e4 28.5px,#6201ca 29.5px,#6901e0 31.5px,#6901e0 37.5px,#6701db 39.5px,#5a01b5 42.5px,#240020 55.5px,#0e0005 59.5px,#000000 62.5px,#000000 109.5px,#555555 110.5px)"></i><i style="background:linear-gradient(90deg,#f5ca00 0.5px,#f4c600 13.5px,#eda600 18.5px,#e99500 19.5px,#cd4600 22.5px,#bd2c0f 23.5px,#a81765 24.5px,#910ad3 25.5px,#7803ec 26.5px,#6401d0 27.5px,#6301cf 28.5px,#6801dd 29.5px,#6b01e3 34.5px,#6701d9 38.5px,#5a01b4 41.5px,#250022 54.5px,#0f0006 58.5px,#000000 61.5px,#000000 109.5px,#555555 110.5px)"></i><i style="background:linear-gradient(90deg,#f5ca00 0.5px,#f5c600 9.5px,#eea900 15.5px,#e68b00 17.5px,#cb4400 20.5px,#bc2c0e 21.5px,#a9185e 22.5px,#950bc9 23.5px,#7e04f0 24.5px,#6701d7 25.5px,#6101ca 26.5px,#6901e0 28.5px,#6901e0 34.5px,#6601d7 37.5px,#5f01c4 38.5px,#44006e 46.5px,#240020 53.5px,#090002 58.5px,#000000 61.5px,#000000 109.5px,#555555 110.5px)"></i><i style="background:linear-gradient(90deg,#f5c700 0.5px,#f2b900 8.5px,#eea800 12.5px,#e89000 14.5px,#c83e00 18.5px,#ba2813 19.5px,#a81762 20.5px,#950bc7 21.5px,#8105f1 22.5px,#6b02dc 23.5px,#6101c8 24.5px,#6901df 26.5px,#6901e0 32.5px,#6601d8 35.5px,#22001d 52.5px,#070002 57.5px,#000000 61.5px,#000000 109.5px,#555555 110.5px)"></i><i style="background:linear-gradient(90deg,#f1b700 0.5px,#eea800 8.5px,#e68c00 11.5px,#ce4700 15.5px,#c33501 16.5px,#b52223 17.5px,#940bce 19.5px,#8105f2 20.5px,#6c02e0 21.5px,#6101c9 22.5px,#6a01e1 25.5px,#6801dd 32.5px,#6601d7 34.5px,#6301ce 35.5px,#5c01bb 36.5px,#410066 44.5px,#21001b 51.5px,#060001 56.5px,#000000 61.5px,#000000 109.5px,#555555 110.5px)"></i><i style="background:linear-gradient(90deg,#eda500 0.5px,#ea9700 5.5px,#de7000 9.5px,#c63900 13.5px,#bb290e 14.5px,#ae1b43 15.5px,#9f1097 16.5px,#9009dc 17.5px,#7f04f4 18.5px,#6c02e0 19.5px,#6101c8 20.5px,#6901e0 23.5px,#6901df 30.5px,#6601d6 33.5px,#5b01b8 35.5px,#400062 43.5px,#200019 50.5px,#0a0003 54.5px,#000000 57.5px,#000000 109.5px,#555555 110.5px)"></i><i style="background:linear-gradient(90deg,#e07700 0.5px,#da6300 5.5px,#c33400 10.5px,#ba280f 11.5px,#b01d38 12.5px,#970cc2 14.5px,#8a07ec 15.5px,#7a04f3 16.5px,#6901db 17.5px,#6001c7 18.5px,#6901e0 21.5px,#6a01e0 28.5px,#6501d5 32.5px,#5b01b6 34.5px,#24001f 48.5px,#090002 53.5px,#000000 56.5px,#000000 109.5px,#555555 110.5px)"></i><i style="background:linear-gradient(90deg,#ce4800 0.5px,#c43600 5.5px,#bf2f01 6.5px,#ba270f 7.5px,#b32028 8.5px,#ab1852 9.5px,#980cc1 11.5px,#8d08e6 12.5px,#8105f6 13.5px,#7202ea 14.5px,#6501d2 15.5px,#6001c6 16.5px,#6901df 19.5px,#6a01e2 26.5px,#6401d1 31.5px,#5d01be 32.5px,#270026 46.5px,#0d0005 51.5px,#000000 54.5px,#000000 109.5px,#555555 110.5px)"></i><i style="background:linear-gradient(90deg,#b21e2b 0.5px,#af1c3a 2.5px,#a9165b 4.5px,#9109db 8.5px,#8907ef 9.5px,#8004f7 10.5px,#7403ef 11.5px,#6101c8 13.5px,#6001c7 14.5px,#6901df 17.5px,#6a01e2 25.5px,#6401d0 30.5px,#5c01bb 31.5px,#21001b 46.5px,#070001 51.5px,#000000 56.5px,#000000 109.5px,#555555 110.5px)"></i><i style="background:linear-gradient(90deg,#9209dc 0.5px,#8405f6 5.5px,#7703f3 7.5px,#6101c8 10.5px,#6001c5 11.5px,#6901e0 15.5px,#6b01e3 23.5px,#6501d4 28.5px,#6101ca 29.5px,#5b01b7 30.5px,#3c0056 39.5px,#200019 45.5px,#050001 50.5px,#000000 58.5px,#000000 109.5px,#555555 110.5px)"></i><i style="background:linear-gradient(90deg,#7002e9 0.5px,#5f01c3 7.5px,#6a01e1 13.5px,#6a01e3 22.5px,#6401d3 27.5px,#6101c9 28.5px,#5a00b4 29.5px,#24001f 43.5px,#090002 48.5px,#000000 51.5px,#000000 109.5px,#555555 110.5px)"></i><i style="background:linear-gradient(90deg,#6001c6 0.5px,#6601d8 7.5px,#6c01e5 16.5px,#6801dd 23.5px,#6401d2 26.5px,#5900b2 28.5px,#22001d 42.5px,#080002 47.5px,#000000 51.5px,#000000 109.5px,#555555 110.5px)"></i><i style="background:linear-gradient(90deg,#6701da 0.5px,#6c01e6 18.5px,#6301ce 25.5px,#5900af 27.5px,#21001b 41.5px,#070001 46.5px,#000000 50.5px,#000000 109.5px,#555555 110.5px)"></i><i style="background:linear-gradient(90deg,#6a01e1 0.5px,#6c01e6 17.5px,#6201cd 24.5px,#5b01b7 25.5px,#250021 39.5px,#0b0003 44.5px,#000000 47.5px,#000000 109.5px,#555555 110.5px)"></i><i style="background:linear-gradient(90deg,#6a01e3 0.5px,#6c01e5 16.5px,#6401d1 22.5px,#6101c9 23.5px,#5a01b5 24.5px,#24001f 38.5px,#0a0003 43.5px,#000000 46.5px,#000000 109.5px,#555555 110.5px)"></i><i style="background:linear-gradient(90deg,#6b01e4 0.5px,#6b01e5 15.5px,#6301d0 21.5px,#6001c5 22.5px,#5900b0 23.5px,#22001d 37.5px,#080002 42.5px,#000000 45.5px,#000000 109.5px,#555555 110.5px)"></i><i style="background:linear-gradient(90deg,#6c01e6 0.5px,#6c01e7 13.5px,#6301ce 20.5px,#5800ae 22.5px,#21001b 36.5px,#070001 41.5px,#000000 45.5px,#000000 109.5px,#555555 110.5px)"></i><i style="background:linear-gradient(90deg,#6d02e8 0.5px,#6c01e6 12.5px,#6201cd 19.5px,#5700ab 21.5px,#250021 34.5px,#0b0003 39.5px,#000000 42.5px,#000000 109.5px,#555555 110.5px)"></i><i style="background:linear-gradient(90deg,#6d02e9 0.5px,#6c01e6 11.5px,#6101c9 18.5px,#5600a8 20.5px,#23001f 33.5px,#0a0003 38.5px,#000000 41.5px,#000000 109.5px,#555555 110.5px)"></i><i style="background:linear-gradient(90deg,#6e02ea 0.5px,#6c01e6 10.5px,#6001c7 17.5px,#5900b0 18.5px,#270025 31.5px,#0e0005 36.5px,#000000 40.5px,#000000 109.5px,#555555 110.5px)"></i><i style="background:linear-gradient(90deg,#6e02eb 0.5px,#6c01e5 9.5px,#6201cc 15.5px,#5400a2 18.5px,#260023 30.5px,#0c0004 35.5px,#000000 38.5px,#000000 109.5px,#555555 110.5px)"></i><i style="background:linear-gradient(90deg,#6f02ec 0.5px,#6b01e5 8.5px,#6201cb 14.5px,#5d01be 15.5px,#5700a9 16.5px,#240020 29.5px,#0b0003 34.5px,#000000 37.5px,#000000 109.5px,#555555 110.5px)"></i><i style="background:linear-gradient(90deg,#6f02ed 0.5px,#6a01e1 8.5px,#6101c9 13.5px,#5600a6 15.5px,#23001e 28.5px,#0a0002 33.5px,#000000 36.5px,#000000 109.5px,#555555 110.5px)"></i><i style="background:linear-gradient(90deg,#7002ee 0.5px,#6801de 7.5px,#5e01c2 12.5px,#53009d 14.5px,#24001f 26.5px,#0a0003 31.5px,#000000 35.5px,#000000 109.5px,#555555 110.5px)"></i><i style="background:linear-gradient(90deg,#6f02ed 0.5px,#6501d5 7.5px,#5b01b8 11.5px,#5400a0 12.5px,#280027 23.5px,#0f0006 28.5px,#000000 32.5px,#000000 109.5px,#555555 110.5px)"></i><i style="background:linear-gradient(90deg,#7002ee 0.5px,#6601d8 6.5px,#5c01ba 10.5px,#5400a1 11.5px,#240020 22.5px,#0e0005 26.5px,#000000 30.5px,#000000 109.5px,#555555 110.5px)"></i><i style="background:linear-gradient(90deg,#7002ef 0.5px,#6601d6 6.5px,#6001c7 8.5px,#5c01b8 9.5px,#5400a0 10.5px,#260023 20.5px,#0e0005 24.5px,#000000 27.5px,#000000 109.5px,#555555 110.5px)"></i><i style="background:linear-gradient(90deg,#7102f1 0.5px,#6801db 5.5px,#6201cc 7.5px,#5500a3 9.5px,#270026 18.5px,#0e0005 22.5px,#000000 25.5px,#000000 109.5px,#555555 110.5px)"></i><i style="background:linear-gradient(90deg,#7202f3 0.5px,#6701da 5.5px,#6401d1 6.5px,#5500a5 8.5px,#23001e 17.5px,#0d0005 20.5px,#000000 23.5px,#000000 109.5px,#555555 110.5px)"></i><i style="background:linear-gradient(90deg,#7602f8 0.5px,#6a01e2 4.5px,#6601d6 5.5px,#5700a9 7.5px,#250022 15.5px,#0d0005 18.5px,#000000 21.5px,#000000 109.5px,#555555 110.5px)"></i><i style="background:linear-gradient(90deg,#7d04fe 0.5px,#7102f0 3.5px,#6b01e3 4.5px,#5f01c4 5.5px,#270026 13.5px,#0c0004 16.5px,#000000 19.5px,#000000 109.5px,#555555 110.5px)"></i><i style="background:linear-gradient(90deg,#8806f7 0.5px,#7e04fe 2.5px,#7302f4 3.5px,#340042 10.5px,#16000d 13.5px,#030001 15.5px,#000000 109.5px,#555555 110.5px)"></i><i style="background:linear-gradient(90deg,#970bce 0.5px,#8505fa 2.5px,#7502f6 3.5px,#6801db 4.5px,#3a0051 8.5px,#23001f 10.5px,#0a0004 12.5px,#000000 14.5px,#000000 109.5px,#555555 110.5px)"></i><i style="background:linear-gradient(90deg,#a41284 0.5px,#990cc3 1.5px,#8906f6 2.5px,#7803f9 3.5px,#6601d7 4.5px,#450072 6.5px,#360048 7.5px,#270027 8.5px,#180010 9.5px,#090004 10.5px,#000000 12.5px,#000000 109.5px,#555555 110.5px)"></i><i style="background:linear-gradient(90deg,#a7146d 0.5px,#9c0db6 1.5px,#8a07f2 2.5px,#7502f4 3.5px,#5d01be 4.5px,#470078 5.5px,#32003d 6.5px,#1d0017 7.5px,#090004 8.5px,#000000 10.5px,#000000 109.5px,#555555 110.5px)"></i><i style="background:linear-gradient(90deg,#a7146d 0.5px,#9b0dbb 1.5px,#8a07f3 2.5px,#7703f8 3.5px,#6301cd 4.5px,#3c0059 6.5px,#2b002e 7.5px,#190012 8.5px,#090004 9.5px,#000000 11.5px,#000000 109.5px,#555555 110.5px)"></i><i style="background:linear-gradient(90deg,#9e0eaa 0.5px,#960bcf 1.5px,#8605f9 2.5px,#7703f8 3.5px,#6801db 4.5px,#3e005e 7.5px,#250022 9.5px,#17000f 10.5px,#020000 12.5px,#000000 109.5px,#555555 110.5px)"></i><i style="background:linear-gradient(90deg,#8f08e8 0.5px,#8205fd 2.5px,#7402f4 3.5px,#360048 9.5px,#22001d 11.5px,#0b0004 13.5px,#000000 15.5px,#000000 109.5px,#555555 110.5px)"></i><i style="background:linear-gradient(90deg,#8205fe 0.5px,#7903fc 2.5px,#7302f4 3.5px,#500094 7.5px,#290029 12.5px,#16000c 14.5px,#000000 17.5px,#000000 109.5px,#555555 110.5px)"></i><i style="background:linear-gradient(90deg,#7903fb 0.5px,#6f02ed 3.5px,#6b01e3 4.5px,#6401d1 5.5px,#5a00b4 6.5px,#260024 14.5px,#0c0005 17.5px,#000000 20.5px,#000000 109.5px,#555555 110.5px)"></i><i style="background:linear-gradient(90deg,#7402f5 0.5px,#6a01e2 4.5px,#6701d9 5.5px,#54009f 8.5px,#240020 16.5px,#0d0005 19.5px,#000000 22.5px,#000000 109.5px,#555555 110.5px)"></i><i style="background:linear-gradient(90deg,#7202f2 0.5px,#6701db 5.5px,#6001c7 7.5px,#5800ac 8.5px,#280028 17.5px,#0d0005 21.5px,#000000 24.5px,#000000 109.5px,#555555 110.5px)"></i><i style="background:linear-gradient(90deg,#7002f0 0.5px,#6801dc 5.5px,#5f01c3 8.5px,#52009b 10.5px,#270025 19.5px,#0e0005 23.5px,#000000 26.5px,#000000 109.5px,#555555 110.5px)"></i><i style="background:linear-gradient(90deg,#7002ee 0.5px,#6601d7 6.5px,#5e01c2 9.5px,#52009a 11.5px,#250022 21.5px,#0e0005 25.5px,#000000 28.5px,#000000 109.5px,#555555 110.5px)"></i><i style="background:linear-gradient(90deg,#6f02ed 0.5px,#6401d3 7.5px,#5d01be 10.5px,#510098 12.5px,#23001f 23.5px,#090002 28.5px,#000000 32.5px,#000000 109.5px,#555555 110.5px)"></i><i style="background:linear-gradient(90deg,#6f02ed 0.5px,#6601d8 7.5px,#5e01bf 11.5px,#5900b2 12.5px,#52009c 13.5px,#23001e 25.5px,#0a0003 30.5px,#000000 34.5px,#000000 109.5px,#555555 110.5px)"></i><i style="background:linear-gradient(90deg,#7002ee 0.5px,#6a01e2 7.5px,#6101c9 12.5px,#5e01bf 13.5px,#5700aa 14.5px,#240020 27.5px,#0b0003 32.5px,#000000 35.5px,#000000 109.5px,#555555 110.5px)"></i><i style="background:linear-gradient(90deg,#6f02ed 0.5px,#6b01e3 8.5px,#6001c5 14.5px,#5800ae 15.5px,#260024 28.5px,#0d0004 33.5px,#000000 36.5px,#000000 109.5px,#555555 110.5px)"></i><i style="background:linear-gradient(90deg,#6f02ec 0.5px,#6c01e7 8.5px,#6301ce 14.5px,#6001c7 15.5px,#5500a5 17.5px,#23001d 30.5px,#090002 35.5px,#000000 38.5px,#000000 109.5px,#555555 110.5px)"></i><i style="background:linear-gradient(90deg,#6e02eb 0.5px,#6c01e7 9.5px,#6201cb 16.5px,#5600a8 18.5px,#240020 31.5px,#0a0003 36.5px,#000000 39.5px,#000000 109.5px,#555555 110.5px)"></i><i style="background:linear-gradient(90deg,#6e02ea 0.5px,#6c02e7 10.5px,#6201cc 17.5px,#5700ab 19.5px,#250022 32.5px,#0c0004 37.5px,#000000 40.5px,#000000 109.5px,#555555 110.5px)"></i><i style="background:linear-gradient(90deg,#6d02e8 0.5px,#6c01e5 12.5px,#6301ce 18.5px,#5f01c3 19.5px,#5800ae 20.5px,#22001c 34.5px,#080002 39.5px,#000000 43.5px,#000000 109.5px,#555555 110.5px)"></i><i style="background:linear-gradient(90deg,#6c01e7 0.5px,#6c01e6 13.5px,#6101c9 20.5px,#5a00b3 21.5px,#23001e 35.5px,#090002 40.5px,#000000 43.5px,#000000 109.5px,#555555 110.5px)"></i><i style="background:linear-gradient(90deg,#6b01e5 0.5px,#6c01e6 14.5px,#6201cb 21.5px,#5b01b5 22.5px,#240020 36.5px,#0b0003 41.5px,#000000 44.5px,#000000 109.5px,#555555 110.5px)"></i><i style="background:linear-gradient(90deg,#6b01e3 0.5px,#6c01e6 15.5px,#6301cf 22.5px,#5800ad 24.5px,#250022 37.5px,#0c0004 42.5px,#000000 45.5px,#000000 109.5px,#555555 110.5px)"></i><i style="background:linear-gradient(90deg,#6a01e2 0.5px,#6b01e5 17.5px,#6301d0 23.5px,#5900b0 25.5px,#22001c 39.5px,#080002 44.5px,#000000 48.5px,#000000 109.5px,#555555 110.5px)"></i><i style="background:linear-gradient(90deg,#6901df 0.5px,#6b01e5 18.5px,#6401d1 24.5px,#6001c7 25.5px,#5a00b2 26.5px,#23001e 40.5px,#090002 45.5px,#000000 48.5px,#000000 109.5px,#555555 110.5px)"></i><i style="background:linear-gradient(90deg,#6401d0 0.5px,#6b01e4 13.5px,#6b01e3 20.5px,#6401d3 25.5px,#5400a2 29.5px,#240020 41.5px,#0a0003 46.5px,#000000 49.5px,#000000 109.5px,#555555 110.5px)"></i><i style="background:linear-gradient(90deg,#6101ca 0.5px,#6001c5 5.5px,#6a01e1 12.5px,#6b01e4 21.5px,#6301ce 27.5px,#5c01b9 28.5px,#250023 42.5px,#0c0003 47.5px,#000000 50.5px,#000000 109.5px,#555555 110.5px)"></i><i style="background:linear-gradient(90deg,#8205f8 0.5px,#7703f4 4.5px,#6101c9 8.5px,#5f01c4 9.5px,#6901e0 14.5px,#6a01e2 23.5px,#6301d0 28.5px,#5900b1 30.5px,#22001c 44.5px,#070001 49.5px,#000000 53.5px,#000000 109.5px,#555555 110.5px)"></i><i style="background:linear-gradient(90deg,#a2118d 0.5px,#9f109e 2.5px,#8806f1 7.5px,#8105f7 8.5px,#7703f3 9.5px,#6401d0 11.5px,#6001c5 12.5px,#6901e0 16.5px,#6a01e2 24.5px,#6501d3 29.5px,#5a00b4 31.5px,#23001e 45.5px,#090002 50.5px,#000000 53.5px,#000000 109.5px,#555555 110.5px)"></i><i style="background:linear-gradient(90deg,#c13200 0.5px,#bc2b06 3.5px,#b5221e 5.5px,#a9175a 7.5px,#9a0db8 9.5px,#9109dc 10.5px,#8706f2 11.5px,#7b04f5 12.5px,#6301cd 14.5px,#6001c6 15.5px,#6901df 18.5px,#6a01e3 25.5px,#6501d4 30.5px,#5b01b6 32.5px,#3b0055 41.5px,#1f0018 47.5px,#040001 52.5px,#000000 76.5px,#000000 109.5px,#555555 110.5px)"></i><i style="background:linear-gradient(90deg,#d85e00 0.5px,#d04d00 5.5px,#c33400 8.5px,#bb2a0a 9.5px,#b32028 10.5px,#a9175c 11.5px,#9e0f9f 12.5px,#930ad6 13.5px,#8606f2 14.5px,#7603f0 15.5px,#6701d6 16.5px,#6001c7 17.5px,#6901df 20.5px,#6a01e1 27.5px,#6501d6 31.5px,#6201cc 32.5px,#5c01b9 33.5px,#400063 41.5px,#20001a 48.5px,#060001 53.5px,#000000 59.5px,#000000 109.5px,#555555 110.5px)"></i><i style="background:linear-gradient(90deg,#e89200 0.5px,#e48400 4.5px,#d04c00 10.5px,#c03102 12.5px,#b6231f 13.5px,#a9175c 14.5px,#9c0eac 15.5px,#8d08e4 16.5px,#7d04f4 17.5px,#6b02de 18.5px,#6101c8 19.5px,#6901e0 22.5px,#6901e0 29.5px,#6301d0 33.5px,#5a00b3 35.5px,#22001c 49.5px,#070001 54.5px,#000000 58.5px,#000000 109.5px,#555555 110.5px)"></i><i style="background:linear-gradient(90deg,#efae00 0.5px,#eda400 6.5px,#e78c00 9.5px,#ca4100 14.5px,#bf2f05 15.5px,#b21f31 16.5px,#920ad4 18.5px,#8105f3 19.5px,#6c02e0 20.5px,#6101c9 21.5px,#6a01e1 24.5px,#6801de 31.5px,#6501d3 34.5px,#5e01c0 35.5px,#3a0052 45.5px,#1e0016 51.5px,#080002 55.5px,#000000 58.5px,#000000 109.5px,#555555 110.5px)"></i><i style="background:linear-gradient(90deg,#f3bf00 0.5px,#efad00 9.5px,#e99600 12.5px,#d14e00 16.5px,#c63a00 17.5px,#b8261a 18.5px,#a71669 19.5px,#950bc9 20.5px,#8105f2 21.5px,#6c02df 22.5px,#6101c9 23.5px,#6801dd 25.5px,#6a01e1 31.5px,#6601d7 35.5px,#5b01b8 37.5px,#3b0055 46.5px,#1f0018 52.5px,#0a0002 56.5px,#000000 59.5px,#000000 109.5px,#555555 110.5px)"></i><i style="background:linear-gradient(90deg,#f5ca00 0.5px,#f4c200 8.5px,#eda500 14.5px,#e48400 16.5px,#ca4100 19.5px,#bb2a0f 20.5px,#a9175e 21.5px,#950bc6 22.5px,#8005f1 23.5px,#6902d9 24.5px,#6101c9 25.5px,#6901df 27.5px,#6901e0 33.5px,#6601d8 36.5px,#5a00b2 39.5px,#21001a 53.5px,#0b0003 57.5px,#000000 60.5px,#000000 109.5px,#555555 110.5px)"></i><i style="background:linear-gradient(90deg,#f5ca00 0.5px,#f5c700 11.5px,#eca200 17.5px,#e07800 19.5px,#cc4500 21.5px,#bd2c0e 22.5px,#a91760 23.5px,#930bcd 24.5px,#7b04ef 25.5px,#6601d3 26.5px,#6201cc 27.5px,#6701db 28.5px,#6b01e3 32.5px,#6801db 37.5px,#6501d3 38.5px,#5e01c0 39.5px,#470077 46.5px,#22001d 54.5px,#0c0004 58.5px,#000000 61.5px,#000000 109.5px,#555555 110.5px)"></i><i style="background:linear-gradient(90deg,#f5ca00 0.5px,#f5c800 14.5px,#eea800 19.5px,#ea9800 20.5px,#cd4700 23.5px,#bc2b11 24.5px,#a6166e 25.5px,#8f09da 26.5px,#7503ea 27.5px,#6201cc 28.5px,#6901df 30.5px,#6a01e1 36.5px,#6801dc 38.5px,#6501d4 39.5px,#5e01c2 40.5px,#470078 47.5px,#22001c 55.5px,#0c0003 59.5px,#000000 62.5px,#000000 109.5px,#555555 110.5px)"></i><i style="background:linear-gradient(90deg,#f5ca00 0.5px,#f5c800 17.5px,#efab00 21.5px,#eb9c00 22.5px,#cc4500 25.5px,#b9281a 26.5px,#a11288 27.5px,#8807e7 28.5px,#6c02de 29.5px,#6201cb 30.5px,#6a01e1 32.5px,#6901de 38.5px,#6601d8 40.5px,#5f01c4 41.5px,#43006b 49.5px,#21001b 56.5px,#0a0003 60.5px,#000000 63.5px,#000000 109.5px,#555555 110.5px)"></i><i style="background:linear-gradient(90deg,#f4c300 0.5px,#f5ca00 18.5px,#f3bf00 21.5px,#efad00 23.5px,#eb9e00 24.5px,#c94000 27.5px,#b4222f 28.5px,#9a0eab 29.5px,#7e05ec 30.5px,#6501d2 31.5px,#6401d0 32.5px,#6901de 33.5px,#6a01e1 38.5px,#6601d8 41.5px,#5900b1 44.5px,#250022 56.5px,#0e0005 60.5px,#000000 63.5px,#000000 109.5px,#555555 110.5px)"></i><i style="background:linear-gradient(90deg,#efac00 0.5px,#f3bd00 8.5px,#f5ca00 13.5px,#f5c800 22.5px,#efad00 25.5px,#eb9d00 26.5px,#d65b00 28.5px,#c53904 29.5px,#ac1b50 30.5px,#900ad1 31.5px,#7203e4 32.5px,#6201cb 33.5px,#6a01e1 35.5px,#6801dc 41.5px,#6701da 42.5px,#5900b2 45.5px,#240020 57.5px,#0d0004 61.5px,#000000 64.5px,#000000 109.5px,#555555 110.5px)"></i><i style="background:linear-gradient(90deg,#e99500 0.5px,#eda500 8.5px,#f5ca00 16.5px,#f5c800 24.5px,#efad00 27.5px,#ea9a00 28.5px,#d25200 30.5px,#be2e11 31.5px,#a21383 32.5px,#8406e8 33.5px,#6701d6 34.5px,#6301d0 35.5px,#6901de 36.5px,#6901df 41.5px,#6701d9 43.5px,#5900b2 46.5px,#23001e 58.5px,#0b0003 62.5px,#000000 65.5px,#000000 109.5px,#555555 110.5px)"></i><i style="background:linear-gradient(90deg,#e27d00 0.5px,#e89200 9.5px,#f2bb00 16.5px,#f5ca00 19.5px,#f5c900 26.5px,#eeab00 29.5px,#e89400 30.5px,#cc4600 32.5px,#b42332 33.5px,#960cbb 34.5px,#7503e6 35.5px,#6201cc 36.5px,#6a01e1 38.5px,#6701d9 44.5px,#6401d0 45.5px,#5d01bd 46.5px,#460075 52.5px,#22001d 59.5px,#090002 63.5px,#000000 66.5px,#000000 109.5px,#555555 110.5px)"></i><i style="background:linear-gradient(90deg,#d65a00 0.5px,#db6800 6.5px,#eea900 17.5px,#f5c800 21.5px,#f5c800 28.5px,#eea700 31.5px,#e68a00 32.5px,#c43808 34.5px,#a7176b 35.5px,#8607e2 36.5px,#6801d6 37.5px,#6401d2 38.5px,#6901df 39.5px,#6801dc 44.5px,#6401d0 46.5px,#270025 59.5px,#0e0005 63.5px,#000000 66.5px,#000000 109.5px,#555555 110.5px)"></i><i style="background:linear-gradient(90deg,#c93d00 0.5px,#d04b00 7.5px,#dc6800 12.5px,#f4c600 23.5px,#f5c800 30.5px,#f0b200 32.5px,#eca100 33.5px,#d15000 35.5px,#b82825 36.5px,#980daf 37.5px,#7403e4 38.5px,#6301cd 39.5px,#6801db 40.5px,#6901df 44.5px,#6501d4 47.5px,#5e01c0 48.5px,#3c0057 56.5px,#200019 61.5px,#060001 65.5px,#000000 69.5px,#000000 109.5px,#555555 110.5px)"></i><i style="background:linear-gradient(90deg,#ba2601 0.5px,#c33400 8.5px,#d45600 14.5px,#f4c400 25.5px,#f5ca00 29.5px,#f5c700 32.5px,#efae00 34.5px,#e99500 35.5px,#c73e05 37.5px,#a91963 38.5px,#8507e0 39.5px,#6601d4 40.5px,#6501d5 41.5px,#6901df 42.5px,#6701d9 47.5px,#6501d4 48.5px,#53009d 52.5px,#250021 61.5px,#0b0003 65.5px,#000000 68.5px,#000000 109.5px,#555555 110.5px)"></i><i style="background:linear-gradient(90deg,#a81565 0.5px,#aa1757 3.5px,#b92505 10.5px,#ce4700 16.5px,#f1b500 26.5px,#f5c900 28.5px,#f5ca00 33.5px,#f1b800 35.5px,#eea800 36.5px,#e48500 37.5px,#d45600 38.5px,#ba2a23 39.5px,#970db1 40.5px,#7103e1 41.5px,#6301cf 42.5px,#6801dd 43.5px,#6801dd 47.5px,#6601d6 49.5px,#5700a9 52.5px,#23001f 62.5px,#090002 66.5px,#000000 69.5px,#000000 109.5px,#555555 110.5px)"></i><i style="background:linear-gradient(90deg,#980bc9 0.5px,#9a0cbe 4.5px,#9e0fa5 7.5px,#a31286 9.5px,#b11d22 13.5px,#b6220e 14.5px,#ba2702 15.5px,#d14e00 20.5px,#ea9a00 26.5px,#f5c800 30.5px,#f5c900 35.5px,#f0b300 37.5px,#eb9c00 38.5px,#de7100 39.5px,#c84005 40.5px,#a81869 41.5px,#8106e1 42.5px,#6501d1 43.5px,#6901df 45.5px,#6501d6 50.5px,#22001d 63.5px,#0e0005 66.5px,#000000 69.5px,#000000 109.5px,#555555 110.5px)"></i><i style="background:linear-gradient(90deg,#8b07f2 0.5px,#9109e3 7.5px,#990cc5 11.5px,#9f0fa2 13.5px,#a81568 15.5px,#b21e21 17.5px,#b7230a 18.5px,#bc2a00 19.5px,#d25100 23.5px,#ea9800 28.5px,#f5c800 32.5px,#f5c700 37.5px,#efab00 39.5px,#e68a00 40.5px,#d45800 41.5px,#b82929 42.5px,#930cbd 43.5px,#6d02dc 44.5px,#6401d1 45.5px,#6901de 46.5px,#6501d6 51.5px,#6201cc 52.5px,#5b01b7 53.5px,#3a0051 60.5px,#21001b 64.5px,#0c0004 67.5px,#000000 70.5px,#000000 109.5px,#555555 110.5px)"></i><i style="background:linear-gradient(90deg,#8204ff 0.5px,#8806f8 9.5px,#9109e3 13.5px,#970bcd 15.5px,#9f0fa3 17.5px,#a41282 18.5px,#b01c2b 20.5px,#b6220d 21.5px,#bc2a00 22.5px,#d55800 26.5px,#e99600 30.5px,#f3c100 33.5px,#f5ca00 35.5px,#f5ca00 38.5px,#f4c400 39.5px,#ec9f00 41.5px,#de7200 42.5px,#c73e08 43.5px,#a4157c 44.5px,#7a04e3 45.5px,#6301cf 46.5px,#6801dc 47.5px,#6701da 51.5px,#6301d0 53.5px,#5c01b9 54.5px,#260024 64.5px,#110008 67.5px,#000000 70.5px,#000000 109.5px,#555555 110.5px)"></i><i style="background:linear-gradient(90deg,#8004ff 0.5px,#8706f9 14.5px,#9109e4 17.5px,#980cc7 19.5px,#9d0eae 20.5px,#a3118a 21.5px,#b01c28 23.5px,#b82409 24.5px,#bf2d00 25.5px,#d35200 28.5px,#e99600 32.5px,#f4c200 35.5px,#f5ca00 37.5px,#f5c900 40.5px,#efad00 42.5px,#e68b00 43.5px,#d35600 44.5px,#b42439 45.5px,#8b09ce 46.5px,#6701d5 47.5px,#6901de 50.5px,#6301d0 54.5px,#5700ac 56.5px,#250022 65.5px,#0f0006 68.5px,#010000 70.5px,#000000 109.5px,#555555 110.5px)"></i><i style="background:linear-gradient(90deg,#7e04ff 0.5px,#8405fd 17.5px,#8f08e9 20.5px,#980bca 22.5px,#9d0ead 23.5px,#a41283 24.5px,#ab184a 25.5px,#b31f1a 26.5px,#bb2802 27.5px,#d14f00 30.5px,#e99600 34.5px,#f4c400 37.5px,#f5ca00 40.5px,#f4c500 42.5px,#f1b700 43.5px,#eca000 44.5px,#dd6f00 45.5px,#c3380f 46.5px,#9c119a 47.5px,#7203df 48.5px,#6401d1 49.5px,#6801de 50.5px,#6601d6 54.5px,#6401d2 55.5px,#53009e 58.5px,#240020 66.5px,#0d0005 69.5px,#000000 71.5px,#000000 109.5px,#555555 110.5px)"></i><i style="background:linear-gradient(90deg,#7d04fe 0.5px,#8305fe 20.5px,#8a06f4 22.5px,#940ada 24.5px,#990cc4 25.5px,#9f0fa0 26.5px,#b01c2e 28.5px,#b82508 29.5px,#c13000 30.5px,#d86000 33.5px,#ea9800 36.5px,#f5c700 39.5px,#f5c900 43.5px,#f3c000 44.5px,#efad00 45.5px,#e58800 46.5px,#d04f00 47.5px,#ad1e57 48.5px,#8006dc 49.5px,#6401d1 50.5px,#6901de 52.5px,#6401d1 56.5px,#2a002b 66.5px,#130009 69.5px,#000000 72.5px,#000000 109.5px,#555555 110.5px)"></i><i style="background:linear-gradient(90deg,#7d04fe 0.5px,#8305fe 23.5px,#8b07f3 25.5px,#950ad3 27.5px,#9c0db4 28.5px,#a41283 29.5px,#ad1941 30.5px,#b62210 31.5px,#bf2e00 32.5px,#d86000 35.5px,#eb9b00 38.5px,#f3be00 40.5px,#f5c900 41.5px,#f4c600 45.5px,#f1b700 46.5px,#eb9d00 47.5px,#da6800 48.5px,#bd2f22 49.5px,#910cba 50.5px,#6902d7 51.5px,#6801dd 54.5px,#6401d1 57.5px,#6001c5 58.5px,#5800ac 59.5px,#280028 67.5px,#110007 70.5px,#010000 72.5px,#000000 109.5px,#555555 110.5px)"></i><i style="background:linear-gradient(90deg,#7d04fe 0.5px,#8104ff 25.5px,#8706f8 27.5px,#9309dc 29.5px,#990cc1 30.5px,#a11194 31.5px,#ab1750 32.5px,#b52116 33.5px,#be2d00 34.5px,#d96200 37.5px,#ec9f00 40.5px,#f4c300 42.5px,#f5ca00 44.5px,#f5c900 46.5px,#f3c000 47.5px,#efac00 48.5px,#e38100 49.5px,#ca4507 50.5px,#a21680 51.5px,#7403de 52.5px,#6401d1 53.5px,#6801db 54.5px,#6201cd 58.5px,#5e01c0 59.5px,#2c002f 67.5px,#14000a 70.5px,#000000 73.5px,#000000 109.5px,#555555 110.5px)"></i><i style="background:linear-gradient(90deg,#7d04fe 0.5px,#8204fe 28.5px,#8b07f3 30.5px,#9109e3 31.5px,#970bca 32.5px,#9f109e 33.5px,#b42019 35.5px,#be2d00 36.5px,#d14f00 38.5px,#e89200 41.5px,#f5c700 44.5px,#f4c600 48.5px,#f1b600 49.5px,#e99700 50.5px,#d65d00 51.5px,#b32442 52.5px,#8307d4 53.5px,#6401d0 54.5px,#6601d8 56.5px,#6101c8 59.5px,#5e01bf 60.5px,#4f0092 62.5px,#280027 68.5px,#0f0006 71.5px,#000000 73.5px,#000000 109.5px,#555555 110.5px)"></i></div>
<div class="hm" style="left:542px;top:125px;width:111px;height:105px"><i style="background:linear-gradient(90deg,#f1bb55 0.5px,#edab55 14.5px,#e79b55 20.5px,#d27055 26.5px,#cc6969 27.5px,#bd5ecb 29.5px,#b75be8 30.5px,#ad58fd 32.5px,#ac58fe 38.5px,#b45af2 40.5px,#ba5cdc 41.5px,#c261b1 42.5px,#ca6776 43.5px,#d37255 44.5px,#e69655 46.5px,#f3c155 48.5px,#f6d055 50.5px,#f6d055 51.5px,#f4c655 52.5px,#eeb155 53.5px,#dd8355 54.5px,#bb5fc3 55.5px,#9756dc 56.5px,#9656dc 57.5px,#9956e4 58.5px,#9756df 60.5px,#70556f 70.5px,#5b5556 74.5px,#555555 79.5px,#555555 109.5px,#8e8e8e 110.5px)"></i><i style="background:linear-gradient(90deg,#e78c00 0.5px,#e27a00 12.5px,#db6600 17.5px,#bf2e00 23.5px,#b8250c 24.5px,#b01c32 25.5px,#9c0eb2 27.5px,#930adb 28.5px,#8c07f0 29.5px,#8104ff 31.5px,#8104ff 36.5px,#8b07f3 38.5px,#9209de 39.5px,#9c0eb0 40.5px,#b4201b 42.5px,#c23300 43.5px,#dd6c00 45.5px,#e79000 46.5px,#eda400 47.5px,#f2ba00 49.5px,#f1b600 50.5px,#eea700 51.5px,#e38100 52.5px,#c74010 53.5px,#930fa7 54.5px,#6601cf 55.5px,#6201cd 56.5px,#6601d8 57.5px,#6401d2 59.5px,#32003d 68.5px,#16000c 72.5px,#000000 75.5px,#000000 109.5px,#555555 110.5px)"></i><i style="background:linear-gradient(90deg,#e27c00 0.5px,#dd6d00 11.5px,#cc4400 17.5px,#be2d00 20.5px,#b8250d 21.5px,#b01c2e 22.5px,#9e0fa2 24.5px,#960bce 25.5px,#8f08e8 26.5px,#8305fd 28.5px,#8104ff 34.5px,#8a07f4 36.5px,#9109e3 37.5px,#9a0dbd 38.5px,#a5137c 39.5px,#b01c2d 40.5px,#bd2c03 41.5px,#d75e00 43.5px,#eb9d00 45.5px,#f2bb00 48.5px,#f0b100 49.5px,#eb9e00 50.5px,#dc6b00 51.5px,#b92d32 52.5px,#8208ca 53.5px,#6201ca 54.5px,#6701db 56.5px,#6401d3 58.5px,#5900b0 60.5px,#21001b 70.5px,#0b0003 73.5px,#000000 75.5px,#000000 109.5px,#555555 110.5px)"></i><i style="background:linear-gradient(90deg,#dd6c00 0.5px,#d96000 7.5px,#c02f00 16.5px,#bb2804 17.5px,#b52117 18.5px,#ae1a3a 19.5px,#9e0fa2 21.5px,#970bca 22.5px,#9109e3 23.5px,#8505fb 25.5px,#8004ff 31.5px,#8a06f5 34.5px,#9008e6 35.5px,#980cc5 36.5px,#a2118b 37.5px,#ad1940 38.5px,#b92609 39.5px,#c63a00 40.5px,#de7100 42.5px,#e89200 43.5px,#eda500 44.5px,#f2b900 46.5px,#f2b800 47.5px,#efab00 48.5px,#e79000 49.5px,#d25500 50.5px,#aa1d66 51.5px,#7404d9 52.5px,#6101c8 53.5px,#6601d8 54.5px,#6701da 56.5px,#6501d5 57.5px,#5e01bf 58.5px,#3c0058 65.5px,#1c0014 70.5px,#060001 73.5px,#000000 76.5px,#000000 109.5px,#555555 110.5px)"></i><i style="background:linear-gradient(90deg,#d04c00 0.5px,#c83c00 8.5px,#bd2b00 12.5px,#b92608 13.5px,#b42118 14.5px,#af1b34 15.5px,#9c0eb2 18.5px,#960bd0 19.5px,#9008e5 20.5px,#8605fa 22.5px,#8004ff 27.5px,#8505fc 31.5px,#9008e7 33.5px,#970bca 34.5px,#a11095 35.5px,#ab184f 36.5px,#b62312 37.5px,#c33300 38.5px,#da6500 40.5px,#e58600 41.5px,#ec9f00 42.5px,#f2bb00 45.5px,#eda400 47.5px,#e17d00 48.5px,#c73f0d 49.5px,#98119d 50.5px,#6902d3 51.5px,#6201cd 52.5px,#6701db 53.5px,#6701da 55.5px,#6401d1 56.5px,#5d01bd 57.5px,#43006a 63.5px,#250021 68.5px,#100007 71.5px,#000000 74.5px,#000000 109.5px,#555555 110.5px)"></i><i style="background:linear-gradient(90deg,#c03000 0.5px,#ba2703 6.5px,#b62213 8.5px,#af1b36 10.5px,#ab1750 11.5px,#9c0eb2 14.5px,#9209de 16.5px,#8505fb 19.5px,#8004ff 26.5px,#8605fb 29.5px,#9008e7 31.5px,#970bcb 32.5px,#a0109a 33.5px,#b4201a 35.5px,#c02f00 36.5px,#d75c00 38.5px,#ea9700 40.5px,#f2b900 43.5px,#f2b900 44.5px,#efad00 45.5px,#ea9900 46.5px,#da6700 47.5px,#ba2c2e 48.5px,#8709c7 49.5px,#6301cc 50.5px,#6801dd 52.5px,#6701da 54.5px,#6401d2 55.5px,#5d01bd 56.5px,#43006b 62.5px,#200019 68.5px,#0b0003 71.5px,#000000 74.5px,#000000 109.5px,#555555 110.5px)"></i><i style="background:linear-gradient(90deg,#ab184c 0.5px,#a9165d 3.5px,#a31287 6.5px,#940ad9 11.5px,#8606f9 15.5px,#8004ff 22.5px,#8706fa 27.5px,#9008e5 29.5px,#970bc9 30.5px,#a0109b 31.5px,#b31f1f 33.5px,#be2c02 34.5px,#d45500 36.5px,#e78e00 38.5px,#eca100 39.5px,#f2bb00 42.5px,#eea700 44.5px,#e58800 45.5px,#d05000 46.5px,#aa1c64 47.5px,#7704d9 48.5px,#6101ca 49.5px,#6901df 51.5px,#6701db 53.5px,#280026 66.5px,#0d0004 70.5px,#000000 73.5px,#000000 109.5px,#555555 110.5px)"></i><i style="background:linear-gradient(90deg,#940ad6 0.5px,#8104ff 13.5px,#8204fe 23.5px,#8d07f0 26.5px,#9209e1 27.5px,#980cc4 28.5px,#a11097 29.5px,#b21e21 31.5px,#bc2a03 32.5px,#d25000 34.5px,#eb9d00 37.5px,#f2b900 40.5px,#f2ba00 41.5px,#eb9e00 43.5px,#de7300 44.5px,#c53b0e 45.5px,#9910a0 46.5px,#6a02d6 47.5px,#6201cc 48.5px,#6701da 49.5px,#6801dd 51.5px,#6701d9 52.5px,#290029 65.5px,#0f0006 69.5px,#000000 72.5px,#000000 109.5px,#555555 110.5px)"></i><i style="background:linear-gradient(90deg,#8505fb 0.5px,#8104ff 20.5px,#8b07f4 23.5px,#8e08eb 24.5px,#940ad9 25.5px,#9a0dbb 26.5px,#a2118f 27.5px,#b21e1f 29.5px,#bc2a03 30.5px,#d96300 33.5px,#ea9700 35.5px,#f1b600 38.5px,#f2bc00 39.5px,#eea800 41.5px,#e79000 42.5px,#d65c00 43.5px,#b72834 44.5px,#8708cc 45.5px,#6401ce 46.5px,#6401d0 47.5px,#6801dd 48.5px,#6701d9 51.5px,#5c01bb 53.5px,#44006f 59.5px,#240020 65.5px,#0a0003 69.5px,#000000 72.5px,#000000 109.5px,#555555 110.5px)"></i><i style="background:linear-gradient(90deg,#8004ff 0.5px,#8405fd 18.5px,#8d07ef 21.5px,#9109e3 22.5px,#960bce 23.5px,#9d0ead 24.5px,#a41281 25.5px,#b31f1a 27.5px,#bd2a02 28.5px,#d85f00 31.5px,#e89200 33.5px,#eeaa00 35.5px,#f2ba00 37.5px,#f2ba00 38.5px,#eca100 40.5px,#e17c00 41.5px,#cc4603 42.5px,#a71970 43.5px,#7704dd 44.5px,#6101ca 45.5px,#6901df 47.5px,#6601d8 50.5px,#5c01bb 52.5px,#450071 58.5px,#250022 64.5px,#0c0004 68.5px,#000000 71.5px,#000000 109.5px,#555555 110.5px)"></i><i style="background:linear-gradient(90deg,#8004ff 0.5px,#8505fc 15.5px,#8d07ef 18.5px,#950ad6 20.5px,#9a0dbc 21.5px,#a7146e 23.5px,#ae1a3b 24.5px,#b52112 25.5px,#be2c00 26.5px,#d85e00 29.5px,#e78f00 31.5px,#eca000 32.5px,#f2bc00 36.5px,#eea900 38.5px,#e89300 39.5px,#d96400 40.5px,#bf3218 41.5px,#950eaf 42.5px,#6a02d7 43.5px,#6201cb 44.5px,#6a01e1 46.5px,#6801de 48.5px,#6601d6 49.5px,#5f01c4 50.5px,#4a007f 56.5px,#270025 63.5px,#0e0005 67.5px,#000000 70.5px,#000000 109.5px,#555555 110.5px)"></i><i style="background:linear-gradient(90deg,#8004ff 0.5px,#8706f9 12.5px,#9109e3 16.5px,#9a0cbf 18.5px,#a5137e 20.5px,#b11d25 22.5px,#b82508 23.5px,#c83c00 25.5px,#df7400 28.5px,#eb9e00 30.5px,#f2bc00 34.5px,#efae00 36.5px,#eca100 37.5px,#e38000 38.5px,#d04e00 39.5px,#b02049 40.5px,#8307d7 41.5px,#6301cd 42.5px,#6301d0 43.5px,#6801dd 44.5px,#6901e0 46.5px,#6901de 47.5px,#5c01ba 50.5px,#410066 57.5px,#22001d 63.5px,#0a0003 67.5px,#000000 70.5px,#000000 109.5px,#555555 110.5px)"></i><i style="background:linear-gradient(90deg,#8405fd 0.5px,#8b07f3 9.5px,#9109e5 12.5px,#970bcc 14.5px,#a0109e 16.5px,#a9165b 18.5px,#af1b31 19.5px,#b52111 20.5px,#bc2901 21.5px,#d25000 24.5px,#eb9d00 28.5px,#f2ba00 32.5px,#f2bb00 33.5px,#eea800 35.5px,#e99400 36.5px,#db6800 37.5px,#c4390b 38.5px,#9f138d 39.5px,#7303df 40.5px,#6101ca 41.5px,#6901e0 43.5px,#6901df 46.5px,#5c01ba 49.5px,#420067 56.5px,#23001f 62.5px,#0c0004 66.5px,#000000 69.5px,#000000 109.5px,#555555 110.5px)"></i><i style="background:linear-gradient(90deg,#8d07f0 0.5px,#9008e6 6.5px,#960bd2 9.5px,#9f0fa3 12.5px,#a61472 14.5px,#b42013 17.5px,#ba2702 18.5px,#d45500 22.5px,#eb9d00 26.5px,#f2bc00 31.5px,#eca000 34.5px,#e37f00 35.5px,#d15100 36.5px,#b62633 37.5px,#8d0ac8 38.5px,#6802d5 39.5px,#6201cc 40.5px,#6a01e2 42.5px,#6801dd 45.5px,#5c01b9 48.5px,#420068 55.5px,#250021 61.5px,#0e0005 65.5px,#000000 68.5px,#000000 109.5px,#555555 110.5px)"></i><i style="background:linear-gradient(90deg,#980cc8 0.5px,#9b0dba 4.5px,#a0109d 7.5px,#a7156b 10.5px,#b6220c 14.5px,#bb2801 15.5px,#d14f00 19.5px,#e37e00 22.5px,#eb9e00 24.5px,#f2bc00 29.5px,#eda600 32.5px,#e89100 33.5px,#c63b07 35.5px,#a51675 36.5px,#7c05e2 37.5px,#6201cb 38.5px,#6b01e3 41.5px,#6801dd 44.5px,#6201cb 45.5px,#4b0083 52.5px,#260023 60.5px,#0f0006 64.5px,#000000 67.5px,#000000 109.5px,#555555 110.5px)"></i><i style="background:linear-gradient(90deg,#a71470 0.5px,#a81564 3.5px,#ac1844 6.5px,#b7230a 10.5px,#bb2701 11.5px,#d14e00 16.5px,#e07500 19.5px,#e99600 21.5px,#f2bc00 27.5px,#f0b200 29.5px,#eb9c00 31.5px,#e17b00 32.5px,#d15000 33.5px,#b82828 34.5px,#930cbb 35.5px,#6d02dd 36.5px,#6101c9 37.5px,#6a01e0 39.5px,#6a01e1 42.5px,#4b0083 51.5px,#270025 59.5px,#0b0003 64.5px,#000000 67.5px,#000000 109.5px,#555555 110.5px)"></i><i style="background:linear-gradient(90deg,#b5210d 0.5px,#bf2d00 7.5px,#cf4900 12.5px,#df7200 16.5px,#eb9c00 19.5px,#f2bc00 25.5px,#f1b400 27.5px,#eca200 29.5px,#e68a00 30.5px,#c63a06 32.5px,#a7186b 33.5px,#8106e1 34.5px,#6401d0 35.5px,#6301ce 36.5px,#6a01e3 38.5px,#6a01e1 41.5px,#6701da 42.5px,#6101c8 43.5px,#4f0090 49.5px,#23001e 59.5px,#0d0004 63.5px,#000000 66.5px,#000000 109.5px,#555555 110.5px)"></i><i style="background:linear-gradient(90deg,#c63800 0.5px,#cf4900 7.5px,#dd6b00 12.5px,#eca000 17.5px,#f2bc00 23.5px,#f1b500 25.5px,#eda500 27.5px,#e99400 28.5px,#cf4b00 30.5px,#b7262a 31.5px,#950cb7 32.5px,#7103e1 33.5px,#6101c9 34.5px,#6b01e4 37.5px,#6a01e1 40.5px,#5e01c0 43.5px,#480079 50.5px,#240020 58.5px,#090002 63.5px,#000000 66.5px,#000000 109.5px,#555555 110.5px)"></i><i style="background:linear-gradient(90deg,#d45600 0.5px,#da6400 6.5px,#e68a00 11.5px,#eca100 14.5px,#f2bd00 21.5px,#efae00 24.5px,#ea9a00 26.5px,#d55800 28.5px,#c23509 29.5px,#a61672 30.5px,#8306e3 31.5px,#6601d2 32.5px,#6201cc 33.5px,#6a01e1 35.5px,#6a01e2 39.5px,#5e01c0 42.5px,#48007a 49.5px,#250022 57.5px,#0b0003 62.5px,#000000 65.5px,#000000 109.5px,#555555 110.5px)"></i><i style="background:linear-gradient(90deg,#e17900 0.5px,#e58600 5.5px,#eda500 12.5px,#f3bd00 19.5px,#eea700 23.5px,#eb9d00 24.5px,#e58500 25.5px,#ca4100 27.5px,#b22138 28.5px,#930bc2 29.5px,#7203e3 30.5px,#6101ca 31.5px,#6b01e4 34.5px,#6901e0 38.5px,#6301cf 39.5px,#4f0091 46.5px,#260024 56.5px,#0c0004 61.5px,#000000 64.5px,#000000 109.5px,#555555 110.5px)"></i><i style="background:linear-gradient(90deg,#eb9c00 0.5px,#f0b200 13.5px,#f3bd00 17.5px,#ec9f00 22.5px,#e68a00 23.5px,#cf4b00 25.5px,#bc2b15 26.5px,#a0128d 27.5px,#8005e8 28.5px,#6601d3 29.5px,#6101ca 30.5px,#6b01e4 33.5px,#6901de 37.5px,#6201cc 38.5px,#4a0082 46.5px,#250021 55.5px,#0c0003 60.5px,#000000 63.5px,#000000 109.5px,#555555 110.5px)"></i><i style="background:linear-gradient(90deg,#eea700 0.5px,#f1b700 11.5px,#f2bb00 15.5px,#ec9e00 20.5px,#e68c00 21.5px,#d25100 23.5px,#c23407 24.5px,#aa195b 25.5px,#8e09d8 26.5px,#6f02e1 27.5px,#6101c8 28.5px,#6a01e1 31.5px,#6901de 35.5px,#6601d6 36.5px,#6001c5 37.5px,#4c0086 44.5px,#23001e 54.5px,#090002 59.5px,#000000 62.5px,#000000 109.5px,#555555 110.5px)"></i><i style="background:linear-gradient(90deg,#f0b100 0.5px,#f2bb00 12.5px,#eb9d00 18.5px,#e68a00 19.5px,#c53901 22.5px,#b11f3c 23.5px,#970db9 24.5px,#7a04eb 25.5px,#6401ce 26.5px,#6101ca 27.5px,#6a01e2 30.5px,#6801dc 34.5px,#6501d5 35.5px,#5f01c2 36.5px,#4a0082 43.5px,#260023 52.5px,#0d0004 57.5px,#000000 61.5px,#000000 109.5px,#555555 110.5px)"></i><i style="background:linear-gradient(90deg,#f2bb00 0.5px,#f2bb00 8.5px,#eca200 15.5px,#ea9800 16.5px,#d35400 19.5px,#c73b00 20.5px,#b5232a 21.5px,#9e109b 22.5px,#8406eb 23.5px,#6a02da 24.5px,#6001c7 25.5px,#6a01e3 29.5px,#6701db 33.5px,#5e01bf 35.5px,#450072 43.5px,#240020 51.5px,#0b0003 56.5px,#000000 59.5px,#000000 109.5px,#555555 110.5px)"></i><i style="background:linear-gradient(90deg,#f2ba00 0.5px,#eeaa00 10.5px,#eb9c00 13.5px,#e27b00 15.5px,#c73a00 18.5px,#b62423 19.5px,#a1128a 20.5px,#8a07e5 21.5px,#7002e5 22.5px,#6101c9 23.5px,#6701db 26.5px,#6a01e2 28.5px,#6601d7 32.5px,#5a00b4 35.5px,#22001d 50.5px,#090002 55.5px,#000000 58.5px,#000000 109.5px,#555555 110.5px)"></i><i style="background:linear-gradient(90deg,#efaf00 0.5px,#eca100 9.5px,#e89000 11.5px,#cf4a00 15.5px,#c43600 16.5px,#b52226 17.5px,#8d08e0 19.5px,#7503eb 20.5px,#6301cd 21.5px,#6101c8 22.5px,#6a01e2 26.5px,#6501d5 31.5px,#5f01c2 32.5px,#420069 41.5px,#20001a 49.5px,#070001 54.5px,#000000 58.5px,#000000 109.5px,#555555 110.5px)"></i><i style="background:linear-gradient(90deg,#eda400 0.5px,#eb9d00 5.5px,#e58800 8.5px,#ca4000 13.5px,#bf2f05 14.5px,#b11e36 15.5px,#a01193 16.5px,#8d08e2 17.5px,#7703ee 18.5px,#6501d2 19.5px,#6001c7 20.5px,#6a01e1 24.5px,#6601d8 29.5px,#6401d2 30.5px,#5e01c0 31.5px,#39004f 42.5px,#1f0017 48.5px,#050001 53.5px,#000000 61.5px,#000000 109.5px,#555555 110.5px)"></i><i style="background:linear-gradient(90deg,#e68900 0.5px,#e17a00 4.5px,#ca4100 10.5px,#c23300 11.5px,#b72519 12.5px,#aa1859 13.5px,#9b0eb0 14.5px,#8a07ea 15.5px,#7703ee 16.5px,#6601d4 17.5px,#6001c6 18.5px,#6a01e2 23.5px,#6601d6 28.5px,#6201cd 29.5px,#5c01ba 30.5px,#43006c 38.5px,#22001c 46.5px,#090002 51.5px,#000000 54.5px,#000000 109.5px,#555555 110.5px)"></i><i style="background:linear-gradient(90deg,#d65900 0.5px,#ce4800 5.5px,#bf2e03 8.5px,#b6231c 9.5px,#ac194d 10.5px,#a01095 11.5px,#930ad4 12.5px,#8405f3 13.5px,#7303eb 14.5px,#6401d1 15.5px,#6001c5 16.5px,#6a01e2 21.5px,#6501d4 27.5px,#5b01b7 29.5px,#3a0051 39.5px,#1b0012 46.5px,#020000 51.5px,#000000 109.5px,#555555 110.5px)"></i><i style="background:linear-gradient(90deg,#c13200 0.5px,#bf2e00 2.5px,#b82513 4.5px,#b32025 5.5px,#ad1a45 6.5px,#a51472 7.5px,#9d0fa8 8.5px,#930ad5 9.5px,#8806f0 10.5px,#7b04f4 11.5px,#6201cb 13.5px,#6001c6 14.5px,#6b01e3 20.5px,#6401d2 26.5px,#5a00b4 28.5px,#23001e 43.5px,#0a0003 48.5px,#000000 51.5px,#000000 109.5px,#555555 110.5px)"></i><i style="background:linear-gradient(90deg,#a2118c 0.5px,#9e0f9f 2.5px,#8a07ed 6.5px,#8305f6 7.5px,#7903f4 8.5px,#6401d1 10.5px,#6001c5 11.5px,#6b01e3 18.5px,#6301ce 25.5px,#5900b0 27.5px,#21001b 42.5px,#080002 47.5px,#000000 51.5px,#000000 109.5px,#555555 110.5px)"></i><i style="background:linear-gradient(90deg,#8004f8 0.5px,#7903f5 3.5px,#6701d7 6.5px,#5f01c4 8.5px,#6b01e4 17.5px,#6201cc 24.5px,#5b01b7 25.5px,#240020 40.5px,#0c0003 45.5px,#000000 48.5px,#000000 109.5px,#555555 110.5px)"></i><i style="background:linear-gradient(90deg,#6101ca 0.5px,#5f01c4 4.5px,#6b01e5 15.5px,#6301d0 22.5px,#5400a0 26.5px,#22001d 39.5px,#0a0002 44.5px,#000000 47.5px,#000000 109.5px,#555555 110.5px)"></i><i style="background:linear-gradient(90deg,#6101ca 0.5px,#6801db 9.5px,#6b01e5 14.5px,#6201cd 21.5px,#5f01c2 22.5px,#5800ae 23.5px,#250022 37.5px,#0d0004 42.5px,#000000 46.5px,#000000 109.5px,#555555 110.5px)"></i><i style="background:linear-gradient(90deg,#6501d4 0.5px,#6c01e6 12.5px,#6101cb 20.5px,#5700aa 22.5px,#23001e 36.5px,#0b0003 41.5px,#000000 44.5px,#000000 109.5px,#555555 110.5px)"></i><i style="background:linear-gradient(90deg,#6801dd 0.5px,#6c02e7 10.5px,#6201cd 18.5px,#6101c8 19.5px,#5600a6 21.5px,#260023 34.5px,#0e0005 39.5px,#000000 43.5px,#000000 109.5px,#555555 110.5px)"></i><i style="background:linear-gradient(90deg,#6c01e6 0.5px,#6c01e7 9.5px,#6101ca 17.5px,#5f01c3 18.5px,#5400a2 20.5px,#240020 33.5px,#0c0004 38.5px,#000000 42.5px,#000000 109.5px,#555555 110.5px)"></i><i style="background:linear-gradient(90deg,#6e02ea 0.5px,#6b01e4 9.5px,#6001c7 16.5px,#5e01c0 17.5px,#5700a9 18.5px,#270025 31.5px,#0f0006 36.5px,#000000 40.5px,#000000 109.5px,#555555 110.5px)"></i><i style="background:linear-gradient(90deg,#6e02eb 0.5px,#6b01e4 8.5px,#5f01c4 15.5px,#5b01b8 16.5px,#5500a3 17.5px,#250021 30.5px,#0d0004 35.5px,#000000 39.5px,#000000 109.5px,#555555 110.5px)"></i><i style="background:linear-gradient(90deg,#6f02ec 0.5px,#6901e0 8.5px,#5e01c1 14.5px,#5a01b5 15.5px,#54009f 16.5px,#23001e 29.5px,#0b0003 34.5px,#000000 37.5px,#000000 109.5px,#555555 110.5px)"></i><i style="background:linear-gradient(90deg,#6f02ed 0.5px,#6701da 8.5px,#5d01be 13.5px,#52009b 15.5px,#260023 27.5px,#0e0005 32.5px,#000000 36.5px,#000000 109.5px,#555555 110.5px)"></i><i style="background:linear-gradient(90deg,#6f02ec 0.5px,#6501d5 7.5px,#5b01b6 12.5px,#4f0092 14.5px,#260024 25.5px,#0f0006 30.5px,#000000 34.5px,#000000 109.5px,#555555 110.5px)"></i><i style="background:linear-gradient(90deg,#6d02ea 0.5px,#6201cb 7.5px,#5800ac 11.5px,#500095 12.5px,#250023 23.5px,#0e0005 28.5px,#000000 32.5px,#000000 109.5px,#555555 110.5px)"></i><i style="background:linear-gradient(90deg,#6e02eb 0.5px,#6301cf 6.5px,#5800ac 10.5px,#510096 11.5px,#270025 21.5px,#0d0005 26.5px,#000000 30.5px,#000000 109.5px,#555555 110.5px)"></i><i style="background:linear-gradient(90deg,#6f02ec 0.5px,#6301ce 6.5px,#5d01bd 8.5px,#5800ae 9.5px,#510096 10.5px,#24001f 20.5px,#0d0005 24.5px,#000000 27.5px,#000000 109.5px,#555555 110.5px)"></i><i style="background:linear-gradient(90deg,#6f02ee 0.5px,#6501d3 5.5px,#5f01c2 7.5px,#510098 9.5px,#250023 18.5px,#0d0004 22.5px,#000000 25.5px,#000000 109.5px,#555555 110.5px)"></i><i style="background:linear-gradient(90deg,#7102f1 0.5px,#6401d2 5.5px,#6101c8 6.5px,#52009c 8.5px,#280027 16.5px,#0c0004 20.5px,#000000 23.5px,#000000 109.5px,#555555 110.5px)"></i><i style="background:linear-gradient(90deg,#7402f6 0.5px,#6b01e5 3.5px,#6301ce 5.5px,#5400a0 7.5px,#23001f 15.5px,#0c0004 18.5px,#000000 21.5px,#000000 109.5px,#555555 110.5px)"></i><i style="background:linear-gradient(90deg,#7c03fd 0.5px,#6e02eb 3.5px,#6801dc 4.5px,#5d01bc 5.5px,#2e0033 12.5px,#14000b 15.5px,#000000 18.5px,#000000 109.5px,#555555 110.5px)"></i><i style="background:linear-gradient(90deg,#8706f9 0.5px,#7b03fd 2.5px,#7102f0 3.5px,#43006b 8.5px,#290029 11.5px,#15000c 13.5px,#030001 15.5px,#000000 109.5px,#555555 110.5px)"></i><i style="background:linear-gradient(90deg,#960bd1 0.5px,#8305fc 2.5px,#7302f3 3.5px,#5900b1 5.5px,#38004d 8.5px,#22001d 10.5px,#0a0004 12.5px,#000000 14.5px,#000000 109.5px,#555555 110.5px)"></i><i style="background:linear-gradient(90deg,#a31288 0.5px,#980bc9 1.5px,#8706f8 2.5px,#7603f7 3.5px,#6401d2 4.5px,#44006e 6.5px,#350045 7.5px,#260025 8.5px,#17000f 9.5px,#090004 10.5px,#000000 12.5px,#000000 109.5px,#555555 110.5px)"></i><i style="background:linear-gradient(90deg,#a7146e 0.5px,#9b0db8 1.5px,#8a06f3 2.5px,#7402f3 3.5px,#5d01bc 4.5px,#460076 5.5px,#31003c 6.5px,#1d0016 7.5px,#090004 8.5px,#000000 10.5px,#000000 109.5px,#555555 110.5px)"></i><i style="background:linear-gradient(90deg,#a71470 0.5px,#9a0cbf 1.5px,#8906f5 2.5px,#7603f7 3.5px,#6101ca 4.5px,#3b0056 6.5px,#2a002d 7.5px,#180011 8.5px,#090004 9.5px,#000000 11.5px,#000000 109.5px,#555555 110.5px)"></i><i style="background:linear-gradient(90deg,#9d0eaf 0.5px,#950ad4 1.5px,#8405fb 2.5px,#7502f6 3.5px,#6601d6 4.5px,#3d005a 7.5px,#240021 9.5px,#16000e 10.5px,#020000 12.5px,#000000 109.5px,#555555 110.5px)"></i><i style="background:linear-gradient(90deg,#8e08eb 0.5px,#8004fe 2.5px,#7202f1 3.5px,#3e005d 8.5px,#20001b 11.5px,#0a0004 13.5px,#000000 15.5px,#000000 109.5px,#555555 110.5px)"></i><i style="background:linear-gradient(90deg,#8104fe 0.5px,#7703fa 2.5px,#7102f0 3.5px,#5500a3 6.5px,#300038 11.5px,#15000b 14.5px,#000000 17.5px,#000000 109.5px,#555555 110.5px)"></i><i style="background:linear-gradient(90deg,#7703fa 0.5px,#6d02e8 3.5px,#6801dc 4.5px,#6101c9 5.5px,#5700ab 6.5px,#240021 14.5px,#0c0004 17.5px,#000000 20.5px,#000000 109.5px,#555555 110.5px)"></i><i style="background:linear-gradient(90deg,#7202f3 0.5px,#6701db 4.5px,#5e01bf 6.5px,#5500a5 7.5px,#22001d 16.5px,#0c0004 19.5px,#000000 22.5px,#000000 109.5px,#555555 110.5px)"></i><i style="background:linear-gradient(90deg,#7002ef 0.5px,#6401d2 5.5px,#5d01be 7.5px,#5500a3 8.5px,#260025 17.5px,#0d0004 21.5px,#000000 24.5px,#000000 109.5px,#555555 110.5px)"></i><i style="background:linear-gradient(90deg,#6f02ed 0.5px,#6501d4 5.5px,#5c01b9 8.5px,#4f0091 10.5px,#240021 19.5px,#0d0004 23.5px,#000000 26.5px,#000000 109.5px,#555555 110.5px)"></i><i style="background:linear-gradient(90deg,#6e02eb 0.5px,#6301cf 6.5px,#5b01b7 9.5px,#4f008f 11.5px,#23001e 21.5px,#0d0005 25.5px,#000000 28.5px,#000000 109.5px,#555555 110.5px)"></i><i style="background:linear-gradient(90deg,#6e02ea 0.5px,#6101ca 7.5px,#5a00b3 10.5px,#4e008e 12.5px,#260024 22.5px,#0d0005 27.5px,#000000 31.5px,#000000 109.5px,#555555 110.5px)"></i><i style="background:linear-gradient(90deg,#6e02ea 0.5px,#6301cf 7.5px,#5a00b4 11.5px,#5600a7 12.5px,#4f0091 13.5px,#250023 24.5px,#0e0005 29.5px,#000000 33.5px,#000000 109.5px,#555555 110.5px)"></i><i style="background:linear-gradient(90deg,#6f02ed 0.5px,#6701db 7.5px,#5d01be 12.5px,#500093 15.5px,#260024 26.5px,#0f0006 31.5px,#000000 35.5px,#000000 109.5px,#555555 110.5px)"></i><i style="background:linear-gradient(90deg,#6f02ed 0.5px,#6801dd 8.5px,#5c01bb 14.5px,#5500a4 15.5px,#240021 28.5px,#0d0004 33.5px,#000000 37.5px,#000000 109.5px,#555555 110.5px)"></i><i style="background:linear-gradient(90deg,#6f02ec 0.5px,#6a01e2 8.5px,#5d01be 15.5px,#53009d 17.5px,#260024 29.5px,#0f0005 34.5px,#000000 38.5px,#000000 109.5px,#555555 110.5px)"></i><i style="background:linear-gradient(90deg,#6e02eb 0.5px,#6a01e3 9.5px,#5f01c3 16.5px,#5400a1 18.5px,#23001f 31.5px,#0c0003 36.5px,#000000 40.5px,#000000 109.5px,#555555 110.5px)"></i><i style="background:linear-gradient(90deg,#6d02e9 0.5px,#6c01e6 9.5px,#6001c6 17.5px,#5500a5 19.5px,#250022 32.5px,#0e0005 37.5px,#000000 41.5px,#000000 109.5px,#555555 110.5px)"></i><i style="background:linear-gradient(90deg,#6a01e2 0.5px,#6d02e8 9.5px,#6301ce 17.5px,#5d01bd 19.5px,#5600a9 20.5px,#23001e 34.5px,#0a0003 39.5px,#000000 42.5px,#000000 109.5px,#555555 110.5px)"></i><i style="background:linear-gradient(90deg,#6701d9 0.5px,#6c01e7 11.5px,#6201cc 19.5px,#5f01c3 20.5px,#5800af 21.5px,#240021 35.5px,#0c0004 40.5px,#000000 44.5px,#000000 109.5px,#555555 110.5px)"></i><i style="background:linear-gradient(90deg,#6301cf 0.5px,#6901e0 9.5px,#6c01e5 13.5px,#6301ce 20.5px,#6101c8 21.5px,#5a00b2 22.5px,#260024 36.5px,#0e0005 41.5px,#000000 45.5px,#000000 109.5px,#555555 110.5px)"></i><i style="background:linear-gradient(90deg,#6001c6 0.5px,#6601d6 9.5px,#6c01e6 14.5px,#6201cd 22.5px,#5700ab 24.5px,#24001f 38.5px,#0b0003 43.5px,#000000 46.5px,#000000 109.5px,#555555 110.5px)"></i><i style="background:linear-gradient(90deg,#6d02e4 0.5px,#6701d8 3.5px,#5f01c4 6.5px,#6b01e5 16.5px,#6301cf 23.5px,#5800af 25.5px,#250022 39.5px,#0d0004 44.5px,#000000 48.5px,#000000 109.5px,#555555 110.5px)"></i><i style="background:linear-gradient(90deg,#9109dd 0.5px,#8004f7 5.5px,#7903f4 6.5px,#6101c9 9.5px,#5f01c5 10.5px,#6b01e3 17.5px,#6401d1 24.5px,#6001c7 25.5px,#5a00b3 26.5px,#22001d 41.5px,#0a0003 46.5px,#000000 49.5px,#000000 109.5px,#555555 110.5px)"></i><i style="background:linear-gradient(90deg,#b21f28 0.5px,#af1c39 2.5px,#a81662 4.5px,#940ad1 7.5px,#8b07eb 8.5px,#8105f6 9.5px,#7403ee 10.5px,#6101c8 12.5px,#6201cc 14.5px,#6b01e3 19.5px,#6401d3 25.5px,#6101c9 26.5px,#5b01b6 27.5px,#360046 38.5px,#1b0012 44.5px,#020000 49.5px,#000000 109.5px,#555555 110.5px)"></i><i style="background:linear-gradient(90deg,#cd4600 0.5px,#c23300 5.5px,#bd2c05 6.5px,#b62419 7.5px,#ae1b3f 8.5px,#a51477 9.5px,#9a0db7 10.5px,#8d08e4 11.5px,#8005f5 12.5px,#6f02e6 13.5px,#6301cf 14.5px,#6001c5 15.5px,#6b01e3 21.5px,#6301d0 27.5px,#5c01bb 28.5px,#21001b 44.5px,#080002 49.5px,#000000 53.5px,#000000 109.5px,#555555 110.5px)"></i><i style="background:linear-gradient(90deg,#de6f00 0.5px,#d75c00 5.5px,#c53800 9.5px,#bd2b08 10.5px,#b21f2e 11.5px,#a51473 12.5px,#970cc2 13.5px,#8706ef 14.5px,#7503ed 15.5px,#6501d3 16.5px,#6001c6 17.5px,#6a01e2 22.5px,#6401d2 28.5px,#5d01be 29.5px,#39004e 40.5px,#1e0017 46.5px,#050001 51.5px,#000000 60.5px,#000000 109.5px,#555555 110.5px)"></i><i style="background:linear-gradient(90deg,#eb9b00 0.5px,#e89200 4.5px,#dd6e00 8.5px,#c73a00 12.5px,#bc2a0c 13.5px,#ae1b44 14.5px,#9d0fa0 15.5px,#8c08e5 16.5px,#7703ee 17.5px,#6501d3 18.5px,#6001c6 19.5px,#6a01e2 24.5px,#6601d6 29.5px,#5b01b8 31.5px,#3e005d 40.5px,#200019 47.5px,#070001 52.5px,#000000 56.5px,#000000 109.5px,#555555 110.5px)"></i><i style="background:linear-gradient(90deg,#eea900 0.5px,#eca000 7.5px,#e58700 10.5px,#cd4500 14.5px,#c23302 15.5px,#b3202c 16.5px,#8d08e0 18.5px,#7703ed 19.5px,#6401d0 20.5px,#6001c7 21.5px,#6a01e2 25.5px,#6601d8 30.5px,#5c01bb 32.5px,#43006d 40.5px,#22001c 48.5px,#090002 53.5px,#000000 56.5px,#000000 109.5px,#555555 110.5px)"></i><i style="background:linear-gradient(90deg,#f1b400 0.5px,#eda400 10.5px,#ea9700 12.5px,#d96100 15.5px,#c63900 17.5px,#b62324 18.5px,#8c08e2 20.5px,#7303e8 21.5px,#6201cb 22.5px,#6101ca 23.5px,#6a01e2 27.5px,#6701d9 31.5px,#6401d1 32.5px,#5d01be 33.5px,#450071 41.5px,#24001f 49.5px,#0b0003 54.5px,#000000 57.5px,#000000 109.5px,#555555 110.5px)"></i><i style="background:linear-gradient(90deg,#f3be00 0.5px,#f1b500 8.5px,#eca000 14.5px,#e38100 16.5px,#c73b00 19.5px,#b62425 20.5px,#a01191 21.5px,#8707e9 22.5px,#6d02e0 23.5px,#6101c8 24.5px,#6a01e2 28.5px,#6701db 32.5px,#250022 50.5px,#0d0004 55.5px,#000000 58.5px,#000000 109.5px,#555555 110.5px)"></i><i style="background:linear-gradient(90deg,#f1b600 0.5px,#f2bc00 10.5px,#eda300 16.5px,#eb9b00 17.5px,#dd6e00 19.5px,#c63b00 21.5px,#b32131 22.5px,#9b0ea9 23.5px,#7f05ed 24.5px,#6601d4 25.5px,#6101c8 26.5px,#6a01e1 29.5px,#6701d9 34.5px,#6001c6 35.5px,#48007a 43.5px,#22001d 52.5px,#090002 57.5px,#000000 60.5px,#000000 109.5px,#555555 110.5px)"></i><i style="background:linear-gradient(90deg,#efac00 0.5px,#f2bd00 13.5px,#eb9e00 19.5px,#e68b00 20.5px,#c43704 23.5px,#ae1c49 24.5px,#930bc9 25.5px,#7503e8 26.5px,#6201ca 27.5px,#6501d5 29.5px,#6a01e3 31.5px,#6701da 35.5px,#5e01c0 37.5px,#49007e 44.5px,#240020 53.5px,#0b0003 58.5px,#000000 61.5px,#000000 109.5px,#555555 110.5px)"></i><i style="background:linear-gradient(90deg,#eda300 0.5px,#f0b100 11.5px,#f2bc00 16.5px,#ec9f00 21.5px,#e68b00 22.5px,#d14e00 24.5px,#bf300c 25.5px,#a61572 26.5px,#8707e3 27.5px,#6a02da 28.5px,#6001c8 29.5px,#6a01e3 32.5px,#6901df 36.5px,#5f01c4 38.5px,#4b0084 45.5px,#260024 54.5px,#0d0004 59.5px,#000000 63.5px,#000000 109.5px,#555555 110.5px)"></i><i style="background:linear-gradient(90deg,#e78d00 0.5px,#f1b700 16.5px,#f2ba00 19.5px,#eb9e00 23.5px,#e58800 24.5px,#cd4600 26.5px,#b72624 27.5px,#9a0fa7 28.5px,#7904e9 29.5px,#6201cc 30.5px,#6201cd 31.5px,#6a01e2 33.5px,#6a01e2 37.5px,#5f01c2 40.5px,#49007f 47.5px,#23001f 56.5px,#0a0002 61.5px,#000000 64.5px,#000000 109.5px,#555555 110.5px)"></i><i style="background:linear-gradient(90deg,#db6600 0.5px,#e07700 6.5px,#eca000 12.5px,#f3bd00 20.5px,#eea700 24.5px,#eb9c00 25.5px,#e38200 26.5px,#c73b03 28.5px,#ac1b52 29.5px,#8c08d8 30.5px,#6b02db 31.5px,#6101c9 32.5px,#6b01e5 35.5px,#6a01e2 38.5px,#6801db 39.5px,#6101ca 40.5px,#510096 46.5px,#23001e 57.5px,#090002 62.5px,#000000 65.5px,#000000 109.5px,#555555 110.5px)"></i><i style="background:linear-gradient(90deg,#cd4600 0.5px,#d45400 6.5px,#e07500 11.5px,#eb9d00 15.5px,#f2bc00 22.5px,#f1b500 24.5px,#eda600 26.5px,#ea9700 27.5px,#d25200 29.5px,#bd2e14 30.5px,#9e1196 31.5px,#7a04e7 32.5px,#6201cc 33.5px,#6301cf 34.5px,#6b01e3 36.5px,#6801dd 40.5px,#5f01c4 42.5px,#4a007f 49.5px,#22001c 58.5px,#070001 63.5px,#000000 67.5px,#000000 109.5px,#555555 110.5px)"></i><i style="background:linear-gradient(90deg,#be2c00 0.5px,#c73a00 7.5px,#d65900 12.5px,#eb9e00 18.5px,#f2bc00 24.5px,#f1b400 26.5px,#eda400 28.5px,#e79000 29.5px,#cb4300 31.5px,#b01f47 32.5px,#8c09d3 33.5px,#6902d8 34.5px,#6101ca 35.5px,#6a01e1 37.5px,#6901df 41.5px,#6201cd 42.5px,#4d008a 49.5px,#260023 58.5px,#0b0003 63.5px,#000000 66.5px,#000000 109.5px,#555555 110.5px)"></i><i style="background:linear-gradient(90deg,#ae1a39 0.5px,#b11c25 4.5px,#b92603 8.5px,#cb4100 13.5px,#dd6c00 17.5px,#ea9900 20.5px,#f2bc00 26.5px,#f0b300 28.5px,#ec9f00 30.5px,#e48300 31.5px,#d55900 32.5px,#bf3112 33.5px,#9e1196 34.5px,#7604e3 35.5px,#6201ca 36.5px,#6b01e4 39.5px,#6901de 42.5px,#5d01bd 45.5px,#450072 52.5px,#250021 59.5px,#0f0006 63.5px,#000000 66.5px,#000000 109.5px,#555555 110.5px)"></i><i style="background:linear-gradient(90deg,#9f0fa0 0.5px,#a2118f 4.5px,#a7146c 7.5px,#b6220d 12.5px,#ba2701 13.5px,#ce4800 17.5px,#de7000 20.5px,#ec9f00 23.5px,#f2bc00 28.5px,#f0b100 30.5px,#ea9700 32.5px,#cc4600 34.5px,#af1f4a 35.5px,#8708d7 36.5px,#6601d2 37.5px,#6201cd 38.5px,#6a01e2 40.5px,#6901e0 43.5px,#5d01bd 46.5px,#450070 53.5px,#24001f 60.5px,#0d0004 64.5px,#000000 67.5px,#000000 109.5px,#555555 110.5px)"></i><i style="background:linear-gradient(90deg,#9109e2 0.5px,#950ad5 5.5px,#9b0dbb 8.5px,#a31289 11.5px,#aa1657 13.5px,#b21e1c 15.5px,#b82408 16.5px,#bd2b00 17.5px,#d65800 21.5px,#eb9d00 25.5px,#f2bc00 30.5px,#eda300 33.5px,#e68900 34.5px,#d65c00 35.5px,#bf3115 36.5px,#9a0fa4 37.5px,#7103df 38.5px,#6101c9 39.5px,#6901e0 41.5px,#6901e0 44.5px,#6701d8 45.5px,#6001c6 46.5px,#4c0089 52.5px,#22001d 61.5px,#0c0003 65.5px,#000000 68.5px,#000000 109.5px,#555555 110.5px)"></i><i style="background:linear-gradient(90deg,#8806f8 0.5px,#8e08ed 8.5px,#940ad8 11.5px,#9b0dba 13.5px,#a31289 15.5px,#b11d22 18.5px,#b72409 19.5px,#be2c00 20.5px,#d35200 23.5px,#eb9d00 27.5px,#f2bc00 32.5px,#eeaa00 34.5px,#ea9b00 35.5px,#df7400 36.5px,#cb4501 37.5px,#ab1c5d 38.5px,#8006de 39.5px,#6301cc 40.5px,#6401d0 41.5px,#6a01e2 43.5px,#6601d8 46.5px,#6001c6 47.5px,#4c0088 53.5px,#270025 61.5px,#100006 65.5px,#000000 68.5px,#000000 109.5px,#555555 110.5px)"></i><i style="background:linear-gradient(90deg,#8104ff 0.5px,#8806f8 10.5px,#9008e5 14.5px,#980bc8 16.5px,#a21192 18.5px,#b31f1b 21.5px,#ba2704 22.5px,#d14e00 25.5px,#eb9d00 29.5px,#f2bb00 33.5px,#f2ba00 34.5px,#eda500 36.5px,#e68b00 37.5px,#d65b00 38.5px,#bb2c23 39.5px,#920cb9 40.5px,#6902d6 41.5px,#6201cc 42.5px,#6a01e1 44.5px,#6801dc 47.5px,#6101c9 48.5px,#48007a 55.5px,#260023 62.5px,#0e0005 66.5px,#000000 69.5px,#000000 109.5px,#555555 110.5px)"></i><i style="background:linear-gradient(90deg,#8004ff 0.5px,#8505fc 13.5px,#8f08ea 17.5px,#970bcc 19.5px,#a2118c 21.5px,#af1b30 23.5px,#b7230d 24.5px,#bf2e00 25.5px,#d85e00 28.5px,#ec9f00 31.5px,#f2bc00 35.5px,#efab00 37.5px,#eb9b00 38.5px,#de7200 39.5px,#c84007 40.5px,#a3167b 41.5px,#7504de 42.5px,#6101ca 43.5px,#6901e0 45.5px,#6801db 48.5px,#5e01bf 50.5px,#480079 56.5px,#240020 63.5px,#0c0004 67.5px,#000000 70.5px,#000000 109.5px,#555555 110.5px)"></i><i style="background:linear-gradient(90deg,#8004ff 0.5px,#8305fe 16.5px,#8e08eb 20.5px,#9309dd 21.5px,#980cc6 22.5px,#9f0fa3 23.5px,#a51378 24.5px,#b42016 26.5px,#bd2b01 27.5px,#d85f00 30.5px,#e89000 32.5px,#eca100 33.5px,#f2b900 36.5px,#f2bb00 37.5px,#eda500 39.5px,#e58900 40.5px,#d35500 41.5px,#b4253c 42.5px,#8608d1 43.5px,#6401ce 44.5px,#6301d0 45.5px,#6801dd 46.5px,#6801dd 49.5px,#5b01b6 52.5px,#23001e 64.5px,#0a0003 68.5px,#000000 71.5px,#000000 109.5px,#555555 110.5px)"></i><i style="background:linear-gradient(90deg,#8104ff 0.5px,#8205fe 19.5px,#8c07f2 22.5px,#9008e8 23.5px,#950ad4 24.5px,#9c0db4 25.5px,#a31289 26.5px,#b31f1d 28.5px,#bc2a02 29.5px,#d96100 32.5px,#e99500 34.5px,#efab00 36.5px,#f2bb00 38.5px,#efac00 40.5px,#ea9a00 41.5px,#dc6d00 42.5px,#c23712 43.5px,#970fa6 44.5px,#6b02d7 45.5px,#6201cb 46.5px,#6901e0 48.5px,#6801dd 50.5px,#5700ab 54.5px,#22001c 65.5px,#080002 69.5px,#000000 72.5px,#000000 109.5px,#555555 110.5px)"></i><i style="background:linear-gradient(90deg,#8d07ef 0.5px,#8004ff 13.5px,#8205fe 22.5px,#8e07ed 25.5px,#9309de 26.5px,#990cc0 27.5px,#a11194 28.5px,#b21e21 30.5px,#bc2a03 31.5px,#da6500 34.5px,#ea9a00 36.5px,#f1b800 39.5px,#f2bb00 40.5px,#eda400 42.5px,#e48300 43.5px,#ce4b00 44.5px,#a91b68 45.5px,#7704db 46.5px,#6101ca 47.5px,#6901df 49.5px,#6801dc 51.5px,#6501d4 52.5px,#5e01c0 53.5px,#470076 59.5px,#260024 65.5px,#0d0004 69.5px,#000000 72.5px,#000000 109.5px,#555555 110.5px)"></i><i style="background:linear-gradient(90deg,#9f0fa1 0.5px,#9b0db5 4.5px,#8e08ea 10.5px,#8104fe 15.5px,#8405fd 25.5px,#8c07f1 27.5px,#9109e3 28.5px,#980cc7 29.5px,#a0109a 30.5px,#b21e21 32.5px,#bd2b02 33.5px,#d35200 35.5px,#e68a00 37.5px,#ec9f00 38.5px,#f2bb00 41.5px,#f1b700 42.5px,#efab00 43.5px,#e99500 44.5px,#d86200 45.5px,#b92b2f 46.5px,#8709c8 47.5px,#6301cd 48.5px,#6401d1 49.5px,#6801dd 50.5px,#6801dc 52.5px,#6501d4 53.5px,#250022 66.5px,#0b0003 70.5px,#000000 73.5px,#000000 109.5px,#555555 110.5px)"></i><i style="background:linear-gradient(90deg,#b7230f 0.5px,#b31f1c 4.5px,#ad1941 7.5px,#9a0dbd 12.5px,#9209e0 14.5px,#8606f9 17.5px,#8004ff 24.5px,#8606fa 28.5px,#9008e6 30.5px,#970bca 31.5px,#a0109b 32.5px,#b31f1d 34.5px,#bf2d01 35.5px,#d55800 37.5px,#e89300 39.5px,#eda400 40.5px,#f2bb00 43.5px,#eca100 45.5px,#e07900 46.5px,#c63e0d 47.5px,#99119d 48.5px,#6a02d5 49.5px,#6201cc 50.5px,#6701da 51.5px,#6801dc 53.5px,#6601d7 54.5px,#5b01b7 56.5px,#3b0055 63.5px,#1d0015 68.5px,#090002 71.5px,#000000 74.5px,#000000 109.5px,#555555 110.5px)"></i><i style="background:linear-gradient(90deg,#c93d00 0.5px,#bd2b00 9.5px,#b62310 11.5px,#b21e22 12.5px,#ae1a3c 13.5px,#9c0eae 16.5px,#970bcb 17.5px,#8d07ed 19.5px,#8104ff 22.5px,#8104fe 29.5px,#8a07f4 31.5px,#9008e7 32.5px,#970bcb 33.5px,#a01098 34.5px,#b52116 36.5px,#c13100 37.5px,#d86000 39.5px,#eb9b00 41.5px,#f2bb00 44.5px,#f1b700 45.5px,#eea900 46.5px,#e68d00 47.5px,#d25300 48.5px,#aa1d63 49.5px,#7604d9 50.5px,#6101c9 51.5px,#6801de 53.5px,#6601d7 55.5px,#22001d 68.5px,#0e0005 71.5px,#000000 73.5px,#000000 109.5px,#555555 110.5px)"></i><i style="background:linear-gradient(90deg,#d85e00 0.5px,#d04b00 8.5px,#bb2804 15.5px,#b52215 16.5px,#af1c33 17.5px,#a11192 19.5px,#9a0dbc 20.5px,#940ad9 21.5px,#8806f6 23.5px,#8004ff 26.5px,#8505fc 32.5px,#9008e7 34.5px,#980cc8 35.5px,#a21191 36.5px,#ac1848 37.5px,#b8240d 38.5px,#c43600 39.5px,#dc6b00 41.5px,#e78c00 42.5px,#eca200 43.5px,#f1b700 45.5px,#f2ba00 46.5px,#f0af00 47.5px,#eb9c00 48.5px,#db6a00 49.5px,#ba2d2f 50.5px,#8508c8 51.5px,#6201ca 52.5px,#6801dd 54.5px,#6601d9 56.5px,#270026 68.5px,#130009 71.5px,#000000 74.5px,#000000 109.5px,#555555 110.5px)"></i><i style="background:linear-gradient(90deg,#e07500 0.5px,#db6800 9.5px,#c02e00 18.5px,#ba2706 19.5px,#b31f1e 20.5px,#ac184a 21.5px,#a31285 22.5px,#9b0db7 23.5px,#930ada 24.5px,#8d07ed 25.5px,#8205fe 27.5px,#8104ff 33.5px,#8a06f5 35.5px,#9008e5 36.5px,#990cc1 37.5px,#a41284 38.5px,#af1b37 39.5px,#bb2906 40.5px,#d55800 42.5px,#ea9800 44.5px,#f2bb00 47.5px,#f1b500 48.5px,#eda600 49.5px,#e28000 50.5px,#c7400e 51.5px,#9610a1 52.5px,#6702d2 53.5px,#6301ce 54.5px,#6701db 55.5px,#6601d8 57.5px,#6201cc 58.5px,#5700ab 60.5px,#260023 69.5px,#100007 72.5px,#000000 75.5px,#000000 109.5px,#555555 110.5px)"></i><i style="background:linear-gradient(90deg,#e48400 0.5px,#df7300 12.5px,#d85e00 16.5px,#bc2902 22.5px,#b4211a 23.5px,#ac1849 24.5px,#a2118b 25.5px,#990cc0 26.5px,#9109e2 27.5px,#8a07f3 28.5px,#8004ff 30.5px,#8505fc 36.5px,#8b07f4 37.5px,#9109e1 38.5px,#9b0db7 39.5px,#a61472 40.5px,#b21e24 41.5px,#c02f01 42.5px,#da6500 44.5px,#e58800 45.5px,#eca100 46.5px,#f1b700 48.5px,#f2b900 49.5px,#efac00 50.5px,#e89200 51.5px,#d35600 52.5px,#a81b6c 53.5px,#7103d7 54.5px,#6101c8 55.5px,#6601d6 56.5px,#6501d5 58.5px,#6201cb 59.5px,#5a01b5 60.5px,#23001e 70.5px,#0c0004 73.5px,#000000 75.5px,#000000 109.5px,#555555 110.5px)"></i><i style="background:linear-gradient(90deg,#e99400 0.5px,#e58500 11.5px,#dd6d00 18.5px,#bc2904 25.5px,#b31f21 26.5px,#a9165c 27.5px,#9e0fa2 28.5px,#950ad3 29.5px,#8d07ed 30.5px,#8605fa 31.5px,#8004ff 36.5px,#8605fb 38.5px,#8c07f2 39.5px,#930ada 40.5px,#9e0fa7 41.5px,#aa1659 42.5px,#b72313 43.5px,#c53700 44.5px,#df7400 46.5px,#e99600 47.5px,#f0b200 49.5px,#f2bb00 50.5px,#f0b200 51.5px,#ec9f00 52.5px,#dc6c00 53.5px,#b72b37 54.5px,#7e07cc 55.5px,#6101c7 56.5px,#6601d7 58.5px,#6101ca 60.5px,#5500a5 62.5px,#270025 70.5px,#100006 73.5px,#010000 75.5px,#000000 109.5px,#555555 110.5px)"></i></div>
<div class="hm" style="left:306px;top:236px;width:111px;height:103px"><i style="background:linear-gradient(90deg,#e69655 0.5px,#e49255 15.5px,#df8555 20.5px,#d06d56 24.5px,#cb686b 26.5px,#c9667a 27.5px,#c96776 28.5px,#cf6d5d 29.5px,#df8655 31.5px,#efb355 33.5px,#f5cd55 34.5px,#fcef55 38.5px,#fbea55 41.5px,#fae155 42.5px,#e99e55 44.5px,#e08955 45.5px,#e08955 46.5px,#e99f55 47.5px,#f7d655 49.5px,#fced55 51.5px,#fced55 52.5px,#f7d555 54.5px,#eba855 55.5px,#de8455 56.5px,#df8655 57.5px,#eaa355 58.5px,#efb255 59.5px,#d77e68 60.5px,#a759e2 61.5px,#8a55b6 62.5px,#6b5567 64.5px,#61555a 65.5px,#555555 70.5px,#555555 109.5px,#8e8e8e 110.5px)"></i><i style="background:linear-gradient(90deg,#d96000 0.5px,#d45500 13.5px,#c93d00 18.5px,#ba2602 21.5px,#b21d18 23.5px,#af1b2c 24.5px,#ae1a32 25.5px,#b21e23 26.5px,#ba280c 27.5px,#c53800 28.5px,#db6900 30.5px,#efad00 32.5px,#f4c200 33.5px,#fae300 36.5px,#fbe900 37.5px,#f8da00 40.5px,#f2bb00 41.5px,#e58800 42.5px,#d85f00 43.5px,#d04b00 44.5px,#d55900 45.5px,#eeab00 47.5px,#f4c600 48.5px,#fae500 50.5px,#fae200 51.5px,#f7d500 52.5px,#f0b500 53.5px,#dd7100 54.5px,#ce4800 55.5px,#d35200 56.5px,#e17900 57.5px,#e58600 58.5px,#c03b30 59.5px,#7b07c5 60.5px,#520099 61.5px,#3a0055 62.5px,#21001d 63.5px,#120008 64.5px,#030000 67.5px,#000000 109.5px,#555555 110.5px)"></i><i style="background:linear-gradient(90deg,#d45500 0.5px,#d04b00 10.5px,#ba2602 17.5px,#b31e12 19.5px,#ae1a33 21.5px,#af1a31 22.5px,#ba270d 24.5px,#c33500 25.5px,#d75e00 27.5px,#f1b700 30.5px,#fae400 34.5px,#fbe700 36.5px,#f9dc00 38.5px,#f3c200 39.5px,#db6800 41.5px,#d14d00 42.5px,#d25000 43.5px,#de7000 44.5px,#f2bd00 46.5px,#f9df00 48.5px,#fbe600 49.5px,#f6cd00 51.5px,#ea9d00 52.5px,#d55a00 53.5px,#c43602 54.5px,#e48400 56.5px,#e07b00 57.5px,#b12852 58.5px,#6e03cb 59.5px,#4c0087 60.5px,#350047 61.5px,#1d0017 62.5px,#100007 63.5px,#020000 66.5px,#000000 109.5px,#555555 110.5px)"></i><i style="background:linear-gradient(90deg,#c93e00 0.5px,#c33300 8.5px,#b62207 13.5px,#b01c23 16.5px,#af1a32 17.5px,#ae1a35 18.5px,#b5211b 20.5px,#bc2a06 21.5px,#cd4600 23.5px,#df7300 25.5px,#efad00 27.5px,#f3c000 28.5px,#fbe600 32.5px,#fbe600 34.5px,#f9dd00 36.5px,#f4c600 37.5px,#dd6f00 39.5px,#d25100 40.5px,#d04b00 41.5px,#da6400 42.5px,#f0b200 44.5px,#f8d800 46.5px,#fbe500 47.5px,#fae300 48.5px,#f8d700 49.5px,#f3be00 50.5px,#e38200 51.5px,#d35300 52.5px,#ce4800 53.5px,#e78d00 55.5px,#d96900 56.5px,#a01982 57.5px,#6302c2 58.5px,#2f0039 60.5px,#1a0012 61.5px,#0e0005 62.5px,#010000 66.5px,#000000 109.5px,#555555 110.5px)"></i><i style="background:linear-gradient(90deg,#b72305 0.5px,#b41f0f 7.5px,#b01b29 11.5px,#ae1a38 13.5px,#b5211a 16.5px,#bb2909 17.5px,#c23200 18.5px,#d85f00 21.5px,#eea900 24.5px,#f2bc00 25.5px,#fbe700 30.5px,#fae200 33.5px,#f9dc00 34.5px,#f4c700 35.5px,#df7300 37.5px,#d45500 38.5px,#cf4a00 39.5px,#d65b00 40.5px,#eda600 42.5px,#f3c100 43.5px,#fae000 45.5px,#fbe600 46.5px,#f6d000 48.5px,#eda900 49.5px,#da6700 50.5px,#c33704 51.5px,#d25100 52.5px,#e07600 53.5px,#e78f00 54.5px,#cf5310 55.5px,#900faa 56.5px,#5c01b6 57.5px,#2a002d 59.5px,#17000e 60.5px,#060001 62.5px,#000000 75.5px,#000000 109.5px,#555555 110.5px)"></i><i style="background:linear-gradient(90deg,#ae1a39 0.5px,#ae1a34 6.5px,#b31f1e 10.5px,#c02f00 13.5px,#d04c00 16.5px,#e38000 19.5px,#efac00 21.5px,#f4c500 23.5px,#fbe900 28.5px,#f9dc00 32.5px,#f4c600 33.5px,#e07600 35.5px,#d55800 36.5px,#cf4900 37.5px,#d45500 38.5px,#f2ba00 41.5px,#fbe600 44.5px,#fae300 45.5px,#f8d700 46.5px,#f4c400 47.5px,#d65c00 49.5px,#c93f00 50.5px,#d65b00 51.5px,#e48300 52.5px,#e68a00 53.5px,#c23d28 54.5px,#8208c4 55.5px,#5400a1 56.5px,#250024 58.5px,#14000b 59.5px,#060001 61.5px,#000000 79.5px,#000000 109.5px,#555555 110.5px)"></i><i style="background:linear-gradient(90deg,#bd2b02 0.5px,#c43600 7.5px,#d55800 12.5px,#e38200 15.5px,#f1b500 18.5px,#fbe800 25.5px,#fae000 29.5px,#f8d900 30.5px,#f3c200 31.5px,#e07600 33.5px,#d65900 34.5px,#cf4900 35.5px,#d25100 36.5px,#dd6c00 37.5px,#f0b200 39.5px,#f7d400 41.5px,#fae200 42.5px,#fbe600 43.5px,#f7d100 45.5px,#efb000 46.5px,#de7300 47.5px,#c83e00 48.5px,#d04b00 49.5px,#db6800 50.5px,#e78e00 51.5px,#e17c00 52.5px,#b32a4a 53.5px,#7404d1 54.5px,#510096 55.5px,#3a0055 56.5px,#21001c 57.5px,#120008 58.5px,#030000 61.5px,#000000 109.5px,#555555 110.5px)"></i><i style="background:linear-gradient(90deg,#d65c00 0.5px,#da6400 5.5px,#e38000 9.5px,#f3c100 15.5px,#fbe900 23.5px,#f9df00 27.5px,#f7d500 28.5px,#f2ba00 29.5px,#df7300 31.5px,#d55900 32.5px,#cf4900 33.5px,#d24f00 34.5px,#e58800 36.5px,#eeab00 37.5px,#f4c200 38.5px,#fbe700 41.5px,#f8d700 43.5px,#f4c600 44.5px,#d96200 46.5px,#c53804 47.5px,#d14f00 48.5px,#e99400 50.5px,#d96800 51.5px,#a41a7a 52.5px,#6902ce 53.5px,#340045 55.5px,#1d0016 56.5px,#0f0006 57.5px,#020000 60.5px,#000000 109.5px,#555555 110.5px)"></i><i style="background:linear-gradient(90deg,#eda500 0.5px,#efae00 5.5px,#fbea00 20.5px,#f9dc00 25.5px,#f6cc00 26.5px,#dd6e00 29.5px,#d45600 30.5px,#cf4900 31.5px,#d14f00 32.5px,#e48300 34.5px,#eda500 35.5px,#f3be00 36.5px,#fae500 39.5px,#fbe600 40.5px,#f7d100 42.5px,#f0b300 43.5px,#ce4900 45.5px,#cf4a00 46.5px,#d75d00 47.5px,#e48400 48.5px,#e89300 49.5px,#ce510e 50.5px,#9510a5 51.5px,#6001bf 52.5px,#2e0038 54.5px,#190011 55.5px,#0e0005 56.5px,#010000 60.5px,#000000 109.5px,#555555 110.5px)"></i><i style="background:linear-gradient(90deg,#f5c900 0.5px,#f7d400 9.5px,#fbe900 16.5px,#f9de00 22.5px,#f7d400 23.5px,#f3be00 24.5px,#db6700 27.5px,#d35200 28.5px,#ce4800 29.5px,#d24f00 30.5px,#e38000 32.5px,#f2bb00 34.5px,#fae200 37.5px,#fbe700 38.5px,#f8d700 40.5px,#f4c700 41.5px,#da6600 43.5px,#c23401 44.5px,#cd4700 45.5px,#e78f00 47.5px,#e58900 48.5px,#c23c24 49.5px,#8609c4 50.5px,#5a01b2 51.5px,#29002c 53.5px,#16000d 54.5px,#060001 56.5px,#000000 69.5px,#000000 109.5px,#555555 110.5px)"></i><i style="background:linear-gradient(90deg,#f9dd00 0.5px,#fbe900 13.5px,#f9de00 19.5px,#f7d500 20.5px,#f4c300 21.5px,#df7300 24.5px,#d14d00 26.5px,#ce4800 27.5px,#d35200 28.5px,#e38100 30.5px,#f2b900 32.5px,#fbe700 36.5px,#f9db00 38.5px,#f7d000 39.5px,#f0b300 40.5px,#e27e00 41.5px,#d25200 42.5px,#ce4700 43.5px,#d45400 44.5px,#ea9700 46.5px,#df7800 47.5px,#b42846 48.5px,#7905d7 49.5px,#54009f 50.5px,#250023 52.5px,#14000a 53.5px,#060001 55.5px,#000000 74.5px,#000000 109.5px,#555555 110.5px)"></i><i style="background:linear-gradient(90deg,#fbea00 0.5px,#f9de00 15.5px,#f7d100 17.5px,#eea800 19.5px,#da6500 22.5px,#cf4900 24.5px,#cf4900 25.5px,#dc6b00 27.5px,#f2b800 30.5px,#fbe600 34.5px,#fbe600 35.5px,#f7d500 37.5px,#f4c400 38.5px,#da6700 40.5px,#c23400 41.5px,#cc4400 42.5px,#d86000 43.5px,#e58600 44.5px,#ea9800 45.5px,#d76200 46.5px,#a51a77 47.5px,#6e03d8 48.5px,#500094 49.5px,#20001b 51.5px,#110008 52.5px,#030000 55.5px,#000000 109.5px,#555555 110.5px)"></i><i style="background:linear-gradient(90deg,#fae300 0.5px,#f9dd00 11.5px,#f6d000 13.5px,#f0b200 15.5px,#db6600 19.5px,#d04b00 21.5px,#ce4700 22.5px,#d14e00 23.5px,#e68900 26.5px,#f2ba00 28.5px,#fae400 32.5px,#fbe700 33.5px,#f6ce00 36.5px,#efaf00 37.5px,#e27d00 38.5px,#d45700 39.5px,#cc4400 40.5px,#d14d00 41.5px,#e89200 43.5px,#e89100 44.5px,#cc4b0d 45.5px,#9710a3 46.5px,#6501cc 47.5px,#340044 49.5px,#1c0015 50.5px,#0f0006 51.5px,#010000 55.5px,#000000 109.5px,#555555 110.5px)"></i><i style="background:linear-gradient(90deg,#f9db00 0.5px,#f7d300 6.5px,#f3c000 9.5px,#d45500 17.5px,#ce4700 19.5px,#d04a00 20.5px,#e17a00 23.5px,#f2bc00 26.5px,#fae300 30.5px,#fbe800 31.5px,#f7d200 34.5px,#f3bf00 35.5px,#da6500 37.5px,#c23401 38.5px,#d65a00 40.5px,#ea9a00 42.5px,#e38300 43.5px,#bf3625 44.5px,#8909c5 45.5px,#5e01bc 46.5px,#2e0036 48.5px,#190011 49.5px,#0d0005 50.5px,#010000 54.5px,#000000 109.5px,#555555 110.5px)"></i><i style="background:linear-gradient(90deg,#eca100 0.5px,#e99600 5.5px,#ce4800 15.5px,#d04b00 17.5px,#df7300 20.5px,#f0b100 23.5px,#f5c800 25.5px,#fbe800 29.5px,#f7d500 32.5px,#f5c900 33.5px,#eda700 34.5px,#e07800 35.5px,#c93e00 37.5px,#ce4900 38.5px,#e68a00 40.5px,#eb9c00 41.5px,#dc6e00 42.5px,#b22548 43.5px,#7d05dc 44.5px,#5901ae 45.5px,#29002b 47.5px,#16000d 48.5px,#060001 50.5px,#000000 64.5px,#000000 109.5px,#555555 110.5px)"></i><i style="background:linear-gradient(90deg,#da6500 0.5px,#d75b00 6.5px,#ce4700 11.5px,#cf4900 13.5px,#df7400 17.5px,#f2b900 21.5px,#fbe800 27.5px,#f6ce00 31.5px,#f1b500 32.5px,#d75f00 34.5px,#c23403 35.5px,#d55700 37.5px,#e99600 39.5px,#e99600 40.5px,#d25702 41.5px,#a41879 42.5px,#7303e0 43.5px,#54009f 44.5px,#240022 46.5px,#13000a 47.5px,#030000 50.5px,#000000 109.5px,#555555 110.5px)"></i><i style="background:linear-gradient(90deg,#ce4600 0.5px,#d04b00 8.5px,#de7000 13.5px,#f3c000 19.5px,#fbe800 25.5px,#f7d100 29.5px,#f3be00 30.5px,#de7000 32.5px,#c63900 34.5px,#ce4800 35.5px,#eb9d00 38.5px,#e58800 39.5px,#c7400f 40.5px,#970fa9 41.5px,#6a02d8 42.5px,#390052 44.5px,#20001b 45.5px,#110008 46.5px,#030000 49.5px,#000000 109.5px,#555555 110.5px)"></i><i style="background:linear-gradient(90deg,#d75d00 0.5px,#db6700 6.5px,#e68b00 11.5px,#f3c100 16.5px,#fbe800 23.5px,#f7d200 27.5px,#f4c400 28.5px,#e27c00 30.5px,#d25400 31.5px,#c23403 32.5px,#d45500 34.5px,#e89000 36.5px,#ec9e00 37.5px,#de7400 38.5px,#bb2e2c 39.5px,#8a09cc 40.5px,#6301c9 41.5px,#330042 43.5px,#1c0015 44.5px,#0f0006 45.5px,#010000 49.5px,#000000 109.5px,#555555 110.5px)"></i><i style="background:linear-gradient(90deg,#e68900 0.5px,#e89100 5.5px,#f4c300 13.5px,#fbe800 20.5px,#f8d800 24.5px,#f5c700 26.5px,#eeab00 27.5px,#da6400 29.5px,#c33500 31.5px,#d96100 33.5px,#eb9b00 35.5px,#ea9700 36.5px,#d55d00 37.5px,#ae1f54 38.5px,#7f05e3 39.5px,#5d01ba 40.5px,#2d0035 42.5px,#190010 43.5px,#0d0005 44.5px,#010000 48.5px,#000000 109.5px,#555555 110.5px)"></i><i style="background:linear-gradient(90deg,#f1b800 0.5px,#f5c900 10.5px,#fbe900 18.5px,#f7d200 23.5px,#f5c800 24.5px,#efb000 25.5px,#dd6c00 27.5px,#ca4404 28.5px,#c43500 29.5px,#d04a00 30.5px,#d45600 31.5px,#e78d00 33.5px,#eca100 34.5px,#e58800 35.5px,#cb4608 36.5px,#a11485 37.5px,#7603e7 38.5px,#5801ac 39.5px,#28002a 41.5px,#16000d 42.5px,#060001 44.5px,#000000 58.5px,#000000 109.5px,#555555 110.5px)"></i><i style="background:linear-gradient(90deg,#f5ca00 0.5px,#f8d500 9.5px,#fbe900 15.5px,#f7d100 21.5px,#f5c700 22.5px,#f0b000 23.5px,#de7000 25.5px,#d45600 26.5px,#c43700 28.5px,#e27d00 31.5px,#ea9900 32.5px,#ec9f00 33.5px,#de7400 34.5px,#bf3319 35.5px,#950db6 36.5px,#6d02e1 37.5px,#3d005c 39.5px,#240021 40.5px,#13000a 41.5px,#030000 44.5px,#000000 109.5px,#555555 110.5px)"></i><i style="background:linear-gradient(90deg,#f8da00 0.5px,#fbe900 12.5px,#f6cf00 19.5px,#f4c400 20.5px,#e78f00 22.5px,#d65a00 24.5px,#c03105 25.5px,#d65900 28.5px,#eca100 31.5px,#e99500 32.5px,#d55c00 33.5px,#b3233b 34.5px,#8908d9 35.5px,#6701d5 36.5px,#380050 38.5px,#1f001a 39.5px,#110007 40.5px,#020000 43.5px,#000000 109.5px,#555555 110.5px)"></i><i style="background:linear-gradient(90deg,#fbe800 0.5px,#fae300 10.5px,#f6cb00 17.5px,#f3bd00 18.5px,#d35500 22.5px,#ca4000 24.5px,#ca4000 25.5px,#db6600 27.5px,#ea9800 29.5px,#eca200 30.5px,#e38300 31.5px,#cb4604 32.5px,#a7186d 33.5px,#7f05eb 34.5px,#6101c6 35.5px,#4c0088 36.5px,#320040 37.5px,#1c0014 38.5px,#0f0006 39.5px,#010000 43.5px,#000000 109.5px,#555555 110.5px)"></i><i style="background:linear-gradient(90deg,#fae300 0.5px,#f8d600 11.5px,#f6cd00 14.5px,#f0b200 16.5px,#dd6d00 19.5px,#d75d00 20.5px,#bb2904 22.5px,#cc4400 23.5px,#d85e00 25.5px,#eca100 28.5px,#eb9b00 29.5px,#dc6c00 30.5px,#c03312 31.5px,#9b10a1 32.5px,#7703ef 33.5px,#5c01b8 34.5px,#2d0033 36.5px,#180010 37.5px,#070001 39.5px,#000000 50.5px,#000000 109.5px,#555555 110.5px)"></i><i style="background:linear-gradient(90deg,#f8d900 0.5px,#f6ce00 10.5px,#f3c100 12.5px,#e78c00 15.5px,#d25100 18.5px,#c23302 19.5px,#cc4300 20.5px,#d04b00 22.5px,#dd6d00 24.5px,#ea9a00 26.5px,#eda400 27.5px,#e68b00 28.5px,#d35500 29.5px,#b52432 30.5px,#900acc 31.5px,#7002e9 32.5px,#43006d 34.5px,#280029 35.5px,#15000c 36.5px,#060001 38.5px,#000000 53.5px,#000000 109.5px,#555555 110.5px)"></i><i style="background:linear-gradient(90deg,#f6cf00 0.5px,#f5ca00 6.5px,#f1b600 9.5px,#d65a00 15.5px,#cd4600 16.5px,#cf4a00 17.5px,#c33400 18.5px,#c63a01 19.5px,#d14d00 20.5px,#db6800 22.5px,#eda300 25.5px,#eb9d00 26.5px,#df7500 27.5px,#c84004 28.5px,#a91862 29.5px,#8607e8 30.5px,#6b02df 31.5px,#3d005b 33.5px,#230020 34.5px,#130009 35.5px,#030000 38.5px,#000000 109.5px,#555555 110.5px)"></i><i style="background:linear-gradient(90deg,#efaf00 0.5px,#eea700 4.5px,#e37f00 9.5px,#d14f00 13.5px,#d14d00 14.5px,#be2d03 15.5px,#c03001 16.5px,#cf4900 17.5px,#d55600 19.5px,#ec9f00 23.5px,#eda400 24.5px,#e78e00 25.5px,#d65d00 26.5px,#bd2e14 27.5px,#9d109b 28.5px,#7e04f3 29.5px,#6501d2 30.5px,#3a0054 32.5px,#21001c 33.5px,#120009 34.5px,#030000 37.5px,#000000 109.5px,#555555 110.5px)"></i><i style="background:linear-gradient(90deg,#e27b00 0.5px,#df7100 5.5px,#d86000 8.5px,#d15000 9.5px,#cf4a00 11.5px,#bb2804 12.5px,#c13200 13.5px,#ce4700 14.5px,#cd4500 15.5px,#da6500 18.5px,#ea9a00 21.5px,#eda500 22.5px,#eb9c00 23.5px,#e07700 24.5px,#cc4600 25.5px,#b11f3c 26.5px,#920acd 27.5px,#7603f2 28.5px,#500094 30.5px,#390050 31.5px,#22001e 32.5px,#14000a 33.5px,#040000 36.5px,#000000 109.5px,#555555 110.5px)"></i><i style="background:linear-gradient(90deg,#d25000 0.5px,#d65a00 1.5px,#cf4b00 3.5px,#d45400 4.5px,#cf4a00 5.5px,#c43700 6.5px,#cc4400 7.5px,#ca3f00 8.5px,#b82405 9.5px,#cd4600 11.5px,#cb4100 12.5px,#db6600 16.5px,#eda300 20.5px,#eca200 21.5px,#e68a00 22.5px,#d75e00 23.5px,#c13309 24.5px,#a51576 25.5px,#8706ea 26.5px,#6f02ea 27.5px,#4e008e 29.5px,#38004d 30.5px,#23001f 31.5px,#16000c 32.5px,#050001 35.5px,#000000 87.5px,#000000 109.5px,#555555 110.5px)"></i><i style="background:linear-gradient(90deg,#bc2a03 0.5px,#cd4500 1.5px,#c03000 2.5px,#ba2604 3.5px,#cb4200 4.5px,#be2d05 6.5px,#cb4200 7.5px,#cc4400 9.5px,#d85f00 13.5px,#eda200 18.5px,#eda400 19.5px,#e99600 20.5px,#cd4700 22.5px,#b52329 23.5px,#990db1 24.5px,#7e04f5 25.5px,#6a01e0 26.5px,#5900b1 27.5px,#4e008e 28.5px,#37004b 29.5px,#240020 30.5px,#17000d 31.5px,#060001 34.5px,#000000 58.5px,#000000 109.5px,#555555 110.5px)"></i><i style="background:linear-gradient(90deg,#cd4500 0.5px,#d04a00 1.5px,#cd4600 3.5px,#d65800 9.5px,#e27d00 13.5px,#eca200 16.5px,#eda500 17.5px,#eb9c00 18.5px,#e38100 19.5px,#c13306 21.5px,#a9185f 22.5px,#8e09dc 23.5px,#7703f5 24.5px,#4c0088 27.5px,#360049 28.5px,#250022 29.5px,#18000f 30.5px,#070001 33.5px,#000000 50.5px,#000000 109.5px,#555555 110.5px)"></i><i style="background:linear-gradient(90deg,#d55600 0.5px,#d96100 6.5px,#e58500 11.5px,#eda400 14.5px,#eda600 15.5px,#ec9f00 16.5px,#e68900 17.5px,#ca4100 19.5px,#b62323 20.5px,#9e0f9f 21.5px,#8406f2 22.5px,#7102ef 23.5px,#4b0084 26.5px,#360047 27.5px,#250023 28.5px,#190010 29.5px,#080001 32.5px,#000000 46.5px,#000000 109.5px,#555555 110.5px)"></i><i style="background:linear-gradient(90deg,#de6f00 0.5px,#e17700 5.5px,#e99600 10.5px,#eda600 12.5px,#ec9f00 14.5px,#e78d00 15.5px,#d04d00 17.5px,#bf2e07 18.5px,#aa185b 19.5px,#920ad2 20.5px,#7c04f9 21.5px,#6d02e7 22.5px,#5e01c0 23.5px,#5800ae 24.5px,#350046 26.5px,#260024 27.5px,#1a0011 28.5px,#090002 31.5px,#000000 43.5px,#000000 109.5px,#555555 110.5px)"></i><i style="background:linear-gradient(90deg,#e68900 0.5px,#e99500 6.5px,#eea700 10.5px,#eb9d00 12.5px,#e68c00 13.5px,#c53700 16.5px,#b3202c 17.5px,#9e109e 18.5px,#8806ee 19.5px,#7603f7 20.5px,#6901de 21.5px,#5d01bc 22.5px,#5700ab 23.5px,#350045 25.5px,#260024 26.5px,#1b0013 27.5px,#0a0002 30.5px,#000000 41.5px,#000000 109.5px,#555555 110.5px)"></i><i style="background:linear-gradient(90deg,#eca200 0.5px,#eda400 8.5px,#e99700 10.5px,#dd6d00 12.5px,#c83c00 14.5px,#b82612 15.5px,#a7156c 16.5px,#930ad1 17.5px,#7f04f9 18.5px,#7202f2 19.5px,#5b01b8 21.5px,#5700ab 22.5px,#340044 24.5px,#270025 25.5px,#14000a 27.5px,#040000 32.5px,#000000 109.5px,#555555 110.5px)"></i><i style="background:linear-gradient(90deg,#eda400 0.5px,#eb9c00 6.5px,#e68900 8.5px,#c83c00 12.5px,#bb2909 13.5px,#ac194a 14.5px,#9c0eaf 15.5px,#8907ef 16.5px,#7903fa 17.5px,#6f02eb 18.5px,#6201cd 19.5px,#5600a6 21.5px,#44006f 22.5px,#340043 23.5px,#270026 24.5px,#15000b 26.5px,#040000 31.5px,#000000 109.5px,#555555 110.5px)"></i><i style="background:linear-gradient(90deg,#e78e00 0.5px,#e48500 4.5px,#d55800 8.5px,#c63800 10.5px,#bb2907 11.5px,#ae1b3b 12.5px,#a11095 13.5px,#9109dc 14.5px,#8104fb 15.5px,#7603f8 16.5px,#6c01e5 17.5px,#6001c7 18.5px,#5c01bb 19.5px,#5500a4 20.5px,#44006d 21.5px,#340043 22.5px,#280027 23.5px,#16000d 25.5px,#050001 30.5px,#000000 90.5px,#000000 109.5px,#555555 110.5px)"></i><i style="background:linear-gradient(90deg,#d86000 0.5px,#d45600 4.5px,#c13000 8.5px,#b8250c 9.5px,#ae1a3d 10.5px,#a31289 11.5px,#960bcc 12.5px,#8706f5 13.5px,#7c03fd 14.5px,#7402f5 15.5px,#6101c8 17.5px,#6001c7 18.5px,#5500a5 19.5px,#450071 20.5px,#360047 21.5px,#2a002b 22.5px,#18000f 24.5px,#080002 28.5px,#000000 47.5px,#000000 109.5px,#555555 110.5px)"></i><i style="background:linear-gradient(90deg,#c73900 0.5px,#c23100 4.5px,#be2c00 5.5px,#b82509 6.5px,#b21e24 7.5px,#aa1754 8.5px,#980cc7 10.5px,#8b07ee 11.5px,#8004fe 12.5px,#7a03fc 13.5px,#7202f2 14.5px,#6201cc 16.5px,#6201cc 17.5px,#5600a7 18.5px,#460074 19.5px,#38004c 20.5px,#2c002f 21.5px,#1a0011 23.5px,#090002 27.5px,#000000 43.5px,#000000 109.5px,#555555 110.5px)"></i><i style="background:linear-gradient(90deg,#b21e1f 0.5px,#b21e23 2.5px,#b01c2d 3.5px,#ad193f 4.5px,#a41283 6.5px,#960bcf 8.5px,#8c07ee 9.5px,#8305fd 10.5px,#7703fa 12.5px,#6401d0 15.5px,#6401d3 16.5px,#3a0051 19.5px,#2e0034 20.5px,#1c0014 22.5px,#0a0003 26.5px,#000000 40.5px,#000000 109.5px,#555555 110.5px)"></i><i style="background:linear-gradient(90deg,#a11099 0.5px,#a0109e 2.5px,#9b0db8 4.5px,#8a06f4 7.5px,#7f04ff 9.5px,#7502f7 11.5px,#6801db 13.5px,#6601d6 15.5px,#3c0057 18.5px,#31003a 19.5px,#1f0018 21.5px,#0f0006 24.5px,#010000 34.5px,#000000 109.5px,#555555 110.5px)"></i><i style="background:linear-gradient(90deg,#8f08e8 0.5px,#8c07f0 3.5px,#8004ff 7.5px,#7302f4 10.5px,#6801db 12.5px,#6901df 13.5px,#6601d7 14.5px,#3e005d 17.5px,#33003f 18.5px,#21001b 20.5px,#110007 23.5px,#020000 32.5px,#000000 109.5px,#555555 110.5px)"></i><i style="background:linear-gradient(90deg,#8505fd 0.5px,#7b03fd 7.5px,#6d02e8 10.5px,#6801dd 11.5px,#6d02e7 12.5px,#6601d7 13.5px,#400062 16.5px,#2c002f 18.5px,#1d0015 20.5px,#0c0004 24.5px,#010000 38.5px,#000000 109.5px,#555555 110.5px)"></i><i style="background:linear-gradient(90deg,#8305fe 0.5px,#7903fc 6.5px,#6a01e1 10.5px,#6f02eb 11.5px,#6601d7 12.5px,#420067 15.5px,#2e0034 17.5px,#1f0018 19.5px,#0e0005 23.5px,#010000 36.5px,#000000 109.5px,#555555 110.5px)"></i><i style="background:linear-gradient(90deg,#8104ff 0.5px,#7402f6 6.5px,#6c02e5 9.5px,#7002ef 10.5px,#6601d7 11.5px,#43006c 14.5px,#300038 16.5px,#21001b 18.5px,#100006 22.5px,#020000 34.5px,#000000 109.5px,#555555 110.5px)"></i><i style="background:linear-gradient(90deg,#7f04ff 0.5px,#7402f6 5.5px,#6d02e7 7.5px,#7102f0 9.5px,#6601d7 10.5px,#450070 13.5px,#32003d 15.5px,#23001f 17.5px,#110007 21.5px,#020000 33.5px,#000000 109.5px,#555555 110.5px)"></i><i style="background:linear-gradient(90deg,#7f04ff 0.5px,#7502f7 4.5px,#6d02e9 6.5px,#7202f2 7.5px,#7102ef 8.5px,#5b01b7 10.5px,#3c0058 13.5px,#2c002f 15.5px,#1a0011 18.5px,#090002 24.5px,#000000 48.5px,#000000 109.5px,#555555 110.5px)"></i><i style="background:linear-gradient(90deg,#8004ff 0.5px,#7602f8 3.5px,#7002ee 5.5px,#7602f7 6.5px,#7002ef 7.5px,#5c01b9 9.5px,#3e005c 12.5px,#2e0033 14.5px,#1c0014 17.5px,#0a0003 23.5px,#000000 45.5px,#000000 109.5px,#555555 110.5px)"></i><i style="background:linear-gradient(90deg,#8204ff 0.5px,#7502f6 4.5px,#7803fa 5.5px,#7002ee 6.5px,#5c01ba 8.5px,#3f0060 11.5px,#2f0037 13.5px,#1e0016 16.5px,#0d0004 21.5px,#010000 38.5px,#000000 109.5px,#555555 110.5px)"></i><i style="background:linear-gradient(90deg,#8806f8 0.5px,#7a03fc 4.5px,#7102f0 5.5px,#5d01bc 7.5px,#410064 10.5px,#31003b 12.5px,#200019 15.5px,#0f0005 20.5px,#010000 36.5px,#000000 109.5px,#555555 110.5px)"></i><i style="background:linear-gradient(90deg,#9109e5 0.5px,#8a06f6 1.5px,#7e04fe 3.5px,#7302f4 4.5px,#5e01c0 6.5px,#420068 9.5px,#2c0030 12.5px,#1d0014 15.5px,#0c0003 21.5px,#000000 42.5px,#000000 109.5px,#555555 110.5px)"></i><i style="background:linear-gradient(90deg,#960ad3 0.5px,#8c07f2 1.5px,#8305fd 2.5px,#7703f9 3.5px,#6c01e6 4.5px,#44006f 8.5px,#2e0035 11.5px,#1f0017 14.5px,#0d0004 20.5px,#010000 39.5px,#000000 109.5px,#555555 110.5px)"></i><i style="background:linear-gradient(90deg,#9209e1 0.5px,#8a07f4 1.5px,#7d04fd 3.5px,#7102f1 4.5px,#5c01ba 6.5px,#400064 9.5px,#2b002e 12.5px,#1c0014 15.5px,#0c0003 21.5px,#000000 42.5px,#000000 109.5px,#555555 110.5px)"></i><i style="background:linear-gradient(90deg,#8a06f5 0.5px,#7d04fe 3.5px,#7903fb 4.5px,#6f02ed 5.5px,#510098 8.5px,#37004a 11.5px,#240020 14.5px,#140009 18.5px,#030000 30.5px,#000000 109.5px,#555555 110.5px)"></i><i style="background:linear-gradient(90deg,#8205fe 0.5px,#7502f7 3.5px,#7703f9 5.5px,#6e02eb 6.5px,#5a01b4 8.5px,#3e005c 11.5px,#2e0035 13.5px,#1d0015 16.5px,#0b0003 22.5px,#000000 42.5px,#000000 109.5px,#555555 110.5px)"></i><i style="background:linear-gradient(90deg,#8004ff 0.5px,#7502f7 3.5px,#7102f1 5.5px,#7603f8 6.5px,#6e02eb 7.5px,#5a00b3 9.5px,#3c0058 12.5px,#2d0031 14.5px,#1c0013 17.5px,#0a0003 23.5px,#000000 45.5px,#000000 109.5px,#555555 110.5px)"></i><i style="background:linear-gradient(90deg,#7f04ff 0.5px,#7402f6 4.5px,#6e02ea 6.5px,#7402f5 7.5px,#6f02eb 8.5px,#5900b1 10.5px,#3b0054 13.5px,#2b002d 15.5px,#1a0011 18.5px,#090002 24.5px,#000000 49.5px,#000000 109.5px,#555555 110.5px)"></i><i style="background:linear-gradient(90deg,#7f04ff 0.5px,#7402f5 5.5px,#6c01e7 7.5px,#7202f0 8.5px,#6f02ec 9.5px,#5900af 11.5px,#43006b 13.5px,#31003a 15.5px,#22001d 17.5px,#110007 21.5px,#020000 33.5px,#000000 109.5px,#555555 110.5px)"></i><i style="background:linear-gradient(90deg,#8004ff 0.5px,#7402f5 6.5px,#6c01e5 8.5px,#6f02ed 10.5px,#5800ad 12.5px,#410066 14.5px,#2f0035 16.5px,#20001a 18.5px,#0f0006 22.5px,#020000 34.5px,#000000 109.5px,#555555 110.5px)"></i><i style="background:linear-gradient(90deg,#8205fe 0.5px,#7803fb 6.5px,#6b01e3 10.5px,#6e02eb 11.5px,#6401d1 12.5px,#400062 15.5px,#2d0031 17.5px,#1e0017 19.5px,#0e0005 23.5px,#010000 36.5px,#000000 109.5px,#555555 110.5px)"></i><i style="background:linear-gradient(90deg,#8405fd 0.5px,#7a03fd 7.5px,#6901de 11.5px,#6d02e8 12.5px,#6401d0 13.5px,#3e005d 16.5px,#2a002c 18.5px,#1c0014 20.5px,#0c0004 24.5px,#010000 38.5px,#000000 109.5px,#555555 110.5px)"></i><i style="background:linear-gradient(90deg,#8b07f1 0.5px,#7f04ff 7.5px,#7803fa 9.5px,#6701da 12.5px,#6b01e3 13.5px,#6401d0 14.5px,#3c0057 17.5px,#280028 19.5px,#1a0011 21.5px,#090002 26.5px,#000000 47.5px,#000000 109.5px,#555555 110.5px)"></i><i style="background:linear-gradient(90deg,#9d0eac 0.5px,#9c0eb1 2.5px,#970bca 4.5px,#8606f9 7.5px,#7e04ff 9.5px,#7402f5 11.5px,#6601d8 13.5px,#6801dc 14.5px,#6301cf 15.5px,#470077 17.5px,#3a0052 18.5px,#2f0036 19.5px,#1e0016 21.5px,#0f0006 24.5px,#010000 34.5px,#000000 109.5px,#555555 110.5px)"></i><i style="background:linear-gradient(90deg,#af1b33 0.5px,#ae1a38 2.5px,#ac1846 3.5px,#a5137a 5.5px,#9209df 8.5px,#8806f6 9.5px,#8004fe 10.5px,#7602f8 12.5px,#6601d8 14.5px,#6301ce 16.5px,#450072 18.5px,#38004c 19.5px,#2c0031 20.5px,#1b0013 22.5px,#0a0003 26.5px,#000000 41.5px,#000000 109.5px,#555555 110.5px)"></i><i style="background:linear-gradient(90deg,#c33300 0.5px,#be2c00 4.5px,#b92606 5.5px,#b42019 6.5px,#ad1a3d 7.5px,#9d0ea9 9.5px,#930ad9 10.5px,#8706f7 11.5px,#7e04fe 12.5px,#7803fa 13.5px,#6201cc 16.5px,#6101ca 17.5px,#43006c 19.5px,#350046 20.5px,#2a002b 21.5px,#190010 23.5px,#090002 27.5px,#000000 44.5px,#000000 109.5px,#555555 110.5px)"></i><i style="background:linear-gradient(90deg,#d55700 0.5px,#d14e00 4.5px,#bc2a03 8.5px,#b31f1f 9.5px,#a9165b 10.5px,#9e0fa5 11.5px,#9109de 12.5px,#8305fb 13.5px,#7a03fc 14.5px,#7202f1 15.5px,#6001c7 17.5px,#6001c5 18.5px,#52009b 19.5px,#420068 20.5px,#340042 21.5px,#280027 22.5px,#17000d 24.5px,#060001 29.5px,#000000 68.5px,#000000 109.5px,#555555 110.5px)"></i><i style="background:linear-gradient(90deg,#e58500 0.5px,#e38000 3.5px,#d75c00 7.5px,#c13100 10.5px,#b62316 11.5px,#a9175b 12.5px,#9c0eb1 13.5px,#8b07eb 14.5px,#7d04fd 15.5px,#7402f4 16.5px,#5f01c3 18.5px,#5d01be 19.5px,#510098 20.5px,#400064 21.5px,#32003d 22.5px,#260024 23.5px,#15000b 25.5px,#050001 30.5px,#000000 101.5px,#000000 109.5px,#555555 110.5px)"></i><i style="background:linear-gradient(90deg,#eca200 0.5px,#eb9c00 5.5px,#e78d00 7.5px,#ce4800 11.5px,#c33400 12.5px,#b6231a 13.5px,#a7156d 14.5px,#960bc9 15.5px,#8405f7 16.5px,#7603f8 17.5px,#6c01e4 18.5px,#6001c5 19.5px,#5b01b8 20.5px,#52009b 21.5px,#400064 22.5px,#31003c 23.5px,#250022 24.5px,#14000a 26.5px,#030000 32.5px,#000000 109.5px,#555555 110.5px)"></i><i style="background:linear-gradient(90deg,#eda500 0.5px,#eda400 7.5px,#eb9b00 9.5px,#e17a00 11.5px,#c23300 14.5px,#b31f29 15.5px,#a11191 16.5px,#8d08e4 17.5px,#7b03fa 18.5px,#6f02ec 19.5px,#6201cc 20.5px,#5400a0 22.5px,#420068 23.5px,#31003c 24.5px,#240021 25.5px,#130009 27.5px,#030000 33.5px,#000000 109.5px,#555555 110.5px)"></i><i style="background:linear-gradient(90deg,#e78e00 0.5px,#e99600 5.5px,#eea700 9.5px,#eca100 11.5px,#e99600 12.5px,#da6500 14.5px,#bf2e05 16.5px,#ac1a4b 17.5px,#980cbf 18.5px,#8205f7 19.5px,#7302f2 20.5px,#5b01b6 22.5px,#5500a5 23.5px,#43006c 24.5px,#32003d 25.5px,#240020 26.5px,#120008 28.5px,#020000 34.5px,#000000 109.5px,#555555 110.5px)"></i><i style="background:linear-gradient(90deg,#e07400 0.5px,#e27c00 5.5px,#eda600 12.5px,#ea9900 14.5px,#e48200 15.5px,#cb4200 17.5px,#b82616 18.5px,#a31382 19.5px,#8c08e6 20.5px,#7703f7 21.5px,#6901de 22.5px,#5c01bb 23.5px,#5600a7 24.5px,#32003d 26.5px,#23001f 27.5px,#110007 29.5px,#020000 35.5px,#000000 109.5px,#555555 110.5px)"></i><i style="background:linear-gradient(90deg,#d75b00 0.5px,#db6600 6.5px,#e68a00 11.5px,#eda600 14.5px,#eda400 15.5px,#ea9900 16.5px,#e27d00 17.5px,#c43702 19.5px,#af1c41 20.5px,#960cc2 21.5px,#7e04f7 22.5px,#6d02e8 23.5px,#5e01bf 24.5px,#5700aa 25.5px,#32003e 27.5px,#23001e 28.5px,#18000e 29.5px,#070001 32.5px,#000000 47.5px,#000000 109.5px,#555555 110.5px)"></i><i style="background:linear-gradient(90deg,#cf4900 0.5px,#d35300 7.5px,#dd6d00 11.5px,#eda500 16.5px,#eda400 17.5px,#e99500 18.5px,#cf4c00 20.5px,#bb2914 21.5px,#a21289 22.5px,#8706ed 23.5px,#7202f0 24.5px,#5600a7 26.5px,#48007b 27.5px,#32003f 28.5px,#22001d 29.5px,#16000d 30.5px,#060001 33.5px,#000000 52.5px,#000000 109.5px,#555555 110.5px)"></i><i style="background:linear-gradient(90deg,#be2c03 0.5px,#cd4400 1.5px,#c23200 2.5px,#bc2a06 3.5px,#cc4300 4.5px,#c33500 6.5px,#cd4500 7.5px,#d45400 11.5px,#e37e00 15.5px,#eda500 18.5px,#eca200 19.5px,#e78c00 20.5px,#c63b02 22.5px,#ad1b4a 23.5px,#910ad2 24.5px,#7803f5 25.5px,#5800ac 27.5px,#49007f 28.5px,#330040 29.5px,#21001c 30.5px,#15000b 31.5px,#030000 35.5px,#000000 109.5px,#555555 110.5px)"></i><i style="background:linear-gradient(90deg,#cc4500 0.5px,#d45400 1.5px,#c93f00 3.5px,#d14e00 4.5px,#cb4200 5.5px,#bd2c06 6.5px,#ca4000 7.5px,#c93d00 8.5px,#ba2706 9.5px,#c83c00 10.5px,#cf4800 11.5px,#ce4700 12.5px,#d86000 15.5px,#eb9c00 19.5px,#eda500 20.5px,#eb9d00 21.5px,#e27e00 22.5px,#d15000 23.5px,#b9281b 24.5px,#9d0f9f 25.5px,#7f05f4 26.5px,#6a01e0 27.5px,#5800ad 28.5px,#4b0084 29.5px,#330041 30.5px,#20001a 31.5px,#14000a 32.5px,#030000 36.5px,#000000 109.5px,#555555 110.5px)"></i><i style="background:linear-gradient(90deg,#df7200 0.5px,#dc6900 5.5px,#d65900 8.5px,#cb4400 9.5px,#cd4500 11.5px,#ba2704 12.5px,#cf4900 14.5px,#d35200 16.5px,#e27c00 19.5px,#ec9f00 21.5px,#eda400 22.5px,#e89300 23.5px,#db6800 24.5px,#c53905 25.5px,#a91863 26.5px,#8907e4 27.5px,#7002eb 28.5px,#4b0085 30.5px,#330042 31.5px,#1f0019 32.5px,#120009 33.5px,#020000 37.5px,#000000 109.5px,#555555 110.5px)"></i><i style="background:linear-gradient(90deg,#eda300 0.5px,#eb9c00 4.5px,#e07600 9.5px,#da6300 11.5px,#cc4500 13.5px,#cf4900 14.5px,#be2d03 15.5px,#c43703 16.5px,#d04b00 17.5px,#d75b00 19.5px,#eda300 23.5px,#eca100 24.5px,#e38100 25.5px,#d04e00 26.5px,#b5232e 27.5px,#940cc1 28.5px,#7703f2 29.5px,#4d008c 31.5px,#340044 32.5px,#1e0017 33.5px,#110007 34.5px,#030000 37.5px,#000000 109.5px,#555555 110.5px)"></i><i style="background:linear-gradient(90deg,#f6cd00 0.5px,#f4c400 6.5px,#eeaa00 9.5px,#db6600 14.5px,#c73b00 16.5px,#ce4700 17.5px,#c63800 18.5px,#d75c00 21.5px,#ea9900 24.5px,#eda400 25.5px,#e99500 26.5px,#da6600 27.5px,#c0330e 28.5px,#a0128f 29.5px,#7e04f2 30.5px,#6401d0 31.5px,#36004b 33.5px,#1e0018 34.5px,#100007 35.5px,#020000 38.5px,#000000 109.5px,#555555 110.5px)"></i><i style="background:linear-gradient(90deg,#f8d700 0.5px,#f6cb00 10.5px,#f1b800 12.5px,#d96100 17.5px,#bd2c04 19.5px,#cc4300 20.5px,#d25000 22.5px,#e07400 24.5px,#eca000 26.5px,#eca000 27.5px,#e27d00 28.5px,#cb4501 29.5px,#ab1b59 30.5px,#8707e5 31.5px,#6a02dd 32.5px,#3c0058 34.5px,#22001f 35.5px,#120009 36.5px,#030000 39.5px,#000000 109.5px,#555555 110.5px)"></i><i style="background:linear-gradient(90deg,#fae100 0.5px,#f7d400 11.5px,#f5c800 14.5px,#eda600 16.5px,#d96300 19.5px,#d45600 20.5px,#c73c00 21.5px,#be2d04 22.5px,#ce4800 23.5px,#da6500 25.5px,#e99500 27.5px,#eda300 28.5px,#e89100 29.5px,#d55b00 30.5px,#b7272b 31.5px,#910bc7 32.5px,#7002e8 33.5px,#270027 36.5px,#15000c 37.5px,#060001 39.5px,#000000 55.5px,#000000 109.5px,#555555 110.5px)"></i><i style="background:linear-gradient(90deg,#fbe900 0.5px,#fae100 10.5px,#f6cf00 16.5px,#f4c500 17.5px,#ea9900 19.5px,#db6700 21.5px,#cd4800 22.5px,#cc4300 24.5px,#ce4700 25.5px,#dd6e00 27.5px,#eb9e00 29.5px,#eb9e00 30.5px,#de7300 31.5px,#c2370e 32.5px,#9c119b 33.5px,#7703ed 34.5px,#5b01b6 35.5px,#2c0031 37.5px,#18000f 38.5px,#070001 40.5px,#000000 51.5px,#000000 109.5px,#555555 110.5px)"></i><i style="background:linear-gradient(90deg,#f9dd00 0.5px,#fbe700 12.5px,#f5cb00 19.5px,#f2bb00 20.5px,#d25100 24.5px,#bc2a04 25.5px,#d85f00 28.5px,#e99400 30.5px,#eda200 31.5px,#e58800 32.5px,#cd4b02 33.5px,#a91967 34.5px,#7f05e9 35.5px,#6001c4 36.5px,#4b0085 37.5px,#31003e 38.5px,#1b0013 39.5px,#0e0006 40.5px,#010000 44.5px,#000000 109.5px,#555555 110.5px)"></i><i style="background:linear-gradient(90deg,#f6cd00 0.5px,#f8d900 9.5px,#fbe900 14.5px,#f6ce00 21.5px,#f3bf00 22.5px,#da6400 25.5px,#d04c00 26.5px,#c93f00 28.5px,#dc6a00 30.5px,#ec9e00 32.5px,#ea9800 33.5px,#d76100 34.5px,#b52537 35.5px,#8908d6 36.5px,#6601d3 37.5px,#37004d 39.5px,#1f0019 40.5px,#100007 41.5px,#020000 44.5px,#000000 109.5px,#555555 110.5px)"></i><i style="background:linear-gradient(90deg,#f3be00 0.5px,#f6cc00 10.5px,#fbe900 17.5px,#f6cf00 23.5px,#f3c000 24.5px,#d96300 27.5px,#c43702 28.5px,#c43600 29.5px,#d75c00 31.5px,#e99500 33.5px,#eca000 34.5px,#e07900 35.5px,#c13616 36.5px,#950db3 37.5px,#6d02df 38.5px,#3c005a 40.5px,#230020 41.5px,#130009 42.5px,#030000 45.5px,#000000 109.5px,#555555 110.5px)"></i><i style="background:linear-gradient(90deg,#e89300 0.5px,#eb9c00 5.5px,#f5cb00 14.5px,#fbe900 20.5px,#f6cf00 25.5px,#f3bf00 26.5px,#d55800 29.5px,#c73b00 31.5px,#dc6900 33.5px,#ec9f00 35.5px,#e68c00 36.5px,#cc4a06 37.5px,#a21582 38.5px,#7503e6 39.5px,#5700a8 40.5px,#270028 42.5px,#15000c 43.5px,#060001 45.5px,#000000 60.5px,#000000 109.5px,#555555 110.5px)"></i><i style="background:linear-gradient(90deg,#da6500 0.5px,#de7000 6.5px,#e99500 11.5px,#f3bf00 15.5px,#fbe800 22.5px,#f8d600 26.5px,#f6ce00 27.5px,#f2bb00 28.5px,#de7100 30.5px,#cc4603 31.5px,#c13101 32.5px,#d04b00 33.5px,#d75c00 34.5px,#ea9800 36.5px,#ea9a00 37.5px,#d76000 38.5px,#af2050 39.5px,#7f05e2 40.5px,#5c01b8 41.5px,#2c0033 43.5px,#18000f 44.5px,#070001 46.5px,#000000 57.5px,#000000 109.5px,#555555 110.5px)"></i><i style="background:linear-gradient(90deg,#ce4600 0.5px,#d14d00 7.5px,#de6e00 12.5px,#eda300 16.5px,#f4c400 19.5px,#fbe700 24.5px,#fae200 26.5px,#f6cc00 29.5px,#f0b300 30.5px,#d96300 32.5px,#c83d00 34.5px,#d25000 35.5px,#e78d00 37.5px,#ec9f00 38.5px,#df7700 39.5px,#bc2f2a 40.5px,#8a09ca 41.5px,#6201c7 42.5px,#320040 44.5px,#1b0014 45.5px,#0f0006 46.5px,#010000 50.5px,#000000 109.5px,#555555 110.5px)"></i><i style="background:linear-gradient(90deg,#d75d00 0.5px,#d25000 7.5px,#ce4600 11.5px,#d65800 14.5px,#e27e00 17.5px,#f0b300 20.5px,#fbe600 26.5px,#fae200 28.5px,#f5c800 31.5px,#eda700 32.5px,#d15100 34.5px,#c02f02 35.5px,#d85e00 37.5px,#eb9b00 39.5px,#e68b00 40.5px,#c8430f 41.5px,#970fa7 42.5px,#6902d5 43.5px,#38004f 45.5px,#1f0019 46.5px,#110007 47.5px,#020000 50.5px,#000000 109.5px,#555555 110.5px)"></i><i style="background:linear-gradient(90deg,#e89300 0.5px,#e68900 5.5px,#cf4800 14.5px,#cf4900 16.5px,#dd6d00 19.5px,#f2b900 23.5px,#fbe600 28.5px,#fae100 30.5px,#f7d200 32.5px,#f3c000 33.5px,#dc6a00 35.5px,#d24f00 36.5px,#cb4100 37.5px,#d35200 38.5px,#e89200 40.5px,#ea9800 41.5px,#d35901 42.5px,#a51878 43.5px,#7203de 44.5px,#3d005b 46.5px,#230020 47.5px,#13000a 48.5px,#030000 51.5px,#000000 109.5px,#555555 110.5px)"></i><i style="background:linear-gradient(90deg,#f7d500 0.5px,#f6ce00 5.5px,#f2bc00 8.5px,#d14e00 17.5px,#ce4800 19.5px,#d85f00 21.5px,#eb9d00 24.5px,#f3c100 26.5px,#fbe600 30.5px,#fae000 32.5px,#f6ce00 34.5px,#f0b300 35.5px,#d45700 37.5px,#bf2f04 38.5px,#d96300 40.5px,#e58600 41.5px,#eb9c00 42.5px,#dd7000 43.5px,#b32647 44.5px,#7c05db 45.5px,#5701ab 46.5px,#280029 48.5px,#16000c 49.5px,#060001 51.5px,#000000 66.5px,#000000 109.5px,#555555 110.5px)"></i><i style="background:linear-gradient(90deg,#fae200 0.5px,#f9dd00 10.5px,#f4c500 13.5px,#d75d00 19.5px,#ce4800 21.5px,#cf4900 22.5px,#db6700 24.5px,#efae00 27.5px,#f5c900 29.5px,#fbe700 32.5px,#f9de00 34.5px,#f5c700 36.5px,#eca000 37.5px,#dd6e00 38.5px,#d04d00 39.5px,#cd4600 40.5px,#d45600 41.5px,#ea9800 43.5px,#e48500 44.5px,#c03724 45.5px,#8909c5 46.5px,#5d01ba 47.5px,#2d0034 49.5px,#190010 50.5px,#0d0005 51.5px,#010000 55.5px,#000000 109.5px,#555555 110.5px)"></i><i style="background:linear-gradient(90deg,#fbe900 0.5px,#f9dc00 15.5px,#f4c500 17.5px,#dd6d00 21.5px,#d14d00 23.5px,#ce4700 24.5px,#d14e00 25.5px,#e07500 27.5px,#efac00 29.5px,#f3bf00 30.5px,#fbe700 34.5px,#f7d200 37.5px,#f2ba00 38.5px,#d55a00 40.5px,#c03005 41.5px,#dc6a00 43.5px,#e78f00 44.5px,#e89200 45.5px,#cc4d0d 46.5px,#9710a3 47.5px,#6401ca 48.5px,#320041 50.5px,#1c0014 51.5px,#0f0006 52.5px,#010000 56.5px,#000000 109.5px,#555555 110.5px)"></i><i style="background:linear-gradient(90deg,#fae100 0.5px,#fbe700 13.5px,#f8d900 19.5px,#f5cb00 20.5px,#db6800 24.5px,#cf4900 26.5px,#cf4a00 27.5px,#de7100 29.5px,#eeab00 31.5px,#f3bf00 32.5px,#fae200 35.5px,#fbe700 36.5px,#f5cb00 39.5px,#eda400 40.5px,#dd6e00 41.5px,#cd4700 42.5px,#cf4a00 43.5px,#d75d00 44.5px,#e48200 45.5px,#ea9800 46.5px,#d76400 47.5px,#a51a77 48.5px,#6e03d6 49.5px,#4f0090 50.5px,#390051 51.5px,#20001a 52.5px,#110008 53.5px,#030000 56.5px,#000000 109.5px,#555555 110.5px)"></i><i style="background:linear-gradient(90deg,#f6cd00 0.5px,#f8d800 9.5px,#fbe900 16.5px,#f8d900 22.5px,#f5c900 23.5px,#df7300 26.5px,#d04c00 28.5px,#cf4900 29.5px,#d55700 30.5px,#e78d00 32.5px,#efac00 33.5px,#f3c100 34.5px,#fae500 37.5px,#fbe600 38.5px,#f7d300 40.5px,#f2bc00 41.5px,#d55a00 43.5px,#c23403 44.5px,#df7400 46.5px,#e99500 47.5px,#e07a00 48.5px,#b42946 49.5px,#7805d6 50.5px,#53009e 51.5px,#240021 53.5px,#13000a 54.5px,#030000 57.5px,#000000 109.5px,#555555 110.5px)"></i><i style="background:linear-gradient(90deg,#f0b200 0.5px,#f2bb00 6.5px,#f9de00 16.5px,#fbe900 20.5px,#f9df00 24.5px,#f8d600 25.5px,#f3bf00 26.5px,#e27d00 28.5px,#d14e00 30.5px,#cf4900 31.5px,#d55600 32.5px,#e79000 34.5px,#f0b000 35.5px,#f6d000 37.5px,#fbe700 39.5px,#f8d900 41.5px,#f6cc00 42.5px,#eca400 43.5px,#db6900 44.5px,#c93f00 45.5px,#d04c00 46.5px,#db6600 47.5px,#e78d00 48.5px,#e58900 49.5px,#c23c24 50.5px,#8509c4 51.5px,#5901ae 52.5px,#28002a 54.5px,#16000d 55.5px,#060001 57.5px,#000000 71.5px,#000000 109.5px,#555555 110.5px)"></i><i style="background:linear-gradient(90deg,#db6900 0.5px,#df7200 5.5px,#e79000 9.5px,#f3c100 14.5px,#fbe900 22.5px,#f9dc00 27.5px,#f5ca00 28.5px,#db6700 31.5px,#d25000 32.5px,#cf4900 33.5px,#d55700 34.5px,#f1b500 37.5px,#fae200 40.5px,#fbe700 41.5px,#f7d400 43.5px,#f2bc00 44.5px,#e48500 45.5px,#d55700 46.5px,#c73b00 47.5px,#d65900 48.5px,#e38100 49.5px,#e89200 50.5px,#ce520e 51.5px,#9410a6 52.5px,#5f01bd 53.5px,#2d0035 55.5px,#190010 56.5px,#0d0005 57.5px,#010000 61.5px,#000000 109.5px,#555555 110.5px)"></i><i style="background:linear-gradient(90deg,#c23300 0.5px,#c73b00 6.5px,#d65b00 11.5px,#e38100 14.5px,#f3be00 18.5px,#fbe900 25.5px,#f9df00 29.5px,#f7d100 30.5px,#f0b200 31.5px,#dc6900 33.5px,#d25100 34.5px,#cf4900 35.5px,#d65a00 36.5px,#f2bb00 39.5px,#fbe500 42.5px,#fae400 43.5px,#f5cb00 45.5px,#eb9f00 46.5px,#d76100 47.5px,#c53800 48.5px,#d25100 49.5px,#e99300 51.5px,#d96800 52.5px,#a31a7b 53.5px,#6802cc 54.5px,#330043 56.5px,#1c0015 57.5px,#0f0006 58.5px,#010000 62.5px,#000000 109.5px,#555555 110.5px)"></i><i style="background:linear-gradient(90deg,#ae1a34 0.5px,#b01b2c 6.5px,#b82511 10.5px,#c03000 12.5px,#d55800 16.5px,#e89100 19.5px,#f1b700 21.5px,#fbe700 27.5px,#f9df00 31.5px,#f7d500 32.5px,#f1b700 33.5px,#db6900 35.5px,#d25000 36.5px,#cf4a00 37.5px,#d85f00 38.5px,#eda700 40.5px,#f3c100 41.5px,#f9df00 43.5px,#fbe700 44.5px,#f7d400 46.5px,#f1b800 47.5px,#e27d00 48.5px,#d35200 49.5px,#cd4500 50.5px,#e78c00 52.5px,#e17c00 53.5px,#b3294b 54.5px,#7304d0 55.5px,#500093 56.5px,#390053 57.5px,#20001b 58.5px,#110008 59.5px,#030000 62.5px,#000000 109.5px,#555555 110.5px)"></i><i style="background:linear-gradient(90deg,#b4200c 0.5px,#b21e14 6.5px,#ae1a36 11.5px,#ae1a37 12.5px,#b4211b 15.5px,#c03000 17.5px,#d55900 20.5px,#f1b500 24.5px,#f7d300 27.5px,#fbe900 30.5px,#fae000 33.5px,#f8d700 34.5px,#f1b800 35.5px,#db6700 37.5px,#d14e00 38.5px,#d04d00 39.5px,#da6600 40.5px,#f0b100 42.5px,#f8d600 44.5px,#fae400 45.5px,#fae400 46.5px,#f5c900 48.5px,#e99700 49.5px,#d25600 50.5px,#c33603 51.5px,#e38100 53.5px,#e58900 54.5px,#c23d29 55.5px,#8008c4 56.5px,#54009f 57.5px,#240022 59.5px,#14000a 60.5px,#030000 63.5px,#000000 109.5px,#555555 110.5px)"></i><i style="background:linear-gradient(90deg,#c63800 0.5px,#bd2a00 9.5px,#b4200e 13.5px,#ae1a37 17.5px,#b31f1f 19.5px,#c23200 21.5px,#d35200 23.5px,#e48400 25.5px,#f2b900 27.5px,#fbe800 32.5px,#fae000 35.5px,#f8d700 36.5px,#f1b600 37.5px,#e58800 38.5px,#d96200 39.5px,#d04b00 40.5px,#d25100 41.5px,#de7000 42.5px,#f2bb00 44.5px,#f9dd00 46.5px,#fbe600 47.5px,#f7d300 49.5px,#efb000 50.5px,#dd6f00 51.5px,#d04b00 52.5px,#d24f00 53.5px,#df7400 54.5px,#e78e00 55.5px,#cf5310 56.5px,#8f0eac 57.5px,#5b01b2 58.5px,#29002b 60.5px,#16000d 61.5px,#060001 63.5px,#000000 77.5px,#000000 109.5px,#555555 110.5px)"></i><i style="background:linear-gradient(90deg,#d35300 0.5px,#cf4900 9.5px,#ba2702 16.5px,#b31f10 18.5px,#af1b2e 20.5px,#ae1a35 21.5px,#b72316 23.5px,#c02f02 24.5px,#d35300 26.5px,#eeab00 29.5px,#f3c000 30.5px,#fbe700 34.5px,#fae000 37.5px,#f7d600 38.5px,#f0b100 39.5px,#e38100 40.5px,#d75c00 41.5px,#cf4a00 42.5px,#d55900 43.5px,#eda700 45.5px,#f4c400 46.5px,#fae300 48.5px,#fae400 49.5px,#f8d900 50.5px,#f4c300 51.5px,#e68b00 52.5px,#cf4d00 53.5px,#c73d02 54.5px,#e68b00 56.5px,#d96901 57.5px,#9f1984 58.5px,#6201c0 59.5px,#2e0037 61.5px,#190011 62.5px,#0d0005 63.5px,#010000 67.5px,#000000 109.5px,#555555 110.5px)"></i><i style="background:linear-gradient(90deg,#d85e00 0.5px,#d35200 13.5px,#c53600 18.5px,#b62207 21.5px,#ae1a35 24.5px,#b01c2b 25.5px,#c03001 27.5px,#d65a00 29.5px,#f2b900 32.5px,#fbe600 36.5px,#fae500 38.5px,#fae000 39.5px,#f7d200 40.5px,#eea900 41.5px,#e07800 42.5px,#d45500 43.5px,#d04b00 44.5px,#da6400 45.5px,#f1b500 47.5px,#f9dc00 49.5px,#fbe600 50.5px,#f6d000 52.5px,#eca400 53.5px,#d55c00 54.5px,#cc4400 55.5px,#d65b00 56.5px,#e48200 57.5px,#e07a00 58.5px,#b02855 59.5px,#6d03c9 60.5px,#4c0087 61.5px,#340044 62.5px,#1d0016 63.5px,#0f0006 64.5px,#010000 68.5px,#000000 109.5px,#555555 110.5px)"></i><i style="background:linear-gradient(90deg,#e69655 0.5px,#e39055 15.5px,#dd8155 20.5px,#ce6b59 24.5px,#c9667d 27.5px,#d37255 29.5px,#e38f55 31.5px,#f7d355 34.5px,#fdf155 38.5px,#fbe955 41.5px,#f8d755 42.5px,#e69655 44.5px,#df8555 45.5px,#e38f55 46.5px,#f4c855 48.5px,#fae555 50.5px,#fcef55 51.5px,#fae255 53.5px,#f5ca55 54.5px,#e89d55 55.5px,#dd8255 56.5px,#e28d55 57.5px,#ecab55 58.5px,#ecab55 59.5px,#cc6f87 60.5px,#9d57e2 61.5px,#775581 63.5px,#685563 64.5px,#5a5556 66.5px,#555555 88.5px,#555555 109.5px,#8e8e8e 110.5px)"></i></div>
<div class="hm" style="left:424px;top:236px;width:111px;height:103px"><i style="background:linear-gradient(90deg,#d97a55 0.5px,#dc8155 19.5px,#eaa355 25.5px,#f6d155 29.5px,#fae355 32.5px,#f8da55 33.5px,#e69955 36.5px,#db7f55 37.5px,#d27055 38.5px,#cc6963 40.5px,#ce6b56 41.5px,#d67555 42.5px,#f5cd55 45.5px,#f2c155 46.5px,#e99f55 47.5px,#d47562 48.5px,#bc5ecb 49.5px,#b25af6 50.5px,#bd5fc3 51.5px,#d87b5b 52.5px,#eba855 53.5px,#df8955 54.5px,#b85ed0 55.5px,#a857fe 56.5px,#a557fc 57.5px,#b05ae4 58.5px,#8555a6 59.5px,#735577 60.5px,#685562 61.5px,#5b5557 63.5px,#555555 78.5px,#555555 109.5px,#8e8e8e 110.5px)"></i><i style="background:linear-gradient(90deg,#c83b00 0.5px,#cb4100 15.5px,#d75d00 20.5px,#e27b00 23.5px,#f2ba00 27.5px,#f7d200 30.5px,#f5ca00 31.5px,#e99500 33.5px,#d14f00 35.5px,#c23200 36.5px,#b82403 37.5px,#b31e12 38.5px,#b92601 40.5px,#c73c00 41.5px,#e89400 43.5px,#f0b300 44.5px,#e99800 45.5px,#d86300 46.5px,#b8292d 47.5px,#980dbc 48.5px,#8d07ed 49.5px,#a01292 50.5px,#c63e0c 51.5px,#e07600 52.5px,#cd4d0d 53.5px,#9710b0 54.5px,#7d04fe 55.5px,#7903fb 56.5px,#8608cd 57.5px,#4d0182 58.5px,#2f0037 59.5px,#1d0016 60.5px,#110008 61.5px,#020000 65.5px,#000000 109.5px,#555555 110.5px)"></i><i style="background:linear-gradient(90deg,#ca4000 0.5px,#ce4800 11.5px,#da6400 17.5px,#e78c00 21.5px,#f3c100 25.5px,#f7d000 27.5px,#f7d200 28.5px,#f4c500 29.5px,#df7300 32.5px,#c33400 34.5px,#b92501 35.5px,#b31f10 36.5px,#b31e11 37.5px,#b72302 38.5px,#c13200 39.5px,#d35400 40.5px,#eeaa00 42.5px,#efad00 43.5px,#e38100 44.5px,#cd4904 45.5px,#aa1a63 46.5px,#9109de 47.5px,#9009e2 48.5px,#ab1b5f 49.5px,#d05100 50.5px,#e07700 51.5px,#c33c1e 52.5px,#8e0ad1 53.5px,#7c03fe 54.5px,#7c04f8 55.5px,#8509bf 56.5px,#470078 57.5px,#2d0033 58.5px,#1c0014 59.5px,#100007 60.5px,#020000 64.5px,#000000 109.5px,#555555 110.5px)"></i><i style="background:linear-gradient(90deg,#d45500 0.5px,#d75c00 9.5px,#e17800 15.5px,#f3c100 22.5px,#f7d300 25.5px,#f6ce00 26.5px,#eda500 28.5px,#dd6e00 30.5px,#c33400 32.5px,#b92601 33.5px,#b21e13 35.5px,#b52105 36.5px,#bd2b00 37.5px,#cd4700 38.5px,#ea9900 40.5px,#f1b400 41.5px,#ea9900 42.5px,#db6900 43.5px,#be311b 44.5px,#9e109e 45.5px,#8d07ed 46.5px,#960cc5 47.5px,#b7272f 48.5px,#d86200 49.5px,#dd7100 50.5px,#b72c3e 51.5px,#8707ea 52.5px,#7b03fd 53.5px,#7f05ef 54.5px,#7f07c8 55.5px,#43006e 56.5px,#2b002f 57.5px,#1b0012 58.5px,#090002 60.5px,#000000 68.5px,#000000 109.5px,#555555 110.5px)"></i><i style="background:linear-gradient(90deg,#df7200 0.5px,#e17900 8.5px,#e89300 13.5px,#f4c300 19.5px,#f7d300 22.5px,#f7d000 23.5px,#f4c400 24.5px,#e48300 27.5px,#ce4900 29.5px,#c23200 30.5px,#b92601 31.5px,#b21d15 33.5px,#bb2800 35.5px,#c83d00 36.5px,#efaf00 39.5px,#eeab00 40.5px,#e38200 41.5px,#cf4e00 42.5px,#af1e4b 43.5px,#950bce 44.5px,#8d07ee 45.5px,#9f1199 46.5px,#c2370f 47.5px,#de7300 48.5px,#d86200 49.5px,#ab1f67 50.5px,#8305f9 51.5px,#7b03fd 52.5px,#8406e7 53.5px,#7807b3 54.5px,#3f0061 55.5px,#29002b 56.5px,#190010 57.5px,#090002 59.5px,#000000 67.5px,#000000 109.5px,#555555 110.5px)"></i><i style="background:linear-gradient(90deg,#eb9c00 0.5px,#eca100 7.5px,#f7d300 19.5px,#f4c500 21.5px,#e07600 25.5px,#ca4100 27.5px,#c02f00 28.5px,#b82501 29.5px,#b21d15 31.5px,#b92600 33.5px,#c53700 34.5px,#e27d00 36.5px,#eda400 37.5px,#f1b400 38.5px,#e99500 39.5px,#db6900 40.5px,#c13413 41.5px,#a2128c 42.5px,#8e08e8 43.5px,#9109e0 44.5px,#aa1a61 45.5px,#cd4802 46.5px,#e17b00 47.5px,#d05106 48.5px,#9e1593 49.5px,#8004fe 50.5px,#7a03fd 51.5px,#8707e6 52.5px,#7205b1 53.5px,#3c0059 54.5px,#270027 55.5px,#18000f 56.5px,#080002 58.5px,#000000 67.5px,#000000 109.5px,#555555 110.5px)"></i><i style="background:linear-gradient(90deg,#f3c000 0.5px,#f5c900 11.5px,#f7d300 15.5px,#f5ca00 17.5px,#e78f00 21.5px,#c53800 25.5px,#b72303 27.5px,#b31f10 28.5px,#b21d15 29.5px,#b92500 31.5px,#c33400 32.5px,#df7300 34.5px,#ea9800 35.5px,#f1b500 36.5px,#eda500 37.5px,#e27e00 38.5px,#cf4d00 39.5px,#b12042 40.5px,#970cc3 41.5px,#8c07f0 42.5px,#980cbf 43.5px,#b6262e 44.5px,#d65d00 45.5px,#e07800 46.5px,#c63f14 47.5px,#930dc1 48.5px,#7e04fe 49.5px,#7b03fd 50.5px,#8b09d6 51.5px,#6904a9 52.5px,#3a0052 53.5px,#250024 54.5px,#17000d 55.5px,#080001 57.5px,#000000 67.5px,#000000 109.5px,#555555 110.5px)"></i><i style="background:linear-gradient(90deg,#f7d200 0.5px,#f6d000 11.5px,#f2ba00 14.5px,#e68900 18.5px,#c83d00 22.5px,#ba2600 24.5px,#b21e14 26.5px,#b21e14 27.5px,#b92500 29.5px,#c23300 30.5px,#dd6e00 32.5px,#f0b100 34.5px,#efb000 35.5px,#d96300 37.5px,#c03213 38.5px,#a31385 39.5px,#9008e4 40.5px,#8e08eb 41.5px,#a2138c 42.5px,#c2360d 43.5px,#dd6f00 44.5px,#dd6e00 45.5px,#ba2e34 46.5px,#8b08df 47.5px,#7d04fe 48.5px,#7b03fd 49.5px,#8e0ace 50.5px,#600495 51.5px,#37004c 52.5px,#240021 53.5px,#16000c 54.5px,#070001 56.5px,#000000 67.5px,#000000 109.5px,#555555 110.5px)"></i><i style="background:linear-gradient(90deg,#f2bc00 0.5px,#f1b600 7.5px,#e89100 13.5px,#d65a00 17.5px,#c02f00 20.5px,#b72303 22.5px,#b21d16 24.5px,#b52103 26.5px,#ba2700 27.5px,#c33400 28.5px,#dc6b00 30.5px,#efac00 32.5px,#f1b500 33.5px,#df7400 35.5px,#cb4601 36.5px,#af1e47 37.5px,#980cc2 38.5px,#8c07f0 39.5px,#940ad5 40.5px,#ae1d4f 41.5px,#cd4800 42.5px,#e17b00 43.5px,#d65e00 44.5px,#ad205b 45.5px,#8506f5 46.5px,#7d03fe 47.5px,#7d04fc 48.5px,#8f0ac2 49.5px,#590297 50.5px,#350046 51.5px,#22001e 52.5px,#14000b 53.5px,#040000 56.5px,#000000 109.5px,#555555 110.5px)"></i><i style="background:linear-gradient(90deg,#e68a00 0.5px,#e48300 7.5px,#db6900 11.5px,#be2c00 17.5px,#b72303 19.5px,#b21d16 21.5px,#b21d15 22.5px,#b72201 24.5px,#c53800 26.5px,#e68900 29.5px,#eea900 30.5px,#f1b700 31.5px,#eca100 32.5px,#d45700 34.5px,#bb2b1c 35.5px,#a1128f 36.5px,#9008e4 37.5px,#8d07ee 38.5px,#9d0fa5 39.5px,#ba2a1f 40.5px,#d65d00 41.5px,#e27d00 42.5px,#cd4b06 43.5px,#9f158e 44.5px,#8204fd 45.5px,#7c03fe 46.5px,#8005f5 47.5px,#8f0caa 48.5px,#51018f 49.5px,#330041 50.5px,#20001b 51.5px,#13000a 52.5px,#040000 55.5px,#000000 109.5px,#555555 110.5px)"></i><i style="background:linear-gradient(90deg,#d04d00 0.5px,#cd4700 7.5px,#b72301 15.5px,#b21d17 18.5px,#b21d15 19.5px,#b62102 21.5px,#bf2e00 23.5px,#d45600 25.5px,#eea800 28.5px,#f1b800 29.5px,#eda700 30.5px,#d96400 32.5px,#c43908 33.5px,#aa195d 34.5px,#960bcb 35.5px,#8c07f1 36.5px,#9209dc 37.5px,#a81867 38.5px,#c63b06 39.5px,#de7100 40.5px,#df7400 41.5px,#c33917 42.5px,#930dc1 43.5px,#8004fe 44.5px,#7c03fe 45.5px,#8506ea 46.5px,#8a0ab7 47.5px,#4b0083 48.5px,#31003c 49.5px,#1f0018 50.5px,#120009 51.5px,#030000 54.5px,#000000 109.5px,#555555 110.5px)"></i><i style="background:linear-gradient(90deg,#bb2800 0.5px,#b72203 10.5px,#b21d18 14.5px,#b21e11 16.5px,#b82400 19.5px,#c53700 21.5px,#e78f00 25.5px,#eeab00 26.5px,#f1b800 27.5px,#eea900 28.5px,#dc6c00 30.5px,#cb4400 31.5px,#b22137 32.5px,#9d0fa9 33.5px,#8e08e9 34.5px,#8d07ee 35.5px,#9b0eb1 36.5px,#b6242c 37.5px,#d14f00 38.5px,#e27e00 39.5px,#d96300 40.5px,#b5283b 41.5px,#8b08e3 42.5px,#7f04ff 43.5px,#7c03fe 44.5px,#8b09d8 45.5px,#840aad 46.5px,#470079 47.5px,#2f0037 48.5px,#1d0016 49.5px,#110008 50.5px,#020000 54.5px,#000000 109.5px,#555555 110.5px)"></i><i style="background:linear-gradient(90deg,#b21e13 0.5px,#b21d18 10.5px,#b72300 15.5px,#c53700 18.5px,#e38100 22.5px,#f0b000 24.5px,#f2b900 25.5px,#eea800 26.5px,#de7100 28.5px,#cf4c00 29.5px,#b92820 30.5px,#a31287 31.5px,#9209da 32.5px,#8b07f3 33.5px,#9209dc 34.5px,#a7166f 35.5px,#c23509 36.5px,#da6700 37.5px,#e27e00 38.5px,#d04f00 39.5px,#a81b70 40.5px,#8505f7 41.5px,#7c03fe 43.5px,#8f0acf 44.5px,#7b08ad 45.5px,#43006d 46.5px,#2d0033 47.5px,#1c0014 48.5px,#100007 49.5px,#020000 53.5px,#000000 109.5px,#555555 110.5px)"></i><i style="background:linear-gradient(90deg,#b42005 0.5px,#b92500 11.5px,#c33400 14.5px,#d65a00 17.5px,#f1b700 22.5px,#f1b700 23.5px,#de7100 26.5px,#d14f00 27.5px,#bd2d12 28.5px,#a7166c 29.5px,#960bcb 30.5px,#8c07f0 31.5px,#8e08ec 32.5px,#9c0ead 33.5px,#b5232d 34.5px,#ce4900 35.5px,#e17900 36.5px,#de7200 37.5px,#c53c0e 38.5px,#9a10a7 39.5px,#8204fe 40.5px,#7d04fd 42.5px,#950db4 43.5px,#7206ae 44.5px,#400064 45.5px,#2b002f 46.5px,#1a0012 47.5px,#090002 49.5px,#000000 57.5px,#000000 109.5px,#555555 110.5px)"></i><i style="background:linear-gradient(90deg,#bf2d00 0.5px,#c33500 8.5px,#d14f00 12.5px,#e88f00 17.5px,#f0b300 19.5px,#f2ba00 20.5px,#f0b100 21.5px,#dd6e00 24.5px,#d04e00 25.5px,#be2e0e 26.5px,#aa185e 27.5px,#990dbd 28.5px,#8e08ea 29.5px,#8b07f2 30.5px,#950ad3 31.5px,#a81764 32.5px,#c23408 33.5px,#d76000 34.5px,#e48200 35.5px,#d75f00 36.5px,#b82b30 37.5px,#8e09d5 38.5px,#8004ff 39.5px,#8004fc 41.5px,#980eab 42.5px,#6804a5 43.5px,#3e005e 44.5px,#29002b 45.5px,#190010 46.5px,#080002 48.5px,#000000 56.5px,#000000 109.5px,#555555 110.5px)"></i><i style="background:linear-gradient(90deg,#d55900 0.5px,#d86000 7.5px,#e48300 12.5px,#f1b600 16.5px,#f2bb00 17.5px,#f1b500 18.5px,#da6600 22.5px,#ce4900 23.5px,#bd2c0f 24.5px,#aa185b 25.5px,#9b0db6 26.5px,#8f08e5 27.5px,#8b07f4 28.5px,#9109e3 29.5px,#9f1096 30.5px,#b72621 31.5px,#ce4800 32.5px,#e07600 33.5px,#e17b00 34.5px,#ce4b00 35.5px,#aa1c66 36.5px,#8706f3 37.5px,#7f04ff 38.5px,#7d03fe 39.5px,#8405f2 40.5px,#9a1096 41.5px,#5f02a7 42.5px,#3c0057 43.5px,#270027 44.5px,#18000f 45.5px,#080002 47.5px,#000000 56.5px,#000000 109.5px,#555555 110.5px)"></i><i style="background:linear-gradient(90deg,#e68b00 0.5px,#e78f00 6.5px,#eda500 10.5px,#f2bb00 13.5px,#f0b100 15.5px,#df7200 19.5px,#c93f00 21.5px,#b92718 22.5px,#a81663 23.5px,#9b0db7 24.5px,#9009e3 25.5px,#8b07f4 26.5px,#8e08ea 27.5px,#9a0db9 28.5px,#ae1c45 29.5px,#c53803 30.5px,#e48300 32.5px,#db6800 33.5px,#c3370f 34.5px,#9b10a5 35.5px,#8305fd 36.5px,#7d03fe 38.5px,#8908e2 39.5px,#960f93 40.5px,#5801a3 41.5px,#390051 42.5px,#250024 43.5px,#17000d 44.5px,#080001 46.5px,#000000 56.5px,#000000 109.5px,#555555 110.5px)"></i><i style="background:linear-gradient(90deg,#f2ba00 0.5px,#f2b900 9.5px,#eca200 12.5px,#df7200 16.5px,#c13304 19.5px,#b32030 20.5px,#990cc0 22.5px,#9008e5 23.5px,#8a07f4 24.5px,#8d08ed 25.5px,#960bcb 26.5px,#a81667 27.5px,#bd2d0d 28.5px,#d04e00 29.5px,#e07800 30.5px,#e27e00 31.5px,#d25200 32.5px,#b52639 33.5px,#8e09d9 34.5px,#8104fe 35.5px,#7e04fe 37.5px,#910bc8 38.5px,#910e9b 39.5px,#520195 40.5px,#37004b 41.5px,#240020 42.5px,#15000c 43.5px,#070001 45.5px,#000000 56.5px,#000000 109.5px,#555555 110.5px)"></i><i style="background:linear-gradient(90deg,#eb9d00 0.5px,#e99500 7.5px,#df7400 12.5px,#cd4600 15.5px,#c33401 16.5px,#b7241e 17.5px,#aa1858 18.5px,#9f109f 19.5px,#960bce 20.5px,#8e08ea 21.5px,#8a06f5 22.5px,#8d07ed 23.5px,#950ad2 24.5px,#a4137e 25.5px,#b8261b 26.5px,#cb4200 27.5px,#db6800 28.5px,#e58500 29.5px,#dc6b00 30.5px,#c83e06 31.5px,#a41779 32.5px,#8606f6 33.5px,#8004ff 34.5px,#7f04fe 36.5px,#970db0 37.5px,#890ca1 38.5px,#4e008c 39.5px,#350046 40.5px,#22001d 41.5px,#14000b 42.5px,#040000 45.5px,#000000 109.5px,#555555 110.5px)"></i><i style="background:linear-gradient(90deg,#de6f00 0.5px,#dc6b00 6.5px,#d15000 10.5px,#c53800 12.5px,#bd2c0a 13.5px,#b32129 14.5px,#aa1759 15.5px,#a11095 16.5px,#990cc2 17.5px,#9209de 18.5px,#8c07f1 19.5px,#8a06f5 20.5px,#8e08eb 21.5px,#950bd1 22.5px,#a21285 23.5px,#b52225 24.5px,#c63a00 25.5px,#e38000 27.5px,#e27d00 28.5px,#d35400 29.5px,#ba2b24 30.5px,#950cbd 31.5px,#8305fe 32.5px,#7d04ff 34.5px,#8105fb 35.5px,#9f1294 36.5px,#7e09ab 37.5px,#4a0080 38.5px,#330040 39.5px,#20001b 40.5px,#13000a 41.5px,#040000 44.5px,#000000 109.5px,#555555 110.5px)"></i><i style="background:linear-gradient(90deg,#c33500 0.5px,#c03000 6.5px,#ba2811 8.5px,#b52220 9.5px,#aa1759 11.5px,#9d0eab 13.5px,#9209dd 15.5px,#8d07ee 16.5px,#8a06f6 17.5px,#8b07f3 18.5px,#9008e6 19.5px,#970bca 20.5px,#a3137f 21.5px,#b42126 22.5px,#c43700 23.5px,#e07700 25.5px,#e58600 26.5px,#c83f03 28.5px,#a91a64 29.5px,#8a07ec 30.5px,#8104ff 31.5px,#7d04ff 33.5px,#8606f1 34.5px,#a2137c 35.5px,#7406b5 36.5px,#470077 37.5px,#31003b 38.5px,#1f0018 39.5px,#120009 40.5px,#030000 43.5px,#000000 109.5px,#555555 110.5px)"></i><i style="background:linear-gradient(90deg,#a21289 0.5px,#a2118f 5.5px,#960bce 10.5px,#8b07f2 13.5px,#8b07f4 15.5px,#9309dd 17.5px,#9b0db6 18.5px,#b6231e 20.5px,#c43700 21.5px,#de7000 23.5px,#e58700 24.5px,#df7400 25.5px,#d14e00 26.5px,#ba2a21 27.5px,#980eb2 28.5px,#8405fc 29.5px,#7e04ff 32.5px,#8c08dd 33.5px,#a41675 34.5px,#6903b8 35.5px,#440070 36.5px,#2f0037 37.5px,#1d0016 38.5px,#110008 39.5px,#020000 43.5px,#000000 109.5px,#555555 110.5px)"></i><i style="background:linear-gradient(90deg,#8f08e8 0.5px,#8d08ec 6.5px,#8a06f5 11.5px,#9309de 14.5px,#980cc3 15.5px,#a1118e 16.5px,#ad1a43 17.5px,#ba280d 18.5px,#c73a00 19.5px,#e58700 22.5px,#e27c00 23.5px,#c53906 25.5px,#a81868 26.5px,#8b07ea 27.5px,#8204fe 28.5px,#7f04fe 31.5px,#950dbd 32.5px,#9f1376 33.5px,#6102b7 34.5px,#420069 35.5px,#2d0032 36.5px,#1c0014 37.5px,#100007 38.5px,#020000 42.5px,#000000 109.5px,#555555 110.5px)"></i><i style="background:linear-gradient(90deg,#8c07f2 0.5px,#8e08ed 7.5px,#9309dd 10.5px,#960bce 11.5px,#9b0db3 12.5px,#a31286 13.5px,#ac1949 14.5px,#b72419 15.5px,#c13101 16.5px,#d45700 18.5px,#e58800 20.5px,#e38000 21.5px,#cb4300 23.5px,#b52433 24.5px,#950cbe 25.5px,#8405fc 26.5px,#7e04ff 29.5px,#8205fb 30.5px,#9e1190 31.5px,#97128d 32.5px,#5a01ae 33.5px,#400062 34.5px,#2b002e 35.5px,#1a0012 36.5px,#090002 38.5px,#000000 46.5px,#000000 109.5px,#555555 110.5px)"></i><i style="background:linear-gradient(90deg,#990cc0 0.5px,#9a0dbc 5.5px,#9e0fa5 7.5px,#a11191 8.5px,#b21f28 11.5px,#ba270e 12.5px,#c13200 13.5px,#d96100 16.5px,#e17a00 17.5px,#e68900 18.5px,#e38000 19.5px,#ce4800 21.5px,#bc2c15 22.5px,#a0128c 23.5px,#8906f2 24.5px,#8205fe 25.5px,#7e04ff 28.5px,#8706f2 29.5px,#a61771 30.5px,#8c0da6 31.5px,#5501a3 32.5px,#3d005c 33.5px,#29002a 34.5px,#190010 35.5px,#080002 37.5px,#000000 45.5px,#000000 109.5px,#555555 110.5px)"></i><i style="background:linear-gradient(90deg,#b62317 0.5px,#b72414 5.5px,#bf2e00 8.5px,#d25100 12.5px,#e58500 15.5px,#e68a00 16.5px,#e27b00 17.5px,#cf4a00 19.5px,#c0300b 20.5px,#a81768 21.5px,#8e09df 22.5px,#8305fe 23.5px,#7f04ff 27.5px,#8e09dc 28.5px,#ab1a53 29.5px,#8009ba 30.5px,#520099 31.5px,#3b0056 32.5px,#270027 33.5px,#18000f 34.5px,#080002 36.5px,#000000 45.5px,#000000 109.5px,#555555 110.5px)"></i><i style="background:linear-gradient(90deg,#cf4900 0.5px,#d14e00 6.5px,#d96100 9.5px,#e58700 12.5px,#e78c00 13.5px,#e48400 14.5px,#cd4600 17.5px,#c03009 18.5px,#ab1a56 19.5px,#920ace 20.5px,#8505fc 21.5px,#7e04ff 25.5px,#8104fd 26.5px,#970db9 27.5px,#aa1a55 28.5px,#7305c8 29.5px,#4e008f 30.5px,#3a0053 31.5px,#280027 32.5px,#190010 33.5px,#090002 35.5px,#000000 43.5px,#000000 109.5px,#555555 110.5px)"></i><i style="background:linear-gradient(90deg,#e27d00 0.5px,#e37f00 5.5px,#e78d00 9.5px,#e37f00 11.5px,#c93f00 15.5px,#bd2c0f 16.5px,#aa195c 17.5px,#940bca 18.5px,#8605fa 19.5px,#7e04ff 24.5px,#8505f9 25.5px,#a01389 26.5px,#a11677 27.5px,#6702c5 28.5px,#4c0086 29.5px,#3a0053 30.5px,#2a002c 31.5px,#1d0014 32.5px,#0c0004 34.5px,#010000 41.5px,#000000 109.5px,#555555 110.5px)"></i><i style="background:linear-gradient(90deg,#e37f00 0.5px,#e17800 6.5px,#d55800 10.5px,#c23302 13.5px,#b52327 14.5px,#a41479 15.5px,#910ad5 16.5px,#8605fa 17.5px,#7f04ff 23.5px,#8b07ea 24.5px,#a81864 25.5px,#940f9d 26.5px,#5f01bb 27.5px,#49007f 28.5px,#3a0052 29.5px,#2c0030 30.5px,#200019 31.5px,#0f0006 33.5px,#010000 39.5px,#000000 109.5px,#555555 110.5px)"></i><i style="background:linear-gradient(90deg,#d14f00 0.5px,#cf4a00 6.5px,#c53700 9.5px,#be2e07 10.5px,#b52326 11.5px,#a81761 12.5px,#990db2 13.5px,#8c07ea 14.5px,#8505fd 15.5px,#7e04ff 21.5px,#8104fd 22.5px,#930bc9 23.5px,#ab1952 24.5px,#8509c1 25.5px,#5801ab 26.5px,#48007a 27.5px,#3a0052 28.5px,#2d0033 29.5px,#22001d 30.5px,#120008 32.5px,#020000 38.5px,#000000 109.5px,#555555 110.5px)"></i><i style="background:linear-gradient(90deg,#b82619 0.5px,#b6241e 5.5px,#b32129 6.5px,#a81760 8.5px,#960cc4 10.5px,#8d08e9 11.5px,#8605fb 12.5px,#7e04ff 20.5px,#8606f7 21.5px,#9f1196 22.5px,#a7175f 23.5px,#7504d3 24.5px,#5400a0 25.5px,#3a0052 27.5px,#240020 29.5px,#15000a 31.5px,#030000 37.5px,#000000 109.5px,#555555 110.5px)"></i><i style="background:linear-gradient(90deg,#9009dc 0.5px,#8f08e2 5.5px,#8405fd 9.5px,#7d04ff 18.5px,#8004fd 19.5px,#8e08e2 20.5px,#a91760 21.5px,#9c118d 22.5px,#6902d0 23.5px,#510096 24.5px,#3a0052 26.5px,#260024 28.5px,#17000d 30.5px,#060001 35.5px,#000000 75.5px,#000000 109.5px,#555555 110.5px)"></i><i style="background:linear-gradient(90deg,#8305fe 0.5px,#7e04ff 17.5px,#8605f8 18.5px,#9a0eaf 19.5px,#ad1a46 20.5px,#8c0abf 21.5px,#6001bf 22.5px,#4f0090 23.5px,#3a0052 25.5px,#280027 27.5px,#19000f 29.5px,#090002 33.5px,#000000 49.5px,#000000 109.5px,#555555 110.5px)"></i><i style="background:linear-gradient(90deg,#8004ff 0.5px,#7e04ff 15.5px,#8205fc 16.5px,#8f09e1 17.5px,#a71665 18.5px,#a71762 19.5px,#7c05dc 20.5px,#5901af 21.5px,#43006c 23.5px,#290029 26.5px,#16000b 29.5px,#040000 36.5px,#000000 109.5px,#555555 110.5px)"></i><i style="background:linear-gradient(90deg,#7d04ff 0.5px,#8104fd 14.5px,#8b07f0 15.5px,#9d0fa0 16.5px,#af1c36 17.5px,#9910a3 18.5px,#6e02da 19.5px,#5500a4 20.5px,#3a0052 23.5px,#23001e 26.5px,#130009 29.5px,#030000 38.5px,#000000 109.5px,#555555 110.5px)"></i><i style="background:linear-gradient(90deg,#7e04ff 0.5px,#8205fd 12.5px,#8a07f2 13.5px,#980cbd 14.5px,#ad1a45 15.5px,#ab1950 16.5px,#8708d9 17.5px,#6201c8 18.5px,#53009d 19.5px,#3a0052 22.5px,#240020 25.5px,#15000a 28.5px,#030000 37.5px,#000000 109.5px,#555555 110.5px)"></i><i style="background:linear-gradient(90deg,#7f04ff 0.5px,#8104fe 9.5px,#8605f9 10.5px,#8d07ed 11.5px,#980dbc 12.5px,#ab1955 13.5px,#b21f24 14.5px,#9b10a0 15.5px,#7703e7 16.5px,#5b01b6 17.5px,#420068 20.5px,#2c0031 23.5px,#1b0012 26.5px,#090002 32.5px,#000000 56.5px,#000000 109.5px,#555555 110.5px)"></i><i style="background:linear-gradient(90deg,#8405fc 0.5px,#8606f9 6.5px,#8d08ec 8.5px,#940ad4 9.5px,#9f109a 10.5px,#ae1c43 11.5px,#b62212 12.5px,#a71768 13.5px,#8907e0 14.5px,#6902d9 15.5px,#5800af 16.5px,#3d0059 20.5px,#290029 23.5px,#190010 26.5px,#070001 33.5px,#000000 67.5px,#000000 109.5px,#555555 110.5px)"></i><i style="background:linear-gradient(90deg,#980cc3 0.5px,#980cc5 4.5px,#990dbc 5.5px,#9d0fa6 6.5px,#a3137e 7.5px,#b72419 9.5px,#b92609 10.5px,#ac1a51 11.5px,#930bc9 12.5px,#7703ed 13.5px,#6001c6 14.5px,#450070 18.5px,#2b002e 22.5px,#1c0013 25.5px,#0a0003 31.5px,#000000 52.5px,#000000 109.5px,#555555 110.5px)"></i><i style="background:linear-gradient(90deg,#bd2c0c 0.5px,#bc2a0d 4.5px,#bd2b00 6.5px,#bc2a02 7.5px,#b62421 8.5px,#a71669 9.5px,#940bc9 10.5px,#7e04f2 11.5px,#6801d8 12.5px,#5c01ba 13.5px,#2e0034 21.5px,#1b0011 25.5px,#090002 32.5px,#000000 60.5px,#000000 109.5px,#555555 110.5px)"></i><i style="background:linear-gradient(90deg,#b11e37 0.5px,#b11e38 3.5px,#ab1856 5.5px,#a3137b 6.5px,#990db4 7.5px,#8c08e4 8.5px,#7d04f5 9.5px,#6001c5 11.5px,#31003a 20.5px,#1e0016 24.5px,#0d0004 30.5px,#010000 50.5px,#000000 109.5px,#555555 110.5px)"></i><i style="background:linear-gradient(90deg,#8a07ee 0.5px,#8706f2 4.5px,#7d04f7 6.5px,#7302ee 7.5px,#6101c9 9.5px,#5600a6 12.5px,#2e0034 20.5px,#1d0014 24.5px,#0b0003 31.5px,#000000 55.5px,#000000 109.5px,#555555 110.5px)"></i><i style="background:linear-gradient(90deg,#6b01e4 0.5px,#6901dd 4.5px,#5c01bb 9.5px,#2c002f 20.5px,#19000f 25.5px,#070001 35.5px,#000000 89.5px,#000000 109.5px,#555555 110.5px)"></i><i style="background:linear-gradient(90deg,#6601d7 0.5px,#6601d6 3.5px,#5b01b8 8.5px,#2e0034 19.5px,#1b0012 24.5px,#090002 33.5px,#000000 68.5px,#000000 109.5px,#555555 110.5px)"></i><i style="background:linear-gradient(90deg,#6401d1 0.5px,#6301cf 3.5px,#5700aa 8.5px,#2c002f 19.5px,#1a0011 24.5px,#080002 34.5px,#000000 75.5px,#000000 109.5px,#555555 110.5px)"></i><i style="background:linear-gradient(90deg,#6101ca 0.5px,#6001c7 3.5px,#4a0081 11.5px,#2e0033 18.5px,#1d0014 23.5px,#0b0003 32.5px,#000000 63.5px,#000000 109.5px,#555555 110.5px)"></i><i style="background:linear-gradient(90deg,#5f01c4 0.5px,#5e01bf 3.5px,#470078 11.5px,#2c002f 18.5px,#190010 24.5px,#070001 36.5px,#000000 94.5px,#000000 109.5px,#555555 110.5px)"></i><i style="background:linear-gradient(90deg,#6001c5 0.5px,#5c01bb 3.5px,#2a002c 18.5px,#19000f 24.5px,#070001 37.5px,#000000 105.5px,#000000 109.5px,#555555 110.5px)"></i><i style="background:linear-gradient(90deg,#6301ce 0.5px,#5c01bb 3.5px,#370049 14.5px,#23001d 20.5px,#110007 28.5px,#020000 51.5px,#000000 109.5px,#555555 110.5px)"></i><i style="background:linear-gradient(90deg,#6901de 0.5px,#5e01bf 3.5px,#4c0088 7.5px,#2e0033 16.5px,#1a0011 23.5px,#080002 36.5px,#000000 91.5px,#000000 109.5px,#555555 110.5px)"></i><i style="background:linear-gradient(90deg,#6f02ed 0.5px,#6501d4 2.5px,#4e008f 6.5px,#360047 13.5px,#21001a 20.5px,#0e0005 30.5px,#010000 60.5px,#000000 109.5px,#555555 110.5px)"></i><i style="background:linear-gradient(90deg,#7302f3 0.5px,#6701d9 2.5px,#52009a 5.5px,#450070 8.5px,#2e0034 15.5px,#1b0013 22.5px,#090002 35.5px,#000000 84.5px,#000000 109.5px,#555555 110.5px)"></i><i style="background:linear-gradient(90deg,#7002ef 0.5px,#6601d6 2.5px,#4e008d 6.5px,#39004e 12.5px,#23001e 19.5px,#110007 28.5px,#020000 54.5px,#000000 109.5px,#555555 110.5px)"></i><i style="background:linear-gradient(90deg,#6a01e2 0.5px,#5e01c0 3.5px,#4c0087 7.5px,#2d0032 16.5px,#1a0011 23.5px,#080002 36.5px,#000000 91.5px,#000000 109.5px,#555555 110.5px)"></i><i style="background:linear-gradient(90deg,#6401d1 0.5px,#5d01bc 3.5px,#44006f 10.5px,#2c002f 17.5px,#18000f 24.5px,#070001 38.5px,#000000 109.5px,#555555 110.5px)"></i><i style="background:linear-gradient(90deg,#6001c6 0.5px,#5c01bb 3.5px,#2d0033 17.5px,#1b0012 23.5px,#090002 34.5px,#000000 76.5px,#000000 109.5px,#555555 110.5px)"></i><i style="background:linear-gradient(90deg,#5f01c4 0.5px,#5d01be 3.5px,#460076 11.5px,#2c002f 18.5px,#190010 24.5px,#070001 36.5px,#000000 94.5px,#000000 109.5px,#555555 110.5px)"></i><i style="background:linear-gradient(90deg,#6101c9 0.5px,#6001c5 3.5px,#49007f 11.5px,#2d0033 18.5px,#1c0014 23.5px,#0b0003 32.5px,#000000 63.5px,#000000 109.5px,#555555 110.5px)"></i><i style="background:linear-gradient(90deg,#6301d0 0.5px,#6301ce 3.5px,#53009e 9.5px,#2b002e 19.5px,#1a0011 24.5px,#090002 34.5px,#000000 75.5px,#000000 109.5px,#555555 110.5px)"></i><i style="background:linear-gradient(90deg,#6601d6 0.5px,#6501d5 3.5px,#5a01b5 8.5px,#2d0033 19.5px,#1b0012 24.5px,#090002 33.5px,#000000 68.5px,#000000 109.5px,#555555 110.5px)"></i><i style="background:linear-gradient(90deg,#6801dd 0.5px,#6801dc 3.5px,#5e01c2 8.5px,#4c0087 13.5px,#2b002e 20.5px,#18000f 25.5px,#070001 35.5px,#000000 88.5px,#000000 109.5px,#555555 110.5px)"></i><i style="background:linear-gradient(90deg,#8305f6 0.5px,#7d04f7 5.5px,#6d02e4 7.5px,#6001c6 9.5px,#5400a2 12.5px,#2e0033 20.5px,#1c0014 24.5px,#0b0003 31.5px,#000000 55.5px,#000000 109.5px,#555555 110.5px)"></i><i style="background:linear-gradient(90deg,#a9175f 0.5px,#a8175f 3.5px,#a6156b 4.5px,#a21284 5.5px,#910ad7 7.5px,#8506f3 8.5px,#7503ef 9.5px,#5e01c0 11.5px,#300039 20.5px,#1d0015 24.5px,#0d0004 30.5px,#010000 50.5px,#000000 109.5px,#555555 110.5px)"></i><i style="background:linear-gradient(90deg,#c02e00 0.5px,#bd2b00 6.5px,#b92713 7.5px,#ae1c44 8.5px,#8b08e5 10.5px,#7503ee 11.5px,#6301cd 12.5px,#3f0060 18.5px,#280028 22.5px,#17000d 26.5px,#060001 35.5px,#000000 109.5px,#555555 110.5px)"></i><i style="background:linear-gradient(90deg,#9e0f9f 0.5px,#9e0fa1 4.5px,#a01095 5.5px,#a4137a 6.5px,#b52225 8.5px,#ba2706 9.5px,#b62320 10.5px,#8907e4 12.5px,#6e02e3 13.5px,#5d01bc 14.5px,#37004a 20.5px,#250022 23.5px,#14000a 27.5px,#030000 38.5px,#000000 109.5px,#555555 110.5px)"></i><i style="background:linear-gradient(90deg,#8706f8 0.5px,#8a07f3 6.5px,#8d07ed 7.5px,#9209de 8.5px,#9a0db7 9.5px,#b42122 11.5px,#b52220 12.5px,#9e1198 13.5px,#7f05ec 14.5px,#6301cb 15.5px,#5700aa 16.5px,#3c0056 20.5px,#280027 23.5px,#19000f 26.5px,#070001 33.5px,#000000 68.5px,#000000 109.5px,#555555 110.5px)"></i><i style="background:linear-gradient(90deg,#7f04ff 0.5px,#8405fb 9.5px,#8906f4 10.5px,#9209dd 11.5px,#a01193 12.5px,#b11e2f 13.5px,#ae1c3d 14.5px,#900ac9 15.5px,#6d02de 16.5px,#5800ad 17.5px,#410065 20.5px,#2c002f 23.5px,#1a0011 26.5px,#090002 32.5px,#000000 56.5px,#000000 109.5px,#555555 110.5px)"></i><i style="background:linear-gradient(90deg,#7e04ff 0.5px,#8004fe 11.5px,#8505fa 12.5px,#8f08e6 13.5px,#9f1194 14.5px,#b11d2d 15.5px,#a2147c 16.5px,#7b05e4 17.5px,#5c01b9 18.5px,#48007b 20.5px,#31003b 23.5px,#1d0015 26.5px,#0e0005 30.5px,#010000 43.5px,#000000 109.5px,#555555 110.5px)"></i><i style="background:linear-gradient(90deg,#7d04ff 0.5px,#7f04ff 13.5px,#8405fb 14.5px,#9009e0 15.5px,#a51573 16.5px,#ae1b3f 17.5px,#8d0ac8 18.5px,#6401cb 19.5px,#52009c 20.5px,#39004e 23.5px,#22001c 26.5px,#120008 29.5px,#030000 38.5px,#000000 109.5px,#555555 110.5px)"></i><i style="background:linear-gradient(90deg,#7f04ff 0.5px,#7f04fe 15.5px,#8605f9 16.5px,#960cc4 17.5px,#ad1a47 18.5px,#9e128b 19.5px,#7003da 20.5px,#5500a4 21.5px,#410066 23.5px,#280027 26.5px,#15000b 29.5px,#040000 36.5px,#000000 109.5px,#555555 110.5px)"></i><i style="background:linear-gradient(90deg,#8305fe 0.5px,#8004fe 17.5px,#8a07ee 18.5px,#a21384 19.5px,#a91855 20.5px,#7f06d7 21.5px,#5901af 22.5px,#420068 24.5px,#2f0036 26.5px,#1f0017 28.5px,#0f0005 31.5px,#010000 41.5px,#000000 109.5px,#555555 110.5px)"></i><i style="background:linear-gradient(90deg,#8a07f0 0.5px,#8906f3 5.5px,#8405fe 9.5px,#7e04ff 18.5px,#8305fb 19.5px,#950cc5 20.5px,#ac1949 21.5px,#8f0cb8 22.5px,#6001bf 23.5px,#4e008d 24.5px,#38004d 26.5px,#250021 28.5px,#16000c 30.5px,#060001 35.5px,#000000 77.5px,#000000 109.5px,#555555 110.5px)"></i><i style="background:linear-gradient(90deg,#b11e38 0.5px,#b01d39 4.5px,#ab1951 6.5px,#a71569 7.5px,#970cbe 9.5px,#8f08e1 10.5px,#8806f7 11.5px,#8204ff 14.5px,#7f04fe 20.5px,#8b07eb 21.5px,#a6166d 22.5px,#9e1285 23.5px,#6a02ce 24.5px,#500094 25.5px,#38004c 27.5px,#23001e 29.5px,#14000a 31.5px,#030000 37.5px,#000000 109.5px,#555555 110.5px)"></i><i style="background:linear-gradient(90deg,#ce4700 0.5px,#cb4200 6.5px,#bf2f04 9.5px,#b7251c 10.5px,#ad1a4b 11.5px,#910ad6 13.5px,#8706f7 14.5px,#8004ff 17.5px,#7e04ff 21.5px,#8405fa 22.5px,#9c10a3 23.5px,#a8175b 24.5px,#7605d0 25.5px,#53009d 26.5px,#450070 27.5px,#2b002e 29.5px,#18000e 31.5px,#060001 35.5px,#000000 59.5px,#000000 109.5px,#555555 110.5px)"></i><i style="background:linear-gradient(90deg,#df7400 0.5px,#dd6e00 6.5px,#cd4500 11.5px,#c63900 12.5px,#bb2a10 13.5px,#ad1b4c 14.5px,#9b0eaa 15.5px,#8b07ec 16.5px,#8405fd 17.5px,#7e04ff 22.5px,#8004fe 23.5px,#920ad0 24.5px,#ab1952 25.5px,#8509bf 26.5px,#5701a9 27.5px,#460074 28.5px,#37004b 29.5px,#2a002b 30.5px,#1e0016 31.5px,#0f0005 33.5px,#020000 39.5px,#000000 109.5px,#555555 110.5px)"></i><i style="background:linear-gradient(90deg,#e58800 0.5px,#e68a00 9.5px,#df7400 11.5px,#c43601 15.5px,#b5232a 16.5px,#a0128d 17.5px,#8d08e6 18.5px,#8405fd 19.5px,#7f04ff 24.5px,#8907ed 25.5px,#a81868 26.5px,#940f99 27.5px,#5e01b8 28.5px,#48007a 29.5px,#37004a 30.5px,#270027 31.5px,#1b0012 32.5px,#0c0003 34.5px,#010000 41.5px,#000000 109.5px,#555555 110.5px)"></i><i style="background:linear-gradient(90deg,#d35200 0.5px,#d55700 6.5px,#dd6c00 9.5px,#e58500 11.5px,#e78c00 12.5px,#e68900 13.5px,#c83d00 17.5px,#b8271f 18.5px,#a11288 19.5px,#8c07e9 20.5px,#8305fe 21.5px,#7e04ff 25.5px,#8405f9 26.5px,#a0138b 27.5px,#a21676 28.5px,#6602c3 29.5px,#4a0081 30.5px,#360049 31.5px,#250022 32.5px,#17000e 33.5px,#090002 35.5px,#000000 44.5px,#000000 109.5px,#555555 110.5px)"></i><i style="background:linear-gradient(90deg,#bc2a06 0.5px,#c13100 7.5px,#d14e00 11.5px,#e68a00 15.5px,#e58600 16.5px,#ca4000 19.5px,#b82623 20.5px,#9e1099 21.5px,#8806f3 22.5px,#8205fe 23.5px,#7e04ff 26.5px,#8104fd 27.5px,#960dba 28.5px,#a91a58 29.5px,#7104c7 30.5px,#4c0088 31.5px,#360049 32.5px,#230020 33.5px,#15000c 34.5px,#040000 37.5px,#000000 109.5px,#555555 110.5px)"></i><i style="background:linear-gradient(90deg,#9e0fa3 0.5px,#9f109e 5.5px,#a31282 7.5px,#b82511 11.5px,#bf2f01 12.5px,#d55800 15.5px,#e48400 17.5px,#e68900 18.5px,#d55900 20.5px,#c93e00 21.5px,#b32235 22.5px,#960cba 23.5px,#8505fb 24.5px,#7f04ff 28.5px,#8d08de 29.5px,#aa195a 30.5px,#7c08bb 31.5px,#4f0090 32.5px,#39004f 33.5px,#250023 34.5px,#16000d 35.5px,#070001 37.5px,#000000 47.5px,#000000 109.5px,#555555 110.5px)"></i><i style="background:linear-gradient(90deg,#8e08ec 0.5px,#9008e7 7.5px,#9309dc 9.5px,#960bcf 10.5px,#9a0db9 11.5px,#a11193 12.5px,#b31f28 14.5px,#bd2b07 15.5px,#d04c00 17.5px,#e27d00 19.5px,#e68900 20.5px,#e07500 21.5px,#c53805 23.5px,#aa1a5c 24.5px,#8e08e0 25.5px,#8305fe 26.5px,#7e04ff 29.5px,#8606f3 30.5px,#a61773 31.5px,#880cac 32.5px,#53009b 33.5px,#3b0055 34.5px,#270026 35.5px,#18000e 36.5px,#080002 38.5px,#000000 47.5px,#000000 109.5px,#555555 110.5px)"></i><i style="background:linear-gradient(90deg,#8c07f1 0.5px,#8a06f5 10.5px,#9209e2 13.5px,#960bcf 14.5px,#9d0fa8 15.5px,#b42123 17.5px,#c03002 18.5px,#d75c00 20.5px,#e17b00 21.5px,#e58800 22.5px,#de7000 23.5px,#d14f00 24.5px,#bd2e16 25.5px,#9d119a 26.5px,#8606f8 27.5px,#7e04ff 29.5px,#8205fc 31.5px,#9e1192 32.5px,#931094 33.5px,#5701a4 34.5px,#3d005b 35.5px,#29002a 36.5px,#190010 37.5px,#080002 39.5px,#000000 47.5px,#000000 109.5px,#555555 110.5px)"></i><i style="background:linear-gradient(90deg,#9e0fa9 0.5px,#9d0eae 5.5px,#9309dc 10.5px,#8a06f6 13.5px,#8d07ef 15.5px,#9109e4 16.5px,#960bcd 17.5px,#a01095 18.5px,#ae1b41 19.5px,#bc2b0a 20.5px,#ca4000 21.5px,#e27c00 23.5px,#e58600 24.5px,#cb4300 26.5px,#b02046 27.5px,#8f09d8 28.5px,#8205fe 29.5px,#7f04fe 32.5px,#960ebb 33.5px,#9b1281 34.5px,#5d01b1 35.5px,#3f0061 36.5px,#2a002d 37.5px,#1a0012 38.5px,#090002 40.5px,#000000 48.5px,#000000 109.5px,#555555 110.5px)"></i><i style="background:linear-gradient(90deg,#bc2b0a 0.5px,#bb2a0d 5.5px,#b7241b 7.5px,#b32029 8.5px,#a9175b 10.5px,#9e0fa6 12.5px,#940ad7 14.5px,#8a07f4 16.5px,#8a06f5 17.5px,#8d07ed 18.5px,#9309dd 19.5px,#9c0eaf 20.5px,#aa1857 21.5px,#bb290e 22.5px,#ca4100 23.5px,#e38100 25.5px,#e37f00 26.5px,#d55900 27.5px,#c13310 28.5px,#9e1295 29.5px,#8605f9 30.5px,#7e04ff 33.5px,#8c09da 34.5px,#a11579 35.5px,#6403b4 36.5px,#420068 37.5px,#2c0032 38.5px,#1b0013 39.5px,#100007 40.5px,#020000 44.5px,#000000 109.5px,#555555 110.5px)"></i><i style="background:linear-gradient(90deg,#da6500 0.5px,#d86000 6.5px,#cb4300 10.5px,#be2d07 12.5px,#b62320 13.5px,#ac1a4b 14.5px,#9c0eb3 16.5px,#950ad3 17.5px,#8e08ea 18.5px,#8a06f5 19.5px,#8b07f2 20.5px,#9109e4 21.5px,#9a0dba 22.5px,#a9175d 23.5px,#bc2a0e 24.5px,#cc4500 25.5px,#e58500 27.5px,#de7200 28.5px,#cd4700 29.5px,#b0204a 30.5px,#8d08e0 31.5px,#8204fe 32.5px,#7d04ff 34.5px,#8606ef 35.5px,#a11380 36.5px,#6e05b4 37.5px,#44006f 38.5px,#2e0036 39.5px,#1d0015 40.5px,#110008 41.5px,#020000 45.5px,#000000 109.5px,#555555 110.5px)"></i><i style="background:linear-gradient(90deg,#e99300 0.5px,#e78c00 7.5px,#df7400 11.5px,#cf4b00 14.5px,#c63a00 15.5px,#bb2a0f 16.5px,#af1c3d 17.5px,#9a0dba 19.5px,#9209dd 20.5px,#8b07f2 21.5px,#8b07f4 22.5px,#9008e6 23.5px,#9a0db9 24.5px,#ab1954 25.5px,#bf2f09 26.5px,#d04d00 27.5px,#df7500 28.5px,#e48300 29.5px,#d75d00 30.5px,#bf3215 31.5px,#990faa 32.5px,#8405fd 33.5px,#7d04ff 35.5px,#8105fb 36.5px,#9e1191 37.5px,#7908b0 38.5px,#460076 39.5px,#30003b 40.5px,#1e0018 41.5px,#120008 42.5px,#030000 45.5px,#000000 109.5px,#555555 110.5px)"></i><i style="background:linear-gradient(90deg,#f2bc00 0.5px,#f1b800 8.5px,#e78e00 13.5px,#db6700 16.5px,#c73c00 18.5px,#ba2814 19.5px,#ab1951 20.5px,#9f0fa0 21.5px,#950ad3 22.5px,#8c07ee 23.5px,#8b07f4 24.5px,#9008e5 25.5px,#9c0eae 26.5px,#af1d3f 27.5px,#c43703 28.5px,#e38100 30.5px,#df7300 31.5px,#cc4501 32.5px,#a91b65 33.5px,#8806f1 34.5px,#8004ff 35.5px,#7f04fd 37.5px,#980ead 38.5px,#820aa8 39.5px,#4a0082 40.5px,#32003f 41.5px,#20001a 42.5px,#130009 43.5px,#040000 46.5px,#000000 109.5px,#555555 110.5px)"></i><i style="background:linear-gradient(90deg,#e99500 0.5px,#ea9900 6.5px,#f2bb00 12.5px,#f0b400 14.5px,#e17a00 18.5px,#c23305 21.5px,#b11f37 22.5px,#a2128a 23.5px,#960bcd 24.5px,#8d07ed 25.5px,#8b07f3 26.5px,#9209e0 27.5px,#a01195 28.5px,#b62424 29.5px,#cb4300 30.5px,#dd6f00 31.5px,#e48200 32.5px,#d55a00 33.5px,#b92b2b 34.5px,#910acd 35.5px,#8104fe 36.5px,#7d04fe 38.5px,#910bc4 39.5px,#8d0da0 40.5px,#4e008c 41.5px,#350045 42.5px,#22001d 43.5px,#14000a 44.5px,#040000 47.5px,#000000 109.5px,#555555 110.5px)"></i><i style="background:linear-gradient(90deg,#d96300 0.5px,#db6700 6.5px,#e48400 11.5px,#f2ba00 16.5px,#f2b800 17.5px,#df7300 21.5px,#c73c00 23.5px,#b52329 24.5px,#a41381 25.5px,#960bcd 26.5px,#8c07ef 27.5px,#8c07f1 28.5px,#950ad3 29.5px,#a7166d 30.5px,#bf2f0c 31.5px,#d45600 32.5px,#e38000 33.5px,#dd6f00 34.5px,#c63d0b 35.5px,#9e1295 36.5px,#8405fc 37.5px,#7c03fe 39.5px,#8b08dc 40.5px,#920d9f 41.5px,#530197 42.5px,#37004a 43.5px,#230020 44.5px,#15000c 45.5px,#040000 48.5px,#000000 109.5px,#555555 110.5px)"></i><i style="background:linear-gradient(90deg,#c33400 0.5px,#c63900 7.5px,#d25000 11.5px,#e68b00 16.5px,#f2b900 19.5px,#f1b700 20.5px,#e27c00 23.5px,#c94100 25.5px,#b62427 26.5px,#a31284 27.5px,#950ad3 28.5px,#8b07f1 29.5px,#8d08ec 30.5px,#9a0db8 31.5px,#b01e3d 32.5px,#c94000 33.5px,#dd6e00 34.5px,#e27f00 35.5px,#d15000 36.5px,#ad1f58 37.5px,#8806f0 38.5px,#7f04ff 39.5px,#7c03fe 40.5px,#8406ef 41.5px,#981095 42.5px,#5a02a2 43.5px,#390050 44.5px,#250023 45.5px,#16000d 46.5px,#070001 48.5px,#000000 58.5px,#000000 109.5px,#555555 110.5px)"></i><i style="background:linear-gradient(90deg,#b62102 0.5px,#b92600 10.5px,#c33400 13.5px,#d45600 16.5px,#ea9a00 20.5px,#f0b000 21.5px,#f2ba00 22.5px,#f0b000 23.5px,#d96400 26.5px,#c94100 27.5px,#b4222d 28.5px,#a01193 29.5px,#9209dc 30.5px,#8b07f3 31.5px,#9109e1 32.5px,#a21287 33.5px,#bd2d12 34.5px,#d45700 35.5px,#e38000 36.5px,#d96500 37.5px,#bb2e29 38.5px,#900ace 39.5px,#8004fe 40.5px,#8004fa 42.5px,#970dac 43.5px,#6103a2 44.5px,#3b0056 45.5px,#270026 46.5px,#18000e 47.5px,#080002 49.5px,#000000 58.5px,#000000 109.5px,#555555 110.5px)"></i><i style="background:linear-gradient(90deg,#b11d19 0.5px,#b21d16 9.5px,#b72200 14.5px,#c33300 17.5px,#da6300 20.5px,#f1b800 24.5px,#f1b400 25.5px,#e48200 27.5px,#c73d02 29.5px,#b01e3f 30.5px,#9c0eac 31.5px,#8f08e8 32.5px,#8c07f1 33.5px,#970cc6 34.5px,#af1d46 35.5px,#ca4100 36.5px,#df7400 37.5px,#e07700 38.5px,#c83f0c 39.5px,#9c129f 40.5px,#8204fe 41.5px,#7e04fd 43.5px,#950db5 44.5px,#6c05a4 45.5px,#3e005d 46.5px,#29002a 47.5px,#190010 48.5px,#080002 50.5px,#000000 58.5px,#000000 109.5px,#555555 110.5px)"></i><i style="background:linear-gradient(90deg,#b92500 0.5px,#b62205 9.5px,#b21d18 14.5px,#b72300 18.5px,#c13200 20.5px,#dc6b00 23.5px,#f0b400 26.5px,#f1b600 27.5px,#e38100 29.5px,#d75e00 30.5px,#c33608 31.5px,#aa195c 32.5px,#970cc7 33.5px,#8c07f0 34.5px,#8f08e6 35.5px,#a2128b 36.5px,#be2f11 37.5px,#d75f00 38.5px,#e37f00 39.5px,#d25200 40.5px,#a91c69 41.5px,#8506f6 42.5px,#7e04fe 43.5px,#7c03fe 44.5px,#900aca 45.5px,#7406b1 46.5px,#400063 47.5px,#2b002e 48.5px,#1a0012 49.5px,#090002 51.5px,#000000 59.5px,#000000 109.5px,#555555 110.5px)"></i><i style="background:linear-gradient(90deg,#cb4300 0.5px,#c83d00 7.5px,#b82401 14.5px,#b21d17 18.5px,#b72300 21.5px,#c43600 23.5px,#e27b00 26.5px,#f0b200 28.5px,#f1b500 29.5px,#e27c00 31.5px,#d35500 32.5px,#bb2c19 33.5px,#a31385 34.5px,#9109de 35.5px,#8c07f1 36.5px,#970cc5 37.5px,#b1203f 38.5px,#cd4900 39.5px,#e17b00 40.5px,#da6700 41.5px,#b72a38 42.5px,#8b08e1 43.5px,#7e04fe 44.5px,#7c03fe 45.5px,#8b08d9 46.5px,#7d09a8 47.5px,#43006d 48.5px,#2c0032 49.5px,#1c0014 50.5px,#100007 51.5px,#020000 55.5px,#000000 109.5px,#555555 110.5px)"></i><i style="background:linear-gradient(90deg,#e37f00 0.5px,#e27b00 6.5px,#da6500 10.5px,#bf2d00 16.5px,#b82401 18.5px,#b21d17 21.5px,#b52103 23.5px,#c02f00 25.5px,#d65c00 27.5px,#f0b200 30.5px,#f0b300 31.5px,#df7300 33.5px,#cd4800 34.5px,#b2203b 35.5px,#9b0db4 36.5px,#8d07ee 37.5px,#9008e5 38.5px,#a4147e 39.5px,#c3360a 40.5px,#dc6c00 41.5px,#e07600 42.5px,#c43b15 43.5px,#940dbf 44.5px,#8004fe 45.5px,#7b03fe 46.5px,#8707e2 47.5px,#8409b8 48.5px,#470079 49.5px,#2e0036 50.5px,#1d0016 51.5px,#110008 52.5px,#020000 56.5px,#000000 109.5px,#555555 110.5px)"></i><i style="background:linear-gradient(90deg,#f0b200 0.5px,#efac00 7.5px,#e78f00 12.5px,#d75d00 16.5px,#c23300 19.5px,#b82401 21.5px,#b21e14 23.5px,#b21d15 24.5px,#b72301 26.5px,#bd2b00 27.5px,#c83e00 28.5px,#f1b500 32.5px,#efae00 33.5px,#da6600 35.5px,#c3370b 36.5px,#a7166e 37.5px,#930ad9 38.5px,#8c07f0 39.5px,#990db8 40.5px,#b7262b 41.5px,#d45800 42.5px,#e27d00 43.5px,#ce4d05 44.5px,#a0158d 45.5px,#8104fe 46.5px,#7c03fe 47.5px,#8105f0 48.5px,#8a0ab7 49.5px,#4b0082 50.5px,#31003b 51.5px,#1f0018 52.5px,#120008 53.5px,#030000 56.5px,#000000 109.5px,#555555 110.5px)"></i><i style="background:linear-gradient(90deg,#f7d400 0.5px,#f6ce00 10.5px,#f2b900 13.5px,#e78c00 17.5px,#c33400 22.5px,#b72302 24.5px,#b21d16 26.5px,#b62202 28.5px,#bc2a00 29.5px,#c83c00 30.5px,#eb9d00 33.5px,#f1b600 34.5px,#eda600 35.5px,#d25400 37.5px,#b6262d 38.5px,#9c0eab 39.5px,#8d07ed 40.5px,#9109de 41.5px,#aa1960 42.5px,#ca4403 43.5px,#e17900 44.5px,#d76000 45.5px,#ad215b 46.5px,#8506f5 47.5px,#7c03fe 48.5px,#7e04fa 49.5px,#8d0bb4 50.5px,#52018f 51.5px,#330040 52.5px,#20001a 53.5px,#130009 54.5px,#040000 57.5px,#000000 109.5px,#555555 110.5px)"></i><i style="background:linear-gradient(90deg,#f4c400 0.5px,#f5cb00 10.5px,#f7d200 15.5px,#f3c100 17.5px,#e48300 21.5px,#ca4100 24.5px,#ba2600 26.5px,#b21e14 28.5px,#b31e11 29.5px,#b62103 30.5px,#bc2900 31.5px,#c83d00 32.5px,#eda500 35.5px,#f1b500 36.5px,#ea9800 37.5px,#dd7000 38.5px,#c63d08 39.5px,#a81769 40.5px,#9209db 41.5px,#8d07ee 42.5px,#9f109c 43.5px,#c03213 44.5px,#dc6c00 45.5px,#dd7000 46.5px,#ba2f35 47.5px,#8b08e0 48.5px,#7d04fe 49.5px,#7b03fc 50.5px,#8d09cf 51.5px,#5a0295 52.5px,#350045 53.5px,#22001d 54.5px,#14000b 55.5px,#040000 58.5px,#000000 109.5px,#555555 110.5px)"></i><i style="background:linear-gradient(90deg,#eda500 0.5px,#efad00 8.5px,#f7d300 18.5px,#f5c900 20.5px,#e38100 24.5px,#c53700 27.5px,#b62205 29.5px,#b21e13 30.5px,#b21e11 31.5px,#b62103 32.5px,#bd2b00 33.5px,#ca4200 34.5px,#efaf00 37.5px,#efae00 38.5px,#e58800 39.5px,#d45900 40.5px,#b7272d 41.5px,#9b0eb1 42.5px,#8c07ef 43.5px,#960bca 44.5px,#b42337 45.5px,#d45a00 46.5px,#e07800 47.5px,#c63f14 48.5px,#920cc4 49.5px,#7e04fe 50.5px,#7a03fd 51.5px,#8c09d1 52.5px,#610498 53.5px,#37004b 54.5px,#230020 55.5px,#15000c 56.5px,#040000 59.5px,#000000 109.5px,#555555 110.5px)"></i><i style="background:linear-gradient(90deg,#e17a00 0.5px,#e38100 8.5px,#eb9c00 13.5px,#f5c700 19.5px,#f7d200 22.5px,#f5cb00 23.5px,#e78f00 26.5px,#c83d00 29.5px,#be2c00 30.5px,#b72304 31.5px,#b31e13 32.5px,#b31e11 33.5px,#b62203 34.5px,#bf2d00 35.5px,#ce4900 36.5px,#e99700 38.5px,#f1b400 39.5px,#eca000 40.5px,#df7400 41.5px,#c63e0a 42.5px,#a61674 43.5px,#9009e2 44.5px,#8f08e5 45.5px,#a8186c 46.5px,#cb4604 47.5px,#e17a00 48.5px,#d05107 49.5px,#9d1497 50.5px,#7f04fe 51.5px,#7a03fd 52.5px,#8807e0 53.5px,#6a04ad 54.5px,#390051 55.5px,#250023 56.5px,#16000d 57.5px,#080001 59.5px,#000000 69.5px,#000000 109.5px,#555555 110.5px)"></i><i style="background:linear-gradient(90deg,#d65a00 0.5px,#d96100 9.5px,#e17800 14.5px,#f4c500 22.5px,#f7d200 24.5px,#f7d200 25.5px,#f4c600 26.5px,#e37f00 29.5px,#ca4200 31.5px,#bf2d00 32.5px,#b72304 33.5px,#b31e13 34.5px,#b31e0f 35.5px,#b72301 36.5px,#c23300 37.5px,#e27c00 39.5px,#eda600 40.5px,#f0b100 41.5px,#e68b00 42.5px,#d45800 43.5px,#b42438 44.5px,#970cc2 45.5px,#8d07ee 46.5px,#9d10a3 47.5px,#c13414 48.5px,#de7100 49.5px,#d86200 50.5px,#a91e6d 51.5px,#8205fa 52.5px,#7a03fd 53.5px,#8506eb 54.5px,#7206af 55.5px,#3c0058 56.5px,#270027 57.5px,#18000e 58.5px,#080002 60.5px,#000000 69.5px,#000000 109.5px,#555555 110.5px)"></i><i style="background:linear-gradient(90deg,#cc4300 0.5px,#cf4a00 10.5px,#da6300 16.5px,#e68800 20.5px,#f3bd00 24.5px,#f7d300 27.5px,#f6cd00 28.5px,#eca100 30.5px,#cb4300 33.5px,#be2d00 34.5px,#b62206 35.5px,#b21e13 36.5px,#b92600 38.5px,#c73b00 39.5px,#e78d00 41.5px,#f0b200 42.5px,#eca200 43.5px,#de7200 44.5px,#c33911 45.5px,#a2128e 46.5px,#8e08ea 47.5px,#950bcd 48.5px,#b52635 49.5px,#d76100 50.5px,#dd7000 51.5px,#b62b41 52.5px,#8606ed 53.5px,#7b03fd 54.5px,#8106e9 55.5px,#7806bc 56.5px,#3f0061 57.5px,#29002a 58.5px,#190010 59.5px,#080002 61.5px,#000000 69.5px,#000000 109.5px,#555555 110.5px)"></i><i style="background:linear-gradient(90deg,#c83b00 0.5px,#cb4200 14.5px,#d96200 20.5px,#e48400 23.5px,#f3c000 27.5px,#f7d100 29.5px,#f7d000 30.5px,#f3c000 31.5px,#e58900 33.5px,#cb4200 35.5px,#bd2c00 36.5px,#b21e13 38.5px,#bd2b00 40.5px,#cd4800 41.5px,#eca100 43.5px,#f0b100 44.5px,#e68900 45.5px,#d15200 46.5px,#ae1e52 47.5px,#920ad8 48.5px,#8f08e5 49.5px,#aa1a66 50.5px,#cf4f01 51.5px,#e07700 52.5px,#c23b23 53.5px,#8d0ad4 54.5px,#7c03fd 55.5px,#7e04f3 56.5px,#7f07ca 57.5px,#43006d 58.5px,#2b002e 59.5px,#1a0012 60.5px,#090002 62.5px,#000000 70.5px,#000000 109.5px,#555555 110.5px)"></i><i style="background:linear-gradient(90deg,#d97b55 0.5px,#dc8055 18.5px,#e99f55 24.5px,#f7d555 29.5px,#fae255 32.5px,#eca955 35.5px,#d77855 37.5px,#d06e55 38.5px,#cc6962 39.5px,#d06d55 41.5px,#d97c55 42.5px,#f0b855 44.5px,#f6d055 45.5px,#f0b755 46.5px,#e49455 47.5px,#cd6c77 48.5px,#b85ce2 49.5px,#b35af4 50.5px,#c463a3 51.5px,#de8655 52.5px,#eca955 53.5px,#d87c65 54.5px,#b15aed 55.5px,#a757fe 56.5px,#a857fb 57.5px,#ab5acf 58.5px,#7f5594 59.5px,#705571 60.5px,#665560 61.5px,#585555 64.5px,#555555 109.5px,#8e8e8e 110.5px)"></i></div>
<div class="hm" style="left:542px;top:236px;width:111px;height:103px"><i style="background:linear-gradient(90deg,#e89d55 0.5px,#e79855 15.5px,#d37155 22.5px,#d16f55 26.5px,#db7f55 28.5px,#eba755 30.5px,#f3c155 31.5px,#fae155 34.5px,#f7d655 35.5px,#e28d55 38.5px,#d77755 39.5px,#d06d55 40.5px,#cc6961 41.5px,#d37255 43.5px,#df8855 44.5px,#ecaa55 45.5px,#f3c355 46.5px,#f6d255 47.5px,#f0b955 48.5px,#e49355 49.5px,#ce6d70 50.5px,#bb5ed1 51.5px,#b55bee 52.5px,#c262ac 53.5px,#d97d57 54.5px,#de8555 55.5px,#c062b2 56.5px,#ab58fe 57.5px,#ae59f1 58.5px,#b75ec0 59.5px,#8d55c1 60.5px,#76557f 61.5px,#685562 62.5px,#5a5556 64.5px,#555555 87.5px,#555555 109.5px,#8e8e8e 110.5px)"></i><i style="background:linear-gradient(90deg,#dd6c00 0.5px,#db6700 9.5px,#d04b00 14.5px,#ba2700 20.5px,#b82500 23.5px,#c33400 25.5px,#cc4500 26.5px,#d75e00 27.5px,#eb9f00 29.5px,#f1b600 30.5px,#f6ce00 32.5px,#f4c600 33.5px,#e58900 35.5px,#c94000 37.5px,#bc2a00 38.5px,#b31f0f 40.5px,#b82403 41.5px,#c43600 42.5px,#e78d00 44.5px,#efaf00 45.5px,#f0b200 46.5px,#e58900 47.5px,#cf4f01 48.5px,#af1e48 49.5px,#970cc6 50.5px,#9309db 51.5px,#a81869 52.5px,#c94105 53.5px,#ca4309 54.5px,#9f1394 55.5px,#8104fd 56.5px,#8e0bb2 58.5px,#5601a2 59.5px,#330043 60.5px,#1c0015 61.5px,#0f0006 62.5px,#010000 66.5px,#000000 109.5px,#555555 110.5px)"></i><i style="background:linear-gradient(90deg,#d55700 0.5px,#d04b00 7.5px,#b82500 17.5px,#b92600 20.5px,#c43500 22.5px,#d55800 24.5px,#efac00 27.5px,#f5c900 29.5px,#f6cf00 30.5px,#f3c200 31.5px,#d96300 34.5px,#ca4100 35.5px,#bd2b00 36.5px,#b31e10 38.5px,#b62206 39.5px,#c02f00 40.5px,#d15000 41.5px,#e27e00 42.5px,#eda300 43.5px,#f1b800 44.5px,#eca000 45.5px,#dc6d00 46.5px,#c03412 47.5px,#a31385 48.5px,#9209de 49.5px,#980cc0 50.5px,#b42334 51.5px,#cf4b00 52.5px,#bf3420 53.5px,#930bc6 54.5px,#8004fe 55.5px,#900bc7 56.5px,#8309b3 57.5px,#4e008f 58.5px,#2e0036 59.5px,#190011 60.5px,#0e0005 61.5px,#010000 65.5px,#000000 109.5px,#555555 110.5px)"></i><i style="background:linear-gradient(90deg,#c33400 0.5px,#b72300 15.5px,#c13000 18.5px,#cd4700 20.5px,#df7300 22.5px,#eda700 24.5px,#f6ce00 27.5px,#f6cc00 28.5px,#f2ba00 29.5px,#d85f00 32.5px,#c94000 33.5px,#be2c00 34.5px,#b31e10 36.5px,#bd2b00 38.5px,#cc4500 39.5px,#ea9700 41.5px,#f1b400 42.5px,#efaf00 43.5px,#e58600 44.5px,#cf4f00 45.5px,#b1203e 46.5px,#990dbb 47.5px,#9109e3 48.5px,#a11290 49.5px,#c03410 50.5px,#d04e00 51.5px,#b12348 52.5px,#8a07e9 53.5px,#8004fc 54.5px,#970eaa 55.5px,#7706bb 56.5px,#48007b 57.5px,#29002c 58.5px,#17000e 59.5px,#060001 61.5px,#000000 73.5px,#000000 109.5px,#555555 110.5px)"></i><i style="background:linear-gradient(90deg,#b82500 0.5px,#b92600 11.5px,#c73a00 15.5px,#d35300 17.5px,#eea800 21.5px,#f5cb00 24.5px,#f6cf00 25.5px,#f4c600 26.5px,#e17900 29.5px,#c83d00 31.5px,#bd2b00 32.5px,#b31e10 34.5px,#bb2800 36.5px,#c83d00 37.5px,#e78d00 39.5px,#efac00 40.5px,#f1b700 41.5px,#ea9a00 42.5px,#db6a00 43.5px,#c03311 44.5px,#a5147c 45.5px,#930ada 46.5px,#950ad2 47.5px,#ac1b55 48.5px,#ca4302 49.5px,#cb4505 50.5px,#a31681 51.5px,#8405f9 52.5px,#8305f2 53.5px,#9a109c 54.5px,#6a03bc 55.5px,#410069 56.5px,#250023 57.5px,#14000b 58.5px,#060001 60.5px,#000000 77.5px,#000000 109.5px,#555555 110.5px)"></i><i style="background:linear-gradient(90deg,#bb2800 0.5px,#c33300 8.5px,#d14e00 12.5px,#e17c00 15.5px,#efaf00 18.5px,#f6d000 22.5px,#f5ca00 23.5px,#e68900 26.5px,#c53800 29.5px,#b62205 31.5px,#b31e10 32.5px,#ba2700 34.5px,#c53800 35.5px,#e48400 37.5px,#eda300 38.5px,#f2b900 39.5px,#eea800 40.5px,#e38000 41.5px,#ce4b00 42.5px,#b11f3d 43.5px,#9a0db6 44.5px,#9109e4 45.5px,#9c0eaa 46.5px,#b82823 47.5px,#d04e00 48.5px,#c13617 49.5px,#960db9 50.5px,#8104fd 51.5px,#8a08db 52.5px,#960e9c 53.5px,#6001b9 54.5px,#3c0059 55.5px,#21001c 56.5px,#120009 57.5px,#030000 60.5px,#000000 109.5px,#555555 110.5px)"></i><i style="background:linear-gradient(90deg,#d04d00 0.5px,#d55700 5.5px,#df7500 9.5px,#f0b100 14.5px,#f6ce00 18.5px,#f6d000 19.5px,#f5c900 20.5px,#e89100 23.5px,#cc4500 26.5px,#ba2700 28.5px,#b31e11 30.5px,#ba2600 32.5px,#c43600 33.5px,#e27d00 35.5px,#f1b600 37.5px,#f0b300 38.5px,#e89000 39.5px,#d86200 40.5px,#be2f14 41.5px,#a4147d 42.5px,#930ad9 43.5px,#930adb 44.5px,#a61670 45.5px,#c43908 46.5px,#d14e00 47.5px,#b32440 48.5px,#8d08e1 49.5px,#8004fe 50.5px,#920bbf 51.5px,#8e0da8 52.5px,#5701a7 53.5px,#350048 54.5px,#1e0017 55.5px,#100007 56.5px,#020000 59.5px,#000000 109.5px,#555555 110.5px)"></i><i style="background:linear-gradient(90deg,#ea9800 0.5px,#eca300 5.5px,#f7d000 15.5px,#f4c400 17.5px,#e27d00 21.5px,#c63a00 24.5px,#b82401 26.5px,#b21e11 28.5px,#ba2700 30.5px,#c43500 31.5px,#ea9700 34.5px,#f0b100 35.5px,#f1b800 36.5px,#eb9d00 37.5px,#df7400 38.5px,#c94203 39.5px,#af1d45 40.5px,#9a0db8 41.5px,#9008e5 42.5px,#990dbb 43.5px,#b22137 44.5px,#ce4900 45.5px,#cb4404 46.5px,#a51779 47.5px,#8606f6 48.5px,#8004fc 49.5px,#9b109f 50.5px,#8108b8 51.5px,#500095 52.5px,#30003c 53.5px,#1b0013 54.5px,#0e0006 55.5px,#010000 59.5px,#000000 109.5px,#555555 110.5px)"></i><i style="background:linear-gradient(90deg,#f3c100 0.5px,#f6ce00 8.5px,#f6cf00 11.5px,#f3c200 13.5px,#e68a00 17.5px,#c83d00 21.5px,#ba2700 23.5px,#b31f10 25.5px,#b31e12 26.5px,#bb2800 28.5px,#c43700 29.5px,#e99400 32.5px,#efad00 33.5px,#f2ba00 34.5px,#eda600 35.5px,#e48300 36.5px,#d35500 37.5px,#b9291f 38.5px,#a21288 39.5px,#9309db 40.5px,#9209de 41.5px,#a31384 42.5px,#bf300f 43.5px,#d25100 44.5px,#c03316 45.5px,#980eb4 46.5px,#8205fd 47.5px,#8406f1 48.5px,#9e118d 49.5px,#7405c4 50.5px,#4a0082 51.5px,#2b0030 52.5px,#18000f 53.5px,#070001 55.5px,#000000 66.5px,#000000 109.5px,#555555 110.5px)"></i><i style="background:linear-gradient(90deg,#f6cd00 0.5px,#f4c400 6.5px,#e99400 12.5px,#d65a00 16.5px,#c02f00 19.5px,#b72302 21.5px,#b21e12 23.5px,#b72302 25.5px,#bd2a00 26.5px,#c73a00 27.5px,#e99300 30.5px,#f2ba00 32.5px,#efad00 33.5px,#e78d00 34.5px,#d96400 35.5px,#c2360a 36.5px,#ab1859 37.5px,#980cc1 38.5px,#9008e6 39.5px,#980cc1 40.5px,#af1d44 41.5px,#ca4200 42.5px,#d04e00 43.5px,#b22341 44.5px,#8e09df 45.5px,#8004fe 46.5px,#8c09d7 47.5px,#9d1288 48.5px,#6802c7 49.5px,#440071 50.5px,#270027 51.5px,#15000c 52.5px,#060001 54.5px,#000000 69.5px,#000000 109.5px,#555555 110.5px)"></i><i style="background:linear-gradient(90deg,#ea9a00 0.5px,#e89100 5.5px,#dd6d00 10.5px,#c33300 15.5px,#b72302 18.5px,#b21e13 20.5px,#b31e11 21.5px,#b92600 23.5px,#c02f00 24.5px,#ca4100 25.5px,#e99400 28.5px,#f2bb00 30.5px,#f0b100 31.5px,#dd6f00 33.5px,#ca4300 34.5px,#b22035 35.5px,#9f0f9f 36.5px,#9209e0 37.5px,#9209de 38.5px,#a2128b 39.5px,#bc2b15 40.5px,#d15000 41.5px,#c84006 42.5px,#a4167d 43.5px,#8706f5 44.5px,#7f04fe 45.5px,#950db2 46.5px,#95109c 47.5px,#5f01bd 48.5px,#3e0060 49.5px,#23001f 50.5px,#13000a 51.5px,#030000 54.5px,#000000 109.5px,#555555 110.5px)"></i><i style="background:linear-gradient(90deg,#d75e00 0.5px,#d35300 5.5px,#ba2600 13.5px,#b62106 15.5px,#b21e13 17.5px,#b52107 19.5px,#bd2a00 21.5px,#c43600 22.5px,#da6700 24.5px,#efac00 27.5px,#f2bb00 28.5px,#f0b300 29.5px,#e07700 31.5px,#cf4d00 32.5px,#b9281c 33.5px,#a5137a 34.5px,#950bd0 35.5px,#9008e6 36.5px,#990cc0 37.5px,#ae1c48 38.5px,#c83e02 39.5px,#d35200 40.5px,#bc2d1f 41.5px,#970db9 42.5px,#8305fd 43.5px,#8105fb 44.5px,#9f1292 45.5px,#890ab2 46.5px,#5801ac 47.5px,#380050 48.5px,#1f0019 49.5px,#110008 50.5px,#030000 53.5px,#000000 109.5px,#555555 110.5px)"></i><i style="background:linear-gradient(90deg,#bf2e00 0.5px,#b62203 10.5px,#b21e13 13.5px,#b31f0e 15.5px,#b92500 17.5px,#c33300 19.5px,#d65a00 21.5px,#eb9d00 24.5px,#f2bc00 26.5px,#f0b200 27.5px,#e27c00 29.5px,#d35500 30.5px,#be2f0e 31.5px,#aa175b 32.5px,#9a0dbb 33.5px,#9008e6 34.5px,#930ada 35.5px,#a21287 36.5px,#bb2a15 37.5px,#d14e00 38.5px,#cd4700 39.5px,#ae1e50 40.5px,#8d08e4 41.5px,#8004fe 42.5px,#8706eb 43.5px,#a31477 44.5px,#7c07c7 45.5px,#52009a 46.5px,#330042 47.5px,#1c0015 48.5px,#0f0006 49.5px,#010000 53.5px,#000000 109.5px,#555555 110.5px)"></i><i style="background:linear-gradient(90deg,#b52008 0.5px,#b21e13 9.5px,#ba2700 14.5px,#c43500 16.5px,#d45600 18.5px,#e99400 21.5px,#f1b500 23.5px,#f2bc00 24.5px,#f0b000 25.5px,#e27d00 27.5px,#c23407 29.5px,#ae1b45 30.5px,#9e0fa5 31.5px,#9209df 32.5px,#9109e4 33.5px,#9a0db7 34.5px,#af1c41 35.5px,#c73c01 36.5px,#d45400 37.5px,#c2360c 38.5px,#9f1292 39.5px,#8706f8 40.5px,#7f04ff 41.5px,#900bcb 42.5px,#a21476 43.5px,#6f03d2 44.5px,#4c0089 45.5px,#2d0035 46.5px,#190011 47.5px,#0e0005 48.5px,#010000 52.5px,#000000 109.5px,#555555 110.5px)"></i><i style="background:linear-gradient(90deg,#b41f0b 0.5px,#bc2900 10.5px,#c93e00 13.5px,#eb9e00 19.5px,#f2bb00 21.5px,#f2bb00 22.5px,#e99400 24.5px,#e17b00 25.5px,#c33605 27.5px,#b01e38 28.5px,#a11194 29.5px,#940ad6 30.5px,#9008e8 31.5px,#960bd1 32.5px,#a51475 33.5px,#bc2b0f 34.5px,#d14e00 35.5px,#cf4c00 36.5px,#b52433 37.5px,#930bcc 38.5px,#8305fd 39.5px,#8004fd 40.5px,#9a109c 41.5px,#9a1291 42.5px,#6602ce 43.5px,#470078 44.5px,#29002b 45.5px,#17000d 46.5px,#060001 48.5px,#000000 60.5px,#000000 109.5px,#555555 110.5px)"></i><i style="background:linear-gradient(90deg,#be2c00 0.5px,#c43500 6.5px,#d35200 10.5px,#f1b800 18.5px,#f3bd00 19.5px,#f1b500 20.5px,#e07500 23.5px,#c33604 25.5px,#b11e34 26.5px,#a31289 27.5px,#960bcd 28.5px,#8f08e8 29.5px,#9309dd 30.5px,#9e0fa1 31.5px,#b3202f 32.5px,#c83e00 33.5px,#d45600 34.5px,#c53a06 35.5px,#a61772 36.5px,#8a07ef 37.5px,#8004fe 38.5px,#8405f4 39.5px,#a41679 40.5px,#8e0cb1 41.5px,#5f01bf 42.5px,#410067 43.5px,#250023 44.5px,#14000b 45.5px,#060001 47.5px,#000000 64.5px,#000000 109.5px,#555555 110.5px)"></i><i style="background:linear-gradient(90deg,#d55900 0.5px,#da6600 5.5px,#efaf00 14.5px,#f3be00 16.5px,#f2b800 17.5px,#e48400 20.5px,#c13206 23.5px,#b11e35 24.5px,#a31286 25.5px,#970bc8 26.5px,#9008e7 27.5px,#9109e3 28.5px,#9a0dbc 29.5px,#ab1854 30.5px,#c03007 31.5px,#d25100 32.5px,#d04d00 33.5px,#b82823 34.5px,#980db5 35.5px,#8505fb 36.5px,#7f04ff 37.5px,#8c09db 38.5px,#a91863 39.5px,#8007cb 40.5px,#5901b0 41.5px,#3b0057 42.5px,#21001c 43.5px,#120009 44.5px,#030000 47.5px,#000000 109.5px,#555555 110.5px)"></i><i style="background:linear-gradient(90deg,#e89000 0.5px,#ea9a00 6.5px,#f3be00 12.5px,#f1b600 14.5px,#e07700 18.5px,#cb4400 20.5px,#bd2c0d 21.5px,#ae1b3f 22.5px,#a2118c 23.5px,#970bc7 24.5px,#9008e7 25.5px,#9108e5 26.5px,#970bcb 27.5px,#a51476 28.5px,#b82615 29.5px,#cc4500 30.5px,#d55600 31.5px,#c63b04 32.5px,#a91961 33.5px,#8d08e6 34.5px,#8205fe 35.5px,#8004fd 36.5px,#980fb1 37.5px,#a51667 38.5px,#7404db 39.5px,#5400a0 40.5px,#350047 41.5px,#1e0017 42.5px,#100007 43.5px,#020000 46.5px,#000000 109.5px,#555555 110.5px)"></i><i style="background:linear-gradient(90deg,#f1b400 0.5px,#f3be00 8.5px,#eeab00 11.5px,#e17800 15.5px,#c43600 18.5px,#b7241c 19.5px,#aa1854 20.5px,#a01099 21.5px,#960bcc 22.5px,#9008e7 23.5px,#9008e6 24.5px,#960bd2 25.5px,#a1118e 26.5px,#b32029 27.5px,#c53900 28.5px,#d45600 29.5px,#cf4b00 30.5px,#b9281f 31.5px,#9a0eaa 32.5px,#8706f8 33.5px,#8004ff 34.5px,#8405f7 35.5px,#a3157c 36.5px,#9c128c 37.5px,#6b02da 38.5px,#4f0090 39.5px,#30003b 40.5px,#1b0012 41.5px,#0e0005 42.5px,#010000 46.5px,#000000 109.5px,#555555 110.5px)"></i><i style="background:linear-gradient(90deg,#f0b400 0.5px,#eea900 5.5px,#e58800 10.5px,#d75f00 13.5px,#c53900 15.5px,#ba2910 16.5px,#af1c39 17.5px,#9d0eac 19.5px,#940ad5 20.5px,#8f08e9 21.5px,#9008e6 22.5px,#950ad4 23.5px,#9f109c 24.5px,#af1c38 25.5px,#c13104 26.5px,#d14f00 27.5px,#d45500 28.5px,#c43705 29.5px,#a9195f 30.5px,#8f08e2 31.5px,#8305fd 32.5px,#7f04ff 33.5px,#8b08e1 34.5px,#ab1954 35.5px,#8f0db9 36.5px,#6401ce 37.5px,#2b002f 39.5px,#18000f 40.5px,#070001 42.5px,#000000 53.5px,#000000 109.5px,#555555 110.5px)"></i><i style="background:linear-gradient(90deg,#e58800 0.5px,#e27d00 5.5px,#d65b00 9.5px,#c13201 12.5px,#b82614 13.5px,#b01c37 14.5px,#a0109b 16.5px,#980cc3 17.5px,#9109e1 18.5px,#8f08eb 19.5px,#9109e4 20.5px,#950ad3 21.5px,#9f0f9f 22.5px,#ae1b41 23.5px,#bd2c07 24.5px,#cd4800 25.5px,#d65900 26.5px,#cc4400 27.5px,#b62426 28.5px,#9a0ead 29.5px,#8806f7 30.5px,#8104fe 31.5px,#8004fd 32.5px,#970eb6 33.5px,#ac1b50 34.5px,#8107d7 35.5px,#5f01c2 36.5px,#43006e 37.5px,#260026 38.5px,#15000c 39.5px,#060001 41.5px,#000000 56.5px,#000000 109.5px,#555555 110.5px)"></i><i style="background:linear-gradient(90deg,#d14f00 0.5px,#ca4100 5.5px,#be2c05 8.5px,#b11e2e 10.5px,#ab184e 11.5px,#9f109e 13.5px,#930adb 15.5px,#8f08e9 16.5px,#8f08ea 17.5px,#9209e0 18.5px,#970bce 19.5px,#a01098 20.5px,#ae1a40 21.5px,#bc2a08 22.5px,#cb4200 23.5px,#d65900 24.5px,#d04e00 25.5px,#bf2f0a 26.5px,#a6166f 27.5px,#8e08e5 28.5px,#8405fd 29.5px,#7f04ff 30.5px,#8505f6 31.5px,#a3157a 32.5px,#a5176f 33.5px,#7603e5 34.5px,#5a01b4 35.5px,#3d005e 36.5px,#22001f 37.5px,#13000a 38.5px,#030000 41.5px,#000000 109.5px,#555555 110.5px)"></i><i style="background:linear-gradient(90deg,#b32023 0.5px,#b11e2e 3.5px,#ad1944 5.5px,#aa1755 6.5px,#970bcc 11.5px,#9209df 12.5px,#8f08ea 13.5px,#8f08eb 14.5px,#940ada 16.5px,#990cc0 17.5px,#a31285 18.5px,#b01c34 19.5px,#bd2b06 20.5px,#d55800 22.5px,#d35400 23.5px,#c53801 24.5px,#b01e3e 25.5px,#960cc1 26.5px,#8706f9 27.5px,#7f04fe 29.5px,#8d09dc 30.5px,#ad1c4b 31.5px,#99109f 32.5px,#6e02e3 33.5px,#5600a6 34.5px,#37004e 35.5px,#1f0019 36.5px,#110008 37.5px,#020000 40.5px,#000000 109.5px,#555555 110.5px)"></i><i style="background:linear-gradient(90deg,#9d0eab 0.5px,#9c0eb2 3.5px,#8f08e9 9.5px,#8f08ea 11.5px,#930adc 13.5px,#970bcb 14.5px,#9e0fa6 15.5px,#b32022 17.5px,#bf2e02 18.5px,#d55800 20.5px,#d55600 21.5px,#c83e00 22.5px,#b72520 23.5px,#9f1195 24.5px,#8c07ee 25.5px,#8405fd 26.5px,#8205fb 28.5px,#9a0fab 29.5px,#b01e3f 30.5px,#8b09cb 31.5px,#6801d9 32.5px,#510097 33.5px,#320040 34.5px,#1c0014 35.5px,#0f0006 36.5px,#010000 40.5px,#000000 109.5px,#555555 110.5px)"></i><i style="background:linear-gradient(90deg,#8f08eb 0.5px,#8f08ea 6.5px,#950ad7 10.5px,#980cc6 11.5px,#9e0fa7 12.5px,#a61473 13.5px,#af1b36 14.5px,#b9260d 15.5px,#c33400 16.5px,#d65a00 18.5px,#d55700 19.5px,#ca4000 20.5px,#bb2911 21.5px,#a51572 22.5px,#9109dd 23.5px,#8605fb 24.5px,#7f04ff 26.5px,#8907ed 27.5px,#a7186a 28.5px,#aa1a5a 29.5px,#7f05e7 30.5px,#6401cf 31.5px,#4b0086 32.5px,#2d0034 33.5px,#190010 34.5px,#0e0005 35.5px,#010000 39.5px,#000000 109.5px,#555555 110.5px)"></i><i style="background:linear-gradient(90deg,#9309dd 0.5px,#950ad4 5.5px,#9a0cbf 7.5px,#9d0fa9 8.5px,#a21289 9.5px,#b01c30 11.5px,#b8240f 12.5px,#c02f00 13.5px,#d75c00 16.5px,#d45500 17.5px,#ca4000 18.5px,#bc2b0c 19.5px,#aa185c 20.5px,#950bcc 21.5px,#8806f7 22.5px,#7f04ff 24.5px,#8104fd 25.5px,#940bc6 26.5px,#b11f38 27.5px,#9e1394 28.5px,#7503ed 29.5px,#6001c4 30.5px,#28002a 32.5px,#16000d 33.5px,#060001 35.5px,#000000 48.5px,#000000 109.5px,#555555 110.5px)"></i><i style="background:linear-gradient(90deg,#a31287 0.5px,#a41282 2.5px,#a71569 4.5px,#b62311 8.5px,#bc2903 9.5px,#d04b00 12.5px,#d65a00 13.5px,#d75c00 14.5px,#c83c00 16.5px,#bb290c 17.5px,#ab1955 18.5px,#970cc0 19.5px,#8a07f4 20.5px,#8004ff 22.5px,#7e04ff 23.5px,#8706f3 24.5px,#a21486 25.5px,#b22034 26.5px,#8f0ac7 27.5px,#6f02e7 28.5px,#5c01b8 29.5px,#400066 30.5px,#250024 31.5px,#15000c 32.5px,#060001 34.5px,#000000 48.5px,#000000 109.5px,#555555 110.5px)"></i><i style="background:linear-gradient(90deg,#bb2902 0.5px,#c23200 5.5px,#d35200 9.5px,#d85d00 11.5px,#d45500 12.5px,#c43500 14.5px,#b82514 15.5px,#a9175e 16.5px,#970cc0 17.5px,#8b07f2 18.5px,#8104fe 20.5px,#8104fd 22.5px,#920ad2 23.5px,#af1e41 24.5px,#a91961 25.5px,#8206e9 26.5px,#6901de 27.5px,#5700aa 28.5px,#3c0059 29.5px,#240021 30.5px,#15000b 31.5px,#070001 33.5px,#000000 45.5px,#000000 109.5px,#555555 110.5px)"></i><i style="background:linear-gradient(90deg,#d14f00 0.5px,#d85e00 7.5px,#d25100 9.5px,#bd2c05 12.5px,#b21f2c 13.5px,#950bcc 15.5px,#8b07f3 16.5px,#8204fe 18.5px,#7f04ff 20.5px,#8806f2 21.5px,#a01291 22.5px,#b52223 23.5px,#9b10a4 24.5px,#7703f0 25.5px,#6501d3 26.5px,#52009c 27.5px,#37004d 28.5px,#23001e 29.5px,#15000b 30.5px,#040000 33.5px,#000000 109.5px,#555555 110.5px)"></i><i style="background:linear-gradient(90deg,#d55600 0.5px,#d14e00 4.5px,#c23200 8.5px,#bc2907 9.5px,#b32025 10.5px,#a9175d 11.5px,#9c0ea9 12.5px,#9109df 13.5px,#8906f6 14.5px,#7e04ff 18.5px,#8305fb 19.5px,#940bcd 20.5px,#af1d44 21.5px,#af1e40 22.5px,#8b08d9 23.5px,#7002eb 24.5px,#6101c9 25.5px,#4e008d 26.5px,#340045 27.5px,#22001d 28.5px,#15000b 29.5px,#050001 32.5px,#000000 91.5px,#000000 109.5px,#555555 110.5px)"></i><i style="background:linear-gradient(90deg,#c02f00 0.5px,#bd2c00 3.5px,#b72412 5.5px,#b31f25 6.5px,#ad1946 7.5px,#9c0ead 9.5px,#930ad8 10.5px,#8c07f1 11.5px,#8204fe 14.5px,#8004fd 17.5px,#8c08e9 18.5px,#b6231a 20.5px,#a21487 21.5px,#7f05f1 22.5px,#6b01e3 23.5px,#5e01be 24.5px,#31003c 26.5px,#21001b 27.5px,#15000b 28.5px,#050001 31.5px,#000000 68.5px,#000000 109.5px,#555555 110.5px)"></i><i style="background:linear-gradient(90deg,#a31282 0.5px,#a21289 2.5px,#9c0eaa 4.5px,#8e08e9 7.5px,#8806f9 9.5px,#7f04fe 15.5px,#8806f3 16.5px,#9a0eb0 17.5px,#b22031 18.5px,#b12037 19.5px,#920bcb 20.5px,#7603f2 21.5px,#6701db 22.5px,#5a01b3 23.5px,#2f0037 25.5px,#20001a 26.5px,#15000b 27.5px,#040000 31.5px,#000000 109.5px,#555555 110.5px)"></i><i style="background:linear-gradient(90deg,#8a06f6 0.5px,#7f04fe 13.5px,#8706f6 14.5px,#960bc9 15.5px,#ac1a53 16.5px,#b82513 17.5px,#a21483 18.5px,#8406ef 19.5px,#7002ec 20.5px,#6501d3 21.5px,#5600a8 22.5px,#410068 23.5px,#2d0032 24.5px,#1f0019 25.5px,#0e0005 27.5px,#010000 33.5px,#000000 109.5px,#555555 110.5px)"></i><i style="background:linear-gradient(90deg,#8405fd 0.5px,#8004fe 11.5px,#8806f5 12.5px,#940bd0 13.5px,#a7166a 14.5px,#b9260f 15.5px,#af1d46 16.5px,#920ace 17.5px,#7a03f5 18.5px,#6c01e5 19.5px,#6201ca 20.5px,#53009d 21.5px,#3d005c 22.5px,#2c002f 23.5px,#1f0018 24.5px,#0e0005 26.5px,#010000 32.5px,#000000 109.5px,#555555 110.5px)"></i><i style="background:linear-gradient(90deg,#7f04ff 0.5px,#7f04fe 8.5px,#8405fb 9.5px,#8c07ef 10.5px,#970bc7 11.5px,#b82513 13.5px,#b62323 14.5px,#9d109e 15.5px,#8506f2 16.5px,#7202f0 17.5px,#6901df 18.5px,#5f01c2 19.5px,#4f0092 20.5px,#3a0053 21.5px,#2a002c 22.5px,#1e0017 23.5px,#0e0005 25.5px,#010000 31.5px,#000000 109.5px,#555555 110.5px)"></i><i style="background:linear-gradient(90deg,#7e04ff 0.5px,#8605f9 6.5px,#8b07f0 7.5px,#9209db 8.5px,#9d0fa8 9.5px,#ab1954 10.5px,#b9260f 11.5px,#b82614 12.5px,#8e08e3 14.5px,#7a03f7 15.5px,#6701d8 17.5px,#5c01b8 18.5px,#4c0086 19.5px,#37004b 20.5px,#29002a 21.5px,#1e0016 22.5px,#0f0005 24.5px,#020000 30.5px,#000000 109.5px,#555555 110.5px)"></i><i style="background:linear-gradient(90deg,#8c07ee 0.5px,#8f08e7 3.5px,#9209dc 4.5px,#970cc7 5.5px,#9e0fa0 6.5px,#b42128 8.5px,#bc2a04 9.5px,#b82516 10.5px,#a6156e 11.5px,#920ad5 12.5px,#8105f8 13.5px,#6c01e6 15.5px,#6401d2 16.5px,#5900b0 17.5px,#350046 19.5px,#280028 20.5px,#15000b 22.5px,#050001 26.5px,#000000 70.5px,#000000 109.5px,#555555 110.5px)"></i><i style="background:linear-gradient(90deg,#a81662 0.5px,#a81660 1.5px,#ad1a47 3.5px,#b82614 5.5px,#bd2a02 6.5px,#bc2a04 7.5px,#b3202c 8.5px,#930ad4 10.5px,#8505f6 11.5px,#7703f7 12.5px,#6a01e2 14.5px,#6301ce 15.5px,#5700ab 16.5px,#350044 18.5px,#280029 19.5px,#16000c 21.5px,#060001 25.5px,#000000 57.5px,#000000 109.5px,#555555 110.5px)"></i><i style="background:linear-gradient(90deg,#be2c00 0.5px,#bc2905 3.5px,#b82615 4.5px,#b11e34 5.5px,#a7156a 6.5px,#9b0eaf 7.5px,#9009e2 8.5px,#8505f7 9.5px,#7903f9 10.5px,#6901df 13.5px,#6101c9 14.5px,#5500a5 15.5px,#44006f 16.5px,#340043 17.5px,#290029 18.5px,#17000d 20.5px,#060001 24.5px,#000000 50.5px,#000000 109.5px,#555555 110.5px)"></i><i style="background:linear-gradient(90deg,#a11190 0.5px,#a11192 1.5px,#9f109c 2.5px,#9009e3 5.5px,#8205fb 7.5px,#7002ef 10.5px,#6701da 12.5px,#5f01c3 13.5px,#53009f 14.5px,#420069 15.5px,#340043 16.5px,#200019 18.5px,#0d0004 21.5px,#010000 30.5px,#000000 109.5px,#555555 110.5px)"></i><i style="background:linear-gradient(90deg,#8806f6 0.5px,#8004fc 4.5px,#6f02ec 9.5px,#6501d5 11.5px,#5d01bd 12.5px,#510097 13.5px,#410065 14.5px,#350044 15.5px,#21001b 17.5px,#0f0005 20.5px,#010000 29.5px,#000000 109.5px,#555555 110.5px)"></i><i style="background:linear-gradient(90deg,#7603f9 0.5px,#7002ef 7.5px,#6901e0 9.5px,#6301d0 10.5px,#5b01b8 11.5px,#400062 13.5px,#2b002e 15.5px,#1b0012 17.5px,#0a0002 21.5px,#000000 36.5px,#000000 109.5px,#555555 110.5px)"></i><i style="background:linear-gradient(90deg,#7402f5 0.5px,#6f02ec 6.5px,#6801db 8.5px,#6201cb 9.5px,#5900b2 10.5px,#3f0060 12.5px,#2c0030 14.5px,#1d0014 16.5px,#0b0003 20.5px,#000000 33.5px,#000000 109.5px,#555555 110.5px)"></i><i style="background:linear-gradient(90deg,#7302f4 0.5px,#6d02e9 5.5px,#6601d7 7.5px,#6001c6 8.5px,#5700ac 9.5px,#3e005e 11.5px,#2d0032 13.5px,#1e0016 15.5px,#0c0004 19.5px,#010000 32.5px,#000000 109.5px,#555555 110.5px)"></i><i style="background:linear-gradient(90deg,#7202f2 0.5px,#6c01e6 4.5px,#6401d2 6.5px,#5e01c1 7.5px,#5500a5 8.5px,#48007c 9.5px,#360047 11.5px,#260023 13.5px,#15000a 16.5px,#040000 24.5px,#000000 109.5px,#555555 110.5px)"></i><i style="background:linear-gradient(90deg,#7002ef 0.5px,#6701da 4.5px,#5c01bb 6.5px,#53009e 7.5px,#470078 8.5px,#360047 10.5px,#20001a 13.5px,#0e0005 17.5px,#010000 29.5px,#000000 109.5px,#555555 110.5px)"></i><i style="background:linear-gradient(90deg,#6f02ec 0.5px,#6601d7 3.5px,#5a01b5 5.5px,#460074 7.5px,#2f0035 10.5px,#1c0013 13.5px,#0a0003 18.5px,#000000 36.5px,#000000 109.5px,#555555 110.5px)"></i><i style="background:linear-gradient(90deg,#6d02e9 0.5px,#6001c5 3.5px,#5900af 4.5px,#450072 6.5px,#2f0036 9.5px,#1d0015 12.5px,#0b0003 17.5px,#000000 34.5px,#000000 109.5px,#555555 110.5px)"></i><i style="background:linear-gradient(90deg,#6c01e6 0.5px,#6001c7 2.5px,#5900b0 3.5px,#450072 5.5px,#300038 8.5px,#1e0016 11.5px,#0c0004 16.5px,#010000 32.5px,#000000 109.5px,#555555 110.5px)"></i><i style="background:linear-gradient(90deg,#6b01e4 0.5px,#5c01ba 2.5px,#480079 4.5px,#300039 7.5px,#1f0017 10.5px,#0d0004 15.5px,#010000 31.5px,#000000 109.5px,#555555 110.5px)"></i><i style="background:linear-gradient(90deg,#6a01e0 0.5px,#6201cb 1.5px,#43006b 4.5px,#32003d 6.5px,#200019 9.5px,#0e0005 14.5px,#010000 29.5px,#000000 109.5px,#555555 110.5px)"></i><i style="background:linear-gradient(90deg,#6601d7 0.5px,#3e005c 4.5px,#2d0032 6.5px,#1d0014 9.5px,#0b0003 15.5px,#000000 36.5px,#000000 109.5px,#555555 110.5px)"></i><i style="background:linear-gradient(90deg,#6901df 0.5px,#6101c8 1.5px,#420067 4.5px,#31003a 6.5px,#1f0018 9.5px,#0e0005 14.5px,#010000 30.5px,#000000 109.5px,#555555 110.5px)"></i><i style="background:linear-gradient(90deg,#6b01e4 0.5px,#5b01b8 2.5px,#470076 4.5px,#2f0037 7.5px,#1e0016 10.5px,#0d0004 15.5px,#010000 31.5px,#000000 109.5px,#555555 110.5px)"></i><i style="background:linear-gradient(90deg,#6c01e5 0.5px,#5f01c4 2.5px,#5700ab 3.5px,#44006e 5.5px,#2e0035 8.5px,#1d0015 11.5px,#0c0004 16.5px,#010000 33.5px,#000000 109.5px,#555555 110.5px)"></i><i style="background:linear-gradient(90deg,#6d02e8 0.5px,#5e01c1 3.5px,#5700aa 4.5px,#43006c 6.5px,#2e0034 9.5px,#1c0013 12.5px,#0b0003 17.5px,#000000 34.5px,#000000 109.5px,#555555 110.5px)"></i><i style="background:linear-gradient(90deg,#6e02eb 0.5px,#6501d4 3.5px,#5800ae 5.5px,#44006e 7.5px,#2d0032 10.5px,#1b0012 13.5px,#0a0003 18.5px,#000000 36.5px,#000000 109.5px,#555555 110.5px)"></i><i style="background:linear-gradient(90deg,#7002ef 0.5px,#6601d7 4.5px,#5a01b5 6.5px,#450070 8.5px,#2d0031 11.5px,#1a0010 14.5px,#090002 19.5px,#000000 39.5px,#000000 109.5px,#555555 110.5px)"></i><i style="background:linear-gradient(90deg,#7102f1 0.5px,#6b01e4 4.5px,#6301cf 6.5px,#5c01bb 7.5px,#53009c 8.5px,#460074 9.5px,#340042 11.5px,#250021 13.5px,#14000a 16.5px,#030000 25.5px,#000000 109.5px,#555555 110.5px)"></i><i style="background:linear-gradient(90deg,#7302f3 0.5px,#6c02e7 5.5px,#6501d3 7.5px,#5e01c0 8.5px,#5500a3 9.5px,#470078 10.5px,#340042 12.5px,#24001f 14.5px,#130009 17.5px,#020000 26.5px,#000000 109.5px,#555555 110.5px)"></i><i style="background:linear-gradient(90deg,#7402f5 0.5px,#6e02ea 6.5px,#6601d8 8.5px,#6001c6 9.5px,#5700aa 10.5px,#3d005a 12.5px,#2b002d 14.5px,#1c0013 16.5px,#0b0003 20.5px,#000000 34.5px,#000000 109.5px,#555555 110.5px)"></i><i style="background:linear-gradient(90deg,#7502f7 0.5px,#6f02ed 7.5px,#6801dc 9.5px,#6201cb 10.5px,#5900b0 11.5px,#3d005b 13.5px,#2a002b 15.5px,#1a0011 17.5px,#090002 21.5px,#000000 37.5px,#000000 109.5px,#555555 110.5px)"></i><i style="background:linear-gradient(90deg,#8405fb 0.5px,#7703f9 5.5px,#6e02ea 9.5px,#6301d0 11.5px,#5b01b6 12.5px,#3e005c 14.5px,#290029 16.5px,#19000f 18.5px,#080002 22.5px,#000000 40.5px,#000000 109.5px,#555555 110.5px)"></i><i style="background:linear-gradient(90deg,#9b0db6 0.5px,#990cc0 2.5px,#8c07ef 5.5px,#7d04fb 7.5px,#6b01e5 11.5px,#6501d5 12.5px,#5d01bc 13.5px,#500093 14.5px,#3f005f 15.5px,#32003e 16.5px,#1e0017 18.5px,#0d0004 21.5px,#010000 30.5px,#000000 109.5px,#555555 110.5px)"></i><i style="background:linear-gradient(90deg,#bb2909 0.5px,#ba280e 2.5px,#b72419 3.5px,#b11e31 4.5px,#a9175a 5.5px,#950bce 7.5px,#8b07ef 8.5px,#8004fa 9.5px,#6d02e8 12.5px,#6701da 13.5px,#5f01c2 14.5px,#52009a 15.5px,#400063 16.5px,#32003d 17.5px,#270025 18.5px,#15000b 20.5px,#040000 25.5px,#000000 109.5px,#555555 110.5px)"></i><i style="background:linear-gradient(90deg,#af1b3d 0.5px,#b01d34 2.5px,#bc2a03 5.5px,#bd2b00 6.5px,#b82615 7.5px,#ab1952 8.5px,#9c0eaa 9.5px,#8d08e8 10.5px,#8004f9 11.5px,#6e02eb 13.5px,#6901de 14.5px,#6001c7 15.5px,#5400a1 16.5px,#420068 17.5px,#32003e 18.5px,#260024 19.5px,#15000b 21.5px,#040000 26.5px,#000000 109.5px,#555555 110.5px)"></i><i style="background:linear-gradient(90deg,#9009e4 0.5px,#9209df 2.5px,#980cc5 4.5px,#9d0fa7 5.5px,#af1c3c 7.5px,#b9270f 8.5px,#bc2903 9.5px,#b21f35 10.5px,#9e109b 11.5px,#8c07ea 12.5px,#7c04f8 13.5px,#6a01e2 15.5px,#6201cc 16.5px,#5600a6 17.5px,#32003e 19.5px,#260024 20.5px,#14000a 22.5px,#040000 27.5px,#000000 109.5px,#555555 110.5px)"></i><i style="background:linear-gradient(90deg,#7f04fe 0.5px,#8505f9 5.5px,#9008e5 7.5px,#980cc3 8.5px,#a4137e 9.5px,#b3202f 10.5px,#bb2904 11.5px,#b22033 12.5px,#9c0fa7 13.5px,#8706f2 14.5px,#7503f4 15.5px,#6401d2 17.5px,#5800ae 18.5px,#340042 20.5px,#260025 21.5px,#14000a 23.5px,#030000 28.5px,#000000 109.5px,#555555 110.5px)"></i><i style="background:linear-gradient(90deg,#7f04ff 0.5px,#8204fd 8.5px,#8806f6 9.5px,#9009e1 10.5px,#9d0fa3 11.5px,#af1c41 12.5px,#ba2708 13.5px,#af1d47 14.5px,#950bc7 15.5px,#7e04f6 16.5px,#6f02ec 17.5px,#6701d9 18.5px,#5b01b8 19.5px,#360047 21.5px,#270027 22.5px,#1c0014 23.5px,#0d0005 25.5px,#010000 32.5px,#000000 109.5px,#555555 110.5px)"></i><i style="background:linear-gradient(90deg,#8205fe 0.5px,#7f04ff 10.5px,#8305fb 11.5px,#8d08eb 12.5px,#9b0eae 13.5px,#af1d41 14.5px,#b9260d 15.5px,#a61672 16.5px,#8a07e8 17.5px,#7403f2 18.5px,#6901df 19.5px,#5e01c1 20.5px,#4e008f 21.5px,#39004f 22.5px,#290029 23.5px,#1c0014 24.5px,#0d0004 26.5px,#010000 33.5px,#000000 109.5px,#555555 110.5px)"></i><i style="background:linear-gradient(90deg,#8906f8 0.5px,#7e04ff 12.5px,#8205fc 13.5px,#8c07ec 14.5px,#9d0fa3 15.5px,#b3202e 16.5px,#b52225 17.5px,#990eb0 18.5px,#7d04f5 19.5px,#6c02e6 20.5px,#6201ca 21.5px,#52009b 22.5px,#3c0058 23.5px,#2a002c 24.5px,#1d0015 25.5px,#0d0004 27.5px,#010000 33.5px,#000000 109.5px,#555555 110.5px)"></i><i style="background:linear-gradient(90deg,#9d0ea9 0.5px,#9b0eb0 2.5px,#8b07f3 7.5px,#7f04ff 13.5px,#8205fc 15.5px,#8e08e6 16.5px,#a21386 17.5px,#b72418 18.5px,#a91962 19.5px,#8807e6 20.5px,#7102ed 21.5px,#6501d3 22.5px,#5600a6 23.5px,#400063 24.5px,#2b002f 25.5px,#1d0016 26.5px,#0d0004 28.5px,#010000 34.5px,#000000 109.5px,#555555 110.5px)"></i><i style="background:linear-gradient(90deg,#bb2807 0.5px,#b8250f 3.5px,#b62218 4.5px,#b21e2a 5.5px,#ad1946 6.5px,#a6146e 7.5px,#950bcc 9.5px,#8e08ea 10.5px,#8906f7 11.5px,#7e04ff 16.5px,#8305fa 17.5px,#930ad4 18.5px,#ac1b54 19.5px,#b52225 20.5px,#970db5 21.5px,#7803f2 22.5px,#6801db 23.5px,#5a01b2 24.5px,#43006e 25.5px,#2d0033 26.5px,#1e0017 27.5px,#0c0004 29.5px,#010000 35.5px,#000000 109.5px,#555555 110.5px)"></i><i style="background:linear-gradient(90deg,#d14d00 0.5px,#ca4000 5.5px,#bd2b03 8.5px,#b62319 9.5px,#ad1a45 10.5px,#960bca 12.5px,#8c07ee 13.5px,#8405fd 15.5px,#7f04ff 18.5px,#8706f5 19.5px,#9c0fa7 20.5px,#b42226 21.5px,#a7176e 22.5px,#8206ec 23.5px,#6c02e4 24.5px,#5d01bd 25.5px,#2f0038 27.5px,#1f0018 28.5px,#130009 29.5px,#030000 33.5px,#000000 109.5px,#555555 110.5px)"></i><i style="background:linear-gradient(90deg,#d55800 0.5px,#d85e00 6.5px,#d35300 8.5px,#c13100 11.5px,#b72515 12.5px,#ab194f 13.5px,#9d0fa5 14.5px,#9009e2 15.5px,#8806f8 16.5px,#8004fe 20.5px,#8e08e2 21.5px,#a91962 22.5px,#b22033 23.5px,#8f0aca 24.5px,#7102ec 25.5px,#6101c9 26.5px,#4c0089 27.5px,#32003f 28.5px,#1f0019 29.5px,#130009 30.5px,#040000 33.5px,#000000 109.5px,#555555 110.5px)"></i><i style="background:linear-gradient(90deg,#c02f00 0.5px,#c63900 5.5px,#d85e00 10.5px,#d65a00 11.5px,#be2d04 14.5px,#b21f30 15.5px,#a1128a 16.5px,#9209db 17.5px,#8806f8 18.5px,#7e04ff 21.5px,#8405f8 22.5px,#9a0ead 23.5px,#b4212b 24.5px,#9f1390 25.5px,#7904f0 26.5px,#6501d3 27.5px,#510098 28.5px,#350047 29.5px,#20001a 30.5px,#130009 31.5px,#030000 34.5px,#000000 109.5px,#555555 110.5px)"></i><i style="background:linear-gradient(90deg,#a81563 0.5px,#a9165e 2.5px,#af1b35 5.5px,#bb2904 8.5px,#cd4600 11.5px,#d75d00 13.5px,#d55800 14.5px,#c33300 16.5px,#b52223 17.5px,#9109dc 19.5px,#8706f9 20.5px,#7f04fe 23.5px,#8d08e3 24.5px,#ab1a58 25.5px,#ac1c50 26.5px,#8406e4 27.5px,#6a01de 28.5px,#5600a7 29.5px,#390052 30.5px,#21001c 31.5px,#130009 32.5px,#030000 35.5px,#000000 109.5px,#555555 110.5px)"></i><i style="background:linear-gradient(90deg,#950ad8 0.5px,#970bce 4.5px,#9a0dbb 6.5px,#9e0fa8 7.5px,#a2118c 8.5px,#ae1b39 10.5px,#b52117 11.5px,#bd2b03 12.5px,#d55800 15.5px,#d75c00 16.5px,#c53700 18.5px,#b52322 19.5px,#a11288 20.5px,#8f08e4 21.5px,#8605fb 22.5px,#7e04ff 24.5px,#8405f8 25.5px,#9d119f 26.5px,#b22031 27.5px,#910cbf 28.5px,#6f02e7 29.5px,#5b01b5 30.5px,#3e0060 31.5px,#230020 32.5px,#13000a 33.5px,#030000 36.5px,#000000 109.5px,#555555 110.5px)"></i><i style="background:linear-gradient(90deg,#8e08ed 0.5px,#9109e2 7.5px,#940ad8 9.5px,#970bcb 10.5px,#9c0eb2 11.5px,#a31288 12.5px,#ab184d 13.5px,#b4211c 14.5px,#be2c02 15.5px,#d25100 17.5px,#d75c00 18.5px,#d15000 19.5px,#c53700 20.5px,#b4212b 21.5px,#9d109e 22.5px,#8c07ef 23.5px,#8405fc 24.5px,#7f04fe 26.5px,#9009d7 27.5px,#af1d43 28.5px,#a01488 29.5px,#7603ec 30.5px,#5f01c1 31.5px,#270028 33.5px,#16000c 34.5px,#060001 36.5px,#000000 50.5px,#000000 109.5px,#555555 110.5px)"></i><i style="background:linear-gradient(90deg,#9a0cbf 0.5px,#980cc5 3.5px,#8f08ea 8.5px,#9109e5 11.5px,#950ad4 13.5px,#9b0db9 14.5px,#a31286 15.5px,#ae1a3f 16.5px,#b9260d 17.5px,#c43600 18.5px,#d04c00 19.5px,#d65b00 20.5px,#d14f00 21.5px,#c33403 22.5px,#af1d41 23.5px,#970cbf 24.5px,#8806f7 25.5px,#7f04ff 27.5px,#8606f4 28.5px,#a4157b 29.5px,#ab1b55 30.5px,#7f05e3 31.5px,#6301cd 32.5px,#2b0031 34.5px,#18000f 35.5px,#070001 37.5px,#000000 47.5px,#000000 109.5px,#555555 110.5px)"></i><i style="background:linear-gradient(90deg,#ae1a3f 0.5px,#ac1847 3.5px,#a81564 5.5px,#9309db 11.5px,#8e08ec 13.5px,#9209df 15.5px,#960bd0 16.5px,#9d0fa9 17.5px,#b5221b 19.5px,#c23300 20.5px,#cf4b00 21.5px,#d65a00 22.5px,#cf4b00 23.5px,#bf2e0a 24.5px,#a71768 25.5px,#9009de 26.5px,#8505fc 27.5px,#8104fd 29.5px,#960db9 30.5px,#af1e41 31.5px,#8c0ac7 32.5px,#6701d7 33.5px,#4f0092 34.5px,#31003d 35.5px,#1b0013 36.5px,#0f0006 37.5px,#010000 41.5px,#000000 109.5px,#555555 110.5px)"></i><i style="background:linear-gradient(90deg,#cb4300 0.5px,#c43700 5.5px,#bc2b08 7.5px,#b21e2c 9.5px,#ac1949 10.5px,#9c0db4 13.5px,#950bd1 14.5px,#9008e5 15.5px,#8f08eb 16.5px,#940ada 18.5px,#9a0dbb 19.5px,#a51473 20.5px,#b42023 21.5px,#c23301 22.5px,#d04d00 23.5px,#d65900 24.5px,#cb4300 25.5px,#b8261e 26.5px,#9d109d 27.5px,#8a07f3 28.5px,#8205fe 29.5px,#7f04ff 30.5px,#8b08e5 31.5px,#ac1b56 32.5px,#9a1199 33.5px,#6e02e1 34.5px,#5400a2 35.5px,#360049 36.5px,#1e0018 37.5px,#100007 38.5px,#020000 41.5px,#000000 109.5px,#555555 110.5px)"></i><i style="background:linear-gradient(90deg,#e37f00 0.5px,#df7300 5.5px,#d04d00 9.5px,#c33500 11.5px,#bb290d 12.5px,#b21f2a 13.5px,#aa1755 14.5px,#a31289 15.5px,#940ad5 17.5px,#9008e8 18.5px,#8f08e9 19.5px,#9309df 20.5px,#990cc3 21.5px,#a4137a 22.5px,#b42023 23.5px,#c33500 24.5px,#d25100 25.5px,#d45600 26.5px,#c53902 27.5px,#ae1c4a 28.5px,#930ad2 29.5px,#8505fb 30.5px,#7f04ff 31.5px,#8305f9 32.5px,#a11387 33.5px,#a6186b 34.5px,#7604e3 35.5px,#5901b0 36.5px,#3c0059 37.5px,#21001d 38.5px,#120009 39.5px,#030000 42.5px,#000000 109.5px,#555555 110.5px)"></i><i style="background:linear-gradient(90deg,#eeaa00 0.5px,#eca000 5.5px,#e37e00 10.5px,#d25100 13.5px,#bf2f05 15.5px,#b42125 16.5px,#aa1758 17.5px,#a11194 18.5px,#990cc2 19.5px,#9109e2 20.5px,#8f08ea 21.5px,#9209e1 22.5px,#980cc5 23.5px,#a51476 24.5px,#b6231d 25.5px,#c73b00 26.5px,#d45600 27.5px,#d04e00 28.5px,#bd2c12 29.5px,#a0128e 30.5px,#8a07f2 31.5px,#8204fe 32.5px,#8004fe 33.5px,#940cbf 34.5px,#ac1b54 35.5px,#8107d4 36.5px,#5e01be 37.5px,#410069 38.5px,#250024 39.5px,#15000b 40.5px,#060001 42.5px,#000000 58.5px,#000000 109.5px,#555555 110.5px)"></i><i style="background:linear-gradient(90deg,#f2bc00 0.5px,#f3be00 7.5px,#efab00 10.5px,#e27e00 14.5px,#c94000 17.5px,#bd2c0a 18.5px,#b01d34 19.5px,#9c0eb2 21.5px,#9309dc 22.5px,#8f08ea 23.5px,#9209e1 24.5px,#990cc0 25.5px,#a71568 26.5px,#b92711 27.5px,#cc4400 28.5px,#d55700 29.5px,#c94000 30.5px,#b01f42 31.5px,#930ad0 32.5px,#8405fc 33.5px,#7f04ff 34.5px,#8a07e7 35.5px,#a9195b 36.5px,#8f0db7 37.5px,#6301cb 38.5px,#29002c 40.5px,#17000e 41.5px,#070001 43.5px,#000000 55.5px,#000000 109.5px,#555555 110.5px)"></i><i style="background:linear-gradient(90deg,#e99600 0.5px,#eca100 6.5px,#f3bd00 11.5px,#f2b900 13.5px,#e38000 17.5px,#c43701 20.5px,#b62320 21.5px,#9e0fa8 23.5px,#930ad8 24.5px,#8f08ea 25.5px,#9209df 26.5px,#9b0db5 27.5px,#ac194f 28.5px,#bf2f06 29.5px,#d14f00 30.5px,#d25200 31.5px,#be2f10 32.5px,#a01290 33.5px,#8906f4 34.5px,#8004fe 35.5px,#8305f9 36.5px,#a11382 37.5px,#9c138d 38.5px,#6a02d8 39.5px,#2e0037 41.5px,#1a0011 42.5px,#0e0005 43.5px,#010000 47.5px,#000000 109.5px,#555555 110.5px)"></i><i style="background:linear-gradient(90deg,#da6600 0.5px,#de7200 5.5px,#efad00 13.5px,#f3bd00 15.5px,#f2bc00 16.5px,#ec9f00 18.5px,#e17900 20.5px,#ca4100 22.5px,#ba2814 23.5px,#ab1854 24.5px,#9e0fa4 25.5px,#930ad9 26.5px,#8f08e9 27.5px,#930adb 28.5px,#9f0f9f 29.5px,#b21f31 30.5px,#c63a00 31.5px,#d45600 32.5px,#cb4300 33.5px,#af1e48 34.5px,#9009d9 35.5px,#8305fd 36.5px,#8004fe 37.5px,#960eb8 38.5px,#a41669 39.5px,#7404d9 40.5px,#52009c 41.5px,#330044 42.5px,#1d0015 43.5px,#100006 44.5px,#020000 47.5px,#000000 109.5px,#555555 110.5px)"></i><i style="background:linear-gradient(90deg,#c23200 0.5px,#c83d00 6.5px,#d85f00 10.5px,#f2bd00 18.5px,#f2bb00 19.5px,#e48300 22.5px,#cd4700 24.5px,#bc2b10 25.5px,#ab1852 26.5px,#9e0fa7 27.5px,#9209dd 28.5px,#9008e8 29.5px,#960bd1 30.5px,#a4137b 31.5px,#ba2814 32.5px,#ce4900 33.5px,#d35300 34.5px,#bd2e15 35.5px,#9c10a2 36.5px,#8606f9 37.5px,#7f04ff 38.5px,#8b08e0 39.5px,#a81866 40.5px,#8007ca 41.5px,#5801ac 42.5px,#390052 43.5px,#20001a 44.5px,#110008 45.5px,#030000 48.5px,#000000 109.5px,#555555 110.5px)"></i><i style="background:linear-gradient(90deg,#b62105 0.5px,#bd2a00 9.5px,#c83d00 12.5px,#dc6a00 15.5px,#f1b600 20.5px,#f3bd00 21.5px,#f1b500 22.5px,#e68900 24.5px,#ce4a00 26.5px,#bc2b10 27.5px,#aa1759 28.5px,#9c0eb0 29.5px,#9109e2 30.5px,#9109e5 31.5px,#9a0dbd 32.5px,#ac1a4d 33.5px,#c33505 34.5px,#d45400 35.5px,#ca4201 36.5px,#ab1b5c 37.5px,#8c08e8 38.5px,#8104fe 39.5px,#8305f6 40.5px,#a3157f 41.5px,#8d0cb0 42.5px,#5e01bc 43.5px,#3f0062 44.5px,#230020 45.5px,#14000a 46.5px,#030000 49.5px,#000000 109.5px,#555555 110.5px)"></i><i style="background:linear-gradient(90deg,#b31e12 0.5px,#b21e12 8.5px,#ba2600 13.5px,#c93e00 16.5px,#eb9c00 21.5px,#f2bb00 23.5px,#f2ba00 24.5px,#e78d00 26.5px,#ce4a00 28.5px,#ba2916 29.5px,#a81569 30.5px,#990cbf 31.5px,#9008e6 32.5px,#9309dd 33.5px,#a01096 34.5px,#b62421 35.5px,#cd4700 36.5px,#d25100 37.5px,#b92a24 38.5px,#960cbc 39.5px,#8405fc 40.5px,#8004fd 41.5px,#990fa2 42.5px,#9a1193 43.5px,#6501cb 44.5px,#450073 45.5px,#270029 46.5px,#16000d 47.5px,#060001 49.5px,#000000 63.5px,#000000 109.5px,#555555 110.5px)"></i><i style="background:linear-gradient(90deg,#bc2a00 0.5px,#b62204 9.5px,#b21e13 12.5px,#b31f10 14.5px,#b82401 16.5px,#c02f00 18.5px,#d14f00 20.5px,#e99400 23.5px,#f1b700 25.5px,#f2bb00 26.5px,#eea900 27.5px,#dd6e00 29.5px,#cc4600 30.5px,#b72523 31.5px,#a4137f 32.5px,#950bd0 33.5px,#9008e7 34.5px,#970bcb 35.5px,#a9185e 36.5px,#c23407 37.5px,#d35300 38.5px,#c63c08 39.5px,#a3157f 40.5px,#8806f4 41.5px,#7f04ff 42.5px,#8f0ace 43.5px,#a1147a 44.5px,#6e03cf 45.5px,#2c0032 47.5px,#180010 48.5px,#070001 50.5px,#000000 60.5px,#000000 109.5px,#555555 110.5px)"></i><i style="background:linear-gradient(90deg,#d25200 0.5px,#ce4800 5.5px,#b82400 13.5px,#b21e12 16.5px,#b4200c 18.5px,#b72302 19.5px,#c13000 21.5px,#ca4000 22.5px,#e78c00 25.5px,#f1b400 27.5px,#f2bb00 28.5px,#eea900 29.5px,#db6900 31.5px,#c83e02 32.5px,#b11f37 33.5px,#9f109d 34.5px,#9209de 35.5px,#9109e3 36.5px,#9e0fa2 37.5px,#b62426 38.5px,#ce4900 39.5px,#cf4c00 40.5px,#b22240 41.5px,#8f09dc 42.5px,#8104fe 43.5px,#8606ed 44.5px,#a2147b 45.5px,#7b06c6 46.5px,#500095 47.5px,#31003e 48.5px,#1b0013 49.5px,#0f0006 50.5px,#010000 54.5px,#000000 109.5px,#555555 110.5px)"></i><i style="background:linear-gradient(90deg,#e89000 0.5px,#e58600 5.5px,#d85f00 10.5px,#bf2d00 15.5px,#b82400 17.5px,#b31e11 19.5px,#b21e13 20.5px,#b72401 22.5px,#c43600 24.5px,#dc6b00 26.5px,#eb9d00 28.5px,#f0b300 29.5px,#f2ba00 30.5px,#eda700 31.5px,#e58800 32.5px,#d86000 33.5px,#c2350a 34.5px,#ab1955 35.5px,#990dbc 36.5px,#9008e6 37.5px,#960bd0 38.5px,#a91762 39.5px,#c33707 40.5px,#d35300 41.5px,#c03315 42.5px,#9a0fac 43.5px,#8305fc 44.5px,#8104fb 45.5px,#9e1295 46.5px,#870ab3 47.5px,#5701a8 48.5px,#36004b 49.5px,#1e0018 50.5px,#110007 51.5px,#020000 54.5px,#000000 109.5px,#555555 110.5px)"></i><i style="background:linear-gradient(90deg,#f5c700 0.5px,#f3be00 5.5px,#e99300 11.5px,#d75e00 15.5px,#c23300 18.5px,#b92500 20.5px,#b31e11 22.5px,#b31e12 23.5px,#ba2600 25.5px,#c13000 26.5px,#cc4500 27.5px,#e48400 29.5px,#f0b300 31.5px,#f2b900 32.5px,#eca200 33.5px,#e38000 34.5px,#d25400 35.5px,#ba2a1a 36.5px,#a4137e 37.5px,#940ad5 38.5px,#9109e3 39.5px,#9e0fa2 40.5px,#b72623 41.5px,#d04c00 42.5px,#cb4403 43.5px,#a7196f 44.5px,#8806f3 45.5px,#7f04fe 46.5px,#950db5 47.5px,#940f9f 48.5px,#5d01b8 49.5px,#3d005c 50.5px,#22001d 51.5px,#130009 52.5px,#030000 55.5px,#000000 109.5px,#555555 110.5px)"></i><i style="background:linear-gradient(90deg,#f5c700 0.5px,#f7d000 9.5px,#f3c200 12.5px,#e27e00 17.5px,#c33500 21.5px,#b82401 23.5px,#b21e12 25.5px,#b82401 27.5px,#bf2d00 28.5px,#ca4100 29.5px,#e48300 31.5px,#f1b500 33.5px,#f1b700 34.5px,#ea9a00 35.5px,#df7400 36.5px,#cb4501 37.5px,#b11f3a 38.5px,#9c0eac 39.5px,#9109e4 40.5px,#960bcf 41.5px,#ab1959 42.5px,#c73d04 43.5px,#d14f00 44.5px,#b52636 45.5px,#9009d7 46.5px,#8004fe 47.5px,#8b09d8 48.5px,#9b118c 49.5px,#6702c5 50.5px,#42006b 51.5px,#260025 52.5px,#15000b 53.5px,#060001 55.5px,#000000 71.5px,#000000 109.5px,#555555 110.5px)"></i><i style="background:linear-gradient(90deg,#eda500 0.5px,#f0b100 6.5px,#f7d000 14.5px,#f5c700 16.5px,#e48500 20.5px,#cb4200 23.5px,#bb2800 25.5px,#b62204 26.5px,#b31e10 27.5px,#b31f10 28.5px,#b72303 29.5px,#bd2b00 30.5px,#c93f00 31.5px,#e58500 33.5px,#f1b800 35.5px,#f0b200 36.5px,#e89000 37.5px,#d96500 38.5px,#c1340e 39.5px,#a8166a 40.5px,#950bcf 41.5px,#9109e3 42.5px,#9f1098 43.5px,#bb2b1a 44.5px,#d15000 45.5px,#c33811 46.5px,#9a10a9 47.5px,#8305fd 48.5px,#8406f2 49.5px,#9d1190 50.5px,#7205c3 51.5px,#48007d 52.5px,#2a002d 53.5px,#17000e 54.5px,#070001 56.5px,#000000 68.5px,#000000 109.5px,#555555 110.5px)"></i><i style="background:linear-gradient(90deg,#d65a00 0.5px,#da6500 5.5px,#e58700 9.5px,#f1b800 14.5px,#f6d000 18.5px,#f6cd00 19.5px,#efae00 21.5px,#dc6b00 24.5px,#c73b00 26.5px,#b82401 28.5px,#b41f0e 29.5px,#b31e11 30.5px,#bd2b00 32.5px,#c94000 33.5px,#e68a00 35.5px,#eda600 36.5px,#f2b900 37.5px,#eea900 38.5px,#e48200 39.5px,#d15100 40.5px,#b5242d 41.5px,#9e0fa1 42.5px,#9109e3 43.5px,#970bc8 44.5px,#ae1d48 45.5px,#cb4500 46.5px,#cd4801 47.5px,#a8196e 48.5px,#8706f4 49.5px,#8004fc 50.5px,#9a10a1 51.5px,#7f08b9 52.5px,#4e008f 53.5px,#2f0038 54.5px,#1a0012 55.5px,#0e0005 56.5px,#010000 60.5px,#000000 109.5px,#555555 110.5px)"></i><i style="background:linear-gradient(90deg,#bf2d00 0.5px,#c53700 7.5px,#d25000 11.5px,#e17a00 14.5px,#efac00 17.5px,#f6cf00 21.5px,#f6ce00 22.5px,#f3c100 23.5px,#e27b00 26.5px,#cb4400 28.5px,#c03000 29.5px,#b92501 30.5px,#b31e10 32.5px,#be2c00 34.5px,#cb4300 35.5px,#e89000 37.5px,#efad00 38.5px,#f1b800 39.5px,#eb9c00 40.5px,#dd7000 41.5px,#c53b09 42.5px,#a91861 43.5px,#950bce 44.5px,#9209e0 45.5px,#a31385 46.5px,#c1340d 47.5px,#d14f00 48.5px,#b62737 49.5px,#8e09db 50.5px,#8004fe 51.5px,#920bc1 52.5px,#8c0caa 53.5px,#5501a3 54.5px,#340045 55.5px,#1d0016 56.5px,#100006 57.5px,#020000 60.5px,#000000 109.5px,#555555 110.5px)"></i><i style="background:linear-gradient(90deg,#b72300 0.5px,#ba2600 10.5px,#c63900 14.5px,#d86100 17.5px,#eca200 20.5px,#f5c700 23.5px,#f6cf00 24.5px,#f6cc00 25.5px,#f2bb00 26.5px,#dc6a00 29.5px,#c33400 31.5px,#ba2600 32.5px,#b31e10 34.5px,#bf2e00 36.5px,#ce4a00 37.5px,#ea9800 39.5px,#f1b400 40.5px,#f0b100 41.5px,#e68c00 42.5px,#d45800 43.5px,#b72729 44.5px,#9e0fa1 45.5px,#9109e3 46.5px,#990db9 47.5px,#b52430 48.5px,#cf4c00 49.5px,#c33913 50.5px,#980fb2 51.5px,#8104fd 52.5px,#8a08db 53.5px,#940ea1 54.5px,#5e01b6 55.5px,#3a0054 56.5px,#20001b 57.5px,#120008 58.5px,#030000 61.5px,#000000 109.5px,#555555 110.5px)"></i><i style="background:linear-gradient(90deg,#c02f00 0.5px,#b92500 15.5px,#c53700 18.5px,#d35400 20.5px,#f0b100 24.5px,#f6cf00 27.5px,#f4c600 28.5px,#df7300 31.5px,#c43600 33.5px,#ba2700 34.5px,#b31e10 36.5px,#b72304 37.5px,#c13200 38.5px,#d25300 39.5px,#e27f00 40.5px,#eca200 41.5px,#f1b800 42.5px,#eda500 43.5px,#e07700 44.5px,#c73e09 45.5px,#a91863 46.5px,#950ad2 47.5px,#930ad9 48.5px,#a91866 49.5px,#c83f05 50.5px,#cc4702 51.5px,#a5187a 52.5px,#8505f8 53.5px,#8305f2 54.5px,#990f9e 55.5px,#6803bb 56.5px,#400064 57.5px,#230020 58.5px,#14000a 59.5px,#030000 62.5px,#000000 109.5px,#555555 110.5px)"></i><i style="background:linear-gradient(90deg,#d24f00 0.5px,#cc4400 7.5px,#b72300 17.5px,#bc2900 20.5px,#c83d00 22.5px,#db6800 24.5px,#eca200 26.5px,#f4c200 28.5px,#f6ce00 29.5px,#f5cb00 30.5px,#f1b600 31.5px,#d35400 34.5px,#c43700 35.5px,#ba2700 36.5px,#b4200c 37.5px,#b31f0f 38.5px,#b92502 39.5px,#c53800 40.5px,#e68c00 42.5px,#efad00 43.5px,#f1b500 44.5px,#e89100 45.5px,#d55c00 46.5px,#b7262b 47.5px,#9c0ea9 48.5px,#9109e3 49.5px,#9e109e 50.5px,#bd2f18 51.5px,#d04e00 52.5px,#b32542 53.5px,#8b08e6 54.5px,#8004fc 55.5px,#970dad 56.5px,#7506b9 57.5px,#460076 58.5px,#280029 59.5px,#16000d 60.5px,#060001 62.5px,#000000 76.5px,#000000 109.5px,#555555 110.5px)"></i><i style="background:linear-gradient(90deg,#dd6c00 0.5px,#d96100 9.5px,#bb2700 19.5px,#b72400 22.5px,#c02f00 24.5px,#d25100 26.5px,#efac00 29.5px,#f5ca00 31.5px,#f6cd00 32.5px,#f2bc00 33.5px,#d35500 36.5px,#c43600 37.5px,#b92601 38.5px,#b41f0d 39.5px,#b4200d 40.5px,#bb2800 41.5px,#ca4200 42.5px,#ea9900 44.5px,#f1b600 45.5px,#eea800 46.5px,#e07900 47.5px,#c63e0a 48.5px,#a7166e 49.5px,#930ad8 50.5px,#960bca 51.5px,#b12041 52.5px,#ce4a00 53.5px,#c1361b 54.5px,#940cc2 55.5px,#8004fe 56.5px,#900ac8 57.5px,#8108b5 58.5px,#4c0089 59.5px,#2c0032 60.5px,#190010 61.5px,#070001 63.5px,#000000 73.5px,#000000 109.5px,#555555 110.5px)"></i><i style="background:linear-gradient(90deg,#e89d55 0.5px,#e79855 14.5px,#d16f55 22.5px,#cf6d55 25.5px,#d87955 27.5px,#e79b55 29.5px,#f4c955 31.5px,#f9dd55 33.5px,#f9df55 34.5px,#e89e55 37.5px,#dd8355 38.5px,#d37255 39.5px,#ce6c58 40.5px,#cc6963 41.5px,#cf6c57 42.5px,#d67755 43.5px,#efb355 45.5px,#f5cb55 46.5px,#f5cd55 47.5px,#eeaf55 48.5px,#de8655 49.5px,#c8668b 50.5px,#b85ce2 51.5px,#b75be7 52.5px,#c8678a 53.5px,#de8655 54.5px,#d97d5d 55.5px,#b85dd4 56.5px,#a958fe 57.5px,#b65dd7 58.5px,#ac5bd4 59.5px,#8755af 60.5px,#725575 61.5px,#65555f 62.5px,#575555 65.5px,#555555 109.5px,#8e8e8e 110.5px)"></i></div>
<div class="cb" style="left:658.6px;top:15.2px;height:104.3px;background:linear-gradient(180deg,#ffff00 0.0%,#f9db00 5.0%,#f2ba00 10.0%,#eb9d00 15.0%,#e48300 20.0%,#dd6c00 25.0%,#d55700 30.0%,#ce4600 35.0%,#c63700 40.0%,#bd2a00 45.0%,#b42000 50.0%,#ab174f 55.0%,#a11096 60.0%,#970bce 65.0%,#8c07f3 70.0%,#8004ff 75.0%,#7202f3 80.0%,#6301ce 85.0%,#510096 90.0%,#39004f 95.0%,#000000 100.0%)"></div>
<div class="cb" style="left:658.6px;top:125.5px;height:104.5px;background:linear-gradient(180deg,#ffff00 0.0%,#f9db00 5.0%,#f2ba00 10.0%,#eb9d00 15.0%,#e48300 20.0%,#dd6c00 25.0%,#d55700 30.0%,#ce4600 35.0%,#c63700 40.0%,#bd2a00 45.0%,#b42000 50.0%,#ab174f 55.0%,#a11096 60.0%,#970bce 65.0%,#8c07f3 70.0%,#8004ff 75.0%,#7202f3 80.0%,#6301ce 85.0%,#510096 90.0%,#39004f 95.0%,#000000 100.0%)"></div>
<div class="cb" style="left:658.6px;top:236.5px;height:102.2px;background:linear-gradient(180deg,#ffff00 0.0%,#f9db00 5.0%,#f2ba00 10.0%,#eb9d00 15.0%,#e48300 20.0%,#dd6c00 25.0%,#d55700 30.0%,#ce4600 35.0%,#c63700 40.0%,#bd2a00 45.0%,#b42000 50.0%,#ab174f 55.0%,#a11096 60.0%,#970bce 65.0%,#8c07f3 70.0%,#8004ff 75.0%,#7202f3 80.0%,#6301ce 85.0%,#510096 90.0%,#39004f 95.0%,#000000 100.0%)"></div>
<svg width="685" height="384" viewBox="0 0 685 384" font-family='"Liberation Sans", sans-serif' fill="#1e1e1e">
<text x="0.6" y="13.6" font-size="16.5" font-weight="bold">a</text>
<text x="70.5" y="24.2" font-size="8.4" text-anchor="middle" fill="#111">Bilayer</text>
<text x="69.3" y="33.4" font-size="8.6" text-anchor="middle" fill="#111">graphene</text>
<defs>
<pattern id="hexD" width="6.4" height="7.2" patternUnits="userSpaceOnUse"><rect width="6.4" height="7.2" fill="#444"/><ellipse cx="3.2" cy="1.8" rx="2.8" ry="1.55" fill="#b0b0b0"/><ellipse cx="0" cy="5.4" rx="2.8" ry="1.55" fill="#b0b0b0"/><ellipse cx="6.4" cy="5.4" rx="2.8" ry="1.55" fill="#b0b0b0"/><ellipse cx="3.2" cy="1.8" rx="2" ry="1" fill="#f2f2f2"/><ellipse cx="0" cy="5.4" rx="2" ry="1" fill="#f2f2f2"/><ellipse cx="6.4" cy="5.4" rx="2" ry="1" fill="#f2f2f2"/></pattern>
<pattern id="hexM" width="6.4" height="7.2" patternUnits="userSpaceOnUse"><rect width="6.4" height="7.2" fill="#4e4e4e"/><ellipse cx="3.2" cy="1.8" rx="2.9" ry="1.65" fill="#c0c0c0"/><ellipse cx="0" cy="5.4" rx="2.9" ry="1.65" fill="#c0c0c0"/><ellipse cx="6.4" cy="5.4" rx="2.9" ry="1.65" fill="#c0c0c0"/><ellipse cx="3.2" cy="1.8" rx="2.2" ry="1.15" fill="#fafafa"/><ellipse cx="0" cy="5.4" rx="2.2" ry="1.15" fill="#fafafa"/><ellipse cx="6.4" cy="5.4" rx="2.2" ry="1.15" fill="#fafafa"/></pattern>
<pattern id="hexL" width="6.4" height="7.2" patternUnits="userSpaceOnUse" patternTransform="translate(1.5 1.8)"><rect width="6.4" height="7.2" fill="#9e9e9e"/><ellipse cx="3.2" cy="1.8" rx="2.6" ry="1.45" fill="#d4d4d4"/><ellipse cx="0" cy="5.4" rx="2.6" ry="1.45" fill="#d4d4d4"/><ellipse cx="6.4" cy="5.4" rx="2.6" ry="1.45" fill="#d4d4d4"/><ellipse cx="3.2" cy="1.8" rx="2" ry="1.05" fill="#fcfcfc"/><ellipse cx="0" cy="5.4" rx="2" ry="1.05" fill="#fcfcfc"/><ellipse cx="6.4" cy="5.4" rx="2" ry="1.05" fill="#fcfcfc"/></pattern>
<linearGradient id="midG" gradientUnits="userSpaceOnUse" x1="60" y1="0" x2="200" y2="0">
<stop offset="0" stop-color="#fff" stop-opacity="0"/>
<stop offset="0.45" stop-color="#fff" stop-opacity="1"/>
<stop offset="0.75" stop-color="#fff" stop-opacity="1"/>
<stop offset="1" stop-color="#fff" stop-opacity="0"/>
</linearGradient>
<mask id="midM"><rect x="0" y="50" width="240" height="160" fill="url(#midG)"/></mask>
</defs>
<path d="M30.4 65.4L40.8 70.6L61.7 77.9L80.4 86.3L100 94L116.4 102.3L130 106L140 105.2L152.9 109.5L171 119.2L190 128.5L210 138L226.4 146.6L226.3 199.2L208 191L191 184.5L174 177.5L158 169L144.6 161.6L127.7 154.8L110.8 146.4L93.8 139.6L76.9 133.7L63.4 128.6L45.8 122L29.2 113.8Z" fill="url(#hexL)"/>
<path d="M30.4 65.4L40.8 70.6L61.7 77.9L80.4 86.3L100 94L116.4 102.3L130 106L140 105.2L152.9 109.5L171 119.2L190 128.5L210 138L226.4 146.6L226.3 197L208 189L191 182.5L174 175.5L158 167L144.6 159.5L128 151.5L115.8 137.9L107.4 135.4L93.8 133.7L76.9 130.3L63.4 126.9L45 118L29.2 111.7Z" fill="url(#hexD)"/>
<path d="M30.4 65.4L40.8 70.6L61.7 77.9L80.4 86.3L100 94L116.4 102.3L130 106L140 105.2L152.9 109.5L171 119.2L190 128.5L210 138L226.4 146.6L226.3 197L208 189L191 182.5L174 175.5L158 167L144.6 159.5L128 151.5L115.8 137.9L107.4 135.4L93.8 133.7L76.9 130.3L63.4 126.9L45 118L29.2 111.7Z" fill="url(#hexM)" mask="url(#midM)"/>

<path d="M102.3 70.1L82.3 86.6M155.6 70.1L210.6 142" stroke="#444" stroke-width="0.7" fill="none"/>
<rect x="102.4" y="17.0" width="53.2" height="53.1" fill="none" stroke="#888" stroke-width="0.9"/>
<path d="M200.95 0.00L200.93 2.50L200.89 5.00L200.82 7.50L200.73 10.00L200.62 12.50L200.49 15.00L200.35 17.50L200.20 20.00L199.97 22.50L199.63 25.00L199.20 27.50L198.73 30.00L198.25 32.50L197.80 35.00L197.38 37.50L196.96 40.00L196.50 42.50L195.99 45.00L195.41 47.50L194.77 50.00L194.09 52.50L193.37 55.00L192.59 57.50L191.70 60.00L190.63 62.50L189.40 65.00L189.06 65.54L188.68 66.08L188.22 66.62L187.63 67.16L186.20 67.70L184.77 67.16L184.18 66.62L183.72 66.08L183.34 65.54L183.00 65.00L181.77 62.50L180.70 60.00L179.81 57.50L179.03 55.00L178.31 52.50L177.63 50.00L176.99 47.50L176.41 45.00L175.90 42.50L175.44 40.00L175.02 37.50L174.60 35.00L174.15 32.50L173.67 30.00L173.20 27.50L172.77 25.00L172.43 22.50L172.20 20.00L172.05 17.50L171.91 15.00L171.78 12.50L171.67 10.00L171.58 7.50L171.51 5.00L171.47 2.50L171.45 0.00Z" fill="#a8a8a8"/>
<text x="186.8" y="16.2" font-size="8.6" text-anchor="middle" fill="#1a1a1a">AFM</text>
<text x="187.0" y="24.9" font-size="8.6" text-anchor="middle" fill="#1a1a1a">tip</text>
<path d="M186.3 37.6V52" stroke="#111" stroke-width="0.9"/><path d="M184.6 51L188 51L186.3 56Z" fill="#111"/>
<path d="M94 26.8L100 29.9L113.5 36.6C116 37.8 118 37.6 121 37.5L128.5 37.4C132.5 37.6 135 39.5 137.5 43.5C139.5 47 141 50.2 144 52.3C146 53.8 148 54.4 150 55.2L161.7 59.3L173.4 64.5C179 67 182 67.9 185.3 67.9C189 67.9 192 67.5 196.7 66.4L208.4 62.6L225.9 56.1" stroke="#1a1a1a" stroke-width="1.05" fill="none"/>
<path d="M93 30.2L120.1 43.9L150 58.7L161.7 63.6L173.4 68.7C179 71 182 71.7 185.3 71.7C189 71.7 192 71.3 196.7 70.3L208.4 66.7L227.1 60.1" stroke="#1a1a1a" stroke-width="1.05" fill="none"/>
<path d="M174 59.4L159.5 54.3" stroke="#222" stroke-width="0.8"/><path d="M156.6 53.3L161 53.1L160 56.4Z" fill="#222"/>
<path d="M157.6 67.4L171.5 73.4" stroke="#222" stroke-width="0.8"/><path d="M174.6 74.7L170.3 75.2L171.6 71.9Z" fill="#222"/>
<path d="M116 31.1H136.5C138.5 31.1 139.5 32.5 141 34.5L149.8 46.2" stroke="#333" stroke-width="0.75" fill="none" stroke-dasharray="2.6 2"/>
<path d="M113.6 31.3L116.4 28.8M148.6 47L151.2 44.9" stroke="#333" stroke-width="0.75" fill="none"/>
<path d="M107.5 47L141.8 62.3" stroke="#333" stroke-width="0.75" fill="none" stroke-dasharray="2.6 2"/>
<path d="M105.4 47L108 44.6M140.8 63L143.4 60.8" stroke="#333" stroke-width="0.75" fill="none"/>
<text x="114.2" y="63.3" font-size="8.4" font-style="italic" fill="#111">W<tspan font-style="normal" font-size="5.6" dy="2.6">1</tspan></text>
<text x="138.8" y="29.3" font-size="8.4" font-style="italic" fill="#111">W<tspan font-style="normal" font-size="5.6" dy="2.6">2</tspan></text>
<text x="23.5" y="140.8" font-size="8.1" fill="#111">AB stacking</text>
<text x="103" y="164" font-size="8.3" text-anchor="middle" fill="#111">Decoupled</text>
<text x="103" y="173.6" font-size="8.3" text-anchor="middle" fill="#111">monolayers</text>
<text x="141.2" y="190.7" font-size="8" fill="#111">AB stacking</text>
<rect x="31.20" y="219.40" width="201.00" height="130.00" fill="none" stroke="#222" stroke-width="1"/>
<path d="M31.20 349.40v-2M31.20 219.40v2M59.91 349.40v-2M59.91 219.40v2M88.63 349.40v-2M88.63 219.40v2M117.34 349.40v-2M117.34 219.40v2M146.06 349.40v-2M146.06 219.40v2M174.77 349.40v-2M174.77 219.40v2M203.49 349.40v-2M203.49 219.40v2M232.20 349.40v-2M232.20 219.40v2M31.20 349.40h2M232.20 349.40h-2M31.20 327.73h2M232.20 327.73h-2M31.20 306.07h2M232.20 306.07h-2M31.20 284.40h2M232.20 284.40h-2M31.20 262.73h2M232.20 262.73h-2M31.20 241.07h2M232.20 241.07h-2M31.20 219.40h2M232.20 219.40h-2" stroke="#222" stroke-width="0.8" fill="none"/>
<text x="26.30" y="353.16" font-size="10.50" text-anchor="end">0</text>
<text x="26.30" y="331.49" font-size="10.50" text-anchor="end">1</text>
<text x="26.30" y="309.83" font-size="10.50" text-anchor="end">2</text>
<text x="26.30" y="288.16" font-size="10.50" text-anchor="end">3</text>
<text x="26.30" y="266.49" font-size="10.50" text-anchor="end">4</text>
<text x="26.30" y="244.83" font-size="10.50" text-anchor="end">5</text>
<text x="26.30" y="223.16" font-size="10.50" text-anchor="end">6</text>
<text x="31.20" y="362.66" font-size="10.50" text-anchor="middle">0</text>
<text x="59.91" y="362.66" font-size="10.50" text-anchor="middle">2</text>
<text x="88.63" y="362.66" font-size="10.50" text-anchor="middle">4</text>
<text x="117.34" y="362.66" font-size="10.50" text-anchor="middle">6</text>
<text x="146.06" y="362.66" font-size="10.50" text-anchor="middle">8</text>
<text x="174.77" y="362.66" font-size="10.50" text-anchor="middle">10</text>
<text x="203.49" y="362.66" font-size="10.50" text-anchor="middle">12</text>
<text x="232.20" y="362.66" font-size="10.50" text-anchor="middle">14</text>
<text x="144.6" y="379.3" font-size="11.3" text-anchor="middle">Path difference Δ<tspan font-style="italic">W</tspan> (<tspan font-style="italic">a</tspan>)</text>
<text transform="translate(11.4,286.8) rotate(-90)" font-size="10" letter-spacing="0.45" text-anchor="middle">Δ<tspan font-style="italic">R</tspan>/<tspan font-style="italic">R</tspan><tspan font-size="7.5" dy="2.2">0</tspan><tspan dy="-2.2"> (%)</tspan></text>
<text x="0.6" y="218.7" font-size="17" font-weight="bold">c</text>
<path d="M31.20 349.40C32.40 348.14 35.99 344.63 38.38 341.82C40.77 339.00 43.16 335.75 45.56 332.50C47.95 329.25 50.70 324.92 52.74 322.32C54.77 319.72 55.97 317.26 57.76 316.90C59.56 316.54 61.47 317.08 63.50 320.15C65.54 323.22 68.05 331.52 69.96 335.32C71.88 339.11 73.31 343.80 74.99 342.90C76.66 342.00 78.22 336.76 80.01 329.90C81.81 323.04 83.84 311.12 85.76 301.73C87.67 292.34 89.47 280.32 91.50 273.57C93.53 266.81 95.81 261.40 97.96 261.22C100.11 261.04 102.15 265.01 104.42 272.48C106.69 279.96 109.45 297.04 111.60 306.07C113.75 315.09 115.43 326.65 117.34 326.65C119.26 326.65 120.93 317.44 123.09 306.07C125.24 294.69 127.75 271.11 130.26 258.40C132.78 245.69 135.53 231.61 138.16 229.80C140.79 227.99 143.54 237.74 146.06 247.57C148.57 257.39 150.84 277.54 153.24 288.73C155.63 299.93 158.02 315.09 160.41 314.73C162.81 314.37 165.20 298.12 167.59 286.57C169.99 275.01 172.50 254.79 174.77 245.40C177.04 236.01 178.84 229.51 181.23 230.23C183.62 230.96 186.62 240.34 189.13 249.73C191.64 259.12 193.91 276.64 196.31 286.57C198.70 296.50 201.09 309.32 203.49 309.32C205.88 309.32 208.27 295.77 210.66 286.57C213.06 277.36 215.69 261.36 217.84 254.07C220.00 246.77 222.15 244.53 223.59 242.80C225.02 241.07 225.98 243.52 226.46 243.67" stroke="#222" stroke-width="0.9" fill="none" stroke-dasharray="7.5 5.5"/>
<circle cx="31.20" cy="349.40" r="2.55" fill="#111"/>
<circle cx="45.56" cy="331.42" r="2.55" fill="#111"/>
<circle cx="59.91" cy="318.20" r="2.55" fill="#111"/>
<circle cx="74.27" cy="341.38" r="2.55" fill="#111"/>
<circle cx="88.63" cy="284.40" r="2.55" fill="#111"/>
<circle cx="102.99" cy="268.58" r="2.55" fill="#111"/>
<circle cx="117.34" cy="326.87" r="2.55" fill="#111"/>
<circle cx="131.70" cy="249.30" r="2.55" fill="#111"/>
<circle cx="146.06" cy="245.62" r="2.55" fill="#111"/>
<circle cx="160.41" cy="315.38" r="2.55" fill="#111"/>
<circle cx="174.77" cy="245.18" r="2.55" fill="#111"/>
<circle cx="189.13" cy="246.92" r="2.55" fill="#111"/>
<circle cx="203.49" cy="309.10" r="2.55" fill="#111"/>
<circle cx="217.84" cy="251.68" r="2.55" fill="#111"/>
<circle cx="232.20" cy="253.85" r="2.55" fill="#111"/>
<text x="300.80" y="18.92" font-size="10.80" text-anchor="end">0.1</text>
<text x="300.80" y="47.77" font-size="10.80" text-anchor="end">0.05</text>
<text x="300.80" y="72.87" font-size="10.80" text-anchor="end">0</text>
<text x="300.80" y="98.17" font-size="10.80" text-anchor="end">−0.05</text>
<text x="300.80" y="119.37" font-size="10.80" text-anchor="end">−0.1</text>
<text x="300.80" y="129.57" font-size="10.80" text-anchor="end">0.1</text>
<text x="300.80" y="154.37" font-size="10.80" text-anchor="end">0.05</text>
<text x="300.80" y="179.87" font-size="10.80" text-anchor="end">0</text>
<text x="300.80" y="205.37" font-size="10.80" text-anchor="end">−0.05</text>
<text x="300.80" y="230.47" font-size="10.80" text-anchor="end">−0.1</text>
<text x="300.80" y="239.57" font-size="10.80" text-anchor="end">0.1</text>
<text x="300.80" y="265.87" font-size="10.80" text-anchor="end">0.05</text>
<text x="300.80" y="292.47" font-size="10.80" text-anchor="end">0</text>
<text x="300.80" y="319.27" font-size="10.80" text-anchor="end">−0.05</text>
<text x="300.80" y="345.87" font-size="10.80" text-anchor="end">−0.1</text>
<text x="669.00" y="19.77" font-size="10.80" text-anchor="start">2</text>
<text x="669.00" y="43.97" font-size="10.80" text-anchor="start">1.5</text>
<text x="669.00" y="70.07" font-size="10.80" text-anchor="start">1</text>
<text x="669.00" y="97.27" font-size="10.80" text-anchor="start">0.5</text>
<text x="669.00" y="119.87" font-size="10.80" text-anchor="start">0</text>
<text x="669.00" y="129.57" font-size="10.80" text-anchor="start">2</text>
<text x="669.00" y="154.37" font-size="10.80" text-anchor="start">1.5</text>
<text x="669.00" y="179.97" font-size="10.80" text-anchor="start">1</text>
<text x="669.00" y="206.27" font-size="10.80" text-anchor="start">0.5</text>
<text x="669.00" y="229.87" font-size="10.80" text-anchor="start">0</text>
<text x="669.00" y="240.77" font-size="10.80" text-anchor="start">2</text>
<text x="669.00" y="265.77" font-size="10.80" text-anchor="start">1.5</text>
<text x="669.00" y="290.67" font-size="10.80" text-anchor="start">1</text>
<text x="669.00" y="316.47" font-size="10.80" text-anchor="start">0.5</text>
<text x="669.00" y="340.67" font-size="10.80" text-anchor="start">0</text>
<text x="308.00" y="353.17" font-size="10.80" text-anchor="middle">0</text>
<text x="361.00" y="353.17" font-size="10.80" text-anchor="middle">0.05</text>
<text x="416.30" y="353.17" font-size="10.80" text-anchor="middle">0.10</text>
<text x="480.00" y="353.17" font-size="10.80" text-anchor="middle">0.05</text>
<text x="535.00" y="353.17" font-size="10.80" text-anchor="middle">0.10</text>
<text x="598.60" y="353.17" font-size="10.80" text-anchor="middle">0.05</text>
<text x="649.60" y="353.17" font-size="10.80" text-anchor="middle">0.1</text>
<text x="360.00" y="369.6" font-size="10.5" text-anchor="middle"><tspan font-style="italic">k</tspan><tspan font-size="7" dy="2.2">||</tspan><tspan dy="-2.2">(</tspan><tspan font-style="italic">π</tspan>/<tspan font-style="italic">a</tspan>)</text>
<text x="479.50" y="369.6" font-size="10.5" text-anchor="middle"><tspan font-style="italic">k</tspan><tspan font-size="7" dy="2.2">||</tspan><tspan dy="-2.2">(</tspan><tspan font-style="italic">π</tspan>/<tspan font-style="italic">a</tspan>)</text>
<text x="598.30" y="369.6" font-size="10.5" text-anchor="middle"><tspan font-style="italic">k</tspan><tspan font-size="7" dy="2.2">||</tspan><tspan dy="-2.2">(</tspan><tspan font-style="italic">π</tspan>/<tspan font-style="italic">a</tspan>)</text>
<text transform="translate(269.2,67.30) rotate(-90)" font-size="11" text-anchor="middle"><tspan font-style="italic">E</tspan> (eV)</text>
<text transform="translate(269.2,177.75) rotate(-90)" font-size="11" text-anchor="middle"><tspan font-style="italic">E</tspan> (eV)</text>
<text transform="translate(269.2,287.60) rotate(-90)" font-size="11" text-anchor="middle"><tspan font-style="italic">E</tspan> (eV)</text>
<text class="w" x="415.00" y="40.30" font-size="10.2" text-anchor="end" fill="#e8e8e8">Δ<tspan font-style="italic">W</tspan> = 0</text>
<text class="w" x="531.50" y="40.30" font-size="10.2" text-anchor="end" fill="#e8e8e8">Δ<tspan font-style="italic">W</tspan> = <tspan font-style="italic">a</tspan></text>
<text class="w" x="650.20" y="40.30" font-size="10.2" text-anchor="end" fill="#e8e8e8">Δ<tspan font-style="italic">W</tspan> = 2<tspan font-style="italic">a</tspan></text>
<text class="w" x="415.20" y="146.00" font-size="10.2" text-anchor="end" fill="#e8e8e8">Δ<tspan font-style="italic">W</tspan> = 3<tspan font-style="italic">a</tspan></text>
<text class="w" x="531.50" y="146.00" font-size="10.2" text-anchor="end" fill="#e8e8e8">Δ<tspan font-style="italic">W</tspan> = 4<tspan font-style="italic">a</tspan></text>
<text class="w" x="650.20" y="146.00" font-size="10.2" text-anchor="end" fill="#e8e8e8">Δ<tspan font-style="italic">W</tspan> = 5<tspan font-style="italic">a</tspan></text>
<text class="w" x="415.30" y="253.60" font-size="10.2" text-anchor="end" fill="#e8e8e8">Δ<tspan font-style="italic">W</tspan> = 12<tspan font-style="italic">a</tspan></text>
<text class="w" x="531.70" y="253.60" font-size="10.2" text-anchor="end" fill="#e8e8e8">Δ<tspan font-style="italic">W</tspan> = 13<tspan font-style="italic">a</tspan></text>
<text class="w" x="650.90" y="253.60" font-size="10.2" text-anchor="end" fill="#e8e8e8">Δ<tspan font-style="italic">W</tspan> = 14<tspan font-style="italic">a</tspan></text>
<text x="257.3" y="13.8" font-size="16" font-weight="bold">b</text>
<path d="M431.98 67.35L434.21 66.90L436.44 66.25L438.67 65.49L440.90 64.65L443.13 63.74L445.37 62.77L447.60 61.76L449.83 60.70L452.06 59.60L454.29 58.46L456.52 57.29L458.75 56.08L460.98 54.85L463.22 53.58L465.45 52.29L467.68 50.97L469.91 49.63L472.14 48.26L474.37 46.87L476.60 45.46L478.83 44.03L481.07 42.57L483.30 41.10L485.53 39.61L487.76 38.10L489.99 36.57L492.22 35.02L494.45 33.45L496.68 31.87L498.92 30.27L501.15 28.66L503.38 27.03L505.61 25.38L507.84 23.72L510.07 22.04L512.30 20.35L514.53 18.65L516.77 16.93L519.00 15.20M431.98 67.35L434.21 67.80L436.44 68.45L438.67 69.21L440.90 70.05L443.13 70.96L445.37 71.93L447.60 72.94L449.83 74.00L452.06 75.10L454.29 76.24L456.52 77.41L458.75 78.62L460.98 79.85L463.22 81.12L465.45 82.41L467.68 83.73L469.91 85.07L472.14 86.44L474.37 87.83L476.60 89.24L478.83 90.67L481.07 92.13L483.30 93.60L485.53 95.09L487.76 96.60L489.99 98.13L492.22 99.68L494.45 101.25L496.68 102.83L498.92 104.43L501.15 106.04L503.38 107.67L505.61 109.32L507.84 110.98L510.07 112.66L512.30 114.35L514.53 116.05L516.77 117.77L519.00 119.50" stroke="#f4eef4" stroke-opacity="0.95" stroke-width="1.15" stroke-dasharray="5 4.4" fill="none"/>
<path d="M543.11 287.60L603.54 236.50M543.11 287.60L603.54 338.70" stroke="#f8f2ff" stroke-opacity="0.95" stroke-width="1.25" stroke-dasharray="4.6 3.6" fill="none"/>
<line x1="306.4" y1="15.20" x2="306.4" y2="119.50" stroke="#000" stroke-opacity="0.45" stroke-width="0.8"/>
<line x1="306.4" y1="125.50" x2="306.4" y2="230.00" stroke="#000" stroke-opacity="0.45" stroke-width="0.8"/>
<line x1="306.4" y1="236.50" x2="306.4" y2="338.70" stroke="#000" stroke-opacity="0.45" stroke-width="0.8"/>
</svg>
</body></html>
